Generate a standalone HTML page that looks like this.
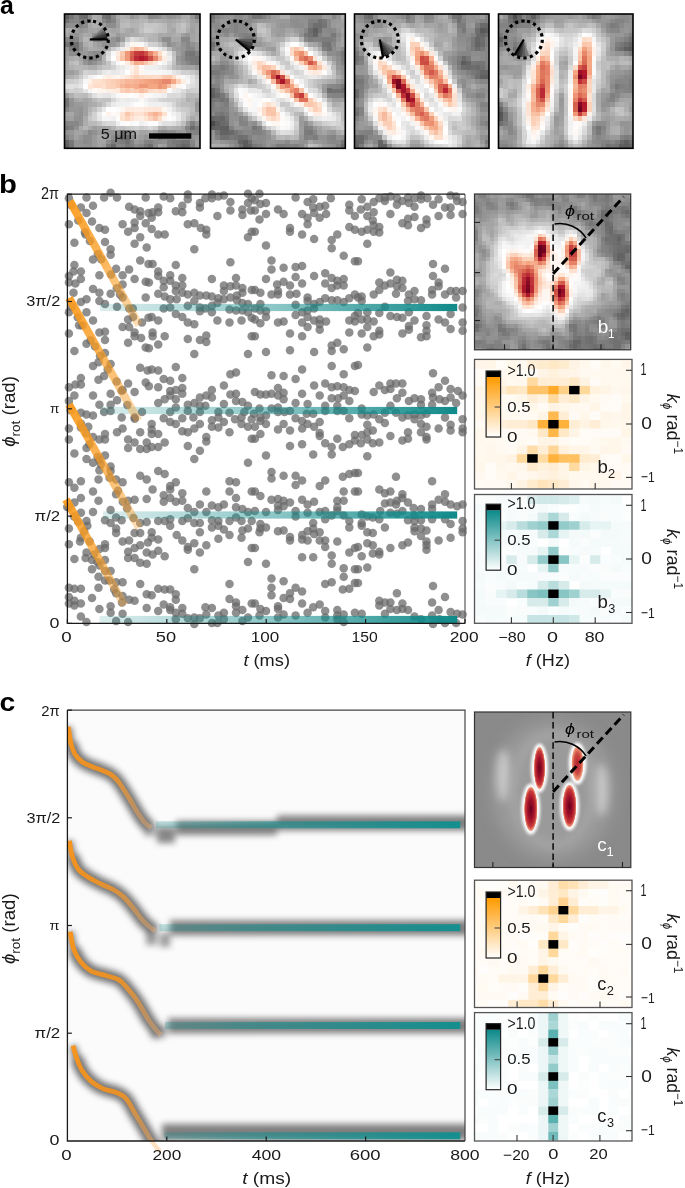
<!DOCTYPE html>
<html><head><meta charset="utf-8"><style>html,body{margin:0;padding:0;background:#fff;}svg{display:block;will-change:transform;font-family:"Liberation Sans", sans-serif;}</style></head><body>
<svg width="685" height="1188" viewBox="0 0 685 1188">
<text x="-0.05" y="13.95" font-size="25.45" textLength="13.83" lengthAdjust="spacingAndGlyphs" fill="#000" font-weight="bold">a</text>
<text x="-0.90" y="193.14" font-size="26.12" textLength="17.90" lengthAdjust="spacingAndGlyphs" fill="#000" font-weight="bold">b</text>
<text x="-0.44" y="710.94" font-size="25.82" textLength="15.83" lengthAdjust="spacingAndGlyphs" fill="#000" font-weight="bold">c</text>
<path fill="#5f5f5f" shape-rendering="crispEdges" d="M64.5 14h4.7v4.7h-4.7zM64.5 144.2h4.7v4.1h-4.7z"/>
<path fill="#757575" shape-rendering="crispEdges" d="M69.2 14h4.7v4.7h-4.7zM101.7 14h4.7v4.7h-4.7zM64.5 41.9h4.7v4.7h-4.7zM190.1 51.2h4.7v4.7h-4.7zM199.4 60.5h0.6v4.7h-0.6zM64.5 97.7h4.7v4.7h-4.7zM64.5 102.4h4.7v4.7h-4.7zM69.2 144.2h4.7v4.1h-4.7z"/>
<path fill="#878787" shape-rendering="crispEdges" d="M73.8 14h4.7v4.7h-4.7zM148.2 14h4.7v4.7h-4.7zM73.8 18.6h4.7v4.7h-4.7zM101.7 18.6h4.7v4.7h-4.7zM64.5 37.2h4.7v4.7h-4.7zM73.8 37.2h4.7v4.7h-4.7zM115.7 37.2h4.7v4.7h-4.7zM180.8 37.2h4.7v4.7h-4.7zM185.4 37.2h4.7v4.7h-4.7zM185.4 41.9h4.7v4.7h-4.7zM185.4 46.6h4.7v4.7h-4.7zM190.1 46.6h4.7v4.7h-4.7zM87.8 60.5h4.7v4.7h-4.7zM185.4 60.5h4.7v4.7h-4.7zM64.5 107h4.7v4.7h-4.7zM69.2 121h4.7v4.7h-4.7zM73.8 121h4.7v4.7h-4.7zM162.2 130.2h4.7v4.7h-4.7zM185.4 130.2h4.7v4.7h-4.7zM162.2 134.9h4.7v4.7h-4.7zM166.8 134.9h4.7v4.7h-4.7zM185.4 134.9h4.7v4.7h-4.7zM190.1 139.6h4.7v4.7h-4.7zM115.7 144.2h4.7v4.1h-4.7zM120.3 144.2h4.7v4.1h-4.7zM138.9 144.2h4.7v4.1h-4.7z"/>
<path fill="#6e6e6e" shape-rendering="crispEdges" d="M78.5 14h4.7v4.7h-4.7zM106.3 14h4.7v4.7h-4.7zM73.8 41.9h4.7v4.7h-4.7zM148.2 144.2h4.7v4.1h-4.7z"/>
<path fill="#6a6a6a" shape-rendering="crispEdges" d="M83.1 14h4.7v4.7h-4.7zM69.2 41.9h4.7v4.7h-4.7zM190.1 125.6h4.7v4.7h-4.7zM120.3 134.9h4.7v4.7h-4.7zM125 134.9h4.7v4.7h-4.7zM111 144.2h4.7v4.1h-4.7zM185.4 144.2h4.7v4.1h-4.7z"/>
<path fill="#8d8d8d" shape-rendering="crispEdges" d="M87.8 14h4.7v4.7h-4.7zM64.5 23.3h4.7v4.7h-4.7zM106.3 23.3h4.7v4.7h-4.7zM111 23.3h4.7v4.7h-4.7zM97.1 32.6h4.7v4.7h-4.7zM92.4 37.2h4.7v4.7h-4.7zM162.2 37.2h4.7v4.7h-4.7zM166.8 37.2h4.7v4.7h-4.7zM78.5 41.9h4.7v4.7h-4.7zM166.8 41.9h4.7v4.7h-4.7zM69.2 51.2h4.7v4.7h-4.7zM73.8 51.2h4.7v4.7h-4.7zM97.1 51.2h4.7v4.7h-4.7zM199.4 51.2h0.6v4.7h-0.6zM83.1 55.9h4.7v4.7h-4.7zM97.1 55.9h4.7v4.7h-4.7zM180.8 55.9h4.7v4.7h-4.7zM115.7 130.2h4.7v4.7h-4.7zM166.8 130.2h4.7v4.7h-4.7zM171.4 130.2h4.7v4.7h-4.7zM83.1 134.9h4.7v4.7h-4.7zM87.8 134.9h4.7v4.7h-4.7zM111 134.9h4.7v4.7h-4.7zM129.6 134.9h4.7v4.7h-4.7zM180.8 134.9h4.7v4.7h-4.7zM87.8 139.6h4.7v4.7h-4.7zM106.3 139.6h4.7v4.7h-4.7zM157.5 139.6h4.7v4.7h-4.7zM134.2 144.2h4.7v4.1h-4.7zM152.9 144.2h4.7v4.1h-4.7z"/>
<path fill="#adadad" shape-rendering="crispEdges" d="M92.4 14h4.7v4.7h-4.7zM185.4 14h4.7v4.7h-4.7zM129.6 18.6h4.7v4.7h-4.7zM157.5 18.6h4.7v4.7h-4.7zM176.1 18.6h4.7v4.7h-4.7zM185.4 18.6h4.7v4.7h-4.7zM97.1 23.3h4.7v4.7h-4.7zM64.5 28h4.7v4.7h-4.7zM166.8 28h4.7v4.7h-4.7zM185.4 28h4.7v4.7h-4.7zM129.6 32.6h4.7v4.7h-4.7zM134.2 32.6h4.7v4.7h-4.7zM171.4 32.6h4.7v4.7h-4.7zM83.1 41.9h4.7v4.7h-4.7zM87.8 46.6h4.7v4.7h-4.7zM101.7 51.2h4.7v4.7h-4.7zM87.8 65.2h4.7v4.7h-4.7zM92.4 65.2h4.7v4.7h-4.7zM78.5 97.7h4.7v4.7h-4.7zM92.4 102.4h4.7v4.7h-4.7zM194.7 111.7h4.7v4.7h-4.7zM83.1 121h4.7v4.7h-4.7zM199.4 121h0.6v4.7h-0.6zM176.1 125.6h4.7v4.7h-4.7zM134.2 130.2h4.7v4.7h-4.7z"/>
<path fill="#a7a7a7" shape-rendering="crispEdges" d="M97.1 14h4.7v4.7h-4.7zM115.7 14h4.7v4.7h-4.7zM97.1 18.6h4.7v4.7h-4.7zM171.4 18.6h4.7v4.7h-4.7zM87.8 23.3h4.7v4.7h-4.7zM194.7 23.3h4.7v4.7h-4.7zM92.4 28h4.7v4.7h-4.7zM115.7 28h4.7v4.7h-4.7zM171.4 28h4.7v4.7h-4.7zM64.5 32.6h4.7v4.7h-4.7zM87.8 32.6h4.7v4.7h-4.7zM125 32.6h4.7v4.7h-4.7zM157.5 32.6h4.7v4.7h-4.7zM166.8 32.6h4.7v4.7h-4.7zM194.7 32.6h4.7v4.7h-4.7zM171.4 37.2h4.7v4.7h-4.7zM176.1 37.2h4.7v4.7h-4.7zM162.2 41.9h4.7v4.7h-4.7zM64.5 60.5h4.7v4.7h-4.7zM64.5 65.2h4.7v4.7h-4.7zM180.8 65.2h4.7v4.7h-4.7zM73.8 69.8h4.7v4.7h-4.7zM199.4 69.8h0.6v4.7h-0.6zM73.8 97.7h4.7v4.7h-4.7zM194.7 97.7h4.7v4.7h-4.7zM69.2 111.7h4.7v4.7h-4.7zM106.3 125.6h4.7v4.7h-4.7zM97.1 134.9h4.7v4.7h-4.7zM199.4 144.2h0.6v4.1h-0.6z"/>
<path fill="#8a8a8a" shape-rendering="crispEdges" d="M111 14h4.7v4.7h-4.7zM152.9 14h4.7v4.7h-4.7zM83.1 23.3h4.7v4.7h-4.7zM78.5 46.6h4.7v4.7h-4.7zM92.4 51.2h4.7v4.7h-4.7zM87.8 130.2h4.7v4.7h-4.7zM157.5 130.2h4.7v4.7h-4.7zM199.4 134.9h0.6v4.7h-0.6zM83.1 139.6h4.7v4.7h-4.7zM152.9 139.6h4.7v4.7h-4.7z"/>
<path fill="#b0b0b0" shape-rendering="crispEdges" d="M120.3 14h4.7v4.7h-4.7zM134.2 18.6h4.7v4.7h-4.7zM152.9 18.6h4.7v4.7h-4.7zM92.4 23.3h4.7v4.7h-4.7zM171.4 23.3h4.7v4.7h-4.7zM199.4 23.3h0.6v4.7h-0.6zM134.2 28h4.7v4.7h-4.7zM199.4 28h0.6v4.7h-0.6zM176.1 32.6h4.7v4.7h-4.7zM87.8 37.2h4.7v4.7h-4.7zM73.8 55.9h4.7v4.7h-4.7zM101.7 60.5h4.7v4.7h-4.7zM69.2 65.2h4.7v4.7h-4.7zM176.1 65.2h4.7v4.7h-4.7zM69.2 74.5h4.7v4.7h-4.7zM69.2 93.1h4.7v4.7h-4.7zM185.4 97.7h4.7v4.7h-4.7zM157.5 125.6h4.7v4.7h-4.7zM171.4 125.6h4.7v4.7h-4.7z"/>
<path fill="#aaaaaa" shape-rendering="crispEdges" d="M125 14h4.7v4.7h-4.7zM138.9 14h4.7v4.7h-4.7zM180.8 14h4.7v4.7h-4.7zM148.2 18.6h4.7v4.7h-4.7zM162.2 18.6h4.7v4.7h-4.7zM166.8 23.3h4.7v4.7h-4.7zM69.2 28h4.7v4.7h-4.7zM101.7 28h4.7v4.7h-4.7zM106.3 28h4.7v4.7h-4.7zM125 28h4.7v4.7h-4.7zM194.7 28h4.7v4.7h-4.7zM83.1 32.6h4.7v4.7h-4.7zM101.7 32.6h4.7v4.7h-4.7zM111 32.6h4.7v4.7h-4.7zM162.2 32.6h4.7v4.7h-4.7zM194.7 37.2h4.7v4.7h-4.7zM92.4 46.6h4.7v4.7h-4.7zM69.2 55.9h4.7v4.7h-4.7zM78.5 60.5h4.7v4.7h-4.7zM64.5 74.5h4.7v4.7h-4.7zM87.8 97.7h4.7v4.7h-4.7zM87.8 102.4h4.7v4.7h-4.7zM83.1 116.3h4.7v4.7h-4.7zM190.1 116.3h4.7v4.7h-4.7zM78.5 125.6h4.7v4.7h-4.7zM87.8 125.6h4.7v4.7h-4.7zM162.2 125.6h4.7v4.7h-4.7zM148.2 130.2h4.7v4.7h-4.7z"/>
<path fill="#949494" shape-rendering="crispEdges" d="M129.6 14h4.7v4.7h-4.7zM171.4 14h4.7v4.7h-4.7zM190.1 14h4.7v4.7h-4.7zM78.5 28h4.7v4.7h-4.7zM73.8 32.6h4.7v4.7h-4.7zM199.4 32.6h0.6v4.7h-0.6zM111 37.2h4.7v4.7h-4.7zM106.3 41.9h4.7v4.7h-4.7zM64.5 46.6h4.7v4.7h-4.7zM180.8 46.6h4.7v4.7h-4.7zM83.1 60.5h4.7v4.7h-4.7zM69.2 97.7h4.7v4.7h-4.7zM199.4 97.7h0.6v4.7h-0.6zM78.5 107h4.7v4.7h-4.7zM78.5 121h4.7v4.7h-4.7zM194.7 121h4.7v4.7h-4.7zM143.6 134.9h4.7v4.7h-4.7zM73.8 139.6h4.7v4.7h-4.7zM138.9 139.6h4.7v4.7h-4.7zM73.8 144.2h4.7v4.1h-4.7zM78.5 144.2h4.7v4.1h-4.7z"/>
<path fill="#9d9d9d" shape-rendering="crispEdges" d="M134.2 14h4.7v4.7h-4.7zM73.8 28h4.7v4.7h-4.7zM120.3 37.2h4.7v4.7h-4.7zM97.1 41.9h4.7v4.7h-4.7zM176.1 60.5h4.7v4.7h-4.7zM64.5 69.8h4.7v4.7h-4.7zM69.2 69.8h4.7v4.7h-4.7zM64.5 116.3h4.7v4.7h-4.7zM92.4 125.6h4.7v4.7h-4.7zM83.1 130.2h4.7v4.7h-4.7zM97.1 130.2h4.7v4.7h-4.7zM129.6 130.2h4.7v4.7h-4.7zM106.3 134.9h4.7v4.7h-4.7zM138.9 134.9h4.7v4.7h-4.7zM194.7 139.6h4.7v4.7h-4.7zM101.7 144.2h4.7v4.1h-4.7zM162.2 144.2h4.7v4.1h-4.7zM194.7 144.2h4.7v4.1h-4.7z"/>
<path fill="#a4a4a4" shape-rendering="crispEdges" d="M143.6 14h4.7v4.7h-4.7zM166.8 18.6h4.7v4.7h-4.7zM190.1 23.3h4.7v4.7h-4.7zM87.8 28h4.7v4.7h-4.7zM111 28h4.7v4.7h-4.7zM129.6 28h4.7v4.7h-4.7zM120.3 32.6h4.7v4.7h-4.7zM190.1 32.6h4.7v4.7h-4.7zM157.5 37.2h4.7v4.7h-4.7zM190.1 37.2h4.7v4.7h-4.7zM92.4 41.9h4.7v4.7h-4.7zM115.7 41.9h4.7v4.7h-4.7zM97.1 46.6h4.7v4.7h-4.7zM199.4 46.6h0.6v4.7h-0.6zM78.5 55.9h4.7v4.7h-4.7zM185.4 65.2h4.7v4.7h-4.7zM190.1 65.2h4.7v4.7h-4.7zM83.1 97.7h4.7v4.7h-4.7zM64.5 111.7h4.7v4.7h-4.7zM199.4 111.7h0.6v4.7h-0.6zM97.1 125.6h4.7v4.7h-4.7zM180.8 125.6h4.7v4.7h-4.7zM73.8 130.2h4.7v4.7h-4.7zM78.5 130.2h4.7v4.7h-4.7zM138.9 130.2h4.7v4.7h-4.7zM143.6 130.2h4.7v4.7h-4.7zM101.7 134.9h4.7v4.7h-4.7zM134.2 134.9h4.7v4.7h-4.7zM97.1 139.6h4.7v4.7h-4.7zM101.7 139.6h4.7v4.7h-4.7zM199.4 139.6h0.6v4.7h-0.6zM97.1 144.2h4.7v4.1h-4.7zM157.5 144.2h4.7v4.1h-4.7z"/>
<path fill="#919191" shape-rendering="crispEdges" d="M157.5 14h4.7v4.7h-4.7zM166.8 14h4.7v4.7h-4.7zM69.2 23.3h4.7v4.7h-4.7zM73.8 23.3h4.7v4.7h-4.7zM92.4 32.6h4.7v4.7h-4.7zM199.4 37.2h0.6v4.7h-0.6zM101.7 41.9h4.7v4.7h-4.7zM180.8 41.9h4.7v4.7h-4.7zM190.1 41.9h4.7v4.7h-4.7zM87.8 51.2h4.7v4.7h-4.7zM180.8 51.2h4.7v4.7h-4.7zM92.4 60.5h4.7v4.7h-4.7zM180.8 60.5h4.7v4.7h-4.7zM199.4 65.2h0.6v4.7h-0.6zM69.2 102.4h4.7v4.7h-4.7zM78.5 111.7h4.7v4.7h-4.7zM73.8 116.3h4.7v4.7h-4.7zM78.5 116.3h4.7v4.7h-4.7zM73.8 125.6h4.7v4.7h-4.7zM199.4 125.6h0.6v4.7h-0.6zM64.5 130.2h4.7v4.7h-4.7zM92.4 130.2h4.7v4.7h-4.7zM69.2 134.9h4.7v4.7h-4.7zM152.9 134.9h4.7v4.7h-4.7zM176.1 134.9h4.7v4.7h-4.7zM190.1 134.9h4.7v4.7h-4.7zM78.5 139.6h4.7v4.7h-4.7zM162.2 139.6h4.7v4.7h-4.7zM83.1 144.2h4.7v4.1h-4.7zM87.8 144.2h4.7v4.1h-4.7z"/>
<path fill="#9a9a9a" shape-rendering="crispEdges" d="M162.2 14h4.7v4.7h-4.7zM176.1 14h4.7v4.7h-4.7zM87.8 18.6h4.7v4.7h-4.7zM101.7 23.3h4.7v4.7h-4.7zM83.1 28h4.7v4.7h-4.7zM69.2 32.6h4.7v4.7h-4.7zM115.7 32.6h4.7v4.7h-4.7zM194.7 41.9h4.7v4.7h-4.7zM176.1 46.6h4.7v4.7h-4.7zM64.5 51.2h4.7v4.7h-4.7zM83.1 51.2h4.7v4.7h-4.7zM194.7 65.2h4.7v4.7h-4.7zM64.5 93.1h4.7v4.7h-4.7zM73.8 102.4h4.7v4.7h-4.7zM78.5 102.4h4.7v4.7h-4.7zM194.7 107h4.7v4.7h-4.7zM185.4 121h4.7v4.7h-4.7zM180.8 130.2h4.7v4.7h-4.7zM92.4 134.9h4.7v4.7h-4.7zM148.2 134.9h4.7v4.7h-4.7zM92.4 139.6h4.7v4.7h-4.7zM134.2 139.6h4.7v4.7h-4.7zM92.4 144.2h4.7v4.1h-4.7z"/>
<path fill="#787878" shape-rendering="crispEdges" d="M194.7 14h4.7v4.7h-4.7zM199.4 14h0.6v4.7h-0.6zM106.3 18.6h4.7v4.7h-4.7zM185.4 51.2h4.7v4.7h-4.7zM190.1 55.9h4.7v4.7h-4.7zM194.7 55.9h4.7v4.7h-4.7zM194.7 60.5h4.7v4.7h-4.7zM64.5 125.6h4.7v4.7h-4.7zM199.4 130.2h0.6v4.7h-0.6zM69.2 139.6h4.7v4.7h-4.7zM171.4 139.6h4.7v4.7h-4.7zM176.1 139.6h4.7v4.7h-4.7zM125 144.2h4.7v4.1h-4.7zM143.6 144.2h4.7v4.1h-4.7z"/>
<path fill="#717171" shape-rendering="crispEdges" d="M64.5 18.6h4.7v4.7h-4.7zM73.8 46.6h4.7v4.7h-4.7zM199.4 102.4h0.6v4.7h-0.6zM120.3 130.2h4.7v4.7h-4.7zM125 139.6h4.7v4.7h-4.7zM180.8 139.6h4.7v4.7h-4.7zM185.4 139.6h4.7v4.7h-4.7zM176.1 144.2h4.7v4.1h-4.7z"/>
<path fill="#838383" shape-rendering="crispEdges" d="M69.2 18.6h4.7v4.7h-4.7zM111 18.6h4.7v4.7h-4.7zM78.5 23.3h4.7v4.7h-4.7zM97.1 37.2h4.7v4.7h-4.7zM194.7 51.2h4.7v4.7h-4.7zM64.5 121h4.7v4.7h-4.7zM185.4 125.6h4.7v4.7h-4.7zM190.1 130.2h4.7v4.7h-4.7zM64.5 134.9h4.7v4.7h-4.7zM171.4 134.9h4.7v4.7h-4.7zM129.6 139.6h4.7v4.7h-4.7zM143.6 139.6h4.7v4.7h-4.7zM190.1 144.2h4.7v4.1h-4.7z"/>
<path fill="#7c7c7c" shape-rendering="crispEdges" d="M78.5 18.6h4.7v4.7h-4.7zM83.1 18.6h4.7v4.7h-4.7zM69.2 46.6h4.7v4.7h-4.7zM87.8 55.9h4.7v4.7h-4.7zM185.4 55.9h4.7v4.7h-4.7zM199.4 55.9h0.6v4.7h-0.6zM190.1 60.5h4.7v4.7h-4.7zM199.4 107h0.6v4.7h-0.6zM194.7 125.6h4.7v4.7h-4.7zM111 139.6h4.7v4.7h-4.7zM120.3 139.6h4.7v4.7h-4.7zM106.3 144.2h4.7v4.1h-4.7zM171.4 144.2h4.7v4.1h-4.7z"/>
<path fill="#b4b4b4" shape-rendering="crispEdges" d="M92.4 18.6h4.7v4.7h-4.7zM120.3 18.6h4.7v4.7h-4.7zM138.9 18.6h4.7v4.7h-4.7zM180.8 18.6h4.7v4.7h-4.7zM129.6 23.3h4.7v4.7h-4.7zM134.2 23.3h4.7v4.7h-4.7zM185.4 23.3h4.7v4.7h-4.7zM120.3 28h4.7v4.7h-4.7zM106.3 32.6h4.7v4.7h-4.7zM138.9 32.6h4.7v4.7h-4.7zM152.9 32.6h4.7v4.7h-4.7zM148.2 37.2h4.7v4.7h-4.7zM152.9 37.2h4.7v4.7h-4.7zM87.8 41.9h4.7v4.7h-4.7zM106.3 46.6h4.7v4.7h-4.7zM101.7 55.9h4.7v4.7h-4.7zM83.1 65.2h4.7v4.7h-4.7zM199.4 93.1h0.6v4.7h-0.6zM190.1 97.7h4.7v4.7h-4.7zM87.8 107h4.7v4.7h-4.7zM194.7 116.3h4.7v4.7h-4.7zM111 125.6h4.7v4.7h-4.7zM166.8 125.6h4.7v4.7h-4.7z"/>
<path fill="#a0a0a0" shape-rendering="crispEdges" d="M115.7 18.6h4.7v4.7h-4.7zM190.1 18.6h4.7v4.7h-4.7zM115.7 23.3h4.7v4.7h-4.7zM97.1 28h4.7v4.7h-4.7zM190.1 28h4.7v4.7h-4.7zM78.5 32.6h4.7v4.7h-4.7zM180.8 32.6h4.7v4.7h-4.7zM78.5 37.2h4.7v4.7h-4.7zM106.3 37.2h4.7v4.7h-4.7zM176.1 41.9h4.7v4.7h-4.7zM83.1 46.6h4.7v4.7h-4.7zM101.7 46.6h4.7v4.7h-4.7zM171.4 46.6h4.7v4.7h-4.7zM176.1 51.2h4.7v4.7h-4.7zM64.5 55.9h4.7v4.7h-4.7zM97.1 60.5h4.7v4.7h-4.7zM83.1 102.4h4.7v4.7h-4.7zM83.1 107h4.7v4.7h-4.7zM83.1 111.7h4.7v4.7h-4.7zM69.2 116.3h4.7v4.7h-4.7zM101.7 125.6h4.7v4.7h-4.7zM152.9 130.2h4.7v4.7h-4.7zM73.8 134.9h4.7v4.7h-4.7z"/>
<path fill="#b7b7b7" shape-rendering="crispEdges" d="M125 18.6h4.7v4.7h-4.7zM143.6 18.6h4.7v4.7h-4.7zM148.2 32.6h4.7v4.7h-4.7zM83.1 37.2h4.7v4.7h-4.7zM73.8 65.2h4.7v4.7h-4.7zM78.5 65.2h4.7v4.7h-4.7zM97.1 102.4h4.7v4.7h-4.7zM190.1 102.4h4.7v4.7h-4.7zM190.1 111.7h4.7v4.7h-4.7zM83.1 125.6h4.7v4.7h-4.7z"/>
<path fill="#979797" shape-rendering="crispEdges" d="M194.7 18.6h4.7v4.7h-4.7zM199.4 18.6h0.6v4.7h-0.6zM185.4 32.6h4.7v4.7h-4.7zM101.7 37.2h4.7v4.7h-4.7zM111 41.9h4.7v4.7h-4.7zM171.4 41.9h4.7v4.7h-4.7zM199.4 41.9h0.6v4.7h-0.6zM194.7 46.6h4.7v4.7h-4.7zM78.5 51.2h4.7v4.7h-4.7zM176.1 55.9h4.7v4.7h-4.7zM194.7 102.4h4.7v4.7h-4.7zM69.2 107h4.7v4.7h-4.7zM73.8 107h4.7v4.7h-4.7zM73.8 111.7h4.7v4.7h-4.7zM69.2 130.2h4.7v4.7h-4.7zM101.7 130.2h4.7v4.7h-4.7zM106.3 130.2h4.7v4.7h-4.7zM111 130.2h4.7v4.7h-4.7zM176.1 130.2h4.7v4.7h-4.7zM78.5 134.9h4.7v4.7h-4.7zM194.7 134.9h4.7v4.7h-4.7z"/>
<path fill="#bababa" shape-rendering="crispEdges" d="M120.3 23.3h4.7v4.7h-4.7zM162.2 23.3h4.7v4.7h-4.7zM176.1 23.3h4.7v4.7h-4.7zM176.1 28h4.7v4.7h-4.7zM143.6 32.6h4.7v4.7h-4.7zM69.2 60.5h4.7v4.7h-4.7zM97.1 65.2h4.7v4.7h-4.7zM171.4 65.2h4.7v4.7h-4.7zM73.8 74.5h4.7v4.7h-4.7zM83.1 93.1h4.7v4.7h-4.7zM185.4 93.1h4.7v4.7h-4.7zM190.1 93.1h4.7v4.7h-4.7zM92.4 97.7h4.7v4.7h-4.7zM87.8 121h4.7v4.7h-4.7zM92.4 121h4.7v4.7h-4.7z"/>
<path fill="#bcbcbc" shape-rendering="crispEdges" d="M125 23.3h4.7v4.7h-4.7zM138.9 23.3h4.7v4.7h-4.7zM162.2 28h4.7v4.7h-4.7zM166.8 46.6h4.7v4.7h-4.7zM78.5 69.8h4.7v4.7h-4.7zM194.7 69.8h4.7v4.7h-4.7zM78.5 93.1h4.7v4.7h-4.7zM194.7 93.1h4.7v4.7h-4.7zM180.8 102.4h4.7v4.7h-4.7zM185.4 102.4h4.7v4.7h-4.7zM190.1 107h4.7v4.7h-4.7zM87.8 111.7h4.7v4.7h-4.7zM185.4 116.3h4.7v4.7h-4.7zM199.4 116.3h0.6v4.7h-0.6z"/>
<path fill="#c8c8c8" shape-rendering="crispEdges" d="M143.6 23.3h4.7v4.7h-4.7zM125 37.2h4.7v4.7h-4.7zM190.1 69.8h4.7v4.7h-4.7zM64.5 88.4h4.7v4.7h-4.7zM176.1 97.7h4.7v4.7h-4.7zM185.4 107h4.7v4.7h-4.7zM185.4 111.7h4.7v4.7h-4.7zM125 125.6h4.7v4.7h-4.7z"/>
<path fill="#c6c6c6" shape-rendering="crispEdges" d="M148.2 23.3h4.7v4.7h-4.7zM152.9 23.3h4.7v4.7h-4.7zM171.4 55.9h4.7v4.7h-4.7zM106.3 65.2h4.7v4.7h-4.7zM87.8 116.3h4.7v4.7h-4.7z"/>
<path fill="#c1c1c1" shape-rendering="crispEdges" d="M157.5 23.3h4.7v4.7h-4.7zM138.9 28h4.7v4.7h-4.7zM157.5 41.9h4.7v4.7h-4.7zM171.4 51.2h4.7v4.7h-4.7zM73.8 60.5h4.7v4.7h-4.7zM171.4 60.5h4.7v4.7h-4.7zM199.4 74.5h0.6v4.7h-0.6zM101.7 97.7h4.7v4.7h-4.7zM106.3 97.7h4.7v4.7h-4.7zM180.8 97.7h4.7v4.7h-4.7zM92.4 107h4.7v4.7h-4.7zM120.3 125.6h4.7v4.7h-4.7z"/>
<path fill="#c4c4c4" shape-rendering="crispEdges" d="M180.8 23.3h4.7v4.7h-4.7zM152.9 28h4.7v4.7h-4.7zM120.3 41.9h4.7v4.7h-4.7zM106.3 60.5h4.7v4.7h-4.7zM101.7 65.2h4.7v4.7h-4.7zM199.4 88.4h0.6v4.7h-0.6zM97.1 97.7h4.7v4.7h-4.7zM101.7 102.4h4.7v4.7h-4.7zM176.1 102.4h4.7v4.7h-4.7zM97.1 121h4.7v4.7h-4.7zM115.7 125.6h4.7v4.7h-4.7z"/>
<path fill="#cdcdcd" shape-rendering="crispEdges" d="M143.6 28h4.7v4.7h-4.7zM111 46.6h4.7v4.7h-4.7zM92.4 69.8h4.7v4.7h-4.7zM194.7 74.5h4.7v4.7h-4.7zM69.2 79.1h4.7v4.7h-4.7zM199.4 83.8h0.6v4.7h-0.6zM129.6 125.6h4.7v4.7h-4.7z"/>
<path fill="#cbcbcb" shape-rendering="crispEdges" d="M148.2 28h4.7v4.7h-4.7zM138.9 37.2h4.7v4.7h-4.7zM78.5 74.5h4.7v4.7h-4.7zM64.5 79.1h4.7v4.7h-4.7zM199.4 79.1h0.6v4.7h-0.6zM185.4 88.4h4.7v4.7h-4.7zM87.8 93.1h4.7v4.7h-4.7zM180.8 107h4.7v4.7h-4.7zM138.9 125.6h4.7v4.7h-4.7z"/>
<path fill="#bfbfbf" shape-rendering="crispEdges" d="M157.5 28h4.7v4.7h-4.7zM180.8 28h4.7v4.7h-4.7zM143.6 37.2h4.7v4.7h-4.7zM73.8 93.1h4.7v4.7h-4.7zM180.8 121h4.7v4.7h-4.7z"/>
<path fill="#808080" shape-rendering="crispEdges" d="M69.2 37.2h4.7v4.7h-4.7zM92.4 55.9h4.7v4.7h-4.7zM190.1 121h4.7v4.7h-4.7zM69.2 125.6h4.7v4.7h-4.7zM125 130.2h4.7v4.7h-4.7zM194.7 130.2h4.7v4.7h-4.7zM115.7 134.9h4.7v4.7h-4.7zM157.5 134.9h4.7v4.7h-4.7zM115.7 139.6h4.7v4.7h-4.7zM148.2 139.6h4.7v4.7h-4.7zM166.8 139.6h4.7v4.7h-4.7zM129.6 144.2h4.7v4.1h-4.7zM166.8 144.2h4.7v4.1h-4.7z"/>
<path fill="#dedede" shape-rendering="crispEdges" d="M129.6 37.2h4.7v4.7h-4.7zM115.7 46.6h4.7v4.7h-4.7zM176.1 69.8h4.7v4.7h-4.7zM78.5 79.1h4.7v4.7h-4.7zM64.5 83.8h4.7v4.7h-4.7zM73.8 83.8h4.7v4.7h-4.7zM190.1 83.8h4.7v4.7h-4.7zM171.4 121h4.7v4.7h-4.7z"/>
<path fill="#d6d6d6" shape-rendering="crispEdges" d="M134.2 37.2h4.7v4.7h-4.7zM194.7 79.1h4.7v4.7h-4.7zM194.7 83.8h4.7v4.7h-4.7zM111 97.7h4.7v4.7h-4.7zM157.5 97.7h4.7v4.7h-4.7zM171.4 102.4h4.7v4.7h-4.7zM180.8 111.7h4.7v4.7h-4.7z"/>
<path fill="#ececec" shape-rendering="crispEdges" d="M125 41.9h4.7v4.7h-4.7zM171.4 88.4h4.7v4.7h-4.7zM129.6 97.7h4.7v4.7h-4.7zM162.2 102.4h4.7v4.7h-4.7zM157.5 121h4.7v4.7h-4.7z"/>
<path fill="#fef6f1" shape-rendering="crispEdges" d="M129.6 41.9h4.7v4.7h-4.7zM134.2 41.9h4.7v4.7h-4.7zM162.2 51.2h4.7v4.7h-4.7zM138.9 69.8h4.7v4.7h-4.7zM115.7 74.5h4.7v4.7h-4.7zM176.1 83.8h4.7v4.7h-4.7zM120.3 107h4.7v4.7h-4.7zM162.2 107h4.7v4.7h-4.7zM115.7 111.7h4.7v4.7h-4.7zM162.2 116.3h4.7v4.7h-4.7z"/>
<path fill="#f9f9f9" shape-rendering="crispEdges" d="M138.9 41.9h4.7v4.7h-4.7zM115.7 60.5h4.7v4.7h-4.7zM180.8 74.5h4.7v4.7h-4.7zM115.7 93.1h4.7v4.7h-4.7zM148.2 93.1h4.7v4.7h-4.7zM138.9 97.7h4.7v4.7h-4.7zM171.4 116.3h4.7v4.7h-4.7zM129.6 121h4.7v4.7h-4.7z"/>
<path fill="#e8e8e8" shape-rendering="crispEdges" d="M143.6 41.9h4.7v4.7h-4.7zM157.5 65.2h4.7v4.7h-4.7zM101.7 69.8h4.7v4.7h-4.7zM111 69.8h4.7v4.7h-4.7zM176.1 88.4h4.7v4.7h-4.7zM176.1 111.7h4.7v4.7h-4.7z"/>
<path fill="#d2d2d2" shape-rendering="crispEdges" d="M148.2 41.9h4.7v4.7h-4.7zM111 65.2h4.7v4.7h-4.7zM166.8 65.2h4.7v4.7h-4.7zM83.1 69.8h4.7v4.7h-4.7zM73.8 79.1h4.7v4.7h-4.7zM69.2 88.4h4.7v4.7h-4.7zM162.2 97.7h4.7v4.7h-4.7zM176.1 107h4.7v4.7h-4.7zM92.4 111.7h4.7v4.7h-4.7zM92.4 116.3h4.7v4.7h-4.7zM176.1 121h4.7v4.7h-4.7zM134.2 125.6h4.7v4.7h-4.7z"/>
<path fill="#cfcfcf" shape-rendering="crispEdges" d="M152.9 41.9h4.7v4.7h-4.7zM87.8 69.8h4.7v4.7h-4.7zM180.8 69.8h4.7v4.7h-4.7zM185.4 69.8h4.7v4.7h-4.7zM73.8 88.4h4.7v4.7h-4.7zM190.1 88.4h4.7v4.7h-4.7zM194.7 88.4h4.7v4.7h-4.7zM180.8 93.1h4.7v4.7h-4.7zM166.8 97.7h4.7v4.7h-4.7zM171.4 97.7h4.7v4.7h-4.7zM143.6 125.6h4.7v4.7h-4.7zM152.9 125.6h4.7v4.7h-4.7z"/>
<path fill="#eeeeee" shape-rendering="crispEdges" d="M120.3 46.6h4.7v4.7h-4.7zM152.9 65.2h4.7v4.7h-4.7zM106.3 69.8h4.7v4.7h-4.7zM111 93.1h4.7v4.7h-4.7zM162.2 93.1h4.7v4.7h-4.7zM120.3 97.7h4.7v4.7h-4.7zM134.2 97.7h4.7v4.7h-4.7z"/>
<path fill="#feefe6" shape-rendering="crispEdges" d="M125 46.6h4.7v4.7h-4.7zM129.6 69.8h4.7v4.7h-4.7zM120.3 74.5h4.7v4.7h-4.7zM106.3 88.4h4.7v4.7h-4.7zM138.9 93.1h4.7v4.7h-4.7zM138.9 116.3h4.7v4.7h-4.7z"/>
<path fill="#fbceb6" shape-rendering="crispEdges" d="M129.6 46.6h4.7v4.7h-4.7zM129.6 60.5h4.7v4.7h-4.7zM111 79.1h4.7v4.7h-4.7z"/>
<path fill="#f7b698" shape-rendering="crispEdges" d="M134.2 46.6h4.7v4.7h-4.7zM125 79.1h4.7v4.7h-4.7zM120.3 83.8h4.7v4.7h-4.7z"/>
<path fill="#f8c0a4" shape-rendering="crispEdges" d="M138.9 46.6h4.7v4.7h-4.7zM120.3 79.1h4.7v4.7h-4.7zM166.8 83.8h4.7v4.7h-4.7zM148.2 111.7h4.7v4.7h-4.7zM157.5 111.7h4.7v4.7h-4.7z"/>
<path fill="#fdddca" shape-rendering="crispEdges" d="M143.6 46.6h4.7v4.7h-4.7zM152.9 74.5h4.7v4.7h-4.7zM171.4 74.5h4.7v4.7h-4.7zM92.4 83.8h4.7v4.7h-4.7zM148.2 88.4h4.7v4.7h-4.7zM157.5 116.3h4.7v4.7h-4.7z"/>
<path fill="#fff8f4" shape-rendering="crispEdges" d="M148.2 46.6h4.7v4.7h-4.7zM143.6 93.1h4.7v4.7h-4.7z"/>
<path fill="#f5f5f5" shape-rendering="crispEdges" d="M152.9 46.6h4.7v4.7h-4.7zM162.2 69.8h4.7v4.7h-4.7zM87.8 88.4h4.7v4.7h-4.7zM101.7 116.3h4.7v4.7h-4.7zM106.3 116.3h4.7v4.7h-4.7zM143.6 121h4.7v4.7h-4.7z"/>
<path fill="#eaeaea" shape-rendering="crispEdges" d="M157.5 46.6h4.7v4.7h-4.7zM120.3 65.2h4.7v4.7h-4.7zM115.7 69.8h4.7v4.7h-4.7zM97.1 93.1h4.7v4.7h-4.7zM125 97.7h4.7v4.7h-4.7zM111 102.4h4.7v4.7h-4.7zM101.7 107h4.7v4.7h-4.7zM97.1 111.7h4.7v4.7h-4.7zM176.1 116.3h4.7v4.7h-4.7z"/>
<path fill="#dbdbdb" shape-rendering="crispEdges" d="M162.2 46.6h4.7v4.7h-4.7zM180.8 88.4h4.7v4.7h-4.7zM166.8 93.1h4.7v4.7h-4.7zM176.1 93.1h4.7v4.7h-4.7z"/>
<path fill="#d9d9d9" shape-rendering="crispEdges" d="M106.3 51.2h4.7v4.7h-4.7zM97.1 69.8h4.7v4.7h-4.7zM171.4 93.1h4.7v4.7h-4.7zM106.3 102.4h4.7v4.7h-4.7zM106.3 121h4.7v4.7h-4.7zM111 121h4.7v4.7h-4.7zM148.2 125.6h4.7v4.7h-4.7z"/>
<path fill="#f7f7f7" shape-rendering="crispEdges" d="M111 51.2h4.7v4.7h-4.7zM143.6 69.8h4.7v4.7h-4.7zM148.2 69.8h4.7v4.7h-4.7zM152.9 69.8h4.7v4.7h-4.7zM157.5 69.8h4.7v4.7h-4.7zM92.4 74.5h4.7v4.7h-4.7zM83.1 79.1h4.7v4.7h-4.7zM185.4 79.1h4.7v4.7h-4.7zM129.6 102.4h4.7v4.7h-4.7zM143.6 102.4h4.7v4.7h-4.7z"/>
<path fill="#feebe0" shape-rendering="crispEdges" d="M115.7 51.2h4.7v4.7h-4.7zM152.9 60.5h4.7v4.7h-4.7zM125 107h4.7v4.7h-4.7zM129.6 107h4.7v4.7h-4.7zM134.2 116.3h4.7v4.7h-4.7z"/>
<path fill="#facab1" shape-rendering="crispEdges" d="M120.3 51.2h4.7v4.7h-4.7zM162.2 74.5h4.7v4.7h-4.7zM134.2 88.4h4.7v4.7h-4.7z"/>
<path fill="#ee9878" shape-rendering="crispEdges" d="M125 51.2h4.7v4.7h-4.7zM125 55.9h4.7v4.7h-4.7zM138.9 83.8h4.7v4.7h-4.7zM143.6 83.8h4.7v4.7h-4.7z"/>
<path fill="#d86450" shape-rendering="crispEdges" d="M129.6 51.2h4.7v4.7h-4.7z"/>
<path fill="#c43c3c" shape-rendering="crispEdges" d="M134.2 51.2h4.7v4.7h-4.7z"/>
<path fill="#c03338" shape-rendering="crispEdges" d="M138.9 51.2h4.7v4.7h-4.7z"/>
<path fill="#cd4e44" shape-rendering="crispEdges" d="M143.6 51.2h4.7v4.7h-4.7zM148.2 55.9h4.7v4.7h-4.7z"/>
<path fill="#e58268" shape-rendering="crispEdges" d="M148.2 51.2h4.7v4.7h-4.7z"/>
<path fill="#f6af8f" shape-rendering="crispEdges" d="M152.9 51.2h4.7v4.7h-4.7zM138.9 60.5h4.7v4.7h-4.7zM129.6 83.8h4.7v4.7h-4.7z"/>
<path fill="#fddbc7" shape-rendering="crispEdges" d="M157.5 51.2h4.7v4.7h-4.7zM148.2 60.5h4.7v4.7h-4.7zM129.6 74.5h4.7v4.7h-4.7zM143.6 74.5h4.7v4.7h-4.7zM148.2 74.5h4.7v4.7h-4.7zM157.5 74.5h4.7v4.7h-4.7zM101.7 79.1h4.7v4.7h-4.7zM97.1 83.8h4.7v4.7h-4.7zM157.5 88.4h4.7v4.7h-4.7z"/>
<path fill="#e6e6e6" shape-rendering="crispEdges" d="M166.8 51.2h4.7v4.7h-4.7zM171.4 69.8h4.7v4.7h-4.7zM78.5 83.8h4.7v4.7h-4.7zM101.7 93.1h4.7v4.7h-4.7zM115.7 97.7h4.7v4.7h-4.7zM148.2 97.7h4.7v4.7h-4.7zM166.8 102.4h4.7v4.7h-4.7zM97.1 116.3h4.7v4.7h-4.7z"/>
<path fill="#e0e0e0" shape-rendering="crispEdges" d="M106.3 55.9h4.7v4.7h-4.7zM166.8 60.5h4.7v4.7h-4.7zM162.2 65.2h4.7v4.7h-4.7zM83.1 74.5h4.7v4.7h-4.7zM190.1 74.5h4.7v4.7h-4.7zM69.2 83.8h4.7v4.7h-4.7zM92.4 93.1h4.7v4.7h-4.7zM162.2 121h4.7v4.7h-4.7z"/>
<path fill="#ffffff" shape-rendering="crispEdges" d="M111 55.9h4.7v4.7h-4.7zM125 69.8h4.7v4.7h-4.7zM97.1 74.5h4.7v4.7h-4.7zM106.3 107h4.7v4.7h-4.7zM111 107h4.7v4.7h-4.7zM152.9 121h4.7v4.7h-4.7z"/>
<path fill="#fee4d5" shape-rendering="crispEdges" d="M115.7 55.9h4.7v4.7h-4.7zM134.2 65.2h4.7v4.7h-4.7zM171.4 83.8h4.7v4.7h-4.7zM152.9 107h4.7v4.7h-4.7zM120.3 111.7h4.7v4.7h-4.7zM143.6 116.3h4.7v4.7h-4.7z"/>
<path fill="#f9c3a9" shape-rendering="crispEdges" d="M120.3 55.9h4.7v4.7h-4.7zM157.5 55.9h4.7v4.7h-4.7zM152.9 116.3h4.7v4.7h-4.7z"/>
<path fill="#d45b4b" shape-rendering="crispEdges" d="M129.6 55.9h4.7v4.7h-4.7z"/>
<path fill="#bb2a34" shape-rendering="crispEdges" d="M134.2 55.9h4.7v4.7h-4.7z"/>
<path fill="#b2182b" shape-rendering="crispEdges" d="M138.9 55.9h4.7v4.7h-4.7z"/>
<path fill="#b92631" shape-rendering="crispEdges" d="M143.6 55.9h4.7v4.7h-4.7z"/>
<path fill="#e7876b" shape-rendering="crispEdges" d="M152.9 55.9h4.7v4.7h-4.7zM162.2 79.1h4.7v4.7h-4.7zM166.8 79.1h4.7v4.7h-4.7z"/>
<path fill="#feede3" shape-rendering="crispEdges" d="M162.2 55.9h4.7v4.7h-4.7zM125 60.5h4.7v4.7h-4.7zM106.3 74.5h4.7v4.7h-4.7zM180.8 79.1h4.7v4.7h-4.7zM111 88.4h4.7v4.7h-4.7zM134.2 107h4.7v4.7h-4.7zM138.9 107h4.7v4.7h-4.7z"/>
<path fill="#f0f0f0" shape-rendering="crispEdges" d="M166.8 55.9h4.7v4.7h-4.7zM148.2 65.2h4.7v4.7h-4.7zM120.3 69.8h4.7v4.7h-4.7zM87.8 74.5h4.7v4.7h-4.7zM185.4 74.5h4.7v4.7h-4.7zM115.7 102.4h4.7v4.7h-4.7zM148.2 102.4h4.7v4.7h-4.7zM152.9 102.4h4.7v4.7h-4.7zM157.5 102.4h4.7v4.7h-4.7zM115.7 121h4.7v4.7h-4.7zM138.9 121h4.7v4.7h-4.7z"/>
<path fill="#e2e2e2" shape-rendering="crispEdges" d="M111 60.5h4.7v4.7h-4.7zM152.9 97.7h4.7v4.7h-4.7zM171.4 107h4.7v4.7h-4.7zM166.8 121h4.7v4.7h-4.7z"/>
<path fill="#fffdfc" shape-rendering="crispEdges" d="M120.3 60.5h4.7v4.7h-4.7zM157.5 60.5h4.7v4.7h-4.7zM138.9 102.4h4.7v4.7h-4.7zM101.7 111.7h4.7v4.7h-4.7zM166.8 111.7h4.7v4.7h-4.7zM115.7 116.3h4.7v4.7h-4.7zM125 121h4.7v4.7h-4.7z"/>
<path fill="#f5ac8b" shape-rendering="crispEdges" d="M134.2 60.5h4.7v4.7h-4.7zM138.9 79.1h4.7v4.7h-4.7zM125 83.8h4.7v4.7h-4.7zM134.2 83.8h4.7v4.7h-4.7z"/>
<path fill="#fac7ad" shape-rendering="crispEdges" d="M143.6 60.5h4.7v4.7h-4.7zM166.8 74.5h4.7v4.7h-4.7zM115.7 79.1h4.7v4.7h-4.7zM115.7 83.8h4.7v4.7h-4.7zM125 88.4h4.7v4.7h-4.7zM143.6 88.4h4.7v4.7h-4.7zM125 111.7h4.7v4.7h-4.7z"/>
<path fill="#f3f3f3" shape-rendering="crispEdges" d="M162.2 60.5h4.7v4.7h-4.7zM125 65.2h4.7v4.7h-4.7zM166.8 69.8h4.7v4.7h-4.7zM152.9 93.1h4.7v4.7h-4.7zM157.5 93.1h4.7v4.7h-4.7zM166.8 107h4.7v4.7h-4.7z"/>
<path fill="#e4e4e4" shape-rendering="crispEdges" d="M115.7 65.2h4.7v4.7h-4.7zM190.1 79.1h4.7v4.7h-4.7zM185.4 83.8h4.7v4.7h-4.7zM83.1 88.4h4.7v4.7h-4.7zM106.3 93.1h4.7v4.7h-4.7z"/>
<path fill="#fef2ea" shape-rendering="crispEdges" d="M129.6 65.2h4.7v4.7h-4.7zM111 74.5h4.7v4.7h-4.7zM176.1 74.5h4.7v4.7h-4.7zM87.8 79.1h4.7v4.7h-4.7zM106.3 111.7h4.7v4.7h-4.7z"/>
<path fill="#fffaf8" shape-rendering="crispEdges" d="M138.9 65.2h4.7v4.7h-4.7zM92.4 88.4h4.7v4.7h-4.7zM120.3 93.1h4.7v4.7h-4.7zM125 93.1h4.7v4.7h-4.7zM134.2 93.1h4.7v4.7h-4.7zM111 111.7h4.7v4.7h-4.7z"/>
<path fill="#f1f1f1" shape-rendering="crispEdges" d="M143.6 65.2h4.7v4.7h-4.7zM143.6 97.7h4.7v4.7h-4.7zM120.3 102.4h4.7v4.7h-4.7zM125 102.4h4.7v4.7h-4.7zM171.4 111.7h4.7v4.7h-4.7zM111 116.3h4.7v4.7h-4.7z"/>
<path fill="#fde2d2" shape-rendering="crispEdges" d="M134.2 69.8h4.7v4.7h-4.7zM92.4 79.1h4.7v4.7h-4.7zM162.2 88.4h4.7v4.7h-4.7zM134.2 111.7h4.7v4.7h-4.7zM138.9 111.7h4.7v4.7h-4.7zM162.2 111.7h4.7v4.7h-4.7zM120.3 116.3h4.7v4.7h-4.7zM129.6 116.3h4.7v4.7h-4.7z"/>
<path fill="#fef4ee" shape-rendering="crispEdges" d="M101.7 74.5h4.7v4.7h-4.7zM97.1 88.4h4.7v4.7h-4.7zM101.7 88.4h4.7v4.7h-4.7z"/>
<path fill="#fee6d8" shape-rendering="crispEdges" d="M125 74.5h4.7v4.7h-4.7zM87.8 83.8h4.7v4.7h-4.7zM115.7 88.4h4.7v4.7h-4.7zM148.2 107h4.7v4.7h-4.7zM157.5 107h4.7v4.7h-4.7z"/>
<path fill="#fbd1ba" shape-rendering="crispEdges" d="M134.2 74.5h4.7v4.7h-4.7zM176.1 79.1h4.7v4.7h-4.7zM111 83.8h4.7v4.7h-4.7zM120.3 88.4h4.7v4.7h-4.7zM129.6 88.4h4.7v4.7h-4.7z"/>
<path fill="#fcd8c3" shape-rendering="crispEdges" d="M138.9 74.5h4.7v4.7h-4.7zM129.6 111.7h4.7v4.7h-4.7z"/>
<path fill="#fde0ce" shape-rendering="crispEdges" d="M97.1 79.1h4.7v4.7h-4.7zM101.7 83.8h4.7v4.7h-4.7zM152.9 88.4h4.7v4.7h-4.7z"/>
<path fill="#fcd4be" shape-rendering="crispEdges" d="M106.3 79.1h4.7v4.7h-4.7zM106.3 83.8h4.7v4.7h-4.7zM143.6 111.7h4.7v4.7h-4.7zM125 116.3h4.7v4.7h-4.7zM148.2 116.3h4.7v4.7h-4.7z"/>
<path fill="#f7b99c" shape-rendering="crispEdges" d="M129.6 79.1h4.7v4.7h-4.7z"/>
<path fill="#f6b293" shape-rendering="crispEdges" d="M134.2 79.1h4.7v4.7h-4.7zM152.9 111.7h4.7v4.7h-4.7z"/>
<path fill="#f4a582" shape-rendering="crispEdges" d="M143.6 79.1h4.7v4.7h-4.7z"/>
<path fill="#f2a17f" shape-rendering="crispEdges" d="M148.2 79.1h4.7v4.7h-4.7zM162.2 83.8h4.7v4.7h-4.7z"/>
<path fill="#f09c7b" shape-rendering="crispEdges" d="M152.9 79.1h4.7v4.7h-4.7z"/>
<path fill="#ec9475" shape-rendering="crispEdges" d="M157.5 79.1h4.7v4.7h-4.7zM157.5 83.8h4.7v4.7h-4.7z"/>
<path fill="#f5a886" shape-rendering="crispEdges" d="M171.4 79.1h4.7v4.7h-4.7zM148.2 83.8h4.7v4.7h-4.7zM152.9 83.8h4.7v4.7h-4.7z"/>
<path fill="#fdfdfd" shape-rendering="crispEdges" d="M83.1 83.8h4.7v4.7h-4.7zM129.6 93.1h4.7v4.7h-4.7zM134.2 102.4h4.7v4.7h-4.7zM166.8 116.3h4.7v4.7h-4.7zM148.2 121h4.7v4.7h-4.7z"/>
<path fill="#fbfbfb" shape-rendering="crispEdges" d="M180.8 83.8h4.7v4.7h-4.7zM166.8 88.4h4.7v4.7h-4.7zM115.7 107h4.7v4.7h-4.7zM120.3 121h4.7v4.7h-4.7zM134.2 121h4.7v4.7h-4.7z"/>
<path fill="#d4d4d4" shape-rendering="crispEdges" d="M78.5 88.4h4.7v4.7h-4.7zM97.1 107h4.7v4.7h-4.7zM180.8 116.3h4.7v4.7h-4.7zM101.7 121h4.7v4.7h-4.7z"/>
<path fill="#f8bda0" shape-rendering="crispEdges" d="M138.9 88.4h4.7v4.7h-4.7z"/>
<path fill="#fee8dc" shape-rendering="crispEdges" d="M143.6 107h4.7v4.7h-4.7z"/>
<path fill="#636363" shape-rendering="crispEdges" d="M64.5 139.6h4.7v4.7h-4.7z"/>
<path fill="#666666" shape-rendering="crispEdges" d="M180.8 144.2h4.7v4.1h-4.7z"/>
<rect x="64.5" y="14" width="135.5" height="134.3" fill="none" stroke="#000" stroke-width="1.6"/>
<path fill="#717171" shape-rendering="crispEdges" d="M210.5 14h4.7v4.7h-4.7zM317.4 18.6h4.7v4.7h-4.7zM317.4 28h4.7v4.7h-4.7zM308.1 32.6h4.7v4.7h-4.7zM210.5 41.9h4.7v4.7h-4.7zM326.8 41.9h4.7v4.7h-4.7zM331.4 88.4h4.7v4.7h-4.7zM336.1 88.4h4.7v4.7h-4.7zM219.8 97.7h4.7v4.7h-4.7zM219.8 134.9h4.7v4.7h-4.7zM224.4 134.9h4.7v4.7h-4.7zM243.1 134.9h4.7v4.7h-4.7zM238.4 144.2h4.7v4.1h-4.7z"/>
<path fill="#838383" shape-rendering="crispEdges" d="M215.2 14h4.7v4.7h-4.7zM233.8 23.3h4.7v4.7h-4.7zM219.8 28h4.7v4.7h-4.7zM224.4 28h4.7v4.7h-4.7zM233.8 28h4.7v4.7h-4.7zM238.4 32.6h4.7v4.7h-4.7zM247.7 32.6h4.7v4.7h-4.7zM243.1 37.2h4.7v4.7h-4.7zM340.7 60.5h4.6v4.7h-4.6zM210.5 65.2h4.7v4.7h-4.7zM215.2 83.8h4.7v4.7h-4.7zM336.1 83.8h4.7v4.7h-4.7zM331.4 93.1h4.7v4.7h-4.7zM336.1 93.1h4.7v4.7h-4.7zM219.8 102.4h4.7v4.7h-4.7zM215.2 107h4.7v4.7h-4.7zM224.4 107h4.7v4.7h-4.7zM238.4 116.3h4.7v4.7h-4.7zM238.4 121h4.7v4.7h-4.7zM243.1 121h4.7v4.7h-4.7zM308.1 125.6h4.7v4.7h-4.7zM308.1 134.9h4.7v4.7h-4.7zM331.4 134.9h4.7v4.7h-4.7zM233.8 139.6h4.7v4.7h-4.7zM289.6 144.2h4.7v4.1h-4.7zM336.1 144.2h4.7v4.1h-4.7z"/>
<path fill="#8d8d8d" shape-rendering="crispEdges" d="M219.8 14h4.7v4.7h-4.7zM266.3 14h4.7v4.7h-4.7zM303.5 14h4.7v4.7h-4.7zM215.2 18.6h4.7v4.7h-4.7zM229.1 18.6h4.7v4.7h-4.7zM238.4 18.6h4.7v4.7h-4.7zM289.6 18.6h4.7v4.7h-4.7zM294.2 18.6h4.7v4.7h-4.7zM294.2 23.3h4.7v4.7h-4.7zM298.9 23.3h4.7v4.7h-4.7zM322.1 32.6h4.7v4.7h-4.7zM336.1 32.6h4.7v4.7h-4.7zM331.4 46.6h4.7v4.7h-4.7zM340.7 46.6h4.6v4.7h-4.6zM326.8 51.2h4.7v4.7h-4.7zM331.4 51.2h4.7v4.7h-4.7zM336.1 55.9h4.7v4.7h-4.7zM224.4 60.5h4.7v4.7h-4.7zM229.1 65.2h4.7v4.7h-4.7zM233.8 111.7h4.7v4.7h-4.7zM243.1 116.3h4.7v4.7h-4.7zM252.3 121h4.7v4.7h-4.7zM303.5 121h4.7v4.7h-4.7zM243.1 125.6h4.7v4.7h-4.7zM247.7 125.6h4.7v4.7h-4.7zM252.3 134.9h4.7v4.7h-4.7zM261.6 139.6h4.7v4.7h-4.7zM270.9 144.2h4.7v4.1h-4.7z"/>
<path fill="#919191" shape-rendering="crispEdges" d="M224.4 14h4.7v4.7h-4.7zM294.2 14h4.7v4.7h-4.7zM298.9 14h4.7v4.7h-4.7zM252.3 18.6h4.7v4.7h-4.7zM298.9 18.6h4.7v4.7h-4.7zM303.5 18.6h4.7v4.7h-4.7zM247.7 23.3h4.7v4.7h-4.7zM289.6 23.3h4.7v4.7h-4.7zM303.5 23.3h4.7v4.7h-4.7zM247.7 28h4.7v4.7h-4.7zM252.3 32.6h4.7v4.7h-4.7zM298.9 32.6h4.7v4.7h-4.7zM336.1 60.5h4.7v4.7h-4.7zM340.7 65.2h4.6v4.7h-4.6zM229.1 74.5h4.7v4.7h-4.7zM210.5 79.1h4.7v4.7h-4.7zM219.8 79.1h4.7v4.7h-4.7zM340.7 79.1h4.6v4.7h-4.6zM219.8 88.4h4.7v4.7h-4.7zM224.4 93.1h4.7v4.7h-4.7zM229.1 111.7h4.7v4.7h-4.7zM229.1 116.3h4.7v4.7h-4.7zM233.8 116.3h4.7v4.7h-4.7zM229.1 121h4.7v4.7h-4.7zM210.5 130.2h4.7v4.7h-4.7zM266.3 134.9h4.7v4.7h-4.7zM317.4 134.9h4.7v4.7h-4.7zM322.1 134.9h4.7v4.7h-4.7zM340.7 134.9h4.6v4.7h-4.6zM224.4 139.6h4.7v4.7h-4.7zM298.9 139.6h4.7v4.7h-4.7zM303.5 139.6h4.7v4.7h-4.7zM331.4 144.2h4.7v4.1h-4.7z"/>
<path fill="#949494" shape-rendering="crispEdges" d="M229.1 14h4.7v4.7h-4.7zM243.1 14h4.7v4.7h-4.7zM289.6 14h4.7v4.7h-4.7zM336.1 14h4.7v4.7h-4.7zM219.8 23.3h4.7v4.7h-4.7zM224.4 23.3h4.7v4.7h-4.7zM280.2 23.3h4.7v4.7h-4.7zM210.5 28h4.7v4.7h-4.7zM298.9 28h4.7v4.7h-4.7zM219.8 32.6h4.7v4.7h-4.7zM238.4 37.2h4.7v4.7h-4.7zM336.1 37.2h4.7v4.7h-4.7zM252.3 41.9h4.7v4.7h-4.7zM317.4 41.9h4.7v4.7h-4.7zM215.2 46.6h4.7v4.7h-4.7zM340.7 69.8h4.6v4.7h-4.6zM229.1 107h4.7v4.7h-4.7zM247.7 121h4.7v4.7h-4.7zM233.8 125.6h4.7v4.7h-4.7zM238.4 125.6h4.7v4.7h-4.7zM210.5 134.9h4.7v4.7h-4.7zM336.1 134.9h4.7v4.7h-4.7zM219.8 139.6h4.7v4.7h-4.7zM275.6 139.6h4.7v4.7h-4.7zM280.2 139.6h4.7v4.7h-4.7zM322.1 139.6h4.7v4.7h-4.7zM229.1 144.2h4.7v4.1h-4.7z"/>
<path fill="#8a8a8a" shape-rendering="crispEdges" d="M233.8 14h4.7v4.7h-4.7zM238.4 14h4.7v4.7h-4.7zM308.1 14h4.7v4.7h-4.7zM312.8 14h4.7v4.7h-4.7zM317.4 14h4.7v4.7h-4.7zM243.1 18.6h4.7v4.7h-4.7zM247.7 18.6h4.7v4.7h-4.7zM326.8 18.6h4.7v4.7h-4.7zM210.5 23.3h4.7v4.7h-4.7zM215.2 23.3h4.7v4.7h-4.7zM229.1 23.3h4.7v4.7h-4.7zM238.4 23.3h4.7v4.7h-4.7zM326.8 23.3h4.7v4.7h-4.7zM229.1 28h4.7v4.7h-4.7zM238.4 28h4.7v4.7h-4.7zM243.1 28h4.7v4.7h-4.7zM322.1 28h4.7v4.7h-4.7zM331.4 28h4.7v4.7h-4.7zM224.4 32.6h4.7v4.7h-4.7zM233.8 32.6h4.7v4.7h-4.7zM326.8 32.6h4.7v4.7h-4.7zM215.2 41.9h4.7v4.7h-4.7zM219.8 60.5h4.7v4.7h-4.7zM229.1 69.8h4.7v4.7h-4.7zM219.8 74.5h4.7v4.7h-4.7zM326.8 83.8h4.7v4.7h-4.7zM215.2 102.4h4.7v4.7h-4.7zM257 134.9h4.7v4.7h-4.7zM261.6 134.9h4.7v4.7h-4.7zM229.1 139.6h4.7v4.7h-4.7zM257 139.6h4.7v4.7h-4.7zM284.9 139.6h4.7v4.7h-4.7zM326.8 139.6h4.7v4.7h-4.7zM336.1 139.6h4.7v4.7h-4.7zM261.6 144.2h4.7v4.1h-4.7zM298.9 144.2h4.7v4.1h-4.7z"/>
<path fill="#878787" shape-rendering="crispEdges" d="M247.7 14h4.7v4.7h-4.7zM331.4 14h4.7v4.7h-4.7zM233.8 18.6h4.7v4.7h-4.7zM243.1 23.3h4.7v4.7h-4.7zM215.2 28h4.7v4.7h-4.7zM303.5 28h4.7v4.7h-4.7zM326.8 28h4.7v4.7h-4.7zM210.5 37.2h4.7v4.7h-4.7zM252.3 37.2h4.7v4.7h-4.7zM303.5 37.2h4.7v4.7h-4.7zM331.4 41.9h4.7v4.7h-4.7zM336.1 51.2h4.7v4.7h-4.7zM224.4 69.8h4.7v4.7h-4.7zM210.5 74.5h4.7v4.7h-4.7zM215.2 79.1h4.7v4.7h-4.7zM331.4 83.8h4.7v4.7h-4.7zM326.8 93.1h4.7v4.7h-4.7zM210.5 111.7h4.7v4.7h-4.7zM243.1 130.2h4.7v4.7h-4.7zM247.7 130.2h4.7v4.7h-4.7zM261.6 130.2h4.7v4.7h-4.7zM312.8 130.2h4.7v4.7h-4.7zM326.8 134.9h4.7v4.7h-4.7zM252.3 139.6h4.7v4.7h-4.7zM331.4 139.6h4.7v4.7h-4.7zM233.8 144.2h4.7v4.1h-4.7z"/>
<path fill="#757575" shape-rendering="crispEdges" d="M252.3 14h4.7v4.7h-4.7zM257 14h4.7v4.7h-4.7zM322.1 23.3h4.7v4.7h-4.7zM322.1 41.9h4.7v4.7h-4.7zM326.8 46.6h4.7v4.7h-4.7zM215.2 88.4h4.7v4.7h-4.7zM210.5 97.7h4.7v4.7h-4.7zM219.8 111.7h4.7v4.7h-4.7zM224.4 116.3h4.7v4.7h-4.7zM252.3 125.6h4.7v4.7h-4.7zM215.2 130.2h4.7v4.7h-4.7zM233.8 130.2h4.7v4.7h-4.7zM233.8 134.9h4.7v4.7h-4.7zM340.7 139.6h4.6v4.7h-4.6z"/>
<path fill="#808080" shape-rendering="crispEdges" d="M261.6 14h4.7v4.7h-4.7zM308.1 18.6h4.7v4.7h-4.7zM312.8 18.6h4.7v4.7h-4.7zM243.1 32.6h4.7v4.7h-4.7zM317.4 32.6h4.7v4.7h-4.7zM312.8 37.2h4.7v4.7h-4.7zM317.4 37.2h4.7v4.7h-4.7zM331.4 37.2h4.7v4.7h-4.7zM322.1 46.6h4.7v4.7h-4.7zM215.2 65.2h4.7v4.7h-4.7zM224.4 65.2h4.7v4.7h-4.7zM219.8 69.8h4.7v4.7h-4.7zM215.2 74.5h4.7v4.7h-4.7zM210.5 83.8h4.7v4.7h-4.7zM340.7 93.1h4.6v4.7h-4.6zM210.5 107h4.7v4.7h-4.7zM219.8 107h4.7v4.7h-4.7zM229.1 125.6h4.7v4.7h-4.7zM257 125.6h4.7v4.7h-4.7zM303.5 125.6h4.7v4.7h-4.7zM238.4 130.2h4.7v4.7h-4.7zM252.3 130.2h4.7v4.7h-4.7zM257 130.2h4.7v4.7h-4.7zM215.2 134.9h4.7v4.7h-4.7zM247.7 134.9h4.7v4.7h-4.7zM303.5 134.9h4.7v4.7h-4.7zM257 144.2h4.7v4.1h-4.7zM284.9 144.2h4.7v4.1h-4.7zM294.2 144.2h4.7v4.1h-4.7z"/>
<path fill="#9a9a9a" shape-rendering="crispEdges" d="M270.9 14h4.7v4.7h-4.7zM322.1 14h4.7v4.7h-4.7zM326.8 14h4.7v4.7h-4.7zM266.3 18.6h4.7v4.7h-4.7zM275.6 18.6h4.7v4.7h-4.7zM280.2 18.6h4.7v4.7h-4.7zM284.9 18.6h4.7v4.7h-4.7zM336.1 18.6h4.7v4.7h-4.7zM275.6 23.3h4.7v4.7h-4.7zM331.4 23.3h4.7v4.7h-4.7zM280.2 28h4.7v4.7h-4.7zM294.2 28h4.7v4.7h-4.7zM229.1 32.6h4.7v4.7h-4.7zM275.6 32.6h4.7v4.7h-4.7zM270.9 46.6h4.7v4.7h-4.7zM224.4 55.9h4.7v4.7h-4.7zM331.4 55.9h4.7v4.7h-4.7zM215.2 60.5h4.7v4.7h-4.7zM336.1 79.1h4.7v4.7h-4.7zM322.1 83.8h4.7v4.7h-4.7zM229.1 102.4h4.7v4.7h-4.7zM238.4 111.7h4.7v4.7h-4.7zM233.8 121h4.7v4.7h-4.7zM298.9 121h4.7v4.7h-4.7zM326.8 130.2h4.7v4.7h-4.7zM210.5 139.6h4.7v4.7h-4.7zM289.6 139.6h4.7v4.7h-4.7zM312.8 139.6h4.7v4.7h-4.7zM317.4 139.6h4.7v4.7h-4.7z"/>
<path fill="#9d9d9d" shape-rendering="crispEdges" d="M275.6 14h4.7v4.7h-4.7zM270.9 18.6h4.7v4.7h-4.7zM336.1 23.3h4.7v4.7h-4.7zM340.7 23.3h4.6v4.7h-4.6zM252.3 28h4.7v4.7h-4.7zM275.6 28h4.7v4.7h-4.7zM280.2 32.6h4.7v4.7h-4.7zM340.7 32.6h4.6v4.7h-4.6zM336.1 41.9h4.7v4.7h-4.7zM266.3 46.6h4.7v4.7h-4.7zM224.4 51.2h4.7v4.7h-4.7zM229.1 60.5h4.7v4.7h-4.7zM233.8 69.8h4.7v4.7h-4.7zM340.7 74.5h4.6v4.7h-4.6zM331.4 97.7h4.7v4.7h-4.7zM336.1 97.7h4.7v4.7h-4.7zM233.8 107h4.7v4.7h-4.7zM298.9 116.3h4.7v4.7h-4.7zM298.9 125.6h4.7v4.7h-4.7zM298.9 130.2h4.7v4.7h-4.7zM317.4 130.2h4.7v4.7h-4.7zM215.2 139.6h4.7v4.7h-4.7zM322.1 144.2h4.7v4.1h-4.7z"/>
<path fill="#adadad" shape-rendering="crispEdges" d="M280.2 14h4.7v4.7h-4.7zM284.9 14h4.7v4.7h-4.7zM266.3 23.3h4.7v4.7h-4.7zM229.1 37.2h4.7v4.7h-4.7zM275.6 37.2h4.7v4.7h-4.7zM270.9 41.9h4.7v4.7h-4.7zM215.2 55.9h4.7v4.7h-4.7zM238.4 69.8h4.7v4.7h-4.7zM238.4 74.5h4.7v4.7h-4.7zM336.1 74.5h4.7v4.7h-4.7zM326.8 79.1h4.7v4.7h-4.7zM224.4 88.4h4.7v4.7h-4.7zM326.8 97.7h4.7v4.7h-4.7zM331.4 102.4h4.7v4.7h-4.7zM257 121h4.7v4.7h-4.7zM261.6 125.6h4.7v4.7h-4.7zM317.4 144.2h4.7v4.1h-4.7z"/>
<path fill="#b0b0b0" shape-rendering="crispEdges" d="M340.7 14h4.6v4.7h-4.6zM289.6 32.6h4.7v4.7h-4.7zM261.6 37.2h4.7v4.7h-4.7zM270.9 37.2h4.7v4.7h-4.7zM280.2 37.2h4.7v4.7h-4.7zM238.4 41.9h4.7v4.7h-4.7zM229.1 46.6h4.7v4.7h-4.7zM257 46.6h4.7v4.7h-4.7zM336.1 102.4h4.7v4.7h-4.7zM247.7 116.3h4.7v4.7h-4.7zM303.5 116.3h4.7v4.7h-4.7zM322.1 125.6h4.7v4.7h-4.7zM210.5 144.2h4.7v4.1h-4.7z"/>
<path fill="#7c7c7c" shape-rendering="crispEdges" d="M210.5 18.6h4.7v4.7h-4.7zM308.1 23.3h4.7v4.7h-4.7zM247.7 37.2h4.7v4.7h-4.7zM308.1 37.2h4.7v4.7h-4.7zM322.1 37.2h4.7v4.7h-4.7zM326.8 37.2h4.7v4.7h-4.7zM210.5 46.6h4.7v4.7h-4.7zM340.7 55.9h4.6v4.7h-4.6zM210.5 102.4h4.7v4.7h-4.7zM224.4 102.4h4.7v4.7h-4.7zM224.4 111.7h4.7v4.7h-4.7zM303.5 130.2h4.7v4.7h-4.7zM312.8 134.9h4.7v4.7h-4.7zM275.6 144.2h4.7v4.1h-4.7zM280.2 144.2h4.7v4.1h-4.7z"/>
<path fill="#979797" shape-rendering="crispEdges" d="M219.8 18.6h4.7v4.7h-4.7zM224.4 18.6h4.7v4.7h-4.7zM257 18.6h4.7v4.7h-4.7zM261.6 18.6h4.7v4.7h-4.7zM331.4 18.6h4.7v4.7h-4.7zM284.9 23.3h4.7v4.7h-4.7zM336.1 28h4.7v4.7h-4.7zM210.5 32.6h4.7v4.7h-4.7zM215.2 32.6h4.7v4.7h-4.7zM215.2 37.2h4.7v4.7h-4.7zM257 41.9h4.7v4.7h-4.7zM336.1 46.6h4.7v4.7h-4.7zM219.8 55.9h4.7v4.7h-4.7zM336.1 65.2h4.7v4.7h-4.7zM224.4 74.5h4.7v4.7h-4.7zM233.8 74.5h4.7v4.7h-4.7zM219.8 83.8h4.7v4.7h-4.7zM322.1 88.4h4.7v4.7h-4.7zM312.8 125.6h4.7v4.7h-4.7zM266.3 130.2h4.7v4.7h-4.7zM331.4 130.2h4.7v4.7h-4.7zM298.9 134.9h4.7v4.7h-4.7zM266.3 139.6h4.7v4.7h-4.7zM270.9 139.6h4.7v4.7h-4.7zM294.2 139.6h4.7v4.7h-4.7zM266.3 144.2h4.7v4.1h-4.7zM326.8 144.2h4.7v4.1h-4.7z"/>
<path fill="#787878" shape-rendering="crispEdges" d="M322.1 18.6h4.7v4.7h-4.7zM303.5 32.6h4.7v4.7h-4.7zM331.4 32.6h4.7v4.7h-4.7zM340.7 51.2h4.6v4.7h-4.6zM219.8 65.2h4.7v4.7h-4.7zM210.5 69.8h4.7v4.7h-4.7zM215.2 69.8h4.7v4.7h-4.7zM340.7 83.8h4.6v4.7h-4.6zM219.8 93.1h4.7v4.7h-4.7zM215.2 97.7h4.7v4.7h-4.7zM224.4 97.7h4.7v4.7h-4.7zM215.2 111.7h4.7v4.7h-4.7zM308.1 130.2h4.7v4.7h-4.7zM229.1 134.9h4.7v4.7h-4.7zM252.3 144.2h4.7v4.1h-4.7z"/>
<path fill="#a4a4a4" shape-rendering="crispEdges" d="M340.7 18.6h4.6v4.7h-4.6zM270.9 23.3h4.7v4.7h-4.7zM284.9 28h4.7v4.7h-4.7zM289.6 28h4.7v4.7h-4.7zM340.7 28h4.6v4.7h-4.6zM270.9 32.6h4.7v4.7h-4.7zM340.7 37.2h4.6v4.7h-4.6zM312.8 41.9h4.7v4.7h-4.7zM340.7 41.9h4.6v4.7h-4.6zM219.8 46.6h4.7v4.7h-4.7zM219.8 51.2h4.7v4.7h-4.7zM210.5 60.5h4.7v4.7h-4.7zM229.1 97.7h4.7v4.7h-4.7zM317.4 125.6h4.7v4.7h-4.7zM322.1 130.2h4.7v4.7h-4.7zM224.4 144.2h4.7v4.1h-4.7z"/>
<path fill="#a7a7a7" shape-rendering="crispEdges" d="M252.3 23.3h4.7v4.7h-4.7zM294.2 32.6h4.7v4.7h-4.7zM219.8 37.2h4.7v4.7h-4.7zM224.4 37.2h4.7v4.7h-4.7zM233.8 37.2h4.7v4.7h-4.7zM243.1 41.9h4.7v4.7h-4.7zM266.3 41.9h4.7v4.7h-4.7zM261.6 46.6h4.7v4.7h-4.7zM210.5 51.2h4.7v4.7h-4.7zM322.1 51.2h4.7v4.7h-4.7zM229.1 79.1h4.7v4.7h-4.7zM247.7 79.1h4.7v4.7h-4.7zM308.1 139.6h4.7v4.7h-4.7z"/>
<path fill="#bfbfbf" shape-rendering="crispEdges" d="M257 23.3h4.7v4.7h-4.7zM229.1 41.9h4.7v4.7h-4.7zM229.1 83.8h4.7v4.7h-4.7zM336.1 107h4.7v4.7h-4.7z"/>
<path fill="#bababa" shape-rendering="crispEdges" d="M261.6 23.3h4.7v4.7h-4.7zM266.3 28h4.7v4.7h-4.7zM266.3 32.6h4.7v4.7h-4.7zM266.3 37.2h4.7v4.7h-4.7zM233.8 41.9h4.7v4.7h-4.7zM275.6 41.9h4.7v4.7h-4.7zM275.6 46.6h4.7v4.7h-4.7zM266.3 51.2h4.7v4.7h-4.7zM210.5 55.9h4.7v4.7h-4.7zM243.1 79.1h4.7v4.7h-4.7zM229.1 93.1h4.7v4.7h-4.7zM340.7 107h4.6v4.7h-4.6zM294.2 111.7h4.7v4.7h-4.7zM312.8 121h4.7v4.7h-4.7zM280.2 134.9h4.7v4.7h-4.7zM312.8 144.2h4.7v4.1h-4.7z"/>
<path fill="#6e6e6e" shape-rendering="crispEdges" d="M312.8 23.3h4.7v4.7h-4.7zM317.4 23.3h4.7v4.7h-4.7zM308.1 28h4.7v4.7h-4.7zM326.8 88.4h4.7v4.7h-4.7zM340.7 88.4h4.6v4.7h-4.6zM224.4 121h4.7v4.7h-4.7zM238.4 134.9h4.7v4.7h-4.7zM247.7 139.6h4.7v4.7h-4.7z"/>
<path fill="#c4c4c4" shape-rendering="crispEdges" d="M257 28h4.7v4.7h-4.7zM233.8 51.2h4.7v4.7h-4.7zM331.4 69.8h4.7v4.7h-4.7zM247.7 74.5h4.7v4.7h-4.7zM312.8 79.1h4.7v4.7h-4.7zM247.7 83.8h4.7v4.7h-4.7zM252.3 83.8h4.7v4.7h-4.7zM312.8 83.8h4.7v4.7h-4.7zM229.1 88.4h4.7v4.7h-4.7zM317.4 88.4h4.7v4.7h-4.7zM331.4 107h4.7v4.7h-4.7zM294.2 130.2h4.7v4.7h-4.7z"/>
<path fill="#c8c8c8" shape-rendering="crispEdges" d="M261.6 28h4.7v4.7h-4.7zM238.4 46.6h4.7v4.7h-4.7zM233.8 55.9h4.7v4.7h-4.7zM280.2 55.9h4.7v4.7h-4.7zM238.4 60.5h4.7v4.7h-4.7zM284.9 60.5h4.7v4.7h-4.7zM243.1 65.2h4.7v4.7h-4.7zM280.2 102.4h4.7v4.7h-4.7zM289.6 107h4.7v4.7h-4.7zM252.3 116.3h4.7v4.7h-4.7zM294.2 116.3h4.7v4.7h-4.7z"/>
<path fill="#a0a0a0" shape-rendering="crispEdges" d="M270.9 28h4.7v4.7h-4.7zM257 37.2h4.7v4.7h-4.7zM247.7 41.9h4.7v4.7h-4.7zM261.6 41.9h4.7v4.7h-4.7zM233.8 65.2h4.7v4.7h-4.7zM336.1 69.8h4.7v4.7h-4.7zM340.7 97.7h4.6v4.7h-4.6zM308.1 121h4.7v4.7h-4.7zM270.9 134.9h4.7v4.7h-4.7zM303.5 144.2h4.7v4.1h-4.7z"/>
<path fill="#5f5f5f" shape-rendering="crispEdges" d="M312.8 28h4.7v4.7h-4.7zM210.5 93.1h4.7v4.7h-4.7zM215.2 121h4.7v4.7h-4.7zM210.5 125.6h4.7v4.7h-4.7zM219.8 125.6h4.7v4.7h-4.7zM224.4 125.6h4.7v4.7h-4.7z"/>
<path fill="#b7b7b7" shape-rendering="crispEdges" d="M257 32.6h4.7v4.7h-4.7zM252.3 46.6h4.7v4.7h-4.7zM275.6 51.2h4.7v4.7h-4.7zM233.8 60.5h4.7v4.7h-4.7zM340.7 102.4h4.6v4.7h-4.6zM243.1 111.7h4.7v4.7h-4.7zM270.9 130.2h4.7v4.7h-4.7zM275.6 134.9h4.7v4.7h-4.7zM294.2 134.9h4.7v4.7h-4.7z"/>
<path fill="#c1c1c1" shape-rendering="crispEdges" d="M261.6 32.6h4.7v4.7h-4.7zM243.1 69.8h4.7v4.7h-4.7zM331.4 74.5h4.7v4.7h-4.7zM238.4 107h4.7v4.7h-4.7zM317.4 121h4.7v4.7h-4.7zM308.1 144.2h4.7v4.1h-4.7z"/>
<path fill="#aaaaaa" shape-rendering="crispEdges" d="M284.9 32.6h4.7v4.7h-4.7zM219.8 41.9h4.7v4.7h-4.7zM308.1 41.9h4.7v4.7h-4.7zM224.4 46.6h4.7v4.7h-4.7zM317.4 46.6h4.7v4.7h-4.7zM215.2 51.2h4.7v4.7h-4.7zM229.1 51.2h4.7v4.7h-4.7zM270.9 51.2h4.7v4.7h-4.7zM229.1 55.9h4.7v4.7h-4.7zM326.8 55.9h4.7v4.7h-4.7zM331.4 60.5h4.7v4.7h-4.7zM224.4 79.1h4.7v4.7h-4.7zM233.8 79.1h4.7v4.7h-4.7zM331.4 79.1h4.7v4.7h-4.7zM336.1 130.2h4.7v4.7h-4.7zM215.2 144.2h4.7v4.1h-4.7zM219.8 144.2h4.7v4.1h-4.7z"/>
<path fill="#636363" shape-rendering="crispEdges" d="M312.8 32.6h4.7v4.7h-4.7zM210.5 88.4h4.7v4.7h-4.7zM215.2 125.6h4.7v4.7h-4.7zM219.8 130.2h4.7v4.7h-4.7zM224.4 130.2h4.7v4.7h-4.7zM247.7 144.2h4.7v4.1h-4.7z"/>
<path fill="#c6c6c6" shape-rendering="crispEdges" d="M284.9 37.2h4.7v4.7h-4.7zM303.5 41.9h4.7v4.7h-4.7zM312.8 46.6h4.7v4.7h-4.7zM275.6 55.9h4.7v4.7h-4.7zM340.7 121h4.6v4.7h-4.6zM336.1 125.6h4.7v4.7h-4.7z"/>
<path fill="#d4d4d4" shape-rendering="crispEdges" d="M289.6 37.2h4.7v4.7h-4.7zM294.2 37.2h4.7v4.7h-4.7zM294.2 69.8h4.7v4.7h-4.7zM252.3 74.5h4.7v4.7h-4.7zM294.2 121h4.7v4.7h-4.7zM326.8 121h4.7v4.7h-4.7zM336.1 121h4.7v4.7h-4.7zM275.6 130.2h4.7v4.7h-4.7z"/>
<path fill="#b4b4b4" shape-rendering="crispEdges" d="M298.9 37.2h4.7v4.7h-4.7zM224.4 41.9h4.7v4.7h-4.7zM238.4 65.2h4.7v4.7h-4.7zM238.4 79.1h4.7v4.7h-4.7zM252.3 79.1h4.7v4.7h-4.7zM322.1 79.1h4.7v4.7h-4.7zM224.4 83.8h4.7v4.7h-4.7zM317.4 83.8h4.7v4.7h-4.7zM322.1 93.1h4.7v4.7h-4.7zM233.8 102.4h4.7v4.7h-4.7zM298.9 111.7h4.7v4.7h-4.7zM326.8 125.6h4.7v4.7h-4.7zM340.7 130.2h4.6v4.7h-4.6zM284.9 134.9h4.7v4.7h-4.7z"/>
<path fill="#cfcfcf" shape-rendering="crispEdges" d="M280.2 41.9h4.7v4.7h-4.7zM317.4 51.2h4.7v4.7h-4.7zM326.8 60.5h4.7v4.7h-4.7zM284.9 65.2h4.7v4.7h-4.7zM308.1 79.1h4.7v4.7h-4.7zM233.8 83.8h4.7v4.7h-4.7zM308.1 83.8h4.7v4.7h-4.7zM294.2 107h4.7v4.7h-4.7zM289.6 111.7h4.7v4.7h-4.7zM322.1 121h4.7v4.7h-4.7zM266.3 125.6h4.7v4.7h-4.7zM294.2 125.6h4.7v4.7h-4.7z"/>
<path fill="#eeeeee" shape-rendering="crispEdges" d="M284.9 41.9h4.7v4.7h-4.7zM270.9 88.4h4.7v4.7h-4.7zM312.8 93.1h4.7v4.7h-4.7zM238.4 97.7h4.7v4.7h-4.7zM326.8 116.3h4.7v4.7h-4.7z"/>
<path fill="#fdfdfd" shape-rendering="crispEdges" d="M289.6 41.9h4.7v4.7h-4.7zM303.5 46.6h4.7v4.7h-4.7zM298.9 83.8h4.7v4.7h-4.7zM238.4 93.1h4.7v4.7h-4.7zM257 102.4h4.7v4.7h-4.7zM266.3 121h4.7v4.7h-4.7z"/>
<path fill="#ffffff" shape-rendering="crispEdges" d="M294.2 41.9h4.7v4.7h-4.7zM247.7 55.9h4.7v4.7h-4.7zM294.2 79.1h4.7v4.7h-4.7zM261.6 97.7h4.7v4.7h-4.7z"/>
<path fill="#eaeaea" shape-rendering="crispEdges" d="M298.9 41.9h4.7v4.7h-4.7zM289.6 60.5h4.7v4.7h-4.7zM326.8 65.2h4.7v4.7h-4.7zM308.1 74.5h4.7v4.7h-4.7zM312.8 74.5h4.7v4.7h-4.7zM261.6 79.1h4.7v4.7h-4.7zM317.4 116.3h4.7v4.7h-4.7zM331.4 116.3h4.7v4.7h-4.7z"/>
<path fill="#bcbcbc" shape-rendering="crispEdges" d="M233.8 46.6h4.7v4.7h-4.7zM331.4 65.2h4.7v4.7h-4.7zM243.1 74.5h4.7v4.7h-4.7zM317.4 79.1h4.7v4.7h-4.7zM340.7 111.7h4.6v4.7h-4.6zM340.7 116.3h4.6v4.7h-4.6zM331.4 125.6h4.7v4.7h-4.7zM289.6 134.9h4.7v4.7h-4.7z"/>
<path fill="#d2d2d2" shape-rendering="crispEdges" d="M243.1 46.6h4.7v4.7h-4.7zM257 79.1h4.7v4.7h-4.7zM261.6 83.8h4.7v4.7h-4.7zM261.6 88.4h4.7v4.7h-4.7zM266.3 88.4h4.7v4.7h-4.7zM336.1 111.7h4.7v4.7h-4.7zM308.1 116.3h4.7v4.7h-4.7z"/>
<path fill="#cdcdcd" shape-rendering="crispEdges" d="M247.7 46.6h4.7v4.7h-4.7zM261.6 51.2h4.7v4.7h-4.7zM322.1 55.9h4.7v4.7h-4.7zM280.2 60.5h4.7v4.7h-4.7zM326.8 74.5h4.7v4.7h-4.7zM233.8 97.7h4.7v4.7h-4.7zM284.9 107h4.7v4.7h-4.7z"/>
<path fill="#e2e2e2" shape-rendering="crispEdges" d="M280.2 46.6h4.7v4.7h-4.7zM317.4 74.5h4.7v4.7h-4.7zM266.3 83.8h4.7v4.7h-4.7zM303.5 83.8h4.7v4.7h-4.7zM331.4 111.7h4.7v4.7h-4.7z"/>
<path fill="#fffaf8" shape-rendering="crispEdges" d="M284.9 46.6h4.7v4.7h-4.7zM289.6 55.9h4.7v4.7h-4.7zM270.9 83.8h4.7v4.7h-4.7zM243.1 97.7h4.7v4.7h-4.7zM280.2 116.3h4.7v4.7h-4.7z"/>
<path fill="#fcd8c3" shape-rendering="crispEdges" d="M289.6 46.6h4.7v4.7h-4.7zM257 60.5h4.7v4.7h-4.7zM270.9 116.3h4.7v4.7h-4.7z"/>
<path fill="#fac7ad" shape-rendering="crispEdges" d="M294.2 46.6h4.7v4.7h-4.7zM308.1 102.4h4.7v4.7h-4.7zM270.9 107h4.7v4.7h-4.7zM266.3 111.7h4.7v4.7h-4.7z"/>
<path fill="#fdddca" shape-rendering="crispEdges" d="M298.9 46.6h4.7v4.7h-4.7zM280.2 88.4h4.7v4.7h-4.7zM317.4 107h4.7v4.7h-4.7zM261.6 111.7h4.7v4.7h-4.7z"/>
<path fill="#dbdbdb" shape-rendering="crispEdges" d="M308.1 46.6h4.7v4.7h-4.7zM247.7 69.8h4.7v4.7h-4.7zM298.9 69.8h4.7v4.7h-4.7zM322.1 97.7h4.7v4.7h-4.7zM326.8 107h4.7v4.7h-4.7z"/>
<path fill="#dedede" shape-rendering="crispEdges" d="M238.4 51.2h4.7v4.7h-4.7zM257 51.2h4.7v4.7h-4.7zM284.9 55.9h4.7v4.7h-4.7zM266.3 93.1h4.7v4.7h-4.7zM317.4 93.1h4.7v4.7h-4.7zM280.2 97.7h4.7v4.7h-4.7zM238.4 102.4h4.7v4.7h-4.7zM303.5 111.7h4.7v4.7h-4.7zM284.9 130.2h4.7v4.7h-4.7z"/>
<path fill="#ececec" shape-rendering="crispEdges" d="M243.1 51.2h4.7v4.7h-4.7zM257 74.5h4.7v4.7h-4.7zM284.9 97.7h4.7v4.7h-4.7zM275.6 102.4h4.7v4.7h-4.7zM252.3 111.7h4.7v4.7h-4.7zM289.6 125.6h4.7v4.7h-4.7z"/>
<path fill="#f0f0f0" shape-rendering="crispEdges" d="M247.7 51.2h4.7v4.7h-4.7zM284.9 69.8h4.7v4.7h-4.7zM322.1 116.3h4.7v4.7h-4.7zM289.6 121h4.7v4.7h-4.7zM275.6 125.6h4.7v4.7h-4.7z"/>
<path fill="#e8e8e8" shape-rendering="crispEdges" d="M252.3 51.2h4.7v4.7h-4.7zM275.6 60.5h4.7v4.7h-4.7zM247.7 65.2h4.7v4.7h-4.7zM280.2 65.2h4.7v4.7h-4.7zM294.2 65.2h4.7v4.7h-4.7zM247.7 88.4h4.7v4.7h-4.7zM252.3 88.4h4.7v4.7h-4.7zM257 88.4h4.7v4.7h-4.7zM261.6 93.1h4.7v4.7h-4.7zM284.9 111.7h4.7v4.7h-4.7zM257 116.3h4.7v4.7h-4.7zM289.6 116.3h4.7v4.7h-4.7z"/>
<path fill="#d6d6d6" shape-rendering="crispEdges" d="M280.2 51.2h4.7v4.7h-4.7zM270.9 55.9h4.7v4.7h-4.7zM289.6 65.2h4.7v4.7h-4.7zM322.1 74.5h4.7v4.7h-4.7zM243.1 83.8h4.7v4.7h-4.7z"/>
<path fill="#f5f5f5" shape-rendering="crispEdges" d="M284.9 51.2h4.7v4.7h-4.7zM261.6 55.9h4.7v4.7h-4.7zM247.7 60.5h4.7v4.7h-4.7zM303.5 69.8h4.7v4.7h-4.7zM322.1 102.4h4.7v4.7h-4.7zM284.9 116.3h4.7v4.7h-4.7z"/>
<path fill="#fddbc7" shape-rendering="crispEdges" d="M289.6 51.2h4.7v4.7h-4.7zM294.2 83.8h4.7v4.7h-4.7zM261.6 107h4.7v4.7h-4.7z"/>
<path fill="#f4a582" shape-rendering="crispEdges" d="M294.2 51.2h4.7v4.7h-4.7zM312.8 65.2h4.7v4.7h-4.7z"/>
<path fill="#eb8f71" shape-rendering="crispEdges" d="M298.9 51.2h4.7v4.7h-4.7zM289.6 88.4h4.7v4.7h-4.7z"/>
<path fill="#f8c0a4" shape-rendering="crispEdges" d="M303.5 51.2h4.7v4.7h-4.7zM266.3 65.2h4.7v4.7h-4.7zM294.2 97.7h4.7v4.7h-4.7z"/>
<path fill="#fffdfc" shape-rendering="crispEdges" d="M308.1 51.2h4.7v4.7h-4.7zM322.1 69.8h4.7v4.7h-4.7zM247.7 93.1h4.7v4.7h-4.7zM280.2 93.1h4.7v4.7h-4.7zM308.1 93.1h4.7v4.7h-4.7zM266.3 97.7h4.7v4.7h-4.7zM322.1 107h4.7v4.7h-4.7zM280.2 121h4.7v4.7h-4.7z"/>
<path fill="#e6e6e6" shape-rendering="crispEdges" d="M312.8 51.2h4.7v4.7h-4.7zM326.8 69.8h4.7v4.7h-4.7zM294.2 74.5h4.7v4.7h-4.7zM233.8 88.4h4.7v4.7h-4.7zM270.9 93.1h4.7v4.7h-4.7zM243.1 107h4.7v4.7h-4.7zM312.8 116.3h4.7v4.7h-4.7z"/>
<path fill="#e0e0e0" shape-rendering="crispEdges" d="M238.4 55.9h4.7v4.7h-4.7zM243.1 60.5h4.7v4.7h-4.7zM289.6 69.8h4.7v4.7h-4.7zM298.9 74.5h4.7v4.7h-4.7zM303.5 79.1h4.7v4.7h-4.7zM238.4 83.8h4.7v4.7h-4.7zM308.1 88.4h4.7v4.7h-4.7zM233.8 93.1h4.7v4.7h-4.7zM261.6 121h4.7v4.7h-4.7zM270.9 125.6h4.7v4.7h-4.7zM280.2 130.2h4.7v4.7h-4.7z"/>
<path fill="#f1f1f1" shape-rendering="crispEdges" d="M243.1 55.9h4.7v4.7h-4.7zM298.9 79.1h4.7v4.7h-4.7zM257 93.1h4.7v4.7h-4.7zM326.8 111.7h4.7v4.7h-4.7z"/>
<path fill="#fff8f4" shape-rendering="crispEdges" d="M252.3 55.9h4.7v4.7h-4.7zM257 55.9h4.7v4.7h-4.7zM266.3 60.5h4.7v4.7h-4.7zM266.3 79.1h4.7v4.7h-4.7zM289.6 97.7h4.7v4.7h-4.7zM247.7 102.4h4.7v4.7h-4.7zM257 111.7h4.7v4.7h-4.7zM322.1 111.7h4.7v4.7h-4.7z"/>
<path fill="#e4e4e4" shape-rendering="crispEdges" d="M266.3 55.9h4.7v4.7h-4.7zM303.5 74.5h4.7v4.7h-4.7zM275.6 97.7h4.7v4.7h-4.7zM289.6 102.4h4.7v4.7h-4.7zM280.2 107h4.7v4.7h-4.7z"/>
<path fill="#f8bda0" shape-rendering="crispEdges" d="M294.2 55.9h4.7v4.7h-4.7zM261.6 65.2h4.7v4.7h-4.7zM261.6 69.8h4.7v4.7h-4.7zM266.3 74.5h4.7v4.7h-4.7zM270.9 79.1h4.7v4.7h-4.7z"/>
<path fill="#e37e64" shape-rendering="crispEdges" d="M298.9 55.9h4.7v4.7h-4.7zM312.8 60.5h4.7v4.7h-4.7zM284.9 83.8h4.7v4.7h-4.7zM294.2 88.4h4.7v4.7h-4.7z"/>
<path fill="#da6954" shape-rendering="crispEdges" d="M303.5 55.9h4.7v4.7h-4.7zM270.9 69.8h4.7v4.7h-4.7z"/>
<path fill="#e98b6e" shape-rendering="crispEdges" d="M308.1 55.9h4.7v4.7h-4.7zM275.6 69.8h4.7v4.7h-4.7z"/>
<path fill="#fee4d5" shape-rendering="crispEdges" d="M312.8 55.9h4.7v4.7h-4.7zM261.6 60.5h4.7v4.7h-4.7zM280.2 69.8h4.7v4.7h-4.7zM275.6 116.3h4.7v4.7h-4.7z"/>
<path fill="#f3f3f3" shape-rendering="crispEdges" d="M317.4 55.9h4.7v4.7h-4.7zM322.1 60.5h4.7v4.7h-4.7zM298.9 65.2h4.7v4.7h-4.7zM270.9 97.7h4.7v4.7h-4.7z"/>
<path fill="#feebe0" shape-rendering="crispEdges" d="M252.3 60.5h4.7v4.7h-4.7zM322.1 65.2h4.7v4.7h-4.7zM312.8 97.7h4.7v4.7h-4.7zM270.9 102.4h4.7v4.7h-4.7z"/>
<path fill="#f9f9f9" shape-rendering="crispEdges" d="M270.9 60.5h4.7v4.7h-4.7zM252.3 69.8h4.7v4.7h-4.7zM252.3 97.7h4.7v4.7h-4.7zM257 97.7h4.7v4.7h-4.7zM317.4 97.7h4.7v4.7h-4.7zM303.5 107h4.7v4.7h-4.7zM280.2 125.6h4.7v4.7h-4.7z"/>
<path fill="#fef4ee" shape-rendering="crispEdges" d="M294.2 60.5h4.7v4.7h-4.7zM275.6 65.2h4.7v4.7h-4.7zM284.9 93.1h4.7v4.7h-4.7zM247.7 97.7h4.7v4.7h-4.7zM275.6 107h4.7v4.7h-4.7z"/>
<path fill="#fbd1ba" shape-rendering="crispEdges" d="M298.9 60.5h4.7v4.7h-4.7zM257 65.2h4.7v4.7h-4.7zM289.6 79.1h4.7v4.7h-4.7zM312.8 107h4.7v4.7h-4.7z"/>
<path fill="#f09c7b" shape-rendering="crispEdges" d="M303.5 60.5h4.7v4.7h-4.7z"/>
<path fill="#cf5347" shape-rendering="crispEdges" d="M308.1 60.5h4.7v4.7h-4.7z"/>
<path fill="#fde0ce" shape-rendering="crispEdges" d="M317.4 60.5h4.7v4.7h-4.7zM266.3 102.4h4.7v4.7h-4.7zM275.6 111.7h4.7v4.7h-4.7z"/>
<path fill="#fef2ea" shape-rendering="crispEdges" d="M252.3 65.2h4.7v4.7h-4.7zM257 107h4.7v4.7h-4.7z"/>
<path fill="#fcd4be" shape-rendering="crispEdges" d="M270.9 65.2h4.7v4.7h-4.7z"/>
<path fill="#feede3" shape-rendering="crispEdges" d="M303.5 65.2h4.7v4.7h-4.7zM261.6 74.5h4.7v4.7h-4.7zM261.6 102.4h4.7v4.7h-4.7zM312.8 111.7h4.7v4.7h-4.7zM317.4 111.7h4.7v4.7h-4.7z"/>
<path fill="#f7b698" shape-rendering="crispEdges" d="M308.1 65.2h4.7v4.7h-4.7z"/>
<path fill="#f9c3a9" shape-rendering="crispEdges" d="M317.4 65.2h4.7v4.7h-4.7zM298.9 88.4h4.7v4.7h-4.7zM289.6 93.1h4.7v4.7h-4.7zM266.3 107h4.7v4.7h-4.7zM270.9 111.7h4.7v4.7h-4.7z"/>
<path fill="#fee6d8" shape-rendering="crispEdges" d="M257 69.8h4.7v4.7h-4.7z"/>
<path fill="#ec9475" shape-rendering="crispEdges" d="M266.3 69.8h4.7v4.7h-4.7z"/>
<path fill="#feefe6" shape-rendering="crispEdges" d="M308.1 69.8h4.7v4.7h-4.7zM317.4 69.8h4.7v4.7h-4.7zM275.6 88.4h4.7v4.7h-4.7zM298.9 102.4h4.7v4.7h-4.7z"/>
<path fill="#fee8dc" shape-rendering="crispEdges" d="M312.8 69.8h4.7v4.7h-4.7zM308.1 107h4.7v4.7h-4.7z"/>
<path fill="#d25749" shape-rendering="crispEdges" d="M270.9 74.5h4.7v4.7h-4.7z"/>
<path fill="#9b1027" shape-rendering="crispEdges" d="M275.6 74.5h4.7v4.7h-4.7z"/>
<path fill="#cb4a42" shape-rendering="crispEdges" d="M280.2 74.5h4.7v4.7h-4.7zM275.6 79.1h4.7v4.7h-4.7z"/>
<path fill="#fbceb6" shape-rendering="crispEdges" d="M284.9 74.5h4.7v4.7h-4.7zM275.6 83.8h4.7v4.7h-4.7zM312.8 102.4h4.7v4.7h-4.7z"/>
<path fill="#fbfbfb" shape-rendering="crispEdges" d="M289.6 74.5h4.7v4.7h-4.7zM238.4 88.4h4.7v4.7h-4.7zM243.1 102.4h4.7v4.7h-4.7zM280.2 111.7h4.7v4.7h-4.7zM308.1 111.7h4.7v4.7h-4.7zM284.9 121h4.7v4.7h-4.7z"/>
<path fill="#ad172a" shape-rendering="crispEdges" d="M280.2 79.1h4.7v4.7h-4.7z"/>
<path fill="#d6604d" shape-rendering="crispEdges" d="M284.9 79.1h4.7v4.7h-4.7z"/>
<path fill="#cbcbcb" shape-rendering="crispEdges" d="M257 83.8h4.7v4.7h-4.7zM284.9 102.4h4.7v4.7h-4.7zM326.8 102.4h4.7v4.7h-4.7zM340.7 125.6h4.6v4.7h-4.6z"/>
<path fill="#ee9878" shape-rendering="crispEdges" d="M280.2 83.8h4.7v4.7h-4.7z"/>
<path fill="#f2a17f" shape-rendering="crispEdges" d="M289.6 83.8h4.7v4.7h-4.7z"/>
<path fill="#f7f7f7" shape-rendering="crispEdges" d="M243.1 88.4h4.7v4.7h-4.7zM303.5 88.4h4.7v4.7h-4.7zM252.3 93.1h4.7v4.7h-4.7zM275.6 93.1h4.7v4.7h-4.7zM252.3 102.4h4.7v4.7h-4.7zM294.2 102.4h4.7v4.7h-4.7zM247.7 107h4.7v4.7h-4.7zM252.3 107h4.7v4.7h-4.7zM284.9 125.6h4.7v4.7h-4.7z"/>
<path fill="#f7b99c" shape-rendering="crispEdges" d="M284.9 88.4h4.7v4.7h-4.7z"/>
<path fill="#d9d9d9" shape-rendering="crispEdges" d="M312.8 88.4h4.7v4.7h-4.7zM298.9 107h4.7v4.7h-4.7zM247.7 111.7h4.7v4.7h-4.7zM336.1 116.3h4.7v4.7h-4.7zM331.4 121h4.7v4.7h-4.7zM289.6 130.2h4.7v4.7h-4.7z"/>
<path fill="#6a6a6a" shape-rendering="crispEdges" d="M215.2 93.1h4.7v4.7h-4.7zM215.2 116.3h4.7v4.7h-4.7zM219.8 121h4.7v4.7h-4.7zM229.1 130.2h4.7v4.7h-4.7zM340.7 144.2h4.6v4.1h-4.6z"/>
<path fill="#fef6f1" shape-rendering="crispEdges" d="M243.1 93.1h4.7v4.7h-4.7zM261.6 116.3h4.7v4.7h-4.7zM270.9 121h4.7v4.7h-4.7zM275.6 121h4.7v4.7h-4.7z"/>
<path fill="#d45b4b" shape-rendering="crispEdges" d="M294.2 93.1h4.7v4.7h-4.7z"/>
<path fill="#c43c3c" shape-rendering="crispEdges" d="M298.9 93.1h4.7v4.7h-4.7z"/>
<path fill="#f6af8f" shape-rendering="crispEdges" d="M303.5 93.1h4.7v4.7h-4.7z"/>
<path fill="#de715a" shape-rendering="crispEdges" d="M298.9 97.7h4.7v4.7h-4.7zM303.5 97.7h4.7v4.7h-4.7z"/>
<path fill="#facab1" shape-rendering="crispEdges" d="M308.1 97.7h4.7v4.7h-4.7zM303.5 102.4h4.7v4.7h-4.7z"/>
<path fill="#fde2d2" shape-rendering="crispEdges" d="M317.4 102.4h4.7v4.7h-4.7zM266.3 116.3h4.7v4.7h-4.7z"/>
<path fill="#666666" shape-rendering="crispEdges" d="M210.5 116.3h4.7v4.7h-4.7zM219.8 116.3h4.7v4.7h-4.7zM238.4 139.6h4.7v4.7h-4.7z"/>
<path fill="#4a4a4a" shape-rendering="crispEdges" d="M210.5 121h4.7v4.7h-4.7z"/>
<path fill="#5c5c5c" shape-rendering="crispEdges" d="M243.1 139.6h4.7v4.7h-4.7zM243.1 144.2h4.7v4.1h-4.7z"/>
<rect x="210.5" y="14" width="134.8" height="134.3" fill="none" stroke="#000" stroke-width="1.6"/>
<path fill="#919191" shape-rendering="crispEdges" d="M354.5 14h4.7v4.7h-4.7zM447.5 14h4.7v4.7h-4.7zM470.8 14h4.7v4.7h-4.7zM359.1 18.6h4.7v4.7h-4.7zM377.8 18.6h4.7v4.7h-4.7zM428.9 18.6h4.7v4.7h-4.7zM466.1 28h4.7v4.7h-4.7zM470.8 28h4.7v4.7h-4.7zM354.5 37.2h4.7v4.7h-4.7zM382.4 37.2h4.7v4.7h-4.7zM354.5 41.9h4.7v4.7h-4.7zM456.8 41.9h4.7v4.7h-4.7zM461.4 41.9h4.7v4.7h-4.7zM359.1 51.2h4.7v4.7h-4.7zM447.5 55.9h4.7v4.7h-4.7zM470.8 55.9h4.7v4.7h-4.7zM475.4 55.9h4.7v4.7h-4.7zM456.8 69.8h4.7v4.7h-4.7zM475.4 88.4h4.7v4.7h-4.7zM484.7 88.4h4.3v4.7h-4.3zM466.1 93.1h4.7v4.7h-4.7zM359.1 97.7h4.7v4.7h-4.7zM475.4 97.7h4.7v4.7h-4.7zM480.1 97.7h4.7v4.7h-4.7zM359.1 102.4h4.7v4.7h-4.7zM359.1 116.3h4.7v4.7h-4.7zM484.7 116.3h4.3v4.7h-4.3zM354.5 121h4.7v4.7h-4.7zM368.4 125.6h4.7v4.7h-4.7zM484.7 125.6h4.3v4.7h-4.3zM387.1 144.2h4.7v4.1h-4.7z"/>
<path fill="#8a8a8a" shape-rendering="crispEdges" d="M359.1 14h4.7v4.7h-4.7zM373.1 14h4.7v4.7h-4.7zM401 14h4.7v4.7h-4.7zM410.3 14h4.7v4.7h-4.7zM428.9 14h4.7v4.7h-4.7zM461.4 14h4.7v4.7h-4.7zM410.3 18.6h4.7v4.7h-4.7zM452.1 18.6h4.7v4.7h-4.7zM456.8 32.6h4.7v4.7h-4.7zM461.4 32.6h4.7v4.7h-4.7zM466.1 41.9h4.7v4.7h-4.7zM456.8 51.2h4.7v4.7h-4.7zM480.1 51.2h4.7v4.7h-4.7zM452.1 55.9h4.7v4.7h-4.7zM480.1 55.9h4.7v4.7h-4.7zM452.1 60.5h4.7v4.7h-4.7zM461.4 69.8h4.7v4.7h-4.7zM363.8 79.1h4.7v4.7h-4.7zM461.4 83.8h4.7v4.7h-4.7zM480.1 107h4.7v4.7h-4.7zM484.7 107h4.3v4.7h-4.3zM373.1 134.9h4.7v4.7h-4.7zM377.8 134.9h4.7v4.7h-4.7zM363.8 139.6h4.7v4.7h-4.7zM382.4 139.6h4.7v4.7h-4.7zM484.7 144.2h4.3v4.1h-4.3z"/>
<path fill="#717171" shape-rendering="crispEdges" d="M363.8 14h4.7v4.7h-4.7zM456.8 14h4.7v4.7h-4.7zM456.8 18.6h4.7v4.7h-4.7zM354.5 55.9h4.7v4.7h-4.7zM480.1 65.2h4.7v4.7h-4.7zM475.4 69.8h4.7v4.7h-4.7z"/>
<path fill="#6a6a6a" shape-rendering="crispEdges" d="M368.4 14h4.7v4.7h-4.7zM480.1 23.3h4.7v4.7h-4.7zM484.7 23.3h4.3v4.7h-4.3zM475.4 32.6h4.7v4.7h-4.7zM480.1 41.9h4.7v4.7h-4.7zM461.4 55.9h4.7v4.7h-4.7zM466.1 65.2h4.7v4.7h-4.7zM475.4 65.2h4.7v4.7h-4.7zM354.5 88.4h4.7v4.7h-4.7zM354.5 93.1h4.7v4.7h-4.7zM354.5 134.9h4.7v4.7h-4.7zM359.1 134.9h4.7v4.7h-4.7zM359.1 139.6h4.7v4.7h-4.7z"/>
<path fill="#a0a0a0" shape-rendering="crispEdges" d="M377.8 14h4.7v4.7h-4.7zM433.6 14h4.7v4.7h-4.7zM433.6 18.6h4.7v4.7h-4.7zM354.5 23.3h4.7v4.7h-4.7zM373.1 28h4.7v4.7h-4.7zM438.2 28h4.7v4.7h-4.7zM359.1 37.2h4.7v4.7h-4.7zM387.1 41.9h4.7v4.7h-4.7zM359.1 46.6h4.7v4.7h-4.7zM452.1 46.6h4.7v4.7h-4.7zM442.9 51.2h4.7v4.7h-4.7zM442.9 55.9h4.7v4.7h-4.7zM452.1 69.8h4.7v4.7h-4.7zM456.8 74.5h4.7v4.7h-4.7zM368.4 83.8h4.7v4.7h-4.7zM373.1 83.8h4.7v4.7h-4.7zM475.4 107h4.7v4.7h-4.7zM475.4 125.6h4.7v4.7h-4.7zM484.7 130.2h4.3v4.7h-4.3z"/>
<path fill="#a4a4a4" shape-rendering="crispEdges" d="M382.4 14h4.7v4.7h-4.7zM414.9 14h4.7v4.7h-4.7zM387.1 18.6h4.7v4.7h-4.7zM396.4 18.6h4.7v4.7h-4.7zM419.6 18.6h4.7v4.7h-4.7zM438.2 18.6h4.7v4.7h-4.7zM447.5 18.6h4.7v4.7h-4.7zM410.3 23.3h4.7v4.7h-4.7zM424.2 23.3h4.7v4.7h-4.7zM433.6 23.3h4.7v4.7h-4.7zM442.9 23.3h4.7v4.7h-4.7zM452.1 23.3h4.7v4.7h-4.7zM368.4 28h4.7v4.7h-4.7zM442.9 28h4.7v4.7h-4.7zM373.1 37.2h4.7v4.7h-4.7zM433.6 41.9h4.7v4.7h-4.7zM368.4 74.5h4.7v4.7h-4.7zM363.8 93.1h4.7v4.7h-4.7zM461.4 93.1h4.7v4.7h-4.7zM466.1 97.7h4.7v4.7h-4.7zM475.4 111.7h4.7v4.7h-4.7zM363.8 116.3h4.7v4.7h-4.7zM466.1 139.6h4.7v4.7h-4.7zM419.6 144.2h4.7v4.1h-4.7zM466.1 144.2h4.7v4.1h-4.7zM480.1 144.2h4.7v4.1h-4.7z"/>
<path fill="#9d9d9d" shape-rendering="crispEdges" d="M387.1 14h4.7v4.7h-4.7zM419.6 14h4.7v4.7h-4.7zM382.4 18.6h4.7v4.7h-4.7zM391.7 18.6h4.7v4.7h-4.7zM401 18.6h4.7v4.7h-4.7zM359.1 23.3h4.7v4.7h-4.7zM382.4 23.3h4.7v4.7h-4.7zM470.8 23.3h4.7v4.7h-4.7zM354.5 28h4.7v4.7h-4.7zM359.1 28h4.7v4.7h-4.7zM447.5 51.2h4.7v4.7h-4.7zM363.8 60.5h4.7v4.7h-4.7zM368.4 79.1h4.7v4.7h-4.7zM466.1 83.8h4.7v4.7h-4.7zM475.4 83.8h4.7v4.7h-4.7zM484.7 97.7h4.3v4.7h-4.3zM475.4 116.3h4.7v4.7h-4.7zM363.8 121h4.7v4.7h-4.7zM480.1 130.2h4.7v4.7h-4.7zM363.8 144.2h4.7v4.1h-4.7z"/>
<path fill="#9a9a9a" shape-rendering="crispEdges" d="M391.7 14h4.7v4.7h-4.7zM480.1 14h4.7v4.7h-4.7zM368.4 23.3h4.7v4.7h-4.7zM438.2 23.3h4.7v4.7h-4.7zM363.8 28h4.7v4.7h-4.7zM452.1 37.2h4.7v4.7h-4.7zM452.1 41.9h4.7v4.7h-4.7zM363.8 65.2h4.7v4.7h-4.7zM363.8 69.8h4.7v4.7h-4.7zM470.8 79.1h4.7v4.7h-4.7zM480.1 83.8h4.7v4.7h-4.7zM363.8 88.4h4.7v4.7h-4.7zM470.8 88.4h4.7v4.7h-4.7zM470.8 97.7h4.7v4.7h-4.7zM359.1 121h4.7v4.7h-4.7zM475.4 121h4.7v4.7h-4.7zM359.1 125.6h4.7v4.7h-4.7zM480.1 139.6h4.7v4.7h-4.7zM410.3 144.2h4.7v4.1h-4.7zM414.9 144.2h4.7v4.1h-4.7z"/>
<path fill="#949494" shape-rendering="crispEdges" d="M396.4 14h4.7v4.7h-4.7zM466.1 14h4.7v4.7h-4.7zM475.4 14h4.7v4.7h-4.7zM466.1 18.6h4.7v4.7h-4.7zM470.8 18.6h4.7v4.7h-4.7zM363.8 23.3h4.7v4.7h-4.7zM359.1 32.6h4.7v4.7h-4.7zM382.4 41.9h4.7v4.7h-4.7zM456.8 46.6h4.7v4.7h-4.7zM461.4 46.6h4.7v4.7h-4.7zM452.1 51.2h4.7v4.7h-4.7zM359.1 65.2h4.7v4.7h-4.7zM452.1 65.2h4.7v4.7h-4.7zM466.1 88.4h4.7v4.7h-4.7zM484.7 93.1h4.3v4.7h-4.3zM475.4 102.4h4.7v4.7h-4.7zM354.5 125.6h4.7v4.7h-4.7zM363.8 125.6h4.7v4.7h-4.7zM480.1 134.9h4.7v4.7h-4.7zM373.1 144.2h4.7v4.1h-4.7z"/>
<path fill="#787878" shape-rendering="crispEdges" d="M405.6 14h4.7v4.7h-4.7zM461.4 28h4.7v4.7h-4.7zM470.8 37.2h4.7v4.7h-4.7zM470.8 41.9h4.7v4.7h-4.7zM480.1 46.6h4.7v4.7h-4.7zM354.5 51.2h4.7v4.7h-4.7zM466.1 55.9h4.7v4.7h-4.7zM354.5 60.5h4.7v4.7h-4.7zM456.8 60.5h4.7v4.7h-4.7zM470.8 60.5h4.7v4.7h-4.7zM470.8 69.8h4.7v4.7h-4.7zM359.1 79.1h4.7v4.7h-4.7zM363.8 134.9h4.7v4.7h-4.7z"/>
<path fill="#878787" shape-rendering="crispEdges" d="M424.2 14h4.7v4.7h-4.7zM484.7 14h4.3v4.7h-4.3zM480.1 18.6h4.7v4.7h-4.7zM456.8 28h4.7v4.7h-4.7zM466.1 37.2h4.7v4.7h-4.7zM354.5 46.6h4.7v4.7h-4.7zM466.1 46.6h4.7v4.7h-4.7zM484.7 46.6h4.3v4.7h-4.3zM461.4 51.2h4.7v4.7h-4.7zM466.1 51.2h4.7v4.7h-4.7zM484.7 51.2h4.3v4.7h-4.3zM484.7 55.9h4.3v4.7h-4.3zM480.1 79.1h4.7v4.7h-4.7zM484.7 79.1h4.3v4.7h-4.3zM354.5 102.4h4.7v4.7h-4.7zM480.1 121h4.7v4.7h-4.7zM354.5 130.2h4.7v4.7h-4.7zM368.4 134.9h4.7v4.7h-4.7zM373.1 139.6h4.7v4.7h-4.7z"/>
<path fill="#aaaaaa" shape-rendering="crispEdges" d="M438.2 14h4.7v4.7h-4.7zM442.9 18.6h4.7v4.7h-4.7zM391.7 23.3h4.7v4.7h-4.7zM382.4 28h4.7v4.7h-4.7zM438.2 32.6h4.7v4.7h-4.7zM447.5 32.6h4.7v4.7h-4.7zM438.2 37.2h4.7v4.7h-4.7zM447.5 37.2h4.7v4.7h-4.7zM373.1 41.9h4.7v4.7h-4.7zM363.8 55.9h4.7v4.7h-4.7zM470.8 83.8h4.7v4.7h-4.7zM470.8 102.4h4.7v4.7h-4.7zM470.8 116.3h4.7v4.7h-4.7zM368.4 121h4.7v4.7h-4.7zM470.8 121h4.7v4.7h-4.7zM475.4 130.2h4.7v4.7h-4.7zM466.1 134.9h4.7v4.7h-4.7z"/>
<path fill="#b0b0b0" shape-rendering="crispEdges" d="M442.9 14h4.7v4.7h-4.7zM373.1 32.6h4.7v4.7h-4.7zM363.8 37.2h4.7v4.7h-4.7zM368.4 37.2h4.7v4.7h-4.7zM447.5 41.9h4.7v4.7h-4.7zM447.5 46.6h4.7v4.7h-4.7zM368.4 88.4h4.7v4.7h-4.7zM373.1 88.4h4.7v4.7h-4.7zM363.8 97.7h4.7v4.7h-4.7zM363.8 111.7h4.7v4.7h-4.7zM470.8 134.9h4.7v4.7h-4.7zM475.4 139.6h4.7v4.7h-4.7z"/>
<path fill="#757575" shape-rendering="crispEdges" d="M452.1 14h4.7v4.7h-4.7zM475.4 60.5h4.7v4.7h-4.7zM480.1 60.5h4.7v4.7h-4.7zM354.5 79.1h4.7v4.7h-4.7zM354.5 107h4.7v4.7h-4.7z"/>
<path fill="#979797" shape-rendering="crispEdges" d="M354.5 18.6h4.7v4.7h-4.7zM466.1 23.3h4.7v4.7h-4.7zM363.8 32.6h4.7v4.7h-4.7zM377.8 37.2h4.7v4.7h-4.7zM387.1 37.2h4.7v4.7h-4.7zM447.5 60.5h4.7v4.7h-4.7zM354.5 65.2h4.7v4.7h-4.7zM354.5 69.8h4.7v4.7h-4.7zM359.1 69.8h4.7v4.7h-4.7zM461.4 74.5h4.7v4.7h-4.7zM456.8 79.1h4.7v4.7h-4.7zM466.1 79.1h4.7v4.7h-4.7zM484.7 83.8h4.3v4.7h-4.3zM461.4 88.4h4.7v4.7h-4.7zM480.1 111.7h4.7v4.7h-4.7zM484.7 111.7h4.3v4.7h-4.3zM480.1 125.6h4.7v4.7h-4.7zM373.1 130.2h4.7v4.7h-4.7zM368.4 139.6h4.7v4.7h-4.7z"/>
<path fill="#808080" shape-rendering="crispEdges" d="M363.8 18.6h4.7v4.7h-4.7zM484.7 37.2h4.3v4.7h-4.3zM484.7 41.9h4.3v4.7h-4.3zM456.8 65.2h4.7v4.7h-4.7zM484.7 65.2h4.3v4.7h-4.3zM466.1 69.8h4.7v4.7h-4.7zM359.1 88.4h4.7v4.7h-4.7zM475.4 93.1h4.7v4.7h-4.7zM354.5 97.7h4.7v4.7h-4.7zM484.7 121h4.3v4.7h-4.3zM363.8 130.2h4.7v4.7h-4.7zM368.4 130.2h4.7v4.7h-4.7z"/>
<path fill="#7c7c7c" shape-rendering="crispEdges" d="M368.4 18.6h4.7v4.7h-4.7zM456.8 23.3h4.7v4.7h-4.7zM461.4 23.3h4.7v4.7h-4.7zM475.4 23.3h4.7v4.7h-4.7zM470.8 46.6h4.7v4.7h-4.7zM359.1 55.9h4.7v4.7h-4.7zM456.8 55.9h4.7v4.7h-4.7zM354.5 74.5h4.7v4.7h-4.7zM354.5 83.8h4.7v4.7h-4.7zM359.1 83.8h4.7v4.7h-4.7zM484.7 139.6h4.3v4.7h-4.3zM359.1 144.2h4.7v4.1h-4.7z"/>
<path fill="#838383" shape-rendering="crispEdges" d="M373.1 18.6h4.7v4.7h-4.7zM405.6 18.6h4.7v4.7h-4.7zM461.4 18.6h4.7v4.7h-4.7zM484.7 18.6h4.3v4.7h-4.3zM470.8 32.6h4.7v4.7h-4.7zM359.1 60.5h4.7v4.7h-4.7zM484.7 60.5h4.3v4.7h-4.3zM359.1 74.5h4.7v4.7h-4.7zM470.8 74.5h4.7v4.7h-4.7zM359.1 93.1h4.7v4.7h-4.7zM480.1 93.1h4.7v4.7h-4.7zM480.1 102.4h4.7v4.7h-4.7zM484.7 102.4h4.3v4.7h-4.3zM359.1 107h4.7v4.7h-4.7zM359.1 111.7h4.7v4.7h-4.7zM354.5 116.3h4.7v4.7h-4.7zM359.1 130.2h4.7v4.7h-4.7z"/>
<path fill="#a7a7a7" shape-rendering="crispEdges" d="M414.9 18.6h4.7v4.7h-4.7zM428.9 23.3h4.7v4.7h-4.7zM377.8 28h4.7v4.7h-4.7zM433.6 28h4.7v4.7h-4.7zM368.4 32.6h4.7v4.7h-4.7zM442.9 32.6h4.7v4.7h-4.7zM452.1 32.6h4.7v4.7h-4.7zM438.2 41.9h4.7v4.7h-4.7zM456.8 83.8h4.7v4.7h-4.7zM475.4 134.9h4.7v4.7h-4.7zM410.3 139.6h4.7v4.7h-4.7zM414.9 139.6h4.7v4.7h-4.7zM368.4 144.2h4.7v4.1h-4.7z"/>
<path fill="#8d8d8d" shape-rendering="crispEdges" d="M424.2 18.6h4.7v4.7h-4.7zM475.4 18.6h4.7v4.7h-4.7zM373.1 23.3h4.7v4.7h-4.7zM377.8 23.3h4.7v4.7h-4.7zM354.5 32.6h4.7v4.7h-4.7zM466.1 32.6h4.7v4.7h-4.7zM456.8 37.2h4.7v4.7h-4.7zM461.4 37.2h4.7v4.7h-4.7zM377.8 41.9h4.7v4.7h-4.7zM470.8 51.2h4.7v4.7h-4.7zM475.4 51.2h4.7v4.7h-4.7zM363.8 74.5h4.7v4.7h-4.7zM466.1 74.5h4.7v4.7h-4.7zM461.4 79.1h4.7v4.7h-4.7zM475.4 79.1h4.7v4.7h-4.7zM363.8 83.8h4.7v4.7h-4.7zM480.1 88.4h4.7v4.7h-4.7zM470.8 93.1h4.7v4.7h-4.7zM480.1 116.3h4.7v4.7h-4.7zM484.7 134.9h4.3v4.7h-4.3z"/>
<path fill="#adadad" shape-rendering="crispEdges" d="M387.1 23.3h4.7v4.7h-4.7zM396.4 23.3h4.7v4.7h-4.7zM405.6 23.3h4.7v4.7h-4.7zM414.9 23.3h4.7v4.7h-4.7zM452.1 28h4.7v4.7h-4.7zM382.4 32.6h4.7v4.7h-4.7zM387.1 32.6h4.7v4.7h-4.7zM433.6 37.2h4.7v4.7h-4.7zM442.9 37.2h4.7v4.7h-4.7zM359.1 41.9h4.7v4.7h-4.7zM438.2 46.6h4.7v4.7h-4.7zM373.1 79.1h4.7v4.7h-4.7zM470.8 139.6h4.7v4.7h-4.7zM461.4 144.2h4.7v4.1h-4.7zM470.8 144.2h4.7v4.1h-4.7z"/>
<path fill="#bababa" shape-rendering="crispEdges" d="M401 23.3h4.7v4.7h-4.7zM414.9 28h4.7v4.7h-4.7zM391.7 32.6h4.7v4.7h-4.7zM442.9 41.9h4.7v4.7h-4.7zM433.6 46.6h4.7v4.7h-4.7zM438.2 51.2h4.7v4.7h-4.7zM377.8 88.4h4.7v4.7h-4.7zM466.1 116.3h4.7v4.7h-4.7zM466.1 130.2h4.7v4.7h-4.7zM470.8 130.2h4.7v4.7h-4.7zM405.6 144.2h4.7v4.1h-4.7z"/>
<path fill="#b4b4b4" shape-rendering="crispEdges" d="M419.6 23.3h4.7v4.7h-4.7zM447.5 23.3h4.7v4.7h-4.7zM391.7 28h4.7v4.7h-4.7zM428.9 28h4.7v4.7h-4.7zM377.8 32.6h4.7v4.7h-4.7zM433.6 32.6h4.7v4.7h-4.7zM391.7 37.2h4.7v4.7h-4.7zM391.7 41.9h4.7v4.7h-4.7zM442.9 46.6h4.7v4.7h-4.7zM452.1 74.5h4.7v4.7h-4.7zM461.4 97.7h4.7v4.7h-4.7zM470.8 107h4.7v4.7h-4.7zM470.8 125.6h4.7v4.7h-4.7zM461.4 139.6h4.7v4.7h-4.7zM391.7 144.2h4.7v4.1h-4.7zM475.4 144.2h4.7v4.1h-4.7z"/>
<path fill="#b7b7b7" shape-rendering="crispEdges" d="M387.1 28h4.7v4.7h-4.7zM447.5 28h4.7v4.7h-4.7zM447.5 65.2h4.7v4.7h-4.7zM466.1 102.4h4.7v4.7h-4.7zM470.8 111.7h4.7v4.7h-4.7zM461.4 134.9h4.7v4.7h-4.7z"/>
<path fill="#bfbfbf" shape-rendering="crispEdges" d="M396.4 28h4.7v4.7h-4.7zM424.2 32.6h4.7v4.7h-4.7zM387.1 46.6h4.7v4.7h-4.7zM396.4 46.6h4.7v4.7h-4.7zM363.8 102.4h4.7v4.7h-4.7zM363.8 107h4.7v4.7h-4.7zM373.1 125.6h4.7v4.7h-4.7zM461.4 130.2h4.7v4.7h-4.7z"/>
<path fill="#d4d4d4" shape-rendering="crispEdges" d="M401 28h4.7v4.7h-4.7zM396.4 32.6h4.7v4.7h-4.7zM438.2 55.9h4.7v4.7h-4.7zM396.4 60.5h4.7v4.7h-4.7zM405.6 60.5h4.7v4.7h-4.7zM387.1 97.7h4.7v4.7h-4.7zM419.6 134.9h4.7v4.7h-4.7zM424.2 139.6h4.7v4.7h-4.7zM456.8 139.6h4.7v4.7h-4.7z"/>
<path fill="#d9d9d9" shape-rendering="crispEdges" d="M405.6 28h4.7v4.7h-4.7zM414.9 32.6h4.7v4.7h-4.7zM368.4 46.6h4.7v4.7h-4.7zM387.1 51.2h4.7v4.7h-4.7zM368.4 60.5h4.7v4.7h-4.7zM428.9 97.7h4.7v4.7h-4.7zM461.4 107h4.7v4.7h-4.7zM447.5 116.3h4.7v4.7h-4.7z"/>
<path fill="#c8c8c8" shape-rendering="crispEdges" d="M410.3 28h4.7v4.7h-4.7zM363.8 41.9h4.7v4.7h-4.7zM382.4 46.6h4.7v4.7h-4.7zM401 51.2h4.7v4.7h-4.7zM401 60.5h4.7v4.7h-4.7zM368.4 65.2h4.7v4.7h-4.7zM373.1 93.1h4.7v4.7h-4.7zM461.4 121h4.7v4.7h-4.7zM456.8 125.6h4.7v4.7h-4.7zM452.1 130.2h4.7v4.7h-4.7zM405.6 139.6h4.7v4.7h-4.7zM456.8 144.2h4.7v4.1h-4.7z"/>
<path fill="#bcbcbc" shape-rendering="crispEdges" d="M419.6 28h4.7v4.7h-4.7zM424.2 28h4.7v4.7h-4.7zM428.9 32.6h4.7v4.7h-4.7zM428.9 37.2h4.7v4.7h-4.7zM391.7 46.6h4.7v4.7h-4.7zM363.8 51.2h4.7v4.7h-4.7zM396.4 51.2h4.7v4.7h-4.7zM396.4 55.9h4.7v4.7h-4.7zM377.8 83.8h4.7v4.7h-4.7zM368.4 93.1h4.7v4.7h-4.7zM466.1 121h4.7v4.7h-4.7zM452.1 125.6h4.7v4.7h-4.7zM419.6 139.6h4.7v4.7h-4.7zM396.4 144.2h4.7v4.1h-4.7zM424.2 144.2h4.7v4.1h-4.7z"/>
<path fill="#6e6e6e" shape-rendering="crispEdges" d="M475.4 28h4.7v4.7h-4.7zM484.7 32.6h4.3v4.7h-4.3zM480.1 37.2h4.7v4.7h-4.7zM475.4 46.6h4.7v4.7h-4.7zM461.4 65.2h4.7v4.7h-4.7zM470.8 65.2h4.7v4.7h-4.7zM475.4 74.5h4.7v4.7h-4.7zM354.5 111.7h4.7v4.7h-4.7z"/>
<path fill="#585858" shape-rendering="crispEdges" d="M480.1 28h4.7v4.7h-4.7z"/>
<path fill="#5f5f5f" shape-rendering="crispEdges" d="M484.7 28h4.3v4.7h-4.3zM480.1 74.5h4.7v4.7h-4.7zM484.7 74.5h4.3v4.7h-4.3z"/>
<path fill="#e8e8e8" shape-rendering="crispEdges" d="M401 32.6h4.7v4.7h-4.7zM410.3 65.2h4.7v4.7h-4.7zM373.1 69.8h4.7v4.7h-4.7zM428.9 93.1h4.7v4.7h-4.7zM391.7 97.7h4.7v4.7h-4.7zM368.4 102.4h4.7v4.7h-4.7zM428.9 102.4h4.7v4.7h-4.7zM442.9 111.7h4.7v4.7h-4.7zM401 121h4.7v4.7h-4.7zM447.5 144.2h4.7v4.1h-4.7z"/>
<path fill="#f3f3f3" shape-rendering="crispEdges" d="M405.6 32.6h4.7v4.7h-4.7zM373.1 51.2h4.7v4.7h-4.7zM410.3 79.1h4.7v4.7h-4.7zM419.6 79.1h4.7v4.7h-4.7zM387.1 88.4h4.7v4.7h-4.7zM433.6 97.7h4.7v4.7h-4.7zM396.4 107h4.7v4.7h-4.7zM396.4 111.7h4.7v4.7h-4.7zM438.2 111.7h4.7v4.7h-4.7zM401 116.3h4.7v4.7h-4.7zM410.3 121h4.7v4.7h-4.7z"/>
<path fill="#f0f0f0" shape-rendering="crispEdges" d="M410.3 32.6h4.7v4.7h-4.7zM405.6 51.2h4.7v4.7h-4.7zM452.1 83.8h4.7v4.7h-4.7zM419.6 88.4h4.7v4.7h-4.7zM438.2 107h4.7v4.7h-4.7zM456.8 111.7h4.7v4.7h-4.7zM382.4 130.2h4.7v4.7h-4.7zM419.6 130.2h4.7v4.7h-4.7z"/>
<path fill="#cbcbcb" shape-rendering="crispEdges" d="M419.6 32.6h4.7v4.7h-4.7zM424.2 37.2h4.7v4.7h-4.7zM363.8 46.6h4.7v4.7h-4.7zM456.8 88.4h4.7v4.7h-4.7zM382.4 93.1h4.7v4.7h-4.7zM461.4 102.4h4.7v4.7h-4.7zM368.4 116.3h4.7v4.7h-4.7zM428.9 144.2h4.7v4.1h-4.7z"/>
<path fill="#666666" shape-rendering="crispEdges" d="M480.1 32.6h4.7v4.7h-4.7zM475.4 37.2h4.7v4.7h-4.7zM466.1 60.5h4.7v4.7h-4.7zM480.1 69.8h4.7v4.7h-4.7zM484.7 69.8h4.3v4.7h-4.3zM377.8 139.6h4.7v4.7h-4.7zM382.4 144.2h4.7v4.1h-4.7z"/>
<path fill="#cfcfcf" shape-rendering="crispEdges" d="M396.4 37.2h4.7v4.7h-4.7zM401 46.6h4.7v4.7h-4.7z"/>
<path fill="#e2e2e2" shape-rendering="crispEdges" d="M401 37.2h4.7v4.7h-4.7zM391.7 102.4h4.7v4.7h-4.7zM452.1 134.9h4.7v4.7h-4.7zM401 139.6h4.7v4.7h-4.7z"/>
<path fill="#f9f9f9" shape-rendering="crispEdges" d="M405.6 37.2h4.7v4.7h-4.7zM377.8 51.2h4.7v4.7h-4.7zM438.2 60.5h4.7v4.7h-4.7zM405.6 74.5h4.7v4.7h-4.7zM438.2 102.4h4.7v4.7h-4.7zM456.8 107h4.7v4.7h-4.7zM414.9 125.6h4.7v4.7h-4.7zM433.6 139.6h4.7v4.7h-4.7z"/>
<path fill="#feefe6" shape-rendering="crispEdges" d="M410.3 37.2h4.7v4.7h-4.7zM377.8 69.8h4.7v4.7h-4.7zM387.1 130.2h4.7v4.7h-4.7z"/>
<path fill="#ffffff" shape-rendering="crispEdges" d="M414.9 37.2h4.7v4.7h-4.7zM387.1 60.5h4.7v4.7h-4.7zM424.2 83.8h4.7v4.7h-4.7zM396.4 121h4.7v4.7h-4.7zM438.2 139.6h4.7v4.7h-4.7z"/>
<path fill="#e4e4e4" shape-rendering="crispEdges" d="M419.6 37.2h4.7v4.7h-4.7zM428.9 46.6h4.7v4.7h-4.7zM368.4 51.2h4.7v4.7h-4.7zM387.1 55.9h4.7v4.7h-4.7zM391.7 60.5h4.7v4.7h-4.7zM447.5 74.5h4.7v4.7h-4.7zM382.4 83.8h4.7v4.7h-4.7zM456.8 97.7h4.7v4.7h-4.7zM433.6 102.4h4.7v4.7h-4.7zM405.6 121h4.7v4.7h-4.7zM405.6 130.2h4.7v4.7h-4.7zM396.4 139.6h4.7v4.7h-4.7z"/>
<path fill="#c6c6c6" shape-rendering="crispEdges" d="M368.4 41.9h4.7v4.7h-4.7zM428.9 41.9h4.7v4.7h-4.7zM391.7 55.9h4.7v4.7h-4.7zM373.1 74.5h4.7v4.7h-4.7zM452.1 79.1h4.7v4.7h-4.7zM466.1 107h4.7v4.7h-4.7zM461.4 116.3h4.7v4.7h-4.7zM452.1 121h4.7v4.7h-4.7zM377.8 130.2h4.7v4.7h-4.7zM382.4 134.9h4.7v4.7h-4.7zM414.9 134.9h4.7v4.7h-4.7zM401 144.2h4.7v4.1h-4.7z"/>
<path fill="#c4c4c4" shape-rendering="crispEdges" d="M396.4 41.9h4.7v4.7h-4.7zM377.8 46.6h4.7v4.7h-4.7zM391.7 51.2h4.7v4.7h-4.7zM442.9 60.5h4.7v4.7h-4.7zM466.1 125.6h4.7v4.7h-4.7zM456.8 130.2h4.7v4.7h-4.7zM410.3 134.9h4.7v4.7h-4.7z"/>
<path fill="#d6d6d6" shape-rendering="crispEdges" d="M401 41.9h4.7v4.7h-4.7zM410.3 74.5h4.7v4.7h-4.7zM414.9 74.5h4.7v4.7h-4.7zM410.3 130.2h4.7v4.7h-4.7zM433.6 144.2h4.7v4.1h-4.7zM438.2 144.2h4.7v4.1h-4.7z"/>
<path fill="#fbfbfb" shape-rendering="crispEdges" d="M405.6 41.9h4.7v4.7h-4.7zM382.4 79.1h4.7v4.7h-4.7zM447.5 79.1h4.7v4.7h-4.7zM396.4 102.4h4.7v4.7h-4.7zM396.4 116.3h4.7v4.7h-4.7zM391.7 134.9h4.7v4.7h-4.7zM442.9 139.6h4.7v4.7h-4.7z"/>
<path fill="#fbd1ba" shape-rendering="crispEdges" d="M410.3 41.9h4.7v4.7h-4.7zM377.8 111.7h4.7v4.7h-4.7zM377.8 116.3h4.7v4.7h-4.7z"/>
<path fill="#fcd4be" shape-rendering="crispEdges" d="M414.9 41.9h4.7v4.7h-4.7zM419.6 69.8h4.7v4.7h-4.7zM387.1 116.3h4.7v4.7h-4.7zM433.6 116.3h4.7v4.7h-4.7zM387.1 125.6h4.7v4.7h-4.7zM428.9 130.2h4.7v4.7h-4.7z"/>
<path fill="#fef6f1" shape-rendering="crispEdges" d="M419.6 41.9h4.7v4.7h-4.7zM391.7 65.2h4.7v4.7h-4.7zM373.1 111.7h4.7v4.7h-4.7zM391.7 116.3h4.7v4.7h-4.7zM438.2 116.3h4.7v4.7h-4.7zM396.4 130.2h4.7v4.7h-4.7zM428.9 134.9h4.7v4.7h-4.7zM442.9 134.9h4.7v4.7h-4.7z"/>
<path fill="#eeeeee" shape-rendering="crispEdges" d="M424.2 41.9h4.7v4.7h-4.7zM442.9 65.2h4.7v4.7h-4.7zM414.9 69.8h4.7v4.7h-4.7zM419.6 83.8h4.7v4.7h-4.7zM456.8 102.4h4.7v4.7h-4.7zM368.4 107h4.7v4.7h-4.7zM387.1 134.9h4.7v4.7h-4.7zM424.2 134.9h4.7v4.7h-4.7z"/>
<path fill="#636363" shape-rendering="crispEdges" d="M475.4 41.9h4.7v4.7h-4.7zM354.5 139.6h4.7v4.7h-4.7zM354.5 144.2h4.7v4.1h-4.7zM377.8 144.2h4.7v4.1h-4.7z"/>
<path fill="#cdcdcd" shape-rendering="crispEdges" d="M373.1 46.6h4.7v4.7h-4.7zM410.3 69.8h4.7v4.7h-4.7zM377.8 93.1h4.7v4.7h-4.7zM456.8 121h4.7v4.7h-4.7zM461.4 125.6h4.7v4.7h-4.7z"/>
<path fill="#f7f7f7" shape-rendering="crispEdges" d="M405.6 46.6h4.7v4.7h-4.7zM373.1 65.2h4.7v4.7h-4.7zM373.1 116.3h4.7v4.7h-4.7zM442.9 121h4.7v4.7h-4.7zM401 130.2h4.7v4.7h-4.7z"/>
<path fill="#fbceb6" shape-rendering="crispEdges" d="M410.3 46.6h4.7v4.7h-4.7zM433.6 88.4h4.7v4.7h-4.7zM428.9 111.7h4.7v4.7h-4.7zM382.4 121h4.7v4.7h-4.7zM387.1 121h4.7v4.7h-4.7zM424.2 125.6h4.7v4.7h-4.7zM438.2 125.6h4.7v4.7h-4.7z"/>
<path fill="#f7b698" shape-rendering="crispEdges" d="M414.9 46.6h4.7v4.7h-4.7zM424.2 51.2h4.7v4.7h-4.7zM414.9 60.5h4.7v4.7h-4.7zM391.7 69.8h4.7v4.7h-4.7zM447.5 83.8h4.7v4.7h-4.7zM396.4 93.1h4.7v4.7h-4.7zM419.6 102.4h4.7v4.7h-4.7z"/>
<path fill="#fcd8c3" shape-rendering="crispEdges" d="M419.6 46.6h4.7v4.7h-4.7zM377.8 60.5h4.7v4.7h-4.7zM382.4 107h4.7v4.7h-4.7zM438.2 130.2h4.7v4.7h-4.7z"/>
<path fill="#fef4ee" shape-rendering="crispEdges" d="M424.2 46.6h4.7v4.7h-4.7zM419.6 74.5h4.7v4.7h-4.7zM414.9 88.4h4.7v4.7h-4.7zM373.1 107h4.7v4.7h-4.7zM387.1 107h4.7v4.7h-4.7zM452.1 107h4.7v4.7h-4.7z"/>
<path fill="#f1f1f1" shape-rendering="crispEdges" d="M382.4 51.2h4.7v4.7h-4.7zM414.9 83.8h4.7v4.7h-4.7zM391.7 107h4.7v4.7h-4.7zM452.1 111.7h4.7v4.7h-4.7zM447.5 139.6h4.7v4.7h-4.7z"/>
<path fill="#fdddca" shape-rendering="crispEdges" d="M410.3 51.2h4.7v4.7h-4.7zM433.6 60.5h4.7v4.7h-4.7zM387.1 111.7h4.7v4.7h-4.7z"/>
<path fill="#f5a886" shape-rendering="crispEdges" d="M414.9 51.2h4.7v4.7h-4.7zM419.6 65.2h4.7v4.7h-4.7zM433.6 125.6h4.7v4.7h-4.7z"/>
<path fill="#eb8f71" shape-rendering="crispEdges" d="M419.6 51.2h4.7v4.7h-4.7zM428.9 60.5h4.7v4.7h-4.7zM428.9 121h4.7v4.7h-4.7z"/>
<path fill="#fee6d8" shape-rendering="crispEdges" d="M428.9 51.2h4.7v4.7h-4.7zM387.1 83.8h4.7v4.7h-4.7zM428.9 83.8h4.7v4.7h-4.7zM405.6 111.7h4.7v4.7h-4.7z"/>
<path fill="#eaeaea" shape-rendering="crispEdges" d="M433.6 51.2h4.7v4.7h-4.7zM433.6 107h4.7v4.7h-4.7zM442.9 116.3h4.7v4.7h-4.7zM428.9 139.6h4.7v4.7h-4.7z"/>
<path fill="#e0e0e0" shape-rendering="crispEdges" d="M368.4 55.9h4.7v4.7h-4.7zM405.6 55.9h4.7v4.7h-4.7zM401 65.2h4.7v4.7h-4.7zM405.6 69.8h4.7v4.7h-4.7zM456.8 93.1h4.7v4.7h-4.7zM382.4 97.7h4.7v4.7h-4.7zM368.4 111.7h4.7v4.7h-4.7zM373.1 121h4.7v4.7h-4.7zM410.3 125.6h4.7v4.7h-4.7zM414.9 130.2h4.7v4.7h-4.7zM452.1 144.2h4.7v4.1h-4.7z"/>
<path fill="#fff8f4" shape-rendering="crispEdges" d="M373.1 55.9h4.7v4.7h-4.7zM433.6 55.9h4.7v4.7h-4.7zM373.1 60.5h4.7v4.7h-4.7zM377.8 102.4h4.7v4.7h-4.7zM424.2 102.4h4.7v4.7h-4.7zM447.5 107h4.7v4.7h-4.7zM396.4 125.6h4.7v4.7h-4.7zM424.2 130.2h4.7v4.7h-4.7z"/>
<path fill="#feebe0" shape-rendering="crispEdges" d="M377.8 55.9h4.7v4.7h-4.7zM382.4 74.5h4.7v4.7h-4.7zM424.2 79.1h4.7v4.7h-4.7zM396.4 97.7h4.7v4.7h-4.7zM419.6 97.7h4.7v4.7h-4.7zM377.8 121h4.7v4.7h-4.7zM382.4 125.6h4.7v4.7h-4.7zM391.7 130.2h4.7v4.7h-4.7z"/>
<path fill="#fffdfc" shape-rendering="crispEdges" d="M382.4 55.9h4.7v4.7h-4.7zM410.3 60.5h4.7v4.7h-4.7zM442.9 125.6h4.7v4.7h-4.7zM442.9 130.2h4.7v4.7h-4.7z"/>
<path fill="#c1c1c1" shape-rendering="crispEdges" d="M401 55.9h4.7v4.7h-4.7zM368.4 69.8h4.7v4.7h-4.7zM466.1 111.7h4.7v4.7h-4.7zM387.1 139.6h4.7v4.7h-4.7z"/>
<path fill="#fef2ea" shape-rendering="crispEdges" d="M410.3 55.9h4.7v4.7h-4.7zM442.9 69.8h4.7v4.7h-4.7zM414.9 121h4.7v4.7h-4.7z"/>
<path fill="#f2a17f" shape-rendering="crispEdges" d="M414.9 55.9h4.7v4.7h-4.7zM438.2 74.5h4.7v4.7h-4.7z"/>
<path fill="#cb4a42" shape-rendering="crispEdges" d="M419.6 55.9h4.7v4.7h-4.7zM424.2 60.5h4.7v4.7h-4.7zM396.4 88.4h4.7v4.7h-4.7zM410.3 93.1h4.7v4.7h-4.7z"/>
<path fill="#d25749" shape-rendering="crispEdges" d="M424.2 55.9h4.7v4.7h-4.7zM391.7 83.8h4.7v4.7h-4.7z"/>
<path fill="#f6b293" shape-rendering="crispEdges" d="M428.9 55.9h4.7v4.7h-4.7zM414.9 116.3h4.7v4.7h-4.7z"/>
<path fill="#fde2d2" shape-rendering="crispEdges" d="M382.4 60.5h4.7v4.7h-4.7zM438.2 65.2h4.7v4.7h-4.7zM405.6 79.1h4.7v4.7h-4.7zM377.8 107h4.7v4.7h-4.7z"/>
<path fill="#cd4e44" shape-rendering="crispEdges" d="M419.6 60.5h4.7v4.7h-4.7zM391.7 74.5h4.7v4.7h-4.7zM442.9 83.8h4.7v4.7h-4.7z"/>
<path fill="#5c5c5c" shape-rendering="crispEdges" d="M461.4 60.5h4.7v4.7h-4.7z"/>
<path fill="#fddbc7" shape-rendering="crispEdges" d="M377.8 65.2h4.7v4.7h-4.7zM387.1 65.2h4.7v4.7h-4.7zM396.4 69.8h4.7v4.7h-4.7zM438.2 121h4.7v4.7h-4.7z"/>
<path fill="#fac7ad" shape-rendering="crispEdges" d="M382.4 65.2h4.7v4.7h-4.7zM401 74.5h4.7v4.7h-4.7zM391.7 88.4h4.7v4.7h-4.7zM424.2 107h4.7v4.7h-4.7z"/>
<path fill="#f5f5f5" shape-rendering="crispEdges" d="M396.4 65.2h4.7v4.7h-4.7zM377.8 125.6h4.7v4.7h-4.7zM401 134.9h4.7v4.7h-4.7z"/>
<path fill="#d2d2d2" shape-rendering="crispEdges" d="M405.6 65.2h4.7v4.7h-4.7zM447.5 69.8h4.7v4.7h-4.7zM377.8 79.1h4.7v4.7h-4.7zM382.4 88.4h4.7v4.7h-4.7zM368.4 97.7h4.7v4.7h-4.7zM461.4 111.7h4.7v4.7h-4.7zM447.5 121h4.7v4.7h-4.7zM447.5 125.6h4.7v4.7h-4.7zM456.8 134.9h4.7v4.7h-4.7z"/>
<path fill="#feede3" shape-rendering="crispEdges" d="M414.9 65.2h4.7v4.7h-4.7zM452.1 88.4h4.7v4.7h-4.7zM433.6 93.1h4.7v4.7h-4.7zM419.6 125.6h4.7v4.7h-4.7z"/>
<path fill="#de715a" shape-rendering="crispEdges" d="M424.2 65.2h4.7v4.7h-4.7zM447.5 88.4h4.7v4.7h-4.7z"/>
<path fill="#df765e" shape-rendering="crispEdges" d="M428.9 65.2h4.7v4.7h-4.7zM433.6 69.8h4.7v4.7h-4.7zM442.9 93.1h4.7v4.7h-4.7zM414.9 107h4.7v4.7h-4.7zM414.9 111.7h4.7v4.7h-4.7zM424.2 116.3h4.7v4.7h-4.7z"/>
<path fill="#f5ac8b" shape-rendering="crispEdges" d="M433.6 65.2h4.7v4.7h-4.7zM433.6 83.8h4.7v4.7h-4.7zM438.2 93.1h4.7v4.7h-4.7z"/>
<path fill="#facab1" shape-rendering="crispEdges" d="M382.4 69.8h4.7v4.7h-4.7zM414.9 93.1h4.7v4.7h-4.7zM401 102.4h4.7v4.7h-4.7zM447.5 102.4h4.7v4.7h-4.7z"/>
<path fill="#f6af8f" shape-rendering="crispEdges" d="M387.1 69.8h4.7v4.7h-4.7zM387.1 79.1h4.7v4.7h-4.7zM410.3 88.4h4.7v4.7h-4.7zM447.5 97.7h4.7v4.7h-4.7zM433.6 121h4.7v4.7h-4.7zM428.9 125.6h4.7v4.7h-4.7z"/>
<path fill="#fffaf8" shape-rendering="crispEdges" d="M401 69.8h4.7v4.7h-4.7zM391.7 93.1h4.7v4.7h-4.7zM382.4 102.4h4.7v4.7h-4.7zM401 111.7h4.7v4.7h-4.7zM433.6 111.7h4.7v4.7h-4.7z"/>
<path fill="#e17a61" shape-rendering="crispEdges" d="M424.2 69.8h4.7v4.7h-4.7zM414.9 102.4h4.7v4.7h-4.7z"/>
<path fill="#d45b4b" shape-rendering="crispEdges" d="M428.9 69.8h4.7v4.7h-4.7z"/>
<path fill="#f7b99c" shape-rendering="crispEdges" d="M438.2 69.8h4.7v4.7h-4.7zM424.2 74.5h4.7v4.7h-4.7zM382.4 111.7h4.7v4.7h-4.7zM410.3 111.7h4.7v4.7h-4.7z"/>
<path fill="#ececec" shape-rendering="crispEdges" d="M377.8 74.5h4.7v4.7h-4.7zM377.8 97.7h4.7v4.7h-4.7zM387.1 102.4h4.7v4.7h-4.7zM401 125.6h4.7v4.7h-4.7zM447.5 134.9h4.7v4.7h-4.7z"/>
<path fill="#f09c7b" shape-rendering="crispEdges" d="M387.1 74.5h4.7v4.7h-4.7zM433.6 79.1h4.7v4.7h-4.7zM428.9 116.3h4.7v4.7h-4.7z"/>
<path fill="#da6954" shape-rendering="crispEdges" d="M396.4 74.5h4.7v4.7h-4.7zM401 79.1h4.7v4.7h-4.7z"/>
<path fill="#e37e64" shape-rendering="crispEdges" d="M428.9 74.5h4.7v4.7h-4.7zM401 97.7h4.7v4.7h-4.7zM419.6 107h4.7v4.7h-4.7z"/>
<path fill="#e58268" shape-rendering="crispEdges" d="M433.6 74.5h4.7v4.7h-4.7zM438.2 79.1h4.7v4.7h-4.7zM424.2 111.7h4.7v4.7h-4.7zM419.6 116.3h4.7v4.7h-4.7z"/>
<path fill="#fee4d5" shape-rendering="crispEdges" d="M442.9 74.5h4.7v4.7h-4.7zM391.7 121h4.7v4.7h-4.7z"/>
<path fill="#9f1228" shape-rendering="crispEdges" d="M391.7 79.1h4.7v4.7h-4.7zM401 88.4h4.7v4.7h-4.7z"/>
<path fill="#7a0622" shape-rendering="crispEdges" d="M396.4 79.1h4.7v4.7h-4.7z"/>
<path fill="#dedede" shape-rendering="crispEdges" d="M414.9 79.1h4.7v4.7h-4.7zM387.1 93.1h4.7v4.7h-4.7zM456.8 116.3h4.7v4.7h-4.7zM405.6 125.6h4.7v4.7h-4.7zM442.9 144.2h4.7v4.1h-4.7z"/>
<path fill="#f9c3a9" shape-rendering="crispEdges" d="M428.9 79.1h4.7v4.7h-4.7zM419.6 121h4.7v4.7h-4.7z"/>
<path fill="#f8c0a4" shape-rendering="crispEdges" d="M442.9 79.1h4.7v4.7h-4.7zM442.9 97.7h4.7v4.7h-4.7zM433.6 130.2h4.7v4.7h-4.7z"/>
<path fill="#700320" shape-rendering="crispEdges" d="M396.4 83.8h4.7v4.7h-4.7z"/>
<path fill="#ad172a" shape-rendering="crispEdges" d="M401 83.8h4.7v4.7h-4.7z"/>
<path fill="#f4a582" shape-rendering="crispEdges" d="M405.6 83.8h4.7v4.7h-4.7z"/>
<path fill="#fee8dc" shape-rendering="crispEdges" d="M410.3 83.8h4.7v4.7h-4.7zM438.2 97.7h4.7v4.7h-4.7zM442.9 102.4h4.7v4.7h-4.7zM401 107h4.7v4.7h-4.7zM410.3 116.3h4.7v4.7h-4.7z"/>
<path fill="#d6604d" shape-rendering="crispEdges" d="M438.2 83.8h4.7v4.7h-4.7zM419.6 111.7h4.7v4.7h-4.7z"/>
<path fill="#c43c3c" shape-rendering="crispEdges" d="M405.6 88.4h4.7v4.7h-4.7z"/>
<path fill="#e6e6e6" shape-rendering="crispEdges" d="M424.2 88.4h4.7v4.7h-4.7zM373.1 97.7h4.7v4.7h-4.7zM424.2 97.7h4.7v4.7h-4.7zM447.5 111.7h4.7v4.7h-4.7zM452.1 139.6h4.7v4.7h-4.7z"/>
<path fill="#fdfdfd" shape-rendering="crispEdges" d="M428.9 88.4h4.7v4.7h-4.7zM419.6 93.1h4.7v4.7h-4.7zM373.1 102.4h4.7v4.7h-4.7zM428.9 107h4.7v4.7h-4.7zM442.9 107h4.7v4.7h-4.7zM391.7 111.7h4.7v4.7h-4.7zM405.6 116.3h4.7v4.7h-4.7zM396.4 134.9h4.7v4.7h-4.7z"/>
<path fill="#d86450" shape-rendering="crispEdges" d="M438.2 88.4h4.7v4.7h-4.7z"/>
<path fill="#b92631" shape-rendering="crispEdges" d="M442.9 88.4h4.7v4.7h-4.7z"/>
<path fill="#bd2e36" shape-rendering="crispEdges" d="M401 93.1h4.7v4.7h-4.7z"/>
<path fill="#880b24" shape-rendering="crispEdges" d="M405.6 93.1h4.7v4.7h-4.7z"/>
<path fill="#dbdbdb" shape-rendering="crispEdges" d="M424.2 93.1h4.7v4.7h-4.7zM452.1 116.3h4.7v4.7h-4.7zM447.5 130.2h4.7v4.7h-4.7zM405.6 134.9h4.7v4.7h-4.7zM391.7 139.6h4.7v4.7h-4.7z"/>
<path fill="#e98b6e" shape-rendering="crispEdges" d="M447.5 93.1h4.7v4.7h-4.7z"/>
<path fill="#fde0ce" shape-rendering="crispEdges" d="M452.1 93.1h4.7v4.7h-4.7zM452.1 97.7h4.7v4.7h-4.7zM452.1 102.4h4.7v4.7h-4.7zM391.7 125.6h4.7v4.7h-4.7zM433.6 134.9h4.7v4.7h-4.7zM438.2 134.9h4.7v4.7h-4.7z"/>
<path fill="#910e26" shape-rendering="crispEdges" d="M405.6 97.7h4.7v4.7h-4.7z"/>
<path fill="#a9152a" shape-rendering="crispEdges" d="M410.3 97.7h4.7v4.7h-4.7z"/>
<path fill="#ec9475" shape-rendering="crispEdges" d="M414.9 97.7h4.7v4.7h-4.7z"/>
<path fill="#dc6d57" shape-rendering="crispEdges" d="M405.6 102.4h4.7v4.7h-4.7z"/>
<path fill="#c2383a" shape-rendering="crispEdges" d="M410.3 102.4h4.7v4.7h-4.7z"/>
<path fill="#f8bda0" shape-rendering="crispEdges" d="M405.6 107h4.7v4.7h-4.7zM382.4 116.3h4.7v4.7h-4.7z"/>
<path fill="#e7876b" shape-rendering="crispEdges" d="M410.3 107h4.7v4.7h-4.7z"/>
<path fill="#ee9878" shape-rendering="crispEdges" d="M424.2 121h4.7v4.7h-4.7z"/>
<rect x="354.5" y="14" width="134.5" height="134.3" fill="none" stroke="#000" stroke-width="1.6"/>
<path fill="#a7a7a7" shape-rendering="crispEdges" d="M498.5 14h4.7v4.7h-4.7zM577.5 14h4.7v4.7h-4.7zM545 18.6h4.7v4.7h-4.7zM582.2 18.6h4.7v4.7h-4.7zM586.9 18.6h4.7v4.7h-4.7zM554.3 23.3h4.7v4.7h-4.7zM559 23.3h4.7v4.7h-4.7zM596.1 23.3h4.7v4.7h-4.7zM531 28h4.7v4.7h-4.7zM526.4 32.6h4.7v4.7h-4.7zM503.1 51.2h4.7v4.7h-4.7zM605.5 51.2h4.7v4.7h-4.7zM498.5 55.9h4.7v4.7h-4.7zM507.8 55.9h4.7v4.7h-4.7zM628.7 55.9h4.3v4.7h-4.3zM503.1 60.5h4.7v4.7h-4.7zM517.1 60.5h4.7v4.7h-4.7zM559 60.5h4.7v4.7h-4.7zM619.4 65.2h4.7v4.7h-4.7zM624 65.2h4.7v4.7h-4.7zM605.5 79.1h4.7v4.7h-4.7zM605.5 88.4h4.7v4.7h-4.7zM507.8 93.1h4.7v4.7h-4.7zM512.5 93.1h4.7v4.7h-4.7zM624 97.7h4.7v4.7h-4.7zM512.5 111.7h4.7v4.7h-4.7zM554.3 111.7h4.7v4.7h-4.7zM600.8 111.7h4.7v4.7h-4.7zM512.5 116.3h4.7v4.7h-4.7zM512.5 121h4.7v4.7h-4.7zM610.1 121h4.7v4.7h-4.7zM498.5 130.2h4.7v4.7h-4.7zM559 130.2h4.7v4.7h-4.7zM554.3 134.9h4.7v4.7h-4.7zM582.2 144.2h4.7v4.1h-4.7z"/>
<path fill="#949494" shape-rendering="crispEdges" d="M503.1 14h4.7v4.7h-4.7zM605.5 18.6h4.7v4.7h-4.7zM531 23.3h4.7v4.7h-4.7zM600.8 23.3h4.7v4.7h-4.7zM624 23.3h4.7v4.7h-4.7zM628.7 23.3h4.3v4.7h-4.3zM619.4 28h4.7v4.7h-4.7zM517.1 37.2h4.7v4.7h-4.7zM610.1 46.6h4.7v4.7h-4.7zM614.8 51.2h4.7v4.7h-4.7zM619.4 51.2h4.7v4.7h-4.7zM517.1 55.9h4.7v4.7h-4.7zM503.1 65.2h4.7v4.7h-4.7zM610.1 74.5h4.7v4.7h-4.7zM605.5 93.1h4.7v4.7h-4.7zM619.4 93.1h4.7v4.7h-4.7zM614.8 97.7h4.7v4.7h-4.7zM507.8 116.3h4.7v4.7h-4.7zM619.4 121h4.7v4.7h-4.7zM624 121h4.7v4.7h-4.7zM624 125.6h4.7v4.7h-4.7zM624 130.2h4.7v4.7h-4.7zM507.8 134.9h4.7v4.7h-4.7zM605.5 134.9h4.7v4.7h-4.7zM507.8 139.6h4.7v4.7h-4.7zM591.5 144.2h4.7v4.1h-4.7z"/>
<path fill="#6a6a6a" shape-rendering="crispEdges" d="M507.8 14h4.7v4.7h-4.7zM517.1 18.6h4.7v4.7h-4.7zM619.4 139.6h4.7v4.7h-4.7z"/>
<path fill="#4d4d4d" shape-rendering="crispEdges" d="M512.5 14h4.7v4.7h-4.7z"/>
<path fill="#666666" shape-rendering="crispEdges" d="M517.1 14h4.7v4.7h-4.7zM498.5 107h4.7v4.7h-4.7z"/>
<path fill="#838383" shape-rendering="crispEdges" d="M521.8 14h4.7v4.7h-4.7zM614.8 18.6h4.7v4.7h-4.7zM619.4 18.6h4.7v4.7h-4.7zM498.5 23.3h4.7v4.7h-4.7zM503.1 23.3h4.7v4.7h-4.7zM521.8 23.3h4.7v4.7h-4.7zM526.4 23.3h4.7v4.7h-4.7zM628.7 74.5h4.3v4.7h-4.3zM624 83.8h4.7v4.7h-4.7zM614.8 88.4h4.7v4.7h-4.7zM624 88.4h4.7v4.7h-4.7zM610.1 97.7h4.7v4.7h-4.7zM600.8 125.6h4.7v4.7h-4.7zM619.4 134.9h4.7v4.7h-4.7zM600.8 139.6h4.7v4.7h-4.7zM503.1 144.2h4.7v4.1h-4.7z"/>
<path fill="#757575" shape-rendering="crispEdges" d="M526.4 14h4.7v4.7h-4.7zM526.4 18.6h4.7v4.7h-4.7zM531 18.6h4.7v4.7h-4.7zM503.1 111.7h4.7v4.7h-4.7zM503.1 116.3h4.7v4.7h-4.7zM596.1 125.6h4.7v4.7h-4.7zM614.8 144.2h4.7v4.1h-4.7z"/>
<path fill="#5f5f5f" shape-rendering="crispEdges" d="M531 14h4.7v4.7h-4.7zM498.5 37.2h4.7v4.7h-4.7zM624 46.6h4.7v4.7h-4.7zM624 139.6h4.7v4.7h-4.7zM619.4 144.2h4.7v4.1h-4.7z"/>
<path fill="#787878" shape-rendering="crispEdges" d="M535.7 14h4.7v4.7h-4.7zM591.5 14h4.7v4.7h-4.7zM521.8 18.6h4.7v4.7h-4.7zM512.5 23.3h4.7v4.7h-4.7zM498.5 32.6h4.7v4.7h-4.7zM503.1 37.2h4.7v4.7h-4.7zM619.4 41.9h4.7v4.7h-4.7zM517.1 46.6h4.7v4.7h-4.7zM614.8 46.6h4.7v4.7h-4.7zM628.7 51.2h4.3v4.7h-4.3zM614.8 83.8h4.7v4.7h-4.7zM596.1 130.2h4.7v4.7h-4.7zM610.1 144.2h4.7v4.1h-4.7z"/>
<path fill="#919191" shape-rendering="crispEdges" d="M540.4 14h4.7v4.7h-4.7zM614.8 14h4.7v4.7h-4.7zM628.7 14h4.3v4.7h-4.3zM596.1 18.6h4.7v4.7h-4.7zM628.7 18.6h4.3v4.7h-4.3zM628.7 28h4.3v4.7h-4.3zM507.8 32.6h4.7v4.7h-4.7zM512.5 32.6h4.7v4.7h-4.7zM503.1 46.6h4.7v4.7h-4.7zM521.8 46.6h4.7v4.7h-4.7zM624 69.8h4.7v4.7h-4.7zM614.8 74.5h4.7v4.7h-4.7zM610.1 79.1h4.7v4.7h-4.7zM610.1 88.4h4.7v4.7h-4.7zM600.8 102.4h4.7v4.7h-4.7zM605.5 102.4h4.7v4.7h-4.7zM512.5 130.2h4.7v4.7h-4.7zM591.5 134.9h4.7v4.7h-4.7zM559 139.6h4.7v4.7h-4.7zM554.3 144.2h4.7v4.1h-4.7z"/>
<path fill="#9a9a9a" shape-rendering="crispEdges" d="M545 14h4.7v4.7h-4.7zM568.2 14h4.7v4.7h-4.7zM582.2 14h4.7v4.7h-4.7zM540.4 18.6h4.7v4.7h-4.7zM591.5 18.6h4.7v4.7h-4.7zM526.4 28h4.7v4.7h-4.7zM517.1 32.6h4.7v4.7h-4.7zM610.1 32.6h4.7v4.7h-4.7zM610.1 37.2h4.7v4.7h-4.7zM507.8 51.2h4.7v4.7h-4.7zM521.8 55.9h4.7v4.7h-4.7zM507.8 65.2h4.7v4.7h-4.7zM610.1 69.8h4.7v4.7h-4.7zM600.8 93.1h4.7v4.7h-4.7zM559 102.4h4.7v4.7h-4.7zM628.7 107h4.3v4.7h-4.3zM554.3 121h4.7v4.7h-4.7zM591.5 121h4.7v4.7h-4.7zM498.5 125.6h4.7v4.7h-4.7zM512.5 125.6h4.7v4.7h-4.7zM605.5 125.6h4.7v4.7h-4.7zM503.1 130.2h4.7v4.7h-4.7zM628.7 130.2h4.3v4.7h-4.3zM610.1 134.9h4.7v4.7h-4.7zM614.8 134.9h4.7v4.7h-4.7zM512.5 144.2h4.7v4.1h-4.7zM563.6 144.2h4.7v4.1h-4.7z"/>
<path fill="#9d9d9d" shape-rendering="crispEdges" d="M549.6 14h4.7v4.7h-4.7zM605.5 14h4.7v4.7h-4.7zM554.3 18.6h4.7v4.7h-4.7zM535.7 23.3h4.7v4.7h-4.7zM517.1 28h4.7v4.7h-4.7zM521.8 28h4.7v4.7h-4.7zM498.5 51.2h4.7v4.7h-4.7zM610.1 51.2h4.7v4.7h-4.7zM512.5 55.9h4.7v4.7h-4.7zM512.5 65.2h4.7v4.7h-4.7zM517.1 65.2h4.7v4.7h-4.7zM614.8 65.2h4.7v4.7h-4.7zM628.7 65.2h4.3v4.7h-4.3zM512.5 69.8h4.7v4.7h-4.7zM517.1 69.8h4.7v4.7h-4.7zM559 107h4.7v4.7h-4.7zM605.5 116.3h4.7v4.7h-4.7zM619.4 125.6h4.7v4.7h-4.7zM605.5 130.2h4.7v4.7h-4.7zM619.4 130.2h4.7v4.7h-4.7zM498.5 134.9h4.7v4.7h-4.7zM559 134.9h4.7v4.7h-4.7zM512.5 139.6h4.7v4.7h-4.7zM586.9 139.6h4.7v4.7h-4.7z"/>
<path fill="#a0a0a0" shape-rendering="crispEdges" d="M554.3 14h4.7v4.7h-4.7zM559 14h4.7v4.7h-4.7zM563.6 14h4.7v4.7h-4.7zM572.9 14h4.7v4.7h-4.7zM559 18.6h4.7v4.7h-4.7zM600.8 28h4.7v4.7h-4.7zM605.5 32.6h4.7v4.7h-4.7zM563.6 60.5h4.7v4.7h-4.7zM498.5 69.8h4.7v4.7h-4.7zM507.8 69.8h4.7v4.7h-4.7zM512.5 74.5h4.7v4.7h-4.7zM559 93.1h4.7v4.7h-4.7zM503.1 102.4h4.7v4.7h-4.7zM628.7 102.4h4.3v4.7h-4.3zM605.5 107h4.7v4.7h-4.7zM559 111.7h4.7v4.7h-4.7zM559 116.3h4.7v4.7h-4.7zM600.8 116.3h4.7v4.7h-4.7zM554.3 125.6h4.7v4.7h-4.7zM554.3 130.2h4.7v4.7h-4.7zM554.3 139.6h4.7v4.7h-4.7z"/>
<path fill="#878787" shape-rendering="crispEdges" d="M586.9 14h4.7v4.7h-4.7zM503.1 18.6h4.7v4.7h-4.7zM535.7 18.6h4.7v4.7h-4.7zM605.5 23.3h4.7v4.7h-4.7zM498.5 28h4.7v4.7h-4.7zM507.8 28h4.7v4.7h-4.7zM610.1 28h4.7v4.7h-4.7zM614.8 28h4.7v4.7h-4.7zM512.5 37.2h4.7v4.7h-4.7zM503.1 41.9h4.7v4.7h-4.7zM517.1 41.9h4.7v4.7h-4.7zM624 51.2h4.7v4.7h-4.7zM624 74.5h4.7v4.7h-4.7zM614.8 79.1h4.7v4.7h-4.7zM619.4 79.1h4.7v4.7h-4.7zM624 79.1h4.7v4.7h-4.7zM619.4 88.4h4.7v4.7h-4.7zM614.8 93.1h4.7v4.7h-4.7zM503.1 107h4.7v4.7h-4.7zM507.8 125.6h4.7v4.7h-4.7zM591.5 125.6h4.7v4.7h-4.7zM507.8 130.2h4.7v4.7h-4.7zM596.1 134.9h4.7v4.7h-4.7zM610.1 139.6h4.7v4.7h-4.7zM498.5 144.2h4.7v4.1h-4.7zM559 144.2h4.7v4.1h-4.7z"/>
<path fill="#808080" shape-rendering="crispEdges" d="M596.1 14h4.7v4.7h-4.7zM517.1 23.3h4.7v4.7h-4.7zM614.8 23.3h4.7v4.7h-4.7zM628.7 32.6h4.3v4.7h-4.3zM624 37.2h4.7v4.7h-4.7zM614.8 41.9h4.7v4.7h-4.7zM517.1 51.2h4.7v4.7h-4.7zM619.4 83.8h4.7v4.7h-4.7zM628.7 88.4h4.3v4.7h-4.3zM610.1 93.1h4.7v4.7h-4.7zM498.5 102.4h4.7v4.7h-4.7zM628.7 134.9h4.3v4.7h-4.3zM605.5 139.6h4.7v4.7h-4.7zM600.8 144.2h4.7v4.1h-4.7z"/>
<path fill="#979797" shape-rendering="crispEdges" d="M600.8 14h4.7v4.7h-4.7zM610.1 14h4.7v4.7h-4.7zM600.8 18.6h4.7v4.7h-4.7zM624 28h4.7v4.7h-4.7zM614.8 32.6h4.7v4.7h-4.7zM619.4 32.6h4.7v4.7h-4.7zM610.1 41.9h4.7v4.7h-4.7zM498.5 65.2h4.7v4.7h-4.7zM614.8 69.8h4.7v4.7h-4.7zM619.4 69.8h4.7v4.7h-4.7zM624 93.1h4.7v4.7h-4.7zM628.7 93.1h4.3v4.7h-4.3zM559 97.7h4.7v4.7h-4.7zM600.8 97.7h4.7v4.7h-4.7zM610.1 102.4h4.7v4.7h-4.7zM600.8 107h4.7v4.7h-4.7zM507.8 111.7h4.7v4.7h-4.7zM554.3 116.3h4.7v4.7h-4.7zM605.5 121h4.7v4.7h-4.7zM628.7 121h4.3v4.7h-4.3zM628.7 125.6h4.3v4.7h-4.3zM503.1 134.9h4.7v4.7h-4.7zM512.5 134.9h4.7v4.7h-4.7zM586.9 144.2h4.7v4.1h-4.7z"/>
<path fill="#8a8a8a" shape-rendering="crispEdges" d="M619.4 14h4.7v4.7h-4.7zM624 14h4.7v4.7h-4.7zM610.1 18.6h4.7v4.7h-4.7zM624 18.6h4.7v4.7h-4.7zM619.4 23.3h4.7v4.7h-4.7zM503.1 28h4.7v4.7h-4.7zM503.1 32.6h4.7v4.7h-4.7zM619.4 37.2h4.7v4.7h-4.7zM507.8 41.9h4.7v4.7h-4.7zM507.8 46.6h4.7v4.7h-4.7zM512.5 51.2h4.7v4.7h-4.7zM628.7 69.8h4.3v4.7h-4.3zM610.1 83.8h4.7v4.7h-4.7zM605.5 97.7h4.7v4.7h-4.7zM507.8 121h4.7v4.7h-4.7zM591.5 130.2h4.7v4.7h-4.7zM600.8 130.2h4.7v4.7h-4.7zM596.1 139.6h4.7v4.7h-4.7z"/>
<path fill="#8d8d8d" shape-rendering="crispEdges" d="M498.5 18.6h4.7v4.7h-4.7zM512.5 28h4.7v4.7h-4.7zM605.5 28h4.7v4.7h-4.7zM624 32.6h4.7v4.7h-4.7zM507.8 37.2h4.7v4.7h-4.7zM614.8 37.2h4.7v4.7h-4.7zM498.5 46.6h4.7v4.7h-4.7zM521.8 51.2h4.7v4.7h-4.7zM619.4 74.5h4.7v4.7h-4.7zM596.1 121h4.7v4.7h-4.7zM600.8 121h4.7v4.7h-4.7zM503.1 125.6h4.7v4.7h-4.7zM600.8 134.9h4.7v4.7h-4.7zM498.5 139.6h4.7v4.7h-4.7zM503.1 139.6h4.7v4.7h-4.7zM591.5 139.6h4.7v4.7h-4.7zM507.8 144.2h4.7v4.1h-4.7zM596.1 144.2h4.7v4.1h-4.7z"/>
<path fill="#717171" shape-rendering="crispEdges" d="M507.8 18.6h4.7v4.7h-4.7zM628.7 37.2h4.3v4.7h-4.3zM498.5 41.9h4.7v4.7h-4.7zM512.5 46.6h4.7v4.7h-4.7zM498.5 121h4.7v4.7h-4.7zM605.5 144.2h4.7v4.1h-4.7z"/>
<path fill="#5c5c5c" shape-rendering="crispEdges" d="M512.5 18.6h4.7v4.7h-4.7zM624 144.2h4.7v4.1h-4.7z"/>
<path fill="#aaaaaa" shape-rendering="crispEdges" d="M549.6 18.6h4.7v4.7h-4.7zM563.6 18.6h4.7v4.7h-4.7zM577.5 18.6h4.7v4.7h-4.7zM521.8 32.6h4.7v4.7h-4.7zM503.1 55.9h4.7v4.7h-4.7zM614.8 55.9h4.7v4.7h-4.7zM507.8 60.5h4.7v4.7h-4.7zM559 65.2h4.7v4.7h-4.7zM563.6 65.2h4.7v4.7h-4.7zM610.1 65.2h4.7v4.7h-4.7zM605.5 83.8h4.7v4.7h-4.7zM512.5 88.4h4.7v4.7h-4.7zM596.1 93.1h4.7v4.7h-4.7zM596.1 97.7h4.7v4.7h-4.7zM596.1 102.4h4.7v4.7h-4.7zM614.8 102.4h4.7v4.7h-4.7zM624 102.4h4.7v4.7h-4.7zM628.7 111.7h4.3v4.7h-4.3zM624 116.3h4.7v4.7h-4.7zM559 125.6h4.7v4.7h-4.7z"/>
<path fill="#b0b0b0" shape-rendering="crispEdges" d="M568.2 18.6h4.7v4.7h-4.7zM526.4 51.2h4.7v4.7h-4.7zM605.5 55.9h4.7v4.7h-4.7zM624 55.9h4.7v4.7h-4.7zM614.8 60.5h4.7v4.7h-4.7zM498.5 74.5h4.7v4.7h-4.7zM507.8 74.5h4.7v4.7h-4.7zM559 74.5h4.7v4.7h-4.7zM498.5 83.8h4.7v4.7h-4.7zM619.4 102.4h4.7v4.7h-4.7zM512.5 107h4.7v4.7h-4.7zM624 107h4.7v4.7h-4.7zM614.8 125.6h4.7v4.7h-4.7zM517.1 130.2h4.7v4.7h-4.7zM549.6 130.2h4.7v4.7h-4.7zM614.8 130.2h4.7v4.7h-4.7zM517.1 134.9h4.7v4.7h-4.7zM549.6 134.9h4.7v4.7h-4.7zM545 144.2h4.7v4.1h-4.7z"/>
<path fill="#adadad" shape-rendering="crispEdges" d="M572.9 18.6h4.7v4.7h-4.7zM540.4 23.3h4.7v4.7h-4.7zM521.8 37.2h4.7v4.7h-4.7zM605.5 46.6h4.7v4.7h-4.7zM563.6 55.9h4.7v4.7h-4.7zM610.1 55.9h4.7v4.7h-4.7zM512.5 60.5h4.7v4.7h-4.7zM521.8 60.5h4.7v4.7h-4.7zM605.5 69.8h4.7v4.7h-4.7zM498.5 97.7h4.7v4.7h-4.7zM596.1 107h4.7v4.7h-4.7zM610.1 111.7h4.7v4.7h-4.7zM614.8 116.3h4.7v4.7h-4.7zM619.4 116.3h4.7v4.7h-4.7zM610.1 125.6h4.7v4.7h-4.7zM610.1 130.2h4.7v4.7h-4.7zM586.9 134.9h4.7v4.7h-4.7zM549.6 139.6h4.7v4.7h-4.7zM517.1 144.2h4.7v4.1h-4.7z"/>
<path fill="#7c7c7c" shape-rendering="crispEdges" d="M507.8 23.3h4.7v4.7h-4.7zM610.1 23.3h4.7v4.7h-4.7zM512.5 41.9h4.7v4.7h-4.7zM628.7 79.1h4.3v4.7h-4.3zM628.7 83.8h4.3v4.7h-4.3zM503.1 121h4.7v4.7h-4.7zM624 134.9h4.7v4.7h-4.7zM614.8 139.6h4.7v4.7h-4.7z"/>
<path fill="#bfbfbf" shape-rendering="crispEdges" d="M545 23.3h4.7v4.7h-4.7zM549.6 23.3h4.7v4.7h-4.7zM559 28h4.7v4.7h-4.7zM605.5 60.5h4.7v4.7h-4.7zM605.5 65.2h4.7v4.7h-4.7zM507.8 79.1h4.7v4.7h-4.7zM517.1 83.8h4.7v4.7h-4.7zM517.1 88.4h4.7v4.7h-4.7zM549.6 121h4.7v4.7h-4.7zM563.6 134.9h4.7v4.7h-4.7z"/>
<path fill="#bcbcbc" shape-rendering="crispEdges" d="M563.6 23.3h4.7v4.7h-4.7zM591.5 23.3h4.7v4.7h-4.7zM596.1 28h4.7v4.7h-4.7zM526.4 46.6h4.7v4.7h-4.7zM600.8 60.5h4.7v4.7h-4.7zM624 60.5h4.7v4.7h-4.7zM600.8 65.2h4.7v4.7h-4.7zM600.8 69.8h4.7v4.7h-4.7zM563.6 74.5h4.7v4.7h-4.7zM600.8 74.5h4.7v4.7h-4.7zM517.1 79.1h4.7v4.7h-4.7zM559 79.1h4.7v4.7h-4.7zM600.8 79.1h4.7v4.7h-4.7zM512.5 97.7h4.7v4.7h-4.7zM614.8 111.7h4.7v4.7h-4.7zM586.9 125.6h4.7v4.7h-4.7zM586.9 130.2h4.7v4.7h-4.7zM540.4 144.2h4.7v4.1h-4.7z"/>
<path fill="#c4c4c4" shape-rendering="crispEdges" d="M568.2 23.3h4.7v4.7h-4.7zM531 37.2h4.7v4.7h-4.7zM600.8 37.2h4.7v4.7h-4.7zM559 51.2h4.7v4.7h-4.7zM559 83.8h4.7v4.7h-4.7zM503.1 88.4h4.7v4.7h-4.7zM554.3 97.7h4.7v4.7h-4.7zM563.6 107h4.7v4.7h-4.7zM614.8 107h4.7v4.7h-4.7zM517.1 111.7h4.7v4.7h-4.7zM619.4 111.7h4.7v4.7h-4.7zM549.6 116.3h4.7v4.7h-4.7zM521.8 144.2h4.7v4.1h-4.7z"/>
<path fill="#bababa" shape-rendering="crispEdges" d="M572.9 23.3h4.7v4.7h-4.7zM535.7 28h4.7v4.7h-4.7zM526.4 37.2h4.7v4.7h-4.7zM610.1 60.5h4.7v4.7h-4.7zM619.4 60.5h4.7v4.7h-4.7zM521.8 69.8h4.7v4.7h-4.7zM563.6 69.8h4.7v4.7h-4.7zM512.5 79.1h4.7v4.7h-4.7zM512.5 83.8h4.7v4.7h-4.7zM559 88.4h4.7v4.7h-4.7zM596.1 88.4h4.7v4.7h-4.7zM507.8 102.4h4.7v4.7h-4.7zM554.3 107h4.7v4.7h-4.7zM624 111.7h4.7v4.7h-4.7zM549.6 125.6h4.7v4.7h-4.7zM577.5 144.2h4.7v4.1h-4.7z"/>
<path fill="#b4b4b4" shape-rendering="crispEdges" d="M577.5 23.3h4.7v4.7h-4.7zM531 32.6h4.7v4.7h-4.7zM600.8 32.6h4.7v4.7h-4.7zM605.5 37.2h4.7v4.7h-4.7zM605.5 41.9h4.7v4.7h-4.7zM526.4 55.9h4.7v4.7h-4.7zM559 55.9h4.7v4.7h-4.7zM619.4 55.9h4.7v4.7h-4.7zM628.7 60.5h4.3v4.7h-4.3zM521.8 65.2h4.7v4.7h-4.7zM559 69.8h4.7v4.7h-4.7zM503.1 74.5h4.7v4.7h-4.7zM507.8 88.4h4.7v4.7h-4.7zM507.8 97.7h4.7v4.7h-4.7zM610.1 107h4.7v4.7h-4.7zM596.1 116.3h4.7v4.7h-4.7zM517.1 139.6h4.7v4.7h-4.7zM545 139.6h4.7v4.7h-4.7zM582.2 139.6h4.7v4.7h-4.7zM568.2 144.2h4.7v4.1h-4.7z"/>
<path fill="#b7b7b7" shape-rendering="crispEdges" d="M582.2 23.3h4.7v4.7h-4.7zM503.1 79.1h4.7v4.7h-4.7zM503.1 83.8h4.7v4.7h-4.7zM600.8 83.8h4.7v4.7h-4.7zM503.1 97.7h4.7v4.7h-4.7zM596.1 111.7h4.7v4.7h-4.7zM517.1 125.6h4.7v4.7h-4.7zM545 134.9h4.7v4.7h-4.7z"/>
<path fill="#c1c1c1" shape-rendering="crispEdges" d="M586.9 23.3h4.7v4.7h-4.7zM526.4 41.9h4.7v4.7h-4.7zM563.6 51.2h4.7v4.7h-4.7zM600.8 55.9h4.7v4.7h-4.7zM507.8 83.8h4.7v4.7h-4.7zM503.1 93.1h4.7v4.7h-4.7zM512.5 102.4h4.7v4.7h-4.7zM554.3 102.4h4.7v4.7h-4.7zM619.4 107h4.7v4.7h-4.7zM517.1 116.3h4.7v4.7h-4.7zM517.1 121h4.7v4.7h-4.7zM572.9 144.2h4.7v4.1h-4.7z"/>
<path fill="#cbcbcb" shape-rendering="crispEdges" d="M540.4 28h4.7v4.7h-4.7zM563.6 46.6h4.7v4.7h-4.7zM568.2 55.9h4.7v4.7h-4.7zM568.2 60.5h4.7v4.7h-4.7zM596.1 65.2h4.7v4.7h-4.7zM568.2 139.6h4.7v4.7h-4.7zM535.7 144.2h4.7v4.1h-4.7z"/>
<path fill="#dbdbdb" shape-rendering="crispEdges" d="M545 28h4.7v4.7h-4.7zM582.2 28h4.7v4.7h-4.7zM568.2 37.2h4.7v4.7h-4.7zM568.2 65.2h4.7v4.7h-4.7zM591.5 93.1h4.7v4.7h-4.7zM591.5 97.7h4.7v4.7h-4.7zM591.5 111.7h4.7v4.7h-4.7zM531 144.2h4.7v4.1h-4.7z"/>
<path fill="#d9d9d9" shape-rendering="crispEdges" d="M549.6 28h4.7v4.7h-4.7zM586.9 28h4.7v4.7h-4.7zM572.9 32.6h4.7v4.7h-4.7zM563.6 37.2h4.7v4.7h-4.7zM563.6 41.9h4.7v4.7h-4.7zM568.2 46.6h4.7v4.7h-4.7zM531 51.2h4.7v4.7h-4.7zM554.3 51.2h4.7v4.7h-4.7zM596.1 55.9h4.7v4.7h-4.7zM521.8 125.6h4.7v4.7h-4.7zM582.2 130.2h4.7v4.7h-4.7z"/>
<path fill="#c6c6c6" shape-rendering="crispEdges" d="M554.3 28h4.7v4.7h-4.7zM563.6 28h4.7v4.7h-4.7zM568.2 28h4.7v4.7h-4.7zM572.9 28h4.7v4.7h-4.7zM596.1 32.6h4.7v4.7h-4.7zM563.6 79.1h4.7v4.7h-4.7zM554.3 93.1h4.7v4.7h-4.7zM563.6 97.7h4.7v4.7h-4.7zM563.6 102.4h4.7v4.7h-4.7zM563.6 111.7h4.7v4.7h-4.7zM591.5 116.3h4.7v4.7h-4.7zM586.9 121h4.7v4.7h-4.7z"/>
<path fill="#cdcdcd" shape-rendering="crispEdges" d="M577.5 28h4.7v4.7h-4.7zM498.5 88.4h4.7v4.7h-4.7zM563.6 116.3h4.7v4.7h-4.7zM563.6 121h4.7v4.7h-4.7zM563.6 130.2h4.7v4.7h-4.7z"/>
<path fill="#cfcfcf" shape-rendering="crispEdges" d="M591.5 28h4.7v4.7h-4.7zM600.8 41.9h4.7v4.7h-4.7zM600.8 46.6h4.7v4.7h-4.7zM596.1 79.1h4.7v4.7h-4.7zM498.5 93.1h4.7v4.7h-4.7zM563.6 125.6h4.7v4.7h-4.7zM577.5 139.6h4.7v4.7h-4.7z"/>
<path fill="#d2d2d2" shape-rendering="crispEdges" d="M535.7 32.6h4.7v4.7h-4.7zM563.6 32.6h4.7v4.7h-4.7zM568.2 32.6h4.7v4.7h-4.7zM559 46.6h4.7v4.7h-4.7zM563.6 88.4h4.7v4.7h-4.7zM521.8 139.6h4.7v4.7h-4.7z"/>
<path fill="#eaeaea" shape-rendering="crispEdges" d="M540.4 32.6h4.7v4.7h-4.7zM591.5 88.4h4.7v4.7h-4.7zM549.6 107h4.7v4.7h-4.7zM540.4 130.2h4.7v4.7h-4.7z"/>
<path fill="#f9f9f9" shape-rendering="crispEdges" d="M545 32.6h4.7v4.7h-4.7zM586.9 32.6h4.7v4.7h-4.7zM554.3 37.2h4.7v4.7h-4.7zM591.5 65.2h4.7v4.7h-4.7zM549.6 93.1h4.7v4.7h-4.7z"/>
<path fill="#f3f3f3" shape-rendering="crispEdges" d="M549.6 32.6h4.7v4.7h-4.7zM568.2 79.1h4.7v4.7h-4.7zM521.8 102.4h4.7v4.7h-4.7zM549.6 102.4h4.7v4.7h-4.7zM568.2 125.6h4.7v4.7h-4.7zM526.4 134.9h4.7v4.7h-4.7z"/>
<path fill="#e8e8e8" shape-rendering="crispEdges" d="M554.3 32.6h4.7v4.7h-4.7zM577.5 32.6h4.7v4.7h-4.7zM535.7 37.2h4.7v4.7h-4.7zM591.5 83.8h4.7v4.7h-4.7zM521.8 111.7h4.7v4.7h-4.7z"/>
<path fill="#d4d4d4" shape-rendering="crispEdges" d="M559 32.6h4.7v4.7h-4.7zM596.1 37.2h4.7v4.7h-4.7zM568.2 51.2h4.7v4.7h-4.7zM554.3 55.9h4.7v4.7h-4.7zM554.3 60.5h4.7v4.7h-4.7zM563.6 83.8h4.7v4.7h-4.7zM517.1 97.7h4.7v4.7h-4.7zM517.1 102.4h4.7v4.7h-4.7zM549.6 111.7h4.7v4.7h-4.7zM521.8 134.9h4.7v4.7h-4.7zM540.4 134.9h4.7v4.7h-4.7z"/>
<path fill="#fdfdfd" shape-rendering="crispEdges" d="M582.2 32.6h4.7v4.7h-4.7zM535.7 46.6h4.7v4.7h-4.7zM549.6 55.9h4.7v4.7h-4.7zM572.9 60.5h4.7v4.7h-4.7zM545 111.7h4.7v4.7h-4.7zM526.4 125.6h4.7v4.7h-4.7zM540.4 125.6h4.7v4.7h-4.7z"/>
<path fill="#e2e2e2" shape-rendering="crispEdges" d="M591.5 32.6h4.7v4.7h-4.7zM559 41.9h4.7v4.7h-4.7zM554.3 74.5h4.7v4.7h-4.7zM521.8 88.4h4.7v4.7h-4.7zM591.5 107h4.7v4.7h-4.7zM521.8 121h4.7v4.7h-4.7z"/>
<path fill="#ffffff" shape-rendering="crispEdges" d="M540.4 37.2h4.7v4.7h-4.7zM549.6 51.2h4.7v4.7h-4.7zM526.4 79.1h4.7v4.7h-4.7zM568.2 83.8h4.7v4.7h-4.7z"/>
<path fill="#fef2ea" shape-rendering="crispEdges" d="M545 37.2h4.7v4.7h-4.7zM549.6 41.9h4.7v4.7h-4.7zM591.5 46.6h4.7v4.7h-4.7zM591.5 51.2h4.7v4.7h-4.7zM549.6 60.5h4.7v4.7h-4.7zM586.9 111.7h4.7v4.7h-4.7zM531 130.2h4.7v4.7h-4.7z"/>
<path fill="#fef6f1" shape-rendering="crispEdges" d="M549.6 37.2h4.7v4.7h-4.7zM549.6 46.6h4.7v4.7h-4.7zM568.2 102.4h4.7v4.7h-4.7z"/>
<path fill="#e6e6e6" shape-rendering="crispEdges" d="M559 37.2h4.7v4.7h-4.7zM572.9 37.2h4.7v4.7h-4.7zM554.3 46.6h4.7v4.7h-4.7zM596.1 51.2h4.7v4.7h-4.7zM554.3 79.1h4.7v4.7h-4.7zM521.8 93.1h4.7v4.7h-4.7zM545 121h4.7v4.7h-4.7zM568.2 134.9h4.7v4.7h-4.7z"/>
<path fill="#f7f7f7" shape-rendering="crispEdges" d="M577.5 37.2h4.7v4.7h-4.7zM591.5 60.5h4.7v4.7h-4.7zM526.4 130.2h4.7v4.7h-4.7zM572.9 134.9h4.7v4.7h-4.7z"/>
<path fill="#fdddca" shape-rendering="crispEdges" d="M582.2 37.2h4.7v4.7h-4.7zM545 46.6h4.7v4.7h-4.7zM549.6 69.8h4.7v4.7h-4.7zM531 79.1h4.7v4.7h-4.7zM572.9 116.3h4.7v4.7h-4.7zM535.7 121h4.7v4.7h-4.7z"/>
<path fill="#fde0ce" shape-rendering="crispEdges" d="M586.9 37.2h4.7v4.7h-4.7zM586.9 97.7h4.7v4.7h-4.7z"/>
<path fill="#f5f5f5" shape-rendering="crispEdges" d="M591.5 37.2h4.7v4.7h-4.7zM535.7 41.9h4.7v4.7h-4.7zM554.3 41.9h4.7v4.7h-4.7zM572.9 46.6h4.7v4.7h-4.7zM572.9 51.2h4.7v4.7h-4.7zM549.6 97.7h4.7v4.7h-4.7zM568.2 116.3h4.7v4.7h-4.7zM577.5 125.6h4.7v4.7h-4.7zM568.2 130.2h4.7v4.7h-4.7zM535.7 134.9h4.7v4.7h-4.7zM531 139.6h4.7v4.7h-4.7z"/>
<path fill="#a4a4a4" shape-rendering="crispEdges" d="M521.8 41.9h4.7v4.7h-4.7zM498.5 60.5h4.7v4.7h-4.7zM503.1 69.8h4.7v4.7h-4.7zM517.1 74.5h4.7v4.7h-4.7zM605.5 74.5h4.7v4.7h-4.7zM498.5 79.1h4.7v4.7h-4.7zM600.8 88.4h4.7v4.7h-4.7zM619.4 97.7h4.7v4.7h-4.7zM628.7 97.7h4.3v4.7h-4.3zM507.8 107h4.7v4.7h-4.7zM605.5 111.7h4.7v4.7h-4.7zM610.1 116.3h4.7v4.7h-4.7zM628.7 116.3h4.3v4.7h-4.3zM559 121h4.7v4.7h-4.7zM614.8 121h4.7v4.7h-4.7zM563.6 139.6h4.7v4.7h-4.7zM549.6 144.2h4.7v4.1h-4.7z"/>
<path fill="#d6d6d6" shape-rendering="crispEdges" d="M531 41.9h4.7v4.7h-4.7zM596.1 69.8h4.7v4.7h-4.7zM596.1 74.5h4.7v4.7h-4.7zM554.3 88.4h4.7v4.7h-4.7zM521.8 130.2h4.7v4.7h-4.7zM526.4 144.2h4.7v4.1h-4.7z"/>
<path fill="#feefe6" shape-rendering="crispEdges" d="M540.4 41.9h4.7v4.7h-4.7zM540.4 116.3h4.7v4.7h-4.7z"/>
<path fill="#fee4d5" shape-rendering="crispEdges" d="M545 41.9h4.7v4.7h-4.7zM549.6 65.2h4.7v4.7h-4.7zM531 69.8h4.7v4.7h-4.7zM531 74.5h4.7v4.7h-4.7zM549.6 74.5h4.7v4.7h-4.7zM526.4 111.7h4.7v4.7h-4.7zM531 125.6h4.7v4.7h-4.7z"/>
<path fill="#e0e0e0" shape-rendering="crispEdges" d="M568.2 41.9h4.7v4.7h-4.7zM526.4 65.2h4.7v4.7h-4.7z"/>
<path fill="#eeeeee" shape-rendering="crispEdges" d="M572.9 41.9h4.7v4.7h-4.7zM568.2 69.8h4.7v4.7h-4.7zM582.2 121h4.7v4.7h-4.7z"/>
<path fill="#fef4ee" shape-rendering="crispEdges" d="M577.5 41.9h4.7v4.7h-4.7zM549.6 83.8h4.7v4.7h-4.7zM526.4 88.4h4.7v4.7h-4.7zM526.4 97.7h4.7v4.7h-4.7zM568.2 97.7h4.7v4.7h-4.7zM526.4 121h4.7v4.7h-4.7z"/>
<path fill="#fac7ad" shape-rendering="crispEdges" d="M582.2 41.9h4.7v4.7h-4.7z"/>
<path fill="#facab1" shape-rendering="crispEdges" d="M586.9 41.9h4.7v4.7h-4.7zM577.5 51.2h4.7v4.7h-4.7z"/>
<path fill="#fffaf8" shape-rendering="crispEdges" d="M591.5 41.9h4.7v4.7h-4.7zM591.5 55.9h4.7v4.7h-4.7zM549.6 88.4h4.7v4.7h-4.7zM526.4 93.1h4.7v4.7h-4.7zM568.2 107h4.7v4.7h-4.7zM572.9 121h4.7v4.7h-4.7z"/>
<path fill="#e4e4e4" shape-rendering="crispEdges" d="M596.1 41.9h4.7v4.7h-4.7zM554.3 69.8h4.7v4.7h-4.7zM591.5 79.1h4.7v4.7h-4.7zM521.8 83.8h4.7v4.7h-4.7zM554.3 83.8h4.7v4.7h-4.7zM521.8 116.3h4.7v4.7h-4.7zM577.5 134.9h4.7v4.7h-4.7zM535.7 139.6h4.7v4.7h-4.7z"/>
<path fill="#6e6e6e" shape-rendering="crispEdges" d="M624 41.9h4.7v4.7h-4.7zM619.4 46.6h4.7v4.7h-4.7zM628.7 139.6h4.3v4.7h-4.3z"/>
<path fill="#636363" shape-rendering="crispEdges" d="M628.7 41.9h4.3v4.7h-4.3zM628.7 144.2h4.3v4.1h-4.3z"/>
<path fill="#dedede" shape-rendering="crispEdges" d="M531 46.6h4.7v4.7h-4.7zM531 55.9h4.7v4.7h-4.7zM554.3 65.2h4.7v4.7h-4.7zM521.8 79.1h4.7v4.7h-4.7zM591.5 102.4h4.7v4.7h-4.7zM545 125.6h4.7v4.7h-4.7zM582.2 125.6h4.7v4.7h-4.7zM572.9 139.6h4.7v4.7h-4.7z"/>
<path fill="#fee8dc" shape-rendering="crispEdges" d="M540.4 46.6h4.7v4.7h-4.7zM549.6 79.1h4.7v4.7h-4.7zM545 107h4.7v4.7h-4.7zM582.2 116.3h4.7v4.7h-4.7z"/>
<path fill="#fddbc7" shape-rendering="crispEdges" d="M577.5 46.6h4.7v4.7h-4.7zM572.9 65.2h4.7v4.7h-4.7zM545 102.4h4.7v4.7h-4.7z"/>
<path fill="#f2a17f" shape-rendering="crispEdges" d="M582.2 46.6h4.7v4.7h-4.7zM535.7 79.1h4.7v4.7h-4.7zM535.7 107h4.7v4.7h-4.7z"/>
<path fill="#f8bda0" shape-rendering="crispEdges" d="M586.9 46.6h4.7v4.7h-4.7zM586.9 74.5h4.7v4.7h-4.7zM531 97.7h4.7v4.7h-4.7zM535.7 111.7h4.7v4.7h-4.7z"/>
<path fill="#ececec" shape-rendering="crispEdges" d="M596.1 46.6h4.7v4.7h-4.7zM526.4 69.8h4.7v4.7h-4.7zM521.8 107h4.7v4.7h-4.7zM545 116.3h4.7v4.7h-4.7zM586.9 116.3h4.7v4.7h-4.7zM526.4 139.6h4.7v4.7h-4.7z"/>
<path fill="#585858" shape-rendering="crispEdges" d="M628.7 46.6h4.3v4.7h-4.3zM498.5 116.3h4.7v4.7h-4.7z"/>
<path fill="#fffdfc" shape-rendering="crispEdges" d="M535.7 51.2h4.7v4.7h-4.7zM572.9 125.6h4.7v4.7h-4.7z"/>
<path fill="#fcd8c3" shape-rendering="crispEdges" d="M540.4 51.2h4.7v4.7h-4.7zM586.9 83.8h4.7v4.7h-4.7zM540.4 111.7h4.7v4.7h-4.7z"/>
<path fill="#fcd4be" shape-rendering="crispEdges" d="M545 51.2h4.7v4.7h-4.7zM586.9 79.1h4.7v4.7h-4.7zM586.9 88.4h4.7v4.7h-4.7zM535.7 116.3h4.7v4.7h-4.7z"/>
<path fill="#e7876b" shape-rendering="crispEdges" d="M582.2 51.2h4.7v4.7h-4.7zM535.7 102.4h4.7v4.7h-4.7z"/>
<path fill="#f6af8f" shape-rendering="crispEdges" d="M586.9 51.2h4.7v4.7h-4.7zM540.4 55.9h4.7v4.7h-4.7z"/>
<path fill="#c8c8c8" shape-rendering="crispEdges" d="M600.8 51.2h4.7v4.7h-4.7zM526.4 60.5h4.7v4.7h-4.7zM596.1 60.5h4.7v4.7h-4.7zM521.8 74.5h4.7v4.7h-4.7zM596.1 83.8h4.7v4.7h-4.7zM517.1 93.1h4.7v4.7h-4.7zM563.6 93.1h4.7v4.7h-4.7zM517.1 107h4.7v4.7h-4.7zM545 130.2h4.7v4.7h-4.7zM582.2 134.9h4.7v4.7h-4.7zM540.4 139.6h4.7v4.7h-4.7z"/>
<path fill="#feede3" shape-rendering="crispEdges" d="M535.7 55.9h4.7v4.7h-4.7zM531 65.2h4.7v4.7h-4.7zM526.4 116.3h4.7v4.7h-4.7z"/>
<path fill="#f8c0a4" shape-rendering="crispEdges" d="M545 55.9h4.7v4.7h-4.7zM545 97.7h4.7v4.7h-4.7zM531 111.7h4.7v4.7h-4.7zM577.5 116.3h4.7v4.7h-4.7z"/>
<path fill="#f1f1f1" shape-rendering="crispEdges" d="M572.9 55.9h4.7v4.7h-4.7zM526.4 74.5h4.7v4.7h-4.7zM568.2 121h4.7v4.7h-4.7zM577.5 130.2h4.7v4.7h-4.7z"/>
<path fill="#f9c3a9" shape-rendering="crispEdges" d="M577.5 55.9h4.7v4.7h-4.7z"/>
<path fill="#de715a" shape-rendering="crispEdges" d="M582.2 55.9h4.7v4.7h-4.7z"/>
<path fill="#f4a582" shape-rendering="crispEdges" d="M586.9 55.9h4.7v4.7h-4.7zM586.9 65.2h4.7v4.7h-4.7zM572.9 69.8h4.7v4.7h-4.7zM586.9 69.8h4.7v4.7h-4.7zM535.7 74.5h4.7v4.7h-4.7z"/>
<path fill="#f0f0f0" shape-rendering="crispEdges" d="M531 60.5h4.7v4.7h-4.7zM568.2 74.5h4.7v4.7h-4.7zM591.5 74.5h4.7v4.7h-4.7zM521.8 97.7h4.7v4.7h-4.7z"/>
<path fill="#fbceb6" shape-rendering="crispEdges" d="M535.7 60.5h4.7v4.7h-4.7zM531 116.3h4.7v4.7h-4.7z"/>
<path fill="#e37e64" shape-rendering="crispEdges" d="M540.4 60.5h4.7v4.7h-4.7zM535.7 83.8h4.7v4.7h-4.7zM582.2 93.1h4.7v4.7h-4.7z"/>
<path fill="#ee9878" shape-rendering="crispEdges" d="M545 60.5h4.7v4.7h-4.7zM572.9 111.7h4.7v4.7h-4.7z"/>
<path fill="#f5ac8b" shape-rendering="crispEdges" d="M577.5 60.5h4.7v4.7h-4.7zM535.7 65.2h4.7v4.7h-4.7zM572.9 79.1h4.7v4.7h-4.7zM572.9 88.4h4.7v4.7h-4.7zM531 102.4h4.7v4.7h-4.7z"/>
<path fill="#da6954" shape-rendering="crispEdges" d="M582.2 60.5h4.7v4.7h-4.7zM540.4 79.1h4.7v4.7h-4.7zM577.5 93.1h4.7v4.7h-4.7z"/>
<path fill="#f5a886" shape-rendering="crispEdges" d="M586.9 60.5h4.7v4.7h-4.7zM535.7 69.8h4.7v4.7h-4.7zM545 93.1h4.7v4.7h-4.7z"/>
<path fill="#dc6d57" shape-rendering="crispEdges" d="M540.4 65.2h4.7v4.7h-4.7z"/>
<path fill="#e58268" shape-rendering="crispEdges" d="M545 65.2h4.7v4.7h-4.7zM545 69.8h4.7v4.7h-4.7zM582.2 83.8h4.7v4.7h-4.7zM577.5 88.4h4.7v4.7h-4.7zM572.9 97.7h4.7v4.7h-4.7zM582.2 111.7h4.7v4.7h-4.7z"/>
<path fill="#d45b4b" shape-rendering="crispEdges" d="M577.5 65.2h4.7v4.7h-4.7zM582.2 97.7h4.7v4.7h-4.7z"/>
<path fill="#c6403e" shape-rendering="crispEdges" d="M582.2 65.2h4.7v4.7h-4.7z"/>
<path fill="#df765e" shape-rendering="crispEdges" d="M540.4 69.8h4.7v4.7h-4.7zM540.4 74.5h4.7v4.7h-4.7zM535.7 97.7h4.7v4.7h-4.7z"/>
<path fill="#9b1027" shape-rendering="crispEdges" d="M577.5 69.8h4.7v4.7h-4.7z"/>
<path fill="#b2182b" shape-rendering="crispEdges" d="M582.2 69.8h4.7v4.7h-4.7zM582.2 102.4h4.7v4.7h-4.7z"/>
<path fill="#fbfbfb" shape-rendering="crispEdges" d="M591.5 69.8h4.7v4.7h-4.7zM568.2 111.7h4.7v4.7h-4.7z"/>
<path fill="#e98b6e" shape-rendering="crispEdges" d="M545 74.5h4.7v4.7h-4.7zM545 79.1h4.7v4.7h-4.7zM540.4 102.4h4.7v4.7h-4.7z"/>
<path fill="#eb8f71" shape-rendering="crispEdges" d="M572.9 74.5h4.7v4.7h-4.7zM545 83.8h4.7v4.7h-4.7zM582.2 88.4h4.7v4.7h-4.7z"/>
<path fill="#750421" shape-rendering="crispEdges" d="M577.5 74.5h4.7v4.7h-4.7z"/>
<path fill="#a9152a" shape-rendering="crispEdges" d="M582.2 74.5h4.7v4.7h-4.7z"/>
<path fill="#bd2e36" shape-rendering="crispEdges" d="M577.5 79.1h4.7v4.7h-4.7z"/>
<path fill="#cd4e44" shape-rendering="crispEdges" d="M582.2 79.1h4.7v4.7h-4.7z"/>
<path fill="#feebe0" shape-rendering="crispEdges" d="M526.4 83.8h4.7v4.7h-4.7z"/>
<path fill="#f7b99c" shape-rendering="crispEdges" d="M531 83.8h4.7v4.7h-4.7zM572.9 83.8h4.7v4.7h-4.7zM531 93.1h4.7v4.7h-4.7z"/>
<path fill="#cb4a42" shape-rendering="crispEdges" d="M540.4 83.8h4.7v4.7h-4.7z"/>
<path fill="#e17a61" shape-rendering="crispEdges" d="M577.5 83.8h4.7v4.7h-4.7z"/>
<path fill="#f6b293" shape-rendering="crispEdges" d="M531 88.4h4.7v4.7h-4.7zM531 107h4.7v4.7h-4.7z"/>
<path fill="#d86450" shape-rendering="crispEdges" d="M535.7 88.4h4.7v4.7h-4.7zM535.7 93.1h4.7v4.7h-4.7zM572.9 107h4.7v4.7h-4.7z"/>
<path fill="#bb2a34" shape-rendering="crispEdges" d="M540.4 88.4h4.7v4.7h-4.7zM540.4 93.1h4.7v4.7h-4.7z"/>
<path fill="#ec9475" shape-rendering="crispEdges" d="M545 88.4h4.7v4.7h-4.7zM572.9 93.1h4.7v4.7h-4.7z"/>
<path fill="#fff8f4" shape-rendering="crispEdges" d="M568.2 88.4h4.7v4.7h-4.7zM568.2 93.1h4.7v4.7h-4.7zM540.4 121h4.7v4.7h-4.7zM577.5 121h4.7v4.7h-4.7zM535.7 130.2h4.7v4.7h-4.7zM572.9 130.2h4.7v4.7h-4.7zM531 134.9h4.7v4.7h-4.7z"/>
<path fill="#fde2d2" shape-rendering="crispEdges" d="M586.9 93.1h4.7v4.7h-4.7zM526.4 102.4h4.7v4.7h-4.7zM526.4 107h4.7v4.7h-4.7z"/>
<path fill="#cf5347" shape-rendering="crispEdges" d="M540.4 97.7h4.7v4.7h-4.7z"/>
<path fill="#c2383a" shape-rendering="crispEdges" d="M577.5 97.7h4.7v4.7h-4.7z"/>
<path fill="#d6604d" shape-rendering="crispEdges" d="M572.9 102.4h4.7v4.7h-4.7z"/>
<path fill="#830924" shape-rendering="crispEdges" d="M577.5 102.4h4.7v4.7h-4.7z"/>
<path fill="#fbd1ba" shape-rendering="crispEdges" d="M586.9 102.4h4.7v4.7h-4.7zM586.9 107h4.7v4.7h-4.7zM531 121h4.7v4.7h-4.7z"/>
<path fill="#f7b698" shape-rendering="crispEdges" d="M540.4 107h4.7v4.7h-4.7z"/>
<path fill="#700320" shape-rendering="crispEdges" d="M577.5 107h4.7v4.7h-4.7z"/>
<path fill="#b41d2d" shape-rendering="crispEdges" d="M582.2 107h4.7v4.7h-4.7z"/>
<path fill="#545454" shape-rendering="crispEdges" d="M498.5 111.7h4.7v4.7h-4.7z"/>
<path fill="#c43c3c" shape-rendering="crispEdges" d="M577.5 111.7h4.7v4.7h-4.7z"/>
<path fill="#fee6d8" shape-rendering="crispEdges" d="M535.7 125.6h4.7v4.7h-4.7z"/>
<rect x="498.5" y="14" width="134.5" height="134.3" fill="none" stroke="#000" stroke-width="1.6"/>
<polygon points="89.8,39.5 107.1,39.5 107,37.4 106.6,35.3 106,33.3 105.1,31.4 104,29.6 102.7,27.9" fill="rgb(122,122,122)"/>
<polygon points="89.8,39.5 107.1,39.5 107,37.9 106.8,36.3 106.5,34.8 106,33.3 105.3,31.8 104.6,30.5" fill="rgb(92,92,92)"/>
<polygon points="89.8,39.5 107.1,39.5 107.1,38.4 107,37.4 106.8,36.3 106.6,35.3 106.3,34.3 106,33.3" fill="rgb(62,62,62)"/>
<polygon points="89.8,39.5 107.1,39.5 107.1,39 107.1,38.4 107,37.9 107,37.4 106.9,36.9 106.8,36.3" fill="rgb(35,35,35)"/>
<line x1="89.8" y1="39.5" x2="108.3" y2="39.5" stroke="#000" stroke-width="2.1"/>
<circle cx="89.8" cy="39.5" r="18.5" fill="none" stroke="#000" stroke-width="3.2" stroke-dasharray="3.2 3.26" transform="rotate(-80 89.8 39.5)"/>
<polygon points="235.8,39.5 249.1,50.6 250.7,48.2 252,45.6 252.8,42.8 253.1,39.9 252.9,37 252.3,34.2" fill="rgb(122,122,122)"/>
<polygon points="235.8,39.5 249.1,50.6 250.3,48.9 251.4,46.9 252.2,44.9 252.8,42.8 253.1,40.6 253.1,38.4" fill="rgb(92,92,92)"/>
<polygon points="235.8,39.5 249.1,50.6 249.9,49.5 250.7,48.2 251.4,46.9 252,45.6 252.4,44.2 252.8,42.8" fill="rgb(62,62,62)"/>
<polygon points="235.8,39.5 249.1,50.6 249.5,50.1 249.9,49.5 250.3,48.9 250.7,48.2 251.1,47.6 251.4,46.9" fill="rgb(35,35,35)"/>
<line x1="235.8" y1="39.5" x2="250" y2="51.4" stroke="#000" stroke-width="2.1"/>
<circle cx="235.8" cy="39.5" r="18.5" fill="none" stroke="#000" stroke-width="3.2" stroke-dasharray="3.2 3.26" transform="rotate(-80 235.8 39.5)"/>
<polygon points="379.8,39.5 382.8,56.5 385.2,55.9 387.6,55 389.7,53.7 391.7,52.1 393.4,50.2 394.8,48.1" fill="rgb(122,122,122)"/>
<polygon points="379.8,39.5 382.8,56.5 384.6,56.1 386.4,55.5 388.1,54.7 389.7,53.7 391.2,52.5 392.6,51.2" fill="rgb(92,92,92)"/>
<polygon points="379.8,39.5 382.8,56.5 384,56.3 385.2,55.9 386.4,55.5 387.6,55 388.7,54.4 389.7,53.7" fill="rgb(62,62,62)"/>
<polygon points="379.8,39.5 382.8,56.5 383.4,56.4 384,56.3 384.6,56.1 385.2,55.9 385.8,55.7 386.4,55.5" fill="rgb(35,35,35)"/>
<line x1="379.8" y1="39.5" x2="383" y2="57.7" stroke="#000" stroke-width="2.1"/>
<circle cx="379.8" cy="39.5" r="18.5" fill="none" stroke="#000" stroke-width="3.2" stroke-dasharray="3.2 3.26" transform="rotate(-80 379.8 39.5)"/>
<polygon points="523.8,39.5 514.9,54.3 517.1,55.4 519.4,56.2 521.8,56.7 524.3,56.8 526.8,56.5 529.1,56" fill="rgb(122,122,122)"/>
<polygon points="523.8,39.5 514.9,54.3 516.5,55.2 518.2,55.9 520,56.4 521.8,56.7 523.7,56.8 525.5,56.7" fill="rgb(92,92,92)"/>
<polygon points="523.8,39.5 514.9,54.3 516,54.9 517.1,55.4 518.2,55.9 519.4,56.2 520.6,56.5 521.8,56.7" fill="rgb(62,62,62)"/>
<polygon points="523.8,39.5 514.9,54.3 515.4,54.6 516,54.9 516.5,55.2 517.1,55.4 517.7,55.7 518.2,55.9" fill="rgb(35,35,35)"/>
<line x1="523.8" y1="39.5" x2="514.3" y2="55.4" stroke="#000" stroke-width="2.1"/>
<circle cx="523.8" cy="39.5" r="18.5" fill="none" stroke="#000" stroke-width="3.2" stroke-dasharray="3.2 3.26" transform="rotate(-80 523.8 39.5)"/>
<rect x="149" y="133.3" width="42.3" height="5.4" fill="#000"/>
<text x="100.75" y="139.06" font-size="14.29" textLength="36.37" lengthAdjust="spacingAndGlyphs" fill="#111">5 μm</text>
<defs><linearGradient id="gOr" x1="0" y1="0" x2="1" y2="0"><stop offset="0" stop-color="#fa9b1e" stop-opacity="0.95"/><stop offset="0.5" stop-color="#fa9b1e" stop-opacity="0.72"/><stop offset="1" stop-color="#f7a030" stop-opacity="0.35"/></linearGradient><linearGradient id="gTe" gradientUnits="userSpaceOnUse" x1="100" y1="0" x2="457" y2="0"><stop offset="0" stop-color="#138b8b" stop-opacity="0.15"/><stop offset="0.5" stop-color="#138b8b" stop-opacity="0.5"/><stop offset="1" stop-color="#108a8a" stop-opacity="1"/></linearGradient></defs>
<g fill="#6a6a6a" fill-opacity="0.75"><circle cx="68.9" cy="198.3" r="4.25"/><circle cx="86.5" cy="197.4" r="4.25"/><circle cx="104.1" cy="197.4" r="4.25"/><circle cx="110.6" cy="192.8" r="4.25"/><circle cx="117" cy="197.4" r="4.25"/><circle cx="145.7" cy="197.4" r="4.25"/><circle cx="80.9" cy="207.6" r="4.25"/><circle cx="93" cy="205.7" r="4.25"/><circle cx="86.5" cy="213.1" r="4.25"/><circle cx="129.1" cy="206.7" r="4.25"/><circle cx="134.6" cy="209.4" r="4.25"/><circle cx="140.2" cy="211.3" r="4.25"/><circle cx="140.2" cy="215.9" r="4.25"/><circle cx="148.5" cy="213.1" r="4.25"/><circle cx="68.9" cy="224.3" r="4.25"/><circle cx="92" cy="221.5" r="4.25"/><circle cx="122.6" cy="224.3" r="4.25"/><circle cx="134.6" cy="222.4" r="4.25"/><circle cx="134.6" cy="228" r="4.25"/><circle cx="128.1" cy="231.7" r="4.25"/><circle cx="145.7" cy="223.3" r="4.25"/><circle cx="99.4" cy="228" r="4.25"/><circle cx="105" cy="229.8" r="4.25"/><circle cx="85.6" cy="234.4" r="4.25"/><circle cx="74.4" cy="242.8" r="4.25"/><circle cx="105" cy="241.9" r="4.25"/><circle cx="110.6" cy="249.3" r="4.25"/><circle cx="140.2" cy="237.2" r="4.25"/><circle cx="134.6" cy="243.7" r="4.25"/><circle cx="146.7" cy="247.4" r="4.25"/><circle cx="110.6" cy="254.8" r="4.25"/><circle cx="93" cy="259.4" r="4.25"/><circle cx="140.2" cy="260.4" r="4.25"/><circle cx="148.5" cy="264.1" r="4.25"/><circle cx="74.4" cy="265" r="4.25"/><circle cx="80.9" cy="271.5" r="4.25"/><circle cx="73.5" cy="271.5" r="4.25"/><circle cx="68.9" cy="276.1" r="4.25"/><circle cx="68.9" cy="282.6" r="4.25"/><circle cx="75.4" cy="283.5" r="4.25"/><circle cx="80.9" cy="278.9" r="4.25"/><circle cx="99.4" cy="275.2" r="4.25"/><circle cx="116.1" cy="268.7" r="4.25"/><circle cx="122.6" cy="275.2" r="4.25"/><circle cx="129.1" cy="269.6" r="4.25"/><circle cx="134.6" cy="278.9" r="4.25"/><circle cx="145.7" cy="281.7" r="4.25"/><circle cx="122.6" cy="284.4" r="4.25"/><circle cx="73.5" cy="292.8" r="4.25"/><circle cx="93" cy="289.1" r="4.25"/><circle cx="99.4" cy="292.8" r="4.25"/><circle cx="110.6" cy="293.7" r="4.25"/><circle cx="105" cy="303.9" r="4.25"/><circle cx="86.5" cy="299.3" r="4.25"/><circle cx="99.4" cy="301.1" r="4.25"/><circle cx="117" cy="306.7" r="4.25"/><circle cx="122.6" cy="297.4" r="4.25"/><circle cx="132.8" cy="308.5" r="4.25"/><circle cx="145.7" cy="297.4" r="4.25"/><circle cx="68.9" cy="312.2" r="4.25"/><circle cx="80.9" cy="302" r="4.25"/><circle cx="86.5" cy="312.2" r="4.25"/><circle cx="93" cy="320.6" r="4.25"/><circle cx="79.1" cy="325.2" r="4.25"/><circle cx="122.6" cy="327" r="4.25"/><circle cx="128.1" cy="319.6" r="4.25"/><circle cx="129.1" cy="327" r="4.25"/><circle cx="142" cy="322.4" r="4.25"/><circle cx="148.5" cy="317.8" r="4.25"/><circle cx="68.9" cy="333.5" r="4.25"/><circle cx="99.4" cy="332.6" r="4.25"/><circle cx="105" cy="331.7" r="4.25"/><circle cx="105" cy="340" r="4.25"/><circle cx="86.5" cy="343.7" r="4.25"/><circle cx="134.6" cy="332.6" r="4.25"/><circle cx="134.6" cy="336.3" r="4.25"/><circle cx="141.1" cy="338.1" r="4.25"/><circle cx="128.1" cy="342.8" r="4.25"/><circle cx="145.7" cy="347.4" r="4.25"/><circle cx="74.4" cy="351.1" r="4.25"/><circle cx="105" cy="353" r="4.25"/><circle cx="110.6" cy="364.1" r="4.25"/><circle cx="93" cy="365.9" r="4.25"/><circle cx="98.5" cy="362.2" r="4.25"/><circle cx="140.2" cy="367.8" r="4.25"/><circle cx="147.6" cy="370.6" r="4.25"/><circle cx="80.9" cy="378" r="4.25"/><circle cx="68.9" cy="387.2" r="4.25"/><circle cx="75.4" cy="384.4" r="4.25"/><circle cx="80.9" cy="384.4" r="4.25"/><circle cx="98.5" cy="379.8" r="4.25"/><circle cx="104.1" cy="376.1" r="4.25"/><circle cx="93" cy="395.6" r="4.25"/><circle cx="74.4" cy="395.6" r="4.25"/><circle cx="68.9" cy="401.1" r="4.25"/><circle cx="110.6" cy="393.7" r="4.25"/><circle cx="128.1" cy="383.5" r="4.25"/><circle cx="134.6" cy="391.9" r="4.25"/><circle cx="145.7" cy="382.6" r="4.25"/><circle cx="122.6" cy="390" r="4.25"/><circle cx="117" cy="400.2" r="4.25"/><circle cx="99.4" cy="404.8" r="4.25"/><circle cx="110.6" cy="404.8" r="4.25"/><circle cx="80.9" cy="412.8" r="4.25"/><circle cx="86.5" cy="414.6" r="4.25"/><circle cx="93" cy="415.6" r="4.25"/><circle cx="104.1" cy="411.9" r="4.25"/><circle cx="110.6" cy="410.9" r="4.25"/><circle cx="121.7" cy="417.4" r="4.25"/><circle cx="134.6" cy="417.4" r="4.25"/><circle cx="142" cy="411.9" r="4.25"/><circle cx="68.9" cy="428.5" r="4.25"/><circle cx="80.9" cy="427.6" r="4.25"/><circle cx="88.3" cy="426.7" r="4.25"/><circle cx="68.9" cy="439.6" r="4.25"/><circle cx="93" cy="436.9" r="4.25"/><circle cx="99.4" cy="439.6" r="4.25"/><circle cx="105" cy="434.1" r="4.25"/><circle cx="105" cy="439.6" r="4.25"/><circle cx="117" cy="432.2" r="4.25"/><circle cx="122.6" cy="428.5" r="4.25"/><circle cx="128.1" cy="439.6" r="4.25"/><circle cx="134.6" cy="442.4" r="4.25"/><circle cx="140.2" cy="432.2" r="4.25"/><circle cx="146.7" cy="442.4" r="4.25"/><circle cx="128.1" cy="448" r="4.25"/><circle cx="140.2" cy="448.9" r="4.25"/><circle cx="146.7" cy="448.9" r="4.25"/><circle cx="74.4" cy="453.5" r="4.25"/><circle cx="86.5" cy="448" r="4.25"/><circle cx="86.5" cy="459.1" r="4.25"/><circle cx="93" cy="462.8" r="4.25"/><circle cx="99.4" cy="460" r="4.25"/><circle cx="105" cy="455.4" r="4.25"/><circle cx="110.6" cy="466.5" r="4.25"/><circle cx="99.4" cy="470.2" r="4.25"/><circle cx="110.6" cy="471.1" r="4.25"/><circle cx="98.5" cy="479.4" r="4.25"/><circle cx="116.1" cy="479.4" r="4.25"/><circle cx="122.6" cy="482.2" r="4.25"/><circle cx="140.2" cy="475.7" r="4.25"/><circle cx="146.7" cy="479.4" r="4.25"/><circle cx="68.9" cy="482.2" r="4.25"/><circle cx="74.4" cy="487.8" r="4.25"/><circle cx="80.9" cy="481.3" r="4.25"/><circle cx="93" cy="491.5" r="4.25"/><circle cx="98.5" cy="500.7" r="4.25"/><circle cx="80.9" cy="498" r="4.25"/><circle cx="74.4" cy="502.6" r="4.25"/><circle cx="68.9" cy="507.2" r="4.25"/><circle cx="110.6" cy="510" r="4.25"/><circle cx="116.1" cy="494.3" r="4.25"/><circle cx="128.1" cy="500.7" r="4.25"/><circle cx="134.6" cy="499.8" r="4.25"/><circle cx="146.7" cy="498.9" r="4.25"/><circle cx="93" cy="511.9" r="4.25"/><circle cx="80.9" cy="512.8" r="4.25"/><circle cx="86.5" cy="521.1" r="4.25"/><circle cx="105" cy="520.2" r="4.25"/><circle cx="110.6" cy="523" r="4.25"/><circle cx="116.1" cy="517.4" r="4.25"/><circle cx="121.7" cy="520.2" r="4.25"/><circle cx="140.2" cy="523" r="4.25"/><circle cx="146.7" cy="522" r="4.25"/><circle cx="68.9" cy="528.5" r="4.25"/><circle cx="87.4" cy="525.7" r="4.25"/><circle cx="80.9" cy="537.8" r="4.25"/><circle cx="80" cy="541.5" r="4.25"/><circle cx="116.1" cy="528.5" r="4.25"/><circle cx="116.1" cy="533.1" r="4.25"/><circle cx="122.6" cy="541.5" r="4.25"/><circle cx="129.1" cy="540.6" r="4.25"/><circle cx="134.6" cy="533.1" r="4.25"/><circle cx="140.2" cy="533.1" r="4.25"/><circle cx="68.9" cy="544.3" r="4.25"/><circle cx="86.5" cy="552.6" r="4.25"/><circle cx="85.6" cy="558.1" r="4.25"/><circle cx="92" cy="560" r="4.25"/><circle cx="99.4" cy="548.9" r="4.25"/><circle cx="105" cy="544.3" r="4.25"/><circle cx="105" cy="548" r="4.25"/><circle cx="74.4" cy="559.1" r="4.25"/><circle cx="99.4" cy="565.6" r="4.25"/><circle cx="105" cy="560" r="4.25"/><circle cx="128.1" cy="551.7" r="4.25"/><circle cx="134.6" cy="548" r="4.25"/><circle cx="140.2" cy="545.2" r="4.25"/><circle cx="146.7" cy="552.6" r="4.25"/><circle cx="128.1" cy="558.1" r="4.25"/><circle cx="134.6" cy="558.1" r="4.25"/><circle cx="140.2" cy="562.8" r="4.25"/><circle cx="146.7" cy="563.7" r="4.25"/><circle cx="92" cy="569.3" r="4.25"/><circle cx="98.5" cy="576.7" r="4.25"/><circle cx="105" cy="580.4" r="4.25"/><circle cx="110.6" cy="571.1" r="4.25"/><circle cx="116.1" cy="582.2" r="4.25"/><circle cx="122.6" cy="582.2" r="4.25"/><circle cx="140.2" cy="584.1" r="4.25"/><circle cx="68.9" cy="587.8" r="4.25"/><circle cx="74.4" cy="588.7" r="4.25"/><circle cx="80.9" cy="588.7" r="4.25"/><circle cx="98.5" cy="587.8" r="4.25"/><circle cx="92" cy="598" r="4.25"/><circle cx="68.9" cy="597" r="4.25"/><circle cx="74.4" cy="600.7" r="4.25"/><circle cx="68.9" cy="603.5" r="4.25"/><circle cx="74.4" cy="605.4" r="4.25"/><circle cx="80.9" cy="603.5" r="4.25"/><circle cx="116.1" cy="593.3" r="4.25"/><circle cx="122.6" cy="596.1" r="4.25"/><circle cx="129.1" cy="599.8" r="4.25"/><circle cx="134.6" cy="600.7" r="4.25"/><circle cx="146.7" cy="594.3" r="4.25"/><circle cx="99.4" cy="609.1" r="4.25"/><circle cx="110.6" cy="606.3" r="4.25"/><circle cx="110.6" cy="612.8" r="4.25"/><circle cx="122.6" cy="613.7" r="4.25"/><circle cx="146.7" cy="608.1" r="4.25"/><circle cx="80.9" cy="616.5" r="4.25"/><circle cx="86.5" cy="622" r="4.25"/><circle cx="116.1" cy="621.1" r="4.25"/><circle cx="128.1" cy="622" r="4.25"/><circle cx="163.7" cy="196.5" r="4.25"/><circle cx="170.2" cy="198.3" r="4.25"/><circle cx="187.8" cy="194.6" r="4.25"/><circle cx="187.8" cy="199.3" r="4.25"/><circle cx="199.9" cy="203" r="4.25"/><circle cx="199.9" cy="207.6" r="4.25"/><circle cx="205.4" cy="198.3" r="4.25"/><circle cx="211.9" cy="194.6" r="4.25"/><circle cx="211.9" cy="198.3" r="4.25"/><circle cx="218.4" cy="196.5" r="4.25"/><circle cx="223.9" cy="195.6" r="4.25"/><circle cx="230.4" cy="202" r="4.25"/><circle cx="248" cy="193.7" r="4.25"/><circle cx="248" cy="203" r="4.25"/><circle cx="251.7" cy="198.3" r="4.25"/><circle cx="158.2" cy="207.6" r="4.25"/><circle cx="152.6" cy="212.2" r="4.25"/><circle cx="158.2" cy="212.2" r="4.25"/><circle cx="151.7" cy="217.8" r="4.25"/><circle cx="175.8" cy="211.3" r="4.25"/><circle cx="182.3" cy="205.7" r="4.25"/><circle cx="182.3" cy="212.2" r="4.25"/><circle cx="217.4" cy="215.9" r="4.25"/><circle cx="230.4" cy="210.4" r="4.25"/><circle cx="242.4" cy="209.4" r="4.25"/><circle cx="242.4" cy="215" r="4.25"/><circle cx="250.8" cy="210.4" r="4.25"/><circle cx="187.8" cy="224.3" r="4.25"/><circle cx="194.3" cy="223.3" r="4.25"/><circle cx="200.8" cy="228" r="4.25"/><circle cx="206.3" cy="229.8" r="4.25"/><circle cx="206.3" cy="234.4" r="4.25"/><circle cx="151.7" cy="228.9" r="4.25"/><circle cx="158.2" cy="234.4" r="4.25"/><circle cx="164.7" cy="234.4" r="4.25"/><circle cx="248" cy="237.2" r="4.25"/><circle cx="251.7" cy="231.7" r="4.25"/><circle cx="194.3" cy="249.3" r="4.25"/><circle cx="152.6" cy="264.1" r="4.25"/><circle cx="175.8" cy="265" r="4.25"/><circle cx="230.4" cy="262.2" r="4.25"/><circle cx="158.2" cy="271.5" r="4.25"/><circle cx="158.2" cy="276.1" r="4.25"/><circle cx="170.2" cy="275.2" r="4.25"/><circle cx="170.2" cy="280.7" r="4.25"/><circle cx="163.7" cy="280.7" r="4.25"/><circle cx="163.7" cy="287.2" r="4.25"/><circle cx="148.9" cy="282.6" r="4.25"/><circle cx="182.3" cy="278" r="4.25"/><circle cx="175.8" cy="285.4" r="4.25"/><circle cx="182.3" cy="285.4" r="4.25"/><circle cx="211.9" cy="278.9" r="4.25"/><circle cx="236" cy="278" r="4.25"/><circle cx="223.9" cy="285.4" r="4.25"/><circle cx="223.9" cy="290.9" r="4.25"/><circle cx="230.4" cy="286.3" r="4.25"/><circle cx="236" cy="285.4" r="4.25"/><circle cx="242.4" cy="288.1" r="4.25"/><circle cx="242.4" cy="292.8" r="4.25"/><circle cx="251.7" cy="290" r="4.25"/><circle cx="158.2" cy="293.7" r="4.25"/><circle cx="164.7" cy="296.5" r="4.25"/><circle cx="170.2" cy="299.3" r="4.25"/><circle cx="176.7" cy="299.3" r="4.25"/><circle cx="175.8" cy="290.9" r="4.25"/><circle cx="182.3" cy="292.8" r="4.25"/><circle cx="187.8" cy="294.6" r="4.25"/><circle cx="194.3" cy="292.8" r="4.25"/><circle cx="194.3" cy="301.1" r="4.25"/><circle cx="199.9" cy="295.6" r="4.25"/><circle cx="206.3" cy="295.6" r="4.25"/><circle cx="211.9" cy="296.5" r="4.25"/><circle cx="218.4" cy="298.3" r="4.25"/><circle cx="223.9" cy="299.3" r="4.25"/><circle cx="230.4" cy="297.4" r="4.25"/><circle cx="236.9" cy="295.6" r="4.25"/><circle cx="236.9" cy="300.2" r="4.25"/><circle cx="187.8" cy="305.7" r="4.25"/><circle cx="170.2" cy="307.6" r="4.25"/><circle cx="163.7" cy="308.5" r="4.25"/><circle cx="199.9" cy="307.6" r="4.25"/><circle cx="199.9" cy="311.3" r="4.25"/><circle cx="205.4" cy="308.5" r="4.25"/><circle cx="211.9" cy="305.7" r="4.25"/><circle cx="211.9" cy="312.2" r="4.25"/><circle cx="217.4" cy="303" r="4.25"/><circle cx="229.5" cy="309.4" r="4.25"/><circle cx="236" cy="310.4" r="4.25"/><circle cx="242.4" cy="303" r="4.25"/><circle cx="248" cy="303.9" r="4.25"/><circle cx="242.4" cy="310.4" r="4.25"/><circle cx="248" cy="312.2" r="4.25"/><circle cx="251.7" cy="317.8" r="4.25"/><circle cx="151.7" cy="316.9" r="4.25"/><circle cx="158.2" cy="320.6" r="4.25"/><circle cx="175.8" cy="314.1" r="4.25"/><circle cx="182.3" cy="316.9" r="4.25"/><circle cx="187.8" cy="322.4" r="4.25"/><circle cx="194.3" cy="324.3" r="4.25"/><circle cx="217.4" cy="320.6" r="4.25"/><circle cx="229.5" cy="322.4" r="4.25"/><circle cx="241.5" cy="320.6" r="4.25"/><circle cx="152.6" cy="332.6" r="4.25"/><circle cx="152.6" cy="336.3" r="4.25"/><circle cx="164.7" cy="336.3" r="4.25"/><circle cx="158.2" cy="344.6" r="4.25"/><circle cx="148.9" cy="348.3" r="4.25"/><circle cx="187.8" cy="339.1" r="4.25"/><circle cx="199.9" cy="340" r="4.25"/><circle cx="206.3" cy="335.4" r="4.25"/><circle cx="206.3" cy="341.9" r="4.25"/><circle cx="194.3" cy="353.9" r="4.25"/><circle cx="248" cy="353.9" r="4.25"/><circle cx="251.7" cy="336.3" r="4.25"/><circle cx="151.7" cy="369.6" r="4.25"/><circle cx="158.2" cy="370.6" r="4.25"/><circle cx="175.8" cy="366.9" r="4.25"/><circle cx="163.7" cy="378.9" r="4.25"/><circle cx="170.2" cy="380.7" r="4.25"/><circle cx="182.3" cy="378" r="4.25"/><circle cx="158.2" cy="387.2" r="4.25"/><circle cx="170.2" cy="390.9" r="4.25"/><circle cx="175.8" cy="390" r="4.25"/><circle cx="182.3" cy="388.1" r="4.25"/><circle cx="182.3" cy="393.7" r="4.25"/><circle cx="170.2" cy="395.6" r="4.25"/><circle cx="164.7" cy="399.3" r="4.25"/><circle cx="175.8" cy="399.3" r="4.25"/><circle cx="158.2" cy="403" r="4.25"/><circle cx="230.4" cy="374.3" r="4.25"/><circle cx="236" cy="372.4" r="4.25"/><circle cx="223.9" cy="385.4" r="4.25"/><circle cx="211.9" cy="390" r="4.25"/><circle cx="206.3" cy="395.6" r="4.25"/><circle cx="199.9" cy="397.4" r="4.25"/><circle cx="211.9" cy="397.4" r="4.25"/><circle cx="230.4" cy="394.6" r="4.25"/><circle cx="236" cy="393.7" r="4.25"/><circle cx="242.4" cy="402" r="4.25"/><circle cx="236" cy="401.1" r="4.25"/><circle cx="223.9" cy="403.9" r="4.25"/><circle cx="194.3" cy="403" r="4.25"/><circle cx="187.8" cy="404.8" r="4.25"/><circle cx="199.9" cy="405.7" r="4.25"/><circle cx="205.4" cy="405.7" r="4.25"/><circle cx="175.8" cy="407.6" r="4.25"/><circle cx="248" cy="405.7" r="4.25"/><circle cx="148.9" cy="386.3" r="4.25"/><circle cx="259.5" cy="193.7" r="4.25"/><circle cx="254.9" cy="200.2" r="4.25"/><circle cx="260.4" cy="203.9" r="4.25"/><circle cx="266" cy="203" r="4.25"/><circle cx="254.9" cy="210.4" r="4.25"/><circle cx="266" cy="214.1" r="4.25"/><circle cx="259.5" cy="219.6" r="4.25"/><circle cx="254.9" cy="231.7" r="4.25"/><circle cx="278" cy="209.4" r="4.25"/><circle cx="283.6" cy="214.1" r="4.25"/><circle cx="295.6" cy="197.4" r="4.25"/><circle cx="307.6" cy="202" r="4.25"/><circle cx="313.2" cy="199.3" r="4.25"/><circle cx="313.2" cy="207.6" r="4.25"/><circle cx="319.7" cy="206.7" r="4.25"/><circle cx="325.2" cy="205.7" r="4.25"/><circle cx="330.8" cy="198.3" r="4.25"/><circle cx="302.1" cy="214.1" r="4.25"/><circle cx="307.6" cy="217.8" r="4.25"/><circle cx="307.6" cy="224.3" r="4.25"/><circle cx="314.1" cy="213.1" r="4.25"/><circle cx="319.7" cy="217.8" r="4.25"/><circle cx="326.1" cy="214.1" r="4.25"/><circle cx="349.3" cy="204.8" r="4.25"/><circle cx="349.3" cy="210.4" r="4.25"/><circle cx="354.9" cy="215.9" r="4.25"/><circle cx="349.3" cy="227" r="4.25"/><circle cx="354.9" cy="229.8" r="4.25"/><circle cx="290" cy="228" r="4.25"/><circle cx="290" cy="231.7" r="4.25"/><circle cx="302.1" cy="234.4" r="4.25"/><circle cx="314.1" cy="239.1" r="4.25"/><circle cx="266" cy="245.6" r="4.25"/><circle cx="331.7" cy="240" r="4.25"/><circle cx="337.3" cy="234.4" r="4.25"/><circle cx="331.7" cy="248.3" r="4.25"/><circle cx="343.7" cy="255.7" r="4.25"/><circle cx="354.9" cy="261.3" r="4.25"/><circle cx="271.5" cy="260.4" r="4.25"/><circle cx="271.5" cy="269.6" r="4.25"/><circle cx="283.6" cy="267.8" r="4.25"/><circle cx="295.6" cy="266.9" r="4.25"/><circle cx="302.1" cy="265.9" r="4.25"/><circle cx="266" cy="278.9" r="4.25"/><circle cx="295.6" cy="277" r="4.25"/><circle cx="283.6" cy="281.7" r="4.25"/><circle cx="277.1" cy="284.4" r="4.25"/><circle cx="290" cy="285.4" r="4.25"/><circle cx="302.1" cy="283.5" r="4.25"/><circle cx="314.1" cy="276.1" r="4.25"/><circle cx="325.2" cy="273.3" r="4.25"/><circle cx="331.7" cy="278" r="4.25"/><circle cx="337.3" cy="280.7" r="4.25"/><circle cx="343.7" cy="278.9" r="4.25"/><circle cx="325.2" cy="283.5" r="4.25"/><circle cx="331.7" cy="288.1" r="4.25"/><circle cx="337.3" cy="285.4" r="4.25"/><circle cx="343.7" cy="285.4" r="4.25"/><circle cx="254.9" cy="290" r="4.25"/><circle cx="260.4" cy="292.8" r="4.25"/><circle cx="271.5" cy="294.6" r="4.25"/><circle cx="278" cy="290.9" r="4.25"/><circle cx="278" cy="294.6" r="4.25"/><circle cx="290" cy="294.6" r="4.25"/><circle cx="296.5" cy="293.7" r="4.25"/><circle cx="307.6" cy="297.4" r="4.25"/><circle cx="307.6" cy="301.1" r="4.25"/><circle cx="314.1" cy="303.9" r="4.25"/><circle cx="319.7" cy="302" r="4.25"/><circle cx="325.2" cy="298.3" r="4.25"/><circle cx="331.7" cy="300.2" r="4.25"/><circle cx="337.3" cy="300.2" r="4.25"/><circle cx="343.7" cy="302" r="4.25"/><circle cx="349.3" cy="298.3" r="4.25"/><circle cx="354.9" cy="294.6" r="4.25"/><circle cx="260.4" cy="303.9" r="4.25"/><circle cx="254.9" cy="308.5" r="4.25"/><circle cx="260.4" cy="310.4" r="4.25"/><circle cx="266" cy="311.3" r="4.25"/><circle cx="295.6" cy="304.8" r="4.25"/><circle cx="295.6" cy="315" r="4.25"/><circle cx="302.1" cy="312.2" r="4.25"/><circle cx="307.6" cy="310.4" r="4.25"/><circle cx="307.6" cy="316.9" r="4.25"/><circle cx="314.1" cy="308.5" r="4.25"/><circle cx="314.1" cy="320.6" r="4.25"/><circle cx="319.7" cy="319.6" r="4.25"/><circle cx="319.7" cy="324.3" r="4.25"/><circle cx="326.1" cy="321.5" r="4.25"/><circle cx="319.7" cy="329.8" r="4.25"/><circle cx="307.6" cy="327" r="4.25"/><circle cx="302.1" cy="322.4" r="4.25"/><circle cx="283.6" cy="321.5" r="4.25"/><circle cx="278" cy="322.4" r="4.25"/><circle cx="254.9" cy="319.6" r="4.25"/><circle cx="260.4" cy="323.3" r="4.25"/><circle cx="266" cy="316.9" r="4.25"/><circle cx="349.3" cy="320.6" r="4.25"/><circle cx="354.9" cy="321.5" r="4.25"/><circle cx="354.9" cy="315.9" r="4.25"/><circle cx="290" cy="333.5" r="4.25"/><circle cx="302.1" cy="336.3" r="4.25"/><circle cx="254.9" cy="336.3" r="4.25"/><circle cx="349.3" cy="332.6" r="4.25"/><circle cx="331.7" cy="345.6" r="4.25"/><circle cx="337.3" cy="342.8" r="4.25"/><circle cx="343.7" cy="349.3" r="4.25"/><circle cx="331.7" cy="351.1" r="4.25"/><circle cx="266" cy="352" r="4.25"/><circle cx="290" cy="350.2" r="4.25"/><circle cx="314.1" cy="352" r="4.25"/><circle cx="331.7" cy="365.9" r="4.25"/><circle cx="354.9" cy="365.9" r="4.25"/><circle cx="302.1" cy="369.6" r="4.25"/><circle cx="271.5" cy="375.2" r="4.25"/><circle cx="283.6" cy="376.1" r="4.25"/><circle cx="295.6" cy="378.9" r="4.25"/><circle cx="343.7" cy="374.3" r="4.25"/><circle cx="254.9" cy="391.9" r="4.25"/><circle cx="260.4" cy="394.6" r="4.25"/><circle cx="266" cy="394.6" r="4.25"/><circle cx="271.5" cy="393.7" r="4.25"/><circle cx="278" cy="388.1" r="4.25"/><circle cx="278" cy="395.6" r="4.25"/><circle cx="283.6" cy="392.8" r="4.25"/><circle cx="283.6" cy="399.3" r="4.25"/><circle cx="302.1" cy="393.7" r="4.25"/><circle cx="314.1" cy="385.4" r="4.25"/><circle cx="319.7" cy="395.6" r="4.25"/><circle cx="325.2" cy="383.5" r="4.25"/><circle cx="331.7" cy="387.2" r="4.25"/><circle cx="337.3" cy="386.3" r="4.25"/><circle cx="343.7" cy="387.2" r="4.25"/><circle cx="349.3" cy="390" r="4.25"/><circle cx="354.9" cy="390.9" r="4.25"/><circle cx="331.7" cy="398.3" r="4.25"/><circle cx="338.2" cy="398.3" r="4.25"/><circle cx="343.7" cy="395.6" r="4.25"/><circle cx="349.3" cy="401.1" r="4.25"/><circle cx="295.6" cy="403" r="4.25"/><circle cx="307.6" cy="403.9" r="4.25"/><circle cx="259.5" cy="408.5" r="4.25"/><circle cx="271.5" cy="408.5" r="4.25"/><circle cx="278" cy="407.6" r="4.25"/><circle cx="325.2" cy="405.7" r="4.25"/><circle cx="337.3" cy="405.7" r="4.25"/><circle cx="361.7" cy="199.3" r="4.25"/><circle cx="367.3" cy="206.7" r="4.25"/><circle cx="373.7" cy="202" r="4.25"/><circle cx="379.3" cy="198.3" r="4.25"/><circle cx="384.9" cy="197.4" r="4.25"/><circle cx="384.9" cy="201.1" r="4.25"/><circle cx="390.4" cy="196.5" r="4.25"/><circle cx="396.9" cy="198.3" r="4.25"/><circle cx="396.9" cy="204.8" r="4.25"/><circle cx="402.4" cy="201.1" r="4.25"/><circle cx="408" cy="197.4" r="4.25"/><circle cx="408.9" cy="203" r="4.25"/><circle cx="414.5" cy="198.3" r="4.25"/><circle cx="414.5" cy="206.7" r="4.25"/><circle cx="421" cy="195.6" r="4.25"/><circle cx="421" cy="199.3" r="4.25"/><circle cx="427.4" cy="198.3" r="4.25"/><circle cx="433" cy="204.8" r="4.25"/><circle cx="438.6" cy="199.3" r="4.25"/><circle cx="445" cy="207.6" r="4.25"/><circle cx="450.6" cy="195.6" r="4.25"/><circle cx="450.6" cy="207.6" r="4.25"/><circle cx="456.1" cy="196.5" r="4.25"/><circle cx="457.1" cy="201.1" r="4.25"/><circle cx="462.6" cy="202" r="4.25"/><circle cx="462.6" cy="214.1" r="4.25"/><circle cx="450.6" cy="215" r="4.25"/><circle cx="438.6" cy="215.9" r="4.25"/><circle cx="360.8" cy="209.4" r="4.25"/><circle cx="367.3" cy="215.9" r="4.25"/><circle cx="373.7" cy="212.2" r="4.25"/><circle cx="372.8" cy="220.6" r="4.25"/><circle cx="373.7" cy="225.2" r="4.25"/><circle cx="379.3" cy="227" r="4.25"/><circle cx="379.3" cy="232.6" r="4.25"/><circle cx="361.7" cy="231.7" r="4.25"/><circle cx="367.3" cy="229.8" r="4.25"/><circle cx="373.7" cy="231.7" r="4.25"/><circle cx="390.4" cy="214.1" r="4.25"/><circle cx="402.4" cy="223.3" r="4.25"/><circle cx="408" cy="218.7" r="4.25"/><circle cx="408" cy="225.2" r="4.25"/><circle cx="414.5" cy="216.9" r="4.25"/><circle cx="421" cy="228" r="4.25"/><circle cx="426.5" cy="219.6" r="4.25"/><circle cx="426.5" cy="224.3" r="4.25"/><circle cx="367.3" cy="243.7" r="4.25"/><circle cx="358" cy="261.3" r="4.25"/><circle cx="433" cy="264.1" r="4.25"/><circle cx="445" cy="268.7" r="4.25"/><circle cx="390.4" cy="272.4" r="4.25"/><circle cx="433" cy="276.1" r="4.25"/><circle cx="379.3" cy="282.6" r="4.25"/><circle cx="384.9" cy="285.4" r="4.25"/><circle cx="390.4" cy="283.5" r="4.25"/><circle cx="396.9" cy="279.8" r="4.25"/><circle cx="402.4" cy="280.7" r="4.25"/><circle cx="396.9" cy="286.3" r="4.25"/><circle cx="402.4" cy="288.1" r="4.25"/><circle cx="396" cy="293.7" r="4.25"/><circle cx="379.3" cy="290" r="4.25"/><circle cx="373.7" cy="294.6" r="4.25"/><circle cx="438.6" cy="282.6" r="4.25"/><circle cx="438.6" cy="286.3" r="4.25"/><circle cx="432.1" cy="290" r="4.25"/><circle cx="432.1" cy="294.6" r="4.25"/><circle cx="414.5" cy="290.9" r="4.25"/><circle cx="408.9" cy="294.6" r="4.25"/><circle cx="421" cy="300.2" r="4.25"/><circle cx="408" cy="301.1" r="4.25"/><circle cx="414.5" cy="299.3" r="4.25"/><circle cx="445" cy="294.6" r="4.25"/><circle cx="450.6" cy="290.9" r="4.25"/><circle cx="456.1" cy="290.9" r="4.25"/><circle cx="456.1" cy="297.4" r="4.25"/><circle cx="462.6" cy="290.9" r="4.25"/><circle cx="361.7" cy="296.5" r="4.25"/><circle cx="358" cy="297.4" r="4.25"/><circle cx="361.7" cy="301.1" r="4.25"/><circle cx="358" cy="313.1" r="4.25"/><circle cx="367.3" cy="312.2" r="4.25"/><circle cx="379.3" cy="313.1" r="4.25"/><circle cx="384.9" cy="306.7" r="4.25"/><circle cx="390.4" cy="315.9" r="4.25"/><circle cx="396.9" cy="316.9" r="4.25"/><circle cx="402.4" cy="317.8" r="4.25"/><circle cx="408.9" cy="312.2" r="4.25"/><circle cx="414.5" cy="320.6" r="4.25"/><circle cx="426.5" cy="315.9" r="4.25"/><circle cx="438.6" cy="319.6" r="4.25"/><circle cx="445" cy="322.4" r="4.25"/><circle cx="450.6" cy="314.1" r="4.25"/><circle cx="450.6" cy="328.9" r="4.25"/><circle cx="462.6" cy="307.6" r="4.25"/><circle cx="462.6" cy="322.4" r="4.25"/><circle cx="462.6" cy="330.7" r="4.25"/><circle cx="361.7" cy="319.6" r="4.25"/><circle cx="367.3" cy="319.6" r="4.25"/><circle cx="373.7" cy="321.5" r="4.25"/><circle cx="367.3" cy="327" r="4.25"/><circle cx="361.7" cy="333.5" r="4.25"/><circle cx="373.7" cy="336.3" r="4.25"/><circle cx="379.3" cy="330.7" r="4.25"/><circle cx="379.3" cy="334.4" r="4.25"/><circle cx="402.4" cy="333.5" r="4.25"/><circle cx="408.9" cy="326.1" r="4.25"/><circle cx="408.9" cy="329.8" r="4.25"/><circle cx="426.5" cy="325.2" r="4.25"/><circle cx="426.5" cy="330.7" r="4.25"/><circle cx="421" cy="337.2" r="4.25"/><circle cx="426.5" cy="336.3" r="4.25"/><circle cx="367.3" cy="347.4" r="4.25"/><circle cx="358" cy="365" r="4.25"/><circle cx="433" cy="373.3" r="4.25"/><circle cx="445" cy="380.7" r="4.25"/><circle cx="438.6" cy="387.2" r="4.25"/><circle cx="450.6" cy="389.1" r="4.25"/><circle cx="458" cy="390.9" r="4.25"/><circle cx="462.6" cy="395.6" r="4.25"/><circle cx="379.3" cy="385.4" r="4.25"/><circle cx="373.7" cy="391.9" r="4.25"/><circle cx="384.9" cy="390" r="4.25"/><circle cx="390.4" cy="383.5" r="4.25"/><circle cx="390.4" cy="389.1" r="4.25"/><circle cx="396" cy="383.5" r="4.25"/><circle cx="402.4" cy="383.5" r="4.25"/><circle cx="402.4" cy="392.8" r="4.25"/><circle cx="396.9" cy="398.3" r="4.25"/><circle cx="408.9" cy="401.1" r="4.25"/><circle cx="414.5" cy="398.3" r="4.25"/><circle cx="421" cy="399.3" r="4.25"/><circle cx="432.1" cy="392.8" r="4.25"/><circle cx="433" cy="397.4" r="4.25"/><circle cx="439.5" cy="399.3" r="4.25"/><circle cx="445" cy="401.1" r="4.25"/><circle cx="450.6" cy="397.4" r="4.25"/><circle cx="456.1" cy="403" r="4.25"/><circle cx="361.7" cy="408.5" r="4.25"/><circle cx="390.4" cy="405.7" r="4.25"/><circle cx="421" cy="404.8" r="4.25"/><circle cx="432.1" cy="404.8" r="4.25"/><circle cx="170.2" cy="411.9" r="4.25"/><circle cx="187.8" cy="410.9" r="4.25"/><circle cx="199.9" cy="411.9" r="4.25"/><circle cx="218.4" cy="411.9" r="4.25"/><circle cx="229.5" cy="412.8" r="4.25"/><circle cx="244.3" cy="411.9" r="4.25"/><circle cx="163.7" cy="418.3" r="4.25"/><circle cx="170.2" cy="422" r="4.25"/><circle cx="175.8" cy="423.9" r="4.25"/><circle cx="182.3" cy="418.3" r="4.25"/><circle cx="193.4" cy="417.4" r="4.25"/><circle cx="199.9" cy="423.9" r="4.25"/><circle cx="194.3" cy="428.5" r="4.25"/><circle cx="182.3" cy="431.3" r="4.25"/><circle cx="187.8" cy="432.2" r="4.25"/><circle cx="211.9" cy="420.2" r="4.25"/><circle cx="211.9" cy="426.7" r="4.25"/><circle cx="218.4" cy="417.4" r="4.25"/><circle cx="218.4" cy="427.6" r="4.25"/><circle cx="223.9" cy="422" r="4.25"/><circle cx="235" cy="419.3" r="4.25"/><circle cx="241.5" cy="423.9" r="4.25"/><circle cx="241.5" cy="417.4" r="4.25"/><circle cx="248" cy="426.7" r="4.25"/><circle cx="251.7" cy="419.3" r="4.25"/><circle cx="229.5" cy="432.2" r="4.25"/><circle cx="251.7" cy="438.7" r="4.25"/><circle cx="206.3" cy="436.9" r="4.25"/><circle cx="206.3" cy="441.5" r="4.25"/><circle cx="151.7" cy="423.9" r="4.25"/><circle cx="151.7" cy="429.4" r="4.25"/><circle cx="151.7" cy="434.1" r="4.25"/><circle cx="158.2" cy="434.1" r="4.25"/><circle cx="151.7" cy="447" r="4.25"/><circle cx="158.2" cy="447" r="4.25"/><circle cx="164.7" cy="442.4" r="4.25"/><circle cx="187.8" cy="446.1" r="4.25"/><circle cx="199.9" cy="450.7" r="4.25"/><circle cx="194.3" cy="459.1" r="4.25"/><circle cx="248" cy="462.8" r="4.25"/><circle cx="158.2" cy="471.1" r="4.25"/><circle cx="164.7" cy="473.9" r="4.25"/><circle cx="152.6" cy="489.6" r="4.25"/><circle cx="170.2" cy="485.9" r="4.25"/><circle cx="175.8" cy="482.2" r="4.25"/><circle cx="170.2" cy="489.6" r="4.25"/><circle cx="163.7" cy="495.2" r="4.25"/><circle cx="163.7" cy="501.7" r="4.25"/><circle cx="170.2" cy="498" r="4.25"/><circle cx="175.8" cy="501.7" r="4.25"/><circle cx="182.3" cy="493.3" r="4.25"/><circle cx="182.3" cy="500.7" r="4.25"/><circle cx="187.8" cy="508.1" r="4.25"/><circle cx="194.3" cy="511.9" r="4.25"/><circle cx="199.9" cy="504.4" r="4.25"/><circle cx="206.3" cy="491.5" r="4.25"/><circle cx="211.9" cy="505.4" r="4.25"/><circle cx="218.4" cy="507.2" r="4.25"/><circle cx="223.9" cy="504.4" r="4.25"/><circle cx="229.5" cy="481.3" r="4.25"/><circle cx="236" cy="482.2" r="4.25"/><circle cx="229.5" cy="491.5" r="4.25"/><circle cx="236" cy="498" r="4.25"/><circle cx="236" cy="507.2" r="4.25"/><circle cx="242.4" cy="509.1" r="4.25"/><circle cx="248" cy="511.9" r="4.25"/><circle cx="251.7" cy="491.5" r="4.25"/><circle cx="158.2" cy="521.1" r="4.25"/><circle cx="164.7" cy="521.1" r="4.25"/><circle cx="170.2" cy="519.3" r="4.25"/><circle cx="170.2" cy="525.7" r="4.25"/><circle cx="182.3" cy="521.1" r="4.25"/><circle cx="187.8" cy="518.3" r="4.25"/><circle cx="194.3" cy="523" r="4.25"/><circle cx="199.9" cy="523" r="4.25"/><circle cx="199.9" cy="532.2" r="4.25"/><circle cx="206.3" cy="511.9" r="4.25"/><circle cx="211.9" cy="520.2" r="4.25"/><circle cx="211.9" cy="527.6" r="4.25"/><circle cx="218.4" cy="521.1" r="4.25"/><circle cx="218.4" cy="525.7" r="4.25"/><circle cx="223.9" cy="529.4" r="4.25"/><circle cx="229.5" cy="521.1" r="4.25"/><circle cx="236" cy="517.4" r="4.25"/><circle cx="241.5" cy="521.1" r="4.25"/><circle cx="242.4" cy="530.4" r="4.25"/><circle cx="248" cy="528.5" r="4.25"/><circle cx="251.7" cy="521.1" r="4.25"/><circle cx="151.7" cy="532.2" r="4.25"/><circle cx="151.7" cy="537.8" r="4.25"/><circle cx="158.2" cy="539.6" r="4.25"/><circle cx="148" cy="542.4" r="4.25"/><circle cx="176.7" cy="535" r="4.25"/><circle cx="182.3" cy="540.6" r="4.25"/><circle cx="187.8" cy="547" r="4.25"/><circle cx="187.8" cy="549.8" r="4.25"/><circle cx="194.3" cy="543.3" r="4.25"/><circle cx="199.9" cy="552.6" r="4.25"/><circle cx="206.3" cy="545.2" r="4.25"/><circle cx="218.4" cy="538.7" r="4.25"/><circle cx="229.5" cy="535" r="4.25"/><circle cx="241.5" cy="537.8" r="4.25"/><circle cx="152.6" cy="554.4" r="4.25"/><circle cx="158.2" cy="550.7" r="4.25"/><circle cx="164.7" cy="556.3" r="4.25"/><circle cx="194.3" cy="569.3" r="4.25"/><circle cx="248" cy="561.9" r="4.25"/><circle cx="251.7" cy="548" r="4.25"/><circle cx="158.2" cy="588.7" r="4.25"/><circle cx="164.7" cy="589.6" r="4.25"/><circle cx="170.2" cy="589.6" r="4.25"/><circle cx="175.8" cy="594.3" r="4.25"/><circle cx="175.8" cy="599.8" r="4.25"/><circle cx="151.7" cy="595.2" r="4.25"/><circle cx="158.2" cy="610.9" r="4.25"/><circle cx="163.7" cy="604.4" r="4.25"/><circle cx="170.2" cy="607.2" r="4.25"/><circle cx="170.2" cy="610" r="4.25"/><circle cx="175.8" cy="612.8" r="4.25"/><circle cx="182.3" cy="608.1" r="4.25"/><circle cx="182.3" cy="613.7" r="4.25"/><circle cx="187.8" cy="618.3" r="4.25"/><circle cx="194.3" cy="617.4" r="4.25"/><circle cx="199.9" cy="618.3" r="4.25"/><circle cx="205.4" cy="607.2" r="4.25"/><circle cx="211.9" cy="608.1" r="4.25"/><circle cx="206.3" cy="614.6" r="4.25"/><circle cx="218.4" cy="615.6" r="4.25"/><circle cx="223.9" cy="612.8" r="4.25"/><circle cx="229.5" cy="584.1" r="4.25"/><circle cx="229.5" cy="598.9" r="4.25"/><circle cx="236" cy="602.6" r="4.25"/><circle cx="236" cy="606.3" r="4.25"/><circle cx="242.4" cy="610" r="4.25"/><circle cx="236" cy="612.8" r="4.25"/><circle cx="248" cy="617.4" r="4.25"/><circle cx="251.7" cy="603.5" r="4.25"/><circle cx="175.8" cy="619.3" r="4.25"/><circle cx="194.3" cy="623.9" r="4.25"/><circle cx="211.9" cy="623" r="4.25"/><circle cx="217.4" cy="623" r="4.25"/><circle cx="223.9" cy="619.3" r="4.25"/><circle cx="242.4" cy="621.1" r="4.25"/><circle cx="253.9" cy="413.7" r="4.25"/><circle cx="260.4" cy="417.4" r="4.25"/><circle cx="266" cy="415.6" r="4.25"/><circle cx="278" cy="411.9" r="4.25"/><circle cx="284.5" cy="411.9" r="4.25"/><circle cx="290" cy="410.9" r="4.25"/><circle cx="306.7" cy="413.7" r="4.25"/><circle cx="313.2" cy="413.7" r="4.25"/><circle cx="325.2" cy="410.9" r="4.25"/><circle cx="337.3" cy="410.9" r="4.25"/><circle cx="343.7" cy="410.9" r="4.25"/><circle cx="254.9" cy="426.7" r="4.25"/><circle cx="260.4" cy="421.1" r="4.25"/><circle cx="266" cy="423.9" r="4.25"/><circle cx="260.4" cy="434.1" r="4.25"/><circle cx="254.9" cy="438.7" r="4.25"/><circle cx="278" cy="429.4" r="4.25"/><circle cx="283.6" cy="423.9" r="4.25"/><circle cx="290" cy="430.4" r="4.25"/><circle cx="295.6" cy="418.3" r="4.25"/><circle cx="302.1" cy="421.1" r="4.25"/><circle cx="302.1" cy="428.5" r="4.25"/><circle cx="307.6" cy="423.9" r="4.25"/><circle cx="314.1" cy="426.7" r="4.25"/><circle cx="319.7" cy="422" r="4.25"/><circle cx="319.7" cy="433.1" r="4.25"/><circle cx="319.7" cy="435.9" r="4.25"/><circle cx="325.2" cy="443.3" r="4.25"/><circle cx="331.7" cy="447" r="4.25"/><circle cx="337.3" cy="438.7" r="4.25"/><circle cx="342.8" cy="447" r="4.25"/><circle cx="349.3" cy="418.3" r="4.25"/><circle cx="349.3" cy="444.3" r="4.25"/><circle cx="354.9" cy="435" r="4.25"/><circle cx="354.9" cy="440.6" r="4.25"/><circle cx="290" cy="446.1" r="4.25"/><circle cx="302.1" cy="444.3" r="4.25"/><circle cx="313.2" cy="454.4" r="4.25"/><circle cx="331.7" cy="454.4" r="4.25"/><circle cx="266" cy="455.4" r="4.25"/><circle cx="271.5" cy="472" r="4.25"/><circle cx="271.5" cy="478.5" r="4.25"/><circle cx="283.6" cy="475.7" r="4.25"/><circle cx="295.6" cy="475.7" r="4.25"/><circle cx="302.1" cy="480.4" r="4.25"/><circle cx="295.6" cy="485" r="4.25"/><circle cx="319.7" cy="485.9" r="4.25"/><circle cx="325.2" cy="480.4" r="4.25"/><circle cx="342.8" cy="476.7" r="4.25"/><circle cx="349.3" cy="473.9" r="4.25"/><circle cx="354.9" cy="473" r="4.25"/><circle cx="254.9" cy="491.5" r="4.25"/><circle cx="260.4" cy="496.1" r="4.25"/><circle cx="271.5" cy="499.8" r="4.25"/><circle cx="278" cy="498.9" r="4.25"/><circle cx="278" cy="505.4" r="4.25"/><circle cx="283.6" cy="500.7" r="4.25"/><circle cx="290" cy="502.6" r="4.25"/><circle cx="283.6" cy="506.3" r="4.25"/><circle cx="278" cy="510" r="4.25"/><circle cx="302.1" cy="499.8" r="4.25"/><circle cx="307.6" cy="504.4" r="4.25"/><circle cx="314.1" cy="501.7" r="4.25"/><circle cx="337.3" cy="500.7" r="4.25"/><circle cx="343.7" cy="500.7" r="4.25"/><circle cx="343.7" cy="491.5" r="4.25"/><circle cx="337.3" cy="507.2" r="4.25"/><circle cx="354.9" cy="491.5" r="4.25"/><circle cx="254.9" cy="510.9" r="4.25"/><circle cx="266" cy="511.9" r="4.25"/><circle cx="295.6" cy="510.9" r="4.25"/><circle cx="295.6" cy="516.5" r="4.25"/><circle cx="307.6" cy="512.8" r="4.25"/><circle cx="319.7" cy="511.9" r="4.25"/><circle cx="325.2" cy="510.9" r="4.25"/><circle cx="325.2" cy="519.3" r="4.25"/><circle cx="331.7" cy="515.6" r="4.25"/><circle cx="337.3" cy="510.9" r="4.25"/><circle cx="343.7" cy="515.6" r="4.25"/><circle cx="349.3" cy="521.1" r="4.25"/><circle cx="349.3" cy="527.6" r="4.25"/><circle cx="260.4" cy="523.9" r="4.25"/><circle cx="260.4" cy="528.5" r="4.25"/><circle cx="266" cy="527.6" r="4.25"/><circle cx="259.5" cy="532.2" r="4.25"/><circle cx="278" cy="531.3" r="4.25"/><circle cx="283.6" cy="530.4" r="4.25"/><circle cx="290" cy="536.9" r="4.25"/><circle cx="290" cy="540.6" r="4.25"/><circle cx="302.1" cy="535" r="4.25"/><circle cx="302.1" cy="539.6" r="4.25"/><circle cx="307.6" cy="531.3" r="4.25"/><circle cx="307.6" cy="540.6" r="4.25"/><circle cx="313.2" cy="523" r="4.25"/><circle cx="313.2" cy="528.5" r="4.25"/><circle cx="314.1" cy="534.1" r="4.25"/><circle cx="319.7" cy="532.2" r="4.25"/><circle cx="319.7" cy="540.6" r="4.25"/><circle cx="325.2" cy="540.6" r="4.25"/><circle cx="325.2" cy="547" r="4.25"/><circle cx="337.3" cy="541.5" r="4.25"/><circle cx="254.9" cy="548" r="4.25"/><circle cx="354.9" cy="548" r="4.25"/><circle cx="349.3" cy="552.6" r="4.25"/><circle cx="302.1" cy="557.2" r="4.25"/><circle cx="313.2" cy="557.2" r="4.25"/><circle cx="331.7" cy="555.4" r="4.25"/><circle cx="331.7" cy="563.7" r="4.25"/><circle cx="266" cy="563.7" r="4.25"/><circle cx="343.7" cy="568.3" r="4.25"/><circle cx="343.7" cy="576.7" r="4.25"/><circle cx="354.9" cy="569.3" r="4.25"/><circle cx="271.5" cy="578.5" r="4.25"/><circle cx="271.5" cy="587.8" r="4.25"/><circle cx="271.5" cy="595.2" r="4.25"/><circle cx="283.6" cy="581.3" r="4.25"/><circle cx="295.6" cy="587.8" r="4.25"/><circle cx="302.1" cy="591.5" r="4.25"/><circle cx="290" cy="593.3" r="4.25"/><circle cx="283.6" cy="598" r="4.25"/><circle cx="290" cy="598.9" r="4.25"/><circle cx="325.2" cy="584.1" r="4.25"/><circle cx="331.7" cy="582.2" r="4.25"/><circle cx="342.8" cy="589.6" r="4.25"/><circle cx="349.3" cy="588.7" r="4.25"/><circle cx="354.9" cy="583.1" r="4.25"/><circle cx="254.9" cy="603.5" r="4.25"/><circle cx="260.4" cy="609.1" r="4.25"/><circle cx="266" cy="610.9" r="4.25"/><circle cx="278" cy="606.3" r="4.25"/><circle cx="278" cy="609.1" r="4.25"/><circle cx="283.6" cy="614.6" r="4.25"/><circle cx="295.6" cy="615.6" r="4.25"/><circle cx="302.1" cy="603.5" r="4.25"/><circle cx="307.6" cy="612.8" r="4.25"/><circle cx="313.2" cy="607.2" r="4.25"/><circle cx="319.7" cy="604.4" r="4.25"/><circle cx="325.2" cy="610.9" r="4.25"/><circle cx="337.3" cy="610" r="4.25"/><circle cx="337.3" cy="615.6" r="4.25"/><circle cx="343.7" cy="614.6" r="4.25"/><circle cx="354.9" cy="612.8" r="4.25"/><circle cx="343.7" cy="622" r="4.25"/><circle cx="259.5" cy="615.6" r="4.25"/><circle cx="278" cy="617.4" r="4.25"/><circle cx="325.2" cy="617.4" r="4.25"/><circle cx="337.3" cy="619.3" r="4.25"/><circle cx="361.7" cy="414.6" r="4.25"/><circle cx="367.3" cy="415.6" r="4.25"/><circle cx="373.7" cy="414.6" r="4.25"/><circle cx="379.3" cy="419.3" r="4.25"/><circle cx="384.9" cy="423" r="4.25"/><circle cx="384.9" cy="412.8" r="4.25"/><circle cx="396" cy="412.8" r="4.25"/><circle cx="402.4" cy="417.4" r="4.25"/><circle cx="408" cy="415.6" r="4.25"/><circle cx="414.5" cy="419.3" r="4.25"/><circle cx="414.5" cy="414.6" r="4.25"/><circle cx="421" cy="415.6" r="4.25"/><circle cx="421" cy="423.9" r="4.25"/><circle cx="426.5" cy="413.7" r="4.25"/><circle cx="426.5" cy="426.7" r="4.25"/><circle cx="445" cy="417.4" r="4.25"/><circle cx="450.6" cy="424.8" r="4.25"/><circle cx="450.6" cy="430.4" r="4.25"/><circle cx="462.6" cy="419.3" r="4.25"/><circle cx="462.6" cy="428.5" r="4.25"/><circle cx="462.6" cy="432.2" r="4.25"/><circle cx="438.6" cy="428.5" r="4.25"/><circle cx="421" cy="432.2" r="4.25"/><circle cx="426.5" cy="436.9" r="4.25"/><circle cx="426.5" cy="439.6" r="4.25"/><circle cx="408" cy="432.2" r="4.25"/><circle cx="408" cy="438.7" r="4.25"/><circle cx="402.4" cy="440.6" r="4.25"/><circle cx="390.4" cy="435.9" r="4.25"/><circle cx="367.3" cy="424.8" r="4.25"/><circle cx="367.3" cy="432.2" r="4.25"/><circle cx="372.8" cy="430.4" r="4.25"/><circle cx="361.7" cy="435" r="4.25"/><circle cx="367.3" cy="439.6" r="4.25"/><circle cx="360.8" cy="443.3" r="4.25"/><circle cx="372.8" cy="443.3" r="4.25"/><circle cx="379.3" cy="442.4" r="4.25"/><circle cx="367.3" cy="456.3" r="4.25"/><circle cx="358" cy="473" r="4.25"/><circle cx="396" cy="476.7" r="4.25"/><circle cx="432.1" cy="481.3" r="4.25"/><circle cx="358" cy="491.5" r="4.25"/><circle cx="379.3" cy="489.6" r="4.25"/><circle cx="384.9" cy="493.3" r="4.25"/><circle cx="390.4" cy="491.5" r="4.25"/><circle cx="402.4" cy="494.3" r="4.25"/><circle cx="402.4" cy="498" r="4.25"/><circle cx="396.9" cy="500.7" r="4.25"/><circle cx="384.9" cy="503.5" r="4.25"/><circle cx="390.4" cy="502.6" r="4.25"/><circle cx="396" cy="504.4" r="4.25"/><circle cx="408" cy="502.6" r="4.25"/><circle cx="413.6" cy="508.1" r="4.25"/><circle cx="421" cy="509.1" r="4.25"/><circle cx="432.1" cy="504.4" r="4.25"/><circle cx="432.1" cy="509.1" r="4.25"/><circle cx="438.6" cy="499.8" r="4.25"/><circle cx="445" cy="494.3" r="4.25"/><circle cx="445" cy="501.7" r="4.25"/><circle cx="450.6" cy="504.4" r="4.25"/><circle cx="457.1" cy="506.3" r="4.25"/><circle cx="462.6" cy="504.4" r="4.25"/><circle cx="380.2" cy="510.9" r="4.25"/><circle cx="390.4" cy="512.8" r="4.25"/><circle cx="396.9" cy="513.7" r="4.25"/><circle cx="402.4" cy="510.9" r="4.25"/><circle cx="414.5" cy="515.6" r="4.25"/><circle cx="361.7" cy="514.6" r="4.25"/><circle cx="367.3" cy="516.5" r="4.25"/><circle cx="372.8" cy="517.4" r="4.25"/><circle cx="379.3" cy="519.3" r="4.25"/><circle cx="361.7" cy="523" r="4.25"/><circle cx="361.7" cy="525.7" r="4.25"/><circle cx="367.3" cy="532.2" r="4.25"/><circle cx="372.8" cy="533.1" r="4.25"/><circle cx="384.9" cy="527.6" r="4.25"/><circle cx="408" cy="520.2" r="4.25"/><circle cx="414.5" cy="521.1" r="4.25"/><circle cx="414.5" cy="527.6" r="4.25"/><circle cx="414.5" cy="531.3" r="4.25"/><circle cx="421" cy="520.2" r="4.25"/><circle cx="421" cy="528.5" r="4.25"/><circle cx="421" cy="535.9" r="4.25"/><circle cx="426.5" cy="530.4" r="4.25"/><circle cx="432.1" cy="519.3" r="4.25"/><circle cx="445" cy="519.3" r="4.25"/><circle cx="450.6" cy="523.9" r="4.25"/><circle cx="462.6" cy="521.1" r="4.25"/><circle cx="462.6" cy="528.5" r="4.25"/><circle cx="462.6" cy="532.2" r="4.25"/><circle cx="358" cy="547" r="4.25"/><circle cx="367.3" cy="543.3" r="4.25"/><circle cx="372.8" cy="545.2" r="4.25"/><circle cx="372.8" cy="553.5" r="4.25"/><circle cx="379.3" cy="551.7" r="4.25"/><circle cx="379.3" cy="554.4" r="4.25"/><circle cx="390.4" cy="548" r="4.25"/><circle cx="402.4" cy="545.2" r="4.25"/><circle cx="408" cy="542.4" r="4.25"/><circle cx="426.5" cy="541.5" r="4.25"/><circle cx="426.5" cy="549.8" r="4.25"/><circle cx="426.5" cy="545.2" r="4.25"/><circle cx="438.6" cy="540.6" r="4.25"/><circle cx="450.6" cy="537.8" r="4.25"/><circle cx="361.7" cy="556.3" r="4.25"/><circle cx="367.3" cy="567.4" r="4.25"/><circle cx="358" cy="569.3" r="4.25"/><circle cx="358" cy="583.1" r="4.25"/><circle cx="433" cy="585.9" r="4.25"/><circle cx="445" cy="597" r="4.25"/><circle cx="396.9" cy="593.3" r="4.25"/><circle cx="379.3" cy="600.7" r="4.25"/><circle cx="379.3" cy="605.4" r="4.25"/><circle cx="384.9" cy="602.6" r="4.25"/><circle cx="390.4" cy="602.6" r="4.25"/><circle cx="390.4" cy="609.1" r="4.25"/><circle cx="396.9" cy="610" r="4.25"/><circle cx="402.4" cy="603.5" r="4.25"/><circle cx="402.4" cy="609.1" r="4.25"/><circle cx="408" cy="610" r="4.25"/><circle cx="384.9" cy="613.7" r="4.25"/><circle cx="432.1" cy="602.6" r="4.25"/><circle cx="438.6" cy="610" r="4.25"/><circle cx="450.6" cy="611.9" r="4.25"/><circle cx="457.1" cy="613.7" r="4.25"/><circle cx="462.6" cy="614.6" r="4.25"/><circle cx="361.7" cy="613.7" r="4.25"/><circle cx="414.5" cy="616.5" r="4.25"/><circle cx="421" cy="619.3" r="4.25"/><circle cx="432.1" cy="615.6" r="4.25"/><circle cx="439.5" cy="619.3" r="4.25"/><circle cx="433" cy="623.9" r="4.25"/><circle cx="445" cy="623" r="4.25"/><circle cx="456.1" cy="623" r="4.25"/><circle cx="71.4" cy="205.3" r="4.25"/><circle cx="78.3" cy="220.6" r="4.25"/><circle cx="84.9" cy="232.3" r="4.25"/><circle cx="89.9" cy="241" r="4.25"/><circle cx="97.8" cy="253.9" r="4.25"/><circle cx="101.2" cy="259.3" r="4.25"/><circle cx="111" cy="274.6" r="4.25"/><circle cx="116.8" cy="288.3" r="4.25"/><circle cx="120" cy="294.4" r="4.25"/><circle cx="129.3" cy="308.5" r="4.25"/><circle cx="133" cy="317" r="4.25"/><circle cx="71.5" cy="307" r="4.25"/><circle cx="77.7" cy="317.2" r="4.25"/><circle cx="82.3" cy="325.6" r="4.25"/><circle cx="90.6" cy="340.3" r="4.25"/><circle cx="95" cy="346.6" r="4.25"/><circle cx="100" cy="355.9" r="4.25"/><circle cx="107.7" cy="369.6" r="4.25"/><circle cx="116.6" cy="381.4" r="4.25"/><circle cx="121.6" cy="390.8" r="4.25"/><circle cx="127.3" cy="404.9" r="4.25"/><circle cx="134.8" cy="418.7" r="4.25"/><circle cx="70.6" cy="410.2" r="4.25"/><circle cx="81.1" cy="423.8" r="4.25"/><circle cx="86.1" cy="433.3" r="4.25"/><circle cx="89.4" cy="444.2" r="4.25"/><circle cx="97.6" cy="457.1" r="4.25"/><circle cx="100.8" cy="464.2" r="4.25"/><circle cx="109.6" cy="477.7" r="4.25"/><circle cx="118" cy="490.7" r="4.25"/><circle cx="122.8" cy="501.8" r="4.25"/><circle cx="127.1" cy="508.3" r="4.25"/><circle cx="133.5" cy="518" r="4.25"/><circle cx="67.2" cy="507" r="4.25"/><circle cx="74" cy="516.5" r="4.25"/><circle cx="78.1" cy="521.7" r="4.25"/><circle cx="84.1" cy="531.2" r="4.25"/><circle cx="89.6" cy="541.6" r="4.25"/><circle cx="93.9" cy="554.5" r="4.25"/><circle cx="97.4" cy="561.9" r="4.25"/><circle cx="105.1" cy="571" r="4.25"/><circle cx="109.1" cy="580.6" r="4.25"/><circle cx="114.2" cy="589.4" r="4.25"/><circle cx="122" cy="602.4" r="4.25"/></g>
<rect x="100" y="303.9" width="357.2" height="7.2" fill="url(#gTe)"/>
<rect x="100" y="406.9" width="357.2" height="7.2" fill="url(#gTe)"/>
<rect x="103" y="511.4" width="354.2" height="7.2" fill="url(#gTe)"/>
<rect x="99.5" y="615.9" width="357.7" height="7.2" fill="url(#gTe)"/>
<rect x="0" y="-4" width="142" height="8" fill="url(#gOr)" transform="translate(69.8 201) rotate(60.8)"/>
<rect x="0" y="-4" width="141" height="8" fill="url(#gOr)" transform="translate(69 298) rotate(60.5)"/>
<rect x="0" y="-4" width="141.8" height="8" fill="url(#gOr)" transform="translate(69 404.5) rotate(60.4)"/>
<rect x="0" y="-4" width="120.9" height="8" fill="url(#gOr)" transform="translate(66 499.5) rotate(61.1)"/>
<path d="M465 194.2V623.4" fill="none" stroke="#666" stroke-width="1.3"/>
<path d="M465 194.2H67.4V623.4H465" fill="none" stroke="#1a1a1a" stroke-width="1.3"/>
<line x1="67.4" y1="194.2" x2="71.9" y2="194.2" stroke="#1a1a1a" stroke-width="1.2"/>
<line x1="67.4" y1="301.5" x2="71.9" y2="301.5" stroke="#1a1a1a" stroke-width="1.2"/>
<line x1="67.4" y1="408.8" x2="71.9" y2="408.8" stroke="#1a1a1a" stroke-width="1.2"/>
<line x1="67.4" y1="516.1" x2="71.9" y2="516.1" stroke="#1a1a1a" stroke-width="1.2"/>
<line x1="67.4" y1="623.4" x2="71.9" y2="623.4" stroke="#1a1a1a" stroke-width="1.2"/>
<line x1="67.4" y1="623.4" x2="67.4" y2="618.9" stroke="#1a1a1a" stroke-width="1.2"/>
<line x1="166.8" y1="623.4" x2="166.8" y2="618.9" stroke="#1a1a1a" stroke-width="1.2"/>
<line x1="266.2" y1="623.4" x2="266.2" y2="618.9" stroke="#1a1a1a" stroke-width="1.2"/>
<line x1="365.6" y1="623.4" x2="365.6" y2="618.9" stroke="#1a1a1a" stroke-width="1.2"/>
<line x1="465" y1="623.4" x2="465" y2="618.9" stroke="#1a1a1a" stroke-width="1.2"/>
<text x="61.25" y="641.55" font-size="15.35" textLength="10.43" lengthAdjust="spacingAndGlyphs" fill="#1a1a1a">0</text>
<text x="155.87" y="641.55" font-size="15.35" textLength="20.31" lengthAdjust="spacingAndGlyphs" fill="#1a1a1a">50</text>
<text x="250.72" y="641.55" font-size="15.35" textLength="28.43" lengthAdjust="spacingAndGlyphs" fill="#1a1a1a">100</text>
<text x="351.52" y="641.55" font-size="15.35" textLength="26.29" lengthAdjust="spacingAndGlyphs" fill="#1a1a1a">150</text>
<text x="449.73" y="641.55" font-size="15.35" textLength="28.94" lengthAdjust="spacingAndGlyphs" fill="#1a1a1a">200</text>
<text x="41.08" y="199.00" font-size="15.57" textLength="17.99" lengthAdjust="spacingAndGlyphs" fill="#1a1a1a">2π</text>
<text x="26.25" y="305.95" font-size="15.49" textLength="33.97" lengthAdjust="spacingAndGlyphs" fill="#1a1a1a">3π/2</text>
<text x="49.96" y="412.57" font-size="12.78" textLength="9.35" lengthAdjust="spacingAndGlyphs" fill="#1a1a1a">π</text>
<text x="34.63" y="520.80" font-size="15.14" textLength="25.59" lengthAdjust="spacingAndGlyphs" fill="#1a1a1a">π/2</text>
<text x="49.58" y="627.65" font-size="14.79" textLength="9.96" lengthAdjust="spacingAndGlyphs" fill="#1a1a1a">0</text>
<text x="243.43" y="665.86" font-size="17.33" textLength="46.55" lengthAdjust="spacingAndGlyphs" fill="#1a1a1a"><tspan font-style="italic">t</tspan> (ms)</text>
<text transform="translate(14.8 446.8) rotate(-90)" font-size="18" fill="#1a1a1a" textLength="70.7" lengthAdjust="spacingAndGlyphs"><tspan font-style="italic">ϕ</tspan><tspan font-size="13" dy="5">rot</tspan><tspan dy="-5"> (rad)</tspan></text>
<path fill="#919191" shape-rendering="crispEdges" d="M474.5 194h4v4h-4zM486.4 194h4v4h-4zM537.7 194h4v4h-4zM557.5 194h4v4h-4zM573.2 194h4v4h-4zM585.1 194h4v4h-4zM490.3 197.9h4v4h-4zM494.2 197.9h4v4h-4zM553.5 197.9h4v4h-4zM628.5 197.9h2.2v4h-2.2zM533.8 205.8h4v4h-4zM549.5 205.8h4v4h-4zM565.4 205.8h4v4h-4zM589 205.8h4v4h-4zM597 205.8h4v4h-4zM589 209.8h4v4h-4zM478.4 217.7h4v4h-4zM577.2 217.7h4v4h-4zM628.5 221.7h2.2v4h-2.2zM474.5 225.6h4v4h-4zM585.1 225.6h4v4h-4zM474.5 241.4h4v4h-4zM478.4 249.3h4v4h-4zM482.4 253.2h4v4h-4zM608.8 257.2h4v4h-4zM608.8 269.1h4v4h-4zM620.6 269.1h4v4h-4zM612.8 273h4v4h-4zM620.6 273h4v4h-4zM628.5 273h2.2v4h-2.2zM624.6 276.9h4v4h-4zM628.5 280.9h2.2v4h-2.2zM628.5 284.9h2.2v4h-2.2zM478.4 288.8h4v4h-4zM474.5 296.7h4v4h-4zM478.4 304.6h4v4h-4zM608.8 304.6h4v4h-4zM612.8 304.6h4v4h-4zM600.9 308.6h4v4h-4zM498.2 316.4h4v4h-4zM494.2 320.4h4v4h-4zM569.3 320.4h4v4h-4zM581.1 320.4h4v4h-4zM486.4 324.4h4v4h-4zM494.2 328.3h4v4h-4zM593 328.3h4v4h-4zM604.9 328.3h4v4h-4zM490.3 332.2h4v4h-4zM600.9 332.2h4v4h-4zM478.4 336.2h4v4h-4zM486.4 336.2h4v4h-4zM490.3 336.2h4v4h-4zM494.2 336.2h4v4h-4zM510.1 336.2h4v4h-4zM514 336.2h4v4h-4zM565.4 336.2h4v4h-4zM514 340.1h4v4h-4zM529.8 340.1h4v4h-4zM553.5 340.1h4v4h-4zM529.8 344.1h4v4h-4zM553.5 344.1h4v4h-4zM624.6 344.1h4v4h-4zM561.4 348.1h4v1.8h-4z"/>
<path fill="#838383" shape-rendering="crispEdges" d="M478.4 194h4v4h-4zM521.9 194h4v4h-4zM561.4 194h4v4h-4zM581.1 194h4v4h-4zM597 194h4v4h-4zM608.8 194h4v4h-4zM561.4 197.9h4v4h-4zM565.4 197.9h4v4h-4zM474.5 201.9h4v4h-4zM490.3 201.9h4v4h-4zM537.7 201.9h4v4h-4zM600.9 201.9h4v4h-4zM628.5 201.9h2.2v4h-2.2zM490.3 205.8h4v4h-4zM628.5 205.8h2.2v4h-2.2zM569.3 209.8h4v4h-4zM577.2 213.8h4v4h-4zM581.1 213.8h4v4h-4zM612.8 213.8h4v4h-4zM593 225.6h4v4h-4zM600.9 225.6h4v4h-4zM612.8 225.6h4v4h-4zM628.5 225.6h2.2v4h-2.2zM474.5 229.6h4v4h-4zM624.6 229.6h4v4h-4zM474.5 233.5h4v4h-4zM474.5 237.4h4v4h-4zM600.9 241.4h4v4h-4zM600.9 245.3h4v4h-4zM600.9 249.3h4v4h-4zM604.9 253.2h4v4h-4zM628.5 253.2h2.2v4h-2.2zM620.6 276.9h4v4h-4zM620.6 280.9h4v4h-4zM616.7 292.8h4v4h-4zM612.8 308.6h4v4h-4zM600.9 316.4h4v4h-4zM589 320.4h4v4h-4zM502.1 324.4h4v4h-4zM628.5 324.4h2.2v4h-2.2zM478.4 328.3h4v4h-4zM510.1 328.3h4v4h-4zM577.2 328.3h4v4h-4zM486.4 332.2h4v4h-4zM498.2 332.2h4v4h-4zM581.1 332.2h4v4h-4zM593 332.2h4v4h-4zM604.9 336.2h4v4h-4zM494.2 340.1h4v4h-4zM498.2 340.1h4v4h-4zM518 340.1h4v4h-4zM561.4 340.1h4v4h-4zM478.4 344.1h4v4h-4zM620.6 344.1h4v4h-4zM541.6 348.1h4v1.8h-4zM553.5 348.1h4v1.8h-4z"/>
<path fill="#808080" shape-rendering="crispEdges" d="M482.4 194h4v4h-4zM577.2 194h4v4h-4zM589 194h4v4h-4zM600.9 194h4v4h-4zM537.7 197.9h4v4h-4zM541.6 197.9h4v4h-4zM549.5 197.9h4v4h-4zM597 197.9h4v4h-4zM608.8 197.9h4v4h-4zM486.4 201.9h4v4h-4zM506.1 201.9h4v4h-4zM533.8 201.9h4v4h-4zM545.6 201.9h4v4h-4zM510.1 205.8h4v4h-4zM557.5 205.8h4v4h-4zM569.3 205.8h4v4h-4zM600.9 205.8h4v4h-4zM597 213.8h4v4h-4zM585.1 217.7h4v4h-4zM585.1 221.7h4v4h-4zM600.9 221.7h4v4h-4zM616.7 229.6h4v4h-4zM620.6 229.6h4v4h-4zM628.5 241.4h2.2v4h-2.2zM604.9 245.3h4v4h-4zM604.9 249.3h4v4h-4zM608.8 253.2h4v4h-4zM616.7 261.1h4v4h-4zM620.6 265.1h4v4h-4zM616.7 276.9h4v4h-4zM620.6 296.7h4v4h-4zM624.6 300.6h4v4h-4zM628.5 300.6h2.2v4h-2.2zM474.5 304.6h4v4h-4zM474.5 316.4h4v4h-4zM628.5 316.4h2.2v4h-2.2zM478.4 320.4h4v4h-4zM616.7 320.4h4v4h-4zM624.6 320.4h4v4h-4zM585.1 324.4h4v4h-4zM597 324.4h4v4h-4zM616.7 324.4h4v4h-4zM506.1 328.3h4v4h-4zM577.2 332.2h4v4h-4zM482.4 340.1h4v4h-4zM537.7 340.1h4v4h-4zM565.4 340.1h4v4h-4zM597 340.1h4v4h-4zM474.5 344.1h4v4h-4zM482.4 344.1h4v4h-4zM486.4 344.1h4v4h-4zM494.2 344.1h4v4h-4zM498.2 344.1h4v4h-4zM518 344.1h4v4h-4zM541.6 344.1h4v4h-4zM549.5 344.1h4v4h-4zM565.4 344.1h4v4h-4zM498.2 348.1h4v1.8h-4zM525.9 348.1h4v1.8h-4z"/>
<path fill="#9d9d9d" shape-rendering="crispEdges" d="M490.3 194h4v4h-4zM498.2 194h4v4h-4zM506.1 194h4v4h-4zM498.2 201.9h4v4h-4zM518 201.9h4v4h-4zM581.1 205.8h4v4h-4zM490.3 213.8h4v4h-4zM553.5 213.8h4v4h-4zM474.5 217.7h4v4h-4zM486.4 217.7h4v4h-4zM474.5 221.7h4v4h-4zM569.3 221.7h4v4h-4zM478.4 241.4h4v4h-4zM482.4 245.3h4v4h-4zM474.5 249.3h4v4h-4zM478.4 253.2h4v4h-4zM486.4 253.2h4v4h-4zM478.4 257.2h4v4h-4zM608.8 265.1h4v4h-4zM478.4 269.1h4v4h-4zM616.7 269.1h4v4h-4zM474.5 284.9h4v4h-4zM478.4 296.7h4v4h-4zM478.4 300.6h4v4h-4zM608.8 300.6h4v4h-4zM612.8 300.6h4v4h-4zM494.2 312.5h4v4h-4zM498.2 312.5h4v4h-4zM593 312.5h4v4h-4zM486.4 320.4h4v4h-4zM502.1 320.4h4v4h-4zM565.4 324.4h4v4h-4zM565.4 328.3h4v4h-4zM525.9 332.2h4v4h-4zM533.8 332.2h4v4h-4zM565.4 332.2h4v4h-4zM510.1 344.1h4v4h-4zM624.6 348.1h4v1.8h-4z"/>
<path fill="#979797" shape-rendering="crispEdges" d="M494.2 194h4v4h-4zM514 197.9h4v4h-4zM521.9 197.9h4v4h-4zM569.3 197.9h4v4h-4zM573.2 197.9h4v4h-4zM616.7 197.9h4v4h-4zM585.1 201.9h4v4h-4zM518 205.8h4v4h-4zM537.7 205.8h4v4h-4zM545.6 205.8h4v4h-4zM585.1 205.8h4v4h-4zM593 205.8h4v4h-4zM490.3 209.8h4v4h-4zM494.2 209.8h4v4h-4zM506.1 209.8h4v4h-4zM593 209.8h4v4h-4zM486.4 213.8h4v4h-4zM557.5 213.8h4v4h-4zM569.3 213.8h4v4h-4zM482.4 217.7h4v4h-4zM628.5 233.5h2.2v4h-2.2zM597 245.3h4v4h-4zM612.8 265.1h4v4h-4zM612.8 269.1h4v4h-4zM608.8 273h4v4h-4zM624.6 273h4v4h-4zM478.4 284.9h4v4h-4zM616.7 284.9h4v4h-4zM620.6 284.9h4v4h-4zM624.6 284.9h4v4h-4zM604.9 304.6h4v4h-4zM597 308.6h4v4h-4zM573.2 316.4h4v4h-4zM608.8 316.4h4v4h-4zM490.3 320.4h4v4h-4zM612.8 320.4h4v4h-4zM510.1 324.4h4v4h-4zM608.8 324.4h4v4h-4zM612.8 324.4h4v4h-4zM518 328.3h4v4h-4zM474.5 336.2h4v4h-4zM533.8 336.2h4v4h-4zM514 344.1h4v4h-4zM529.8 348.1h4v1.8h-4zM533.8 348.1h4v1.8h-4z"/>
<path fill="#a4a4a4" shape-rendering="crispEdges" d="M502.1 194h4v4h-4zM581.1 201.9h4v4h-4zM518 209.8h4v4h-4zM490.3 217.7h4v4h-4zM557.5 217.7h4v4h-4zM565.4 217.7h4v4h-4zM482.4 221.7h4v4h-4zM486.4 221.7h4v4h-4zM490.3 221.7h4v4h-4zM577.2 221.7h4v4h-4zM490.3 229.6h4v4h-4zM585.1 229.6h4v4h-4zM478.4 233.5h4v4h-4zM490.3 233.5h4v4h-4zM581.1 233.5h4v4h-4zM478.4 261.1h4v4h-4zM612.8 280.9h4v4h-4zM482.4 284.9h4v4h-4zM612.8 288.8h4v4h-4zM612.8 292.8h4v4h-4zM604.9 296.7h4v4h-4zM482.4 304.6h4v4h-4zM597 304.6h4v4h-4zM486.4 312.5h4v4h-4zM518 324.4h4v4h-4zM521.9 328.3h4v4h-4zM561.4 332.2h4v4h-4z"/>
<path fill="#9a9a9a" shape-rendering="crispEdges" d="M510.1 194h4v4h-4zM553.5 194h4v4h-4zM569.3 194h4v4h-4zM612.8 194h4v4h-4zM616.7 194h4v4h-4zM498.2 197.9h4v4h-4zM502.1 197.9h4v4h-4zM518 197.9h4v4h-4zM502.1 201.9h4v4h-4zM577.2 201.9h4v4h-4zM498.2 205.8h4v4h-4zM502.1 205.8h4v4h-4zM541.6 205.8h4v4h-4zM510.1 209.8h4v4h-4zM533.8 209.8h4v4h-4zM553.5 209.8h4v4h-4zM529.8 213.8h4v4h-4zM533.8 213.8h4v4h-4zM561.4 213.8h4v4h-4zM565.4 213.8h4v4h-4zM569.3 217.7h4v4h-4zM478.4 221.7h4v4h-4zM597 237.4h4v4h-4zM628.5 237.4h2.2v4h-2.2zM597 241.4h4v4h-4zM474.5 245.3h4v4h-4zM597 253.2h4v4h-4zM482.4 257.2h4v4h-4zM604.9 269.1h4v4h-4zM474.5 273h4v4h-4zM478.4 273h4v4h-4zM612.8 276.9h4v4h-4zM478.4 292.8h4v4h-4zM600.9 304.6h4v4h-4zM482.4 312.5h4v4h-4zM490.3 316.4h4v4h-4zM577.2 316.4h4v4h-4zM585.1 316.4h4v4h-4zM608.8 320.4h4v4h-4zM557.5 332.2h4v4h-4zM529.8 336.2h4v4h-4zM510.1 340.1h4v4h-4zM628.5 344.1h2.2v4h-2.2z"/>
<path fill="#949494" shape-rendering="crispEdges" d="M514 194h4v4h-4zM620.6 194h4v4h-4zM624.6 194h4v4h-4zM557.5 197.9h4v4h-4zM577.2 197.9h4v4h-4zM581.1 197.9h4v4h-4zM585.1 197.9h4v4h-4zM612.8 197.9h4v4h-4zM620.6 197.9h4v4h-4zM573.2 201.9h4v4h-4zM482.4 205.8h4v4h-4zM482.4 209.8h4v4h-4zM486.4 209.8h4v4h-4zM561.4 209.8h4v4h-4zM565.4 209.8h4v4h-4zM482.4 213.8h4v4h-4zM593 213.8h4v4h-4zM573.2 217.7h4v4h-4zM581.1 221.7h4v4h-4zM624.6 221.7h4v4h-4zM593 229.6h4v4h-4zM597 233.5h4v4h-4zM478.4 245.3h4v4h-4zM616.7 265.1h4v4h-4zM628.5 276.9h2.2v4h-2.2zM624.6 288.8h4v4h-4zM628.5 288.8h2.2v4h-2.2zM474.5 300.6h4v4h-4zM616.7 300.6h4v4h-4zM482.4 316.4h4v4h-4zM490.3 324.4h4v4h-4zM506.1 324.4h4v4h-4zM514 324.4h4v4h-4zM494.2 332.2h4v4h-4zM518 332.2h4v4h-4zM521.9 332.2h4v4h-4zM549.5 332.2h4v4h-4zM553.5 332.2h4v4h-4zM525.9 336.2h4v4h-4zM502.1 340.1h4v4h-4zM506.1 340.1h4v4h-4zM474.5 348.1h4v1.8h-4zM478.4 348.1h4v1.8h-4zM537.7 348.1h4v1.8h-4z"/>
<path fill="#8d8d8d" shape-rendering="crispEdges" d="M518 194h4v4h-4zM549.5 194h4v4h-4zM474.5 197.9h4v4h-4zM478.4 197.9h4v4h-4zM506.1 197.9h4v4h-4zM624.6 197.9h4v4h-4zM482.4 201.9h4v4h-4zM494.2 201.9h4v4h-4zM529.8 201.9h4v4h-4zM565.4 201.9h4v4h-4zM569.3 201.9h4v4h-4zM506.1 205.8h4v4h-4zM561.4 205.8h4v4h-4zM577.2 205.8h4v4h-4zM585.1 209.8h4v4h-4zM589 213.8h4v4h-4zM620.6 221.7h4v4h-4zM597 225.6h4v4h-4zM616.7 225.6h4v4h-4zM597 229.6h4v4h-4zM482.4 249.3h4v4h-4zM597 249.3h4v4h-4zM600.9 253.2h4v4h-4zM624.6 280.9h4v4h-4zM628.5 292.8h2.2v4h-2.2zM597 312.5h4v4h-4zM600.9 312.5h4v4h-4zM604.9 312.5h4v4h-4zM494.2 316.4h4v4h-4zM589 316.4h4v4h-4zM604.9 316.4h4v4h-4zM482.4 320.4h4v4h-4zM498.2 320.4h4v4h-4zM604.9 320.4h4v4h-4zM494.2 324.4h4v4h-4zM589 324.4h4v4h-4zM604.9 324.4h4v4h-4zM490.3 328.3h4v4h-4zM589 328.3h4v4h-4zM608.8 328.3h4v4h-4zM474.5 332.2h4v4h-4zM478.4 332.2h4v4h-4zM482.4 332.2h4v4h-4zM597 332.2h4v4h-4zM604.9 332.2h4v4h-4zM537.7 336.2h4v4h-4zM541.6 336.2h4v4h-4zM549.5 336.2h4v4h-4zM486.4 340.1h4v4h-4zM490.3 340.1h4v4h-4zM506.1 344.1h4v4h-4zM533.8 344.1h4v4h-4z"/>
<path fill="#757575" shape-rendering="crispEdges" d="M525.9 194h4v4h-4zM529.8 194h4v4h-4zM593 194h4v4h-4zM604.9 194h4v4h-4zM620.6 205.8h4v4h-4zM573.2 209.8h4v4h-4zM608.8 209.8h4v4h-4zM628.5 209.8h2.2v4h-2.2zM624.6 213.8h4v4h-4zM628.5 213.8h2.2v4h-2.2zM600.9 217.7h4v4h-4zM589 221.7h4v4h-4zM604.9 241.4h4v4h-4zM620.6 241.4h4v4h-4zM474.5 312.5h4v4h-4zM628.5 312.5h2.2v4h-2.2zM624.6 316.4h4v4h-4zM597 320.4h4v4h-4zM573.2 324.4h4v4h-4zM498.2 328.3h4v4h-4zM502.1 328.3h4v4h-4zM573.2 328.3h4v4h-4zM616.7 328.3h4v4h-4zM628.5 328.3h2.2v4h-2.2zM612.8 332.2h4v4h-4zM616.7 332.2h4v4h-4zM573.2 336.2h4v4h-4zM593 336.2h4v4h-4zM608.8 336.2h4v4h-4zM569.3 340.1h4v4h-4zM581.1 340.1h4v4h-4zM593 340.1h4v4h-4zM608.8 340.1h4v4h-4zM545.6 344.1h4v4h-4zM585.1 344.1h4v4h-4zM597 344.1h4v4h-4zM600.9 344.1h4v4h-4zM486.4 348.1h4v1.8h-4zM569.3 348.1h4v1.8h-4zM589 348.1h4v1.8h-4zM604.9 348.1h4v1.8h-4zM608.8 348.1h4v1.8h-4zM616.7 348.1h4v1.8h-4z"/>
<path fill="#8a8a8a" shape-rendering="crispEdges" d="M533.8 194h4v4h-4zM545.6 194h4v4h-4zM565.4 194h4v4h-4zM482.4 197.9h4v4h-4zM510.1 197.9h4v4h-4zM525.9 197.9h4v4h-4zM478.4 201.9h4v4h-4zM557.5 201.9h4v4h-4zM561.4 201.9h4v4h-4zM589 201.9h4v4h-4zM612.8 201.9h4v4h-4zM616.7 201.9h4v4h-4zM478.4 205.8h4v4h-4zM514 205.8h4v4h-4zM557.5 209.8h4v4h-4zM474.5 213.8h4v4h-4zM478.4 213.8h4v4h-4zM585.1 213.8h4v4h-4zM616.7 217.7h4v4h-4zM620.6 217.7h4v4h-4zM624.6 217.7h4v4h-4zM597 221.7h4v4h-4zM616.7 221.7h4v4h-4zM620.6 225.6h4v4h-4zM628.5 229.6h2.2v4h-2.2zM624.6 237.4h4v4h-4zM616.7 273h4v4h-4zM616.7 280.9h4v4h-4zM616.7 288.8h4v4h-4zM620.6 288.8h4v4h-4zM616.7 296.7h4v4h-4zM628.5 296.7h2.2v4h-2.2zM616.7 304.6h4v4h-4zM478.4 308.6h4v4h-4zM604.9 308.6h4v4h-4zM608.8 312.5h4v4h-4zM612.8 316.4h4v4h-4zM577.2 320.4h4v4h-4zM628.5 320.4h2.2v4h-2.2zM581.1 324.4h4v4h-4zM593 324.4h4v4h-4zM597 328.3h4v4h-4zM600.9 328.3h4v4h-4zM510.1 332.2h4v4h-4zM514 332.2h4v4h-4zM569.3 332.2h4v4h-4zM482.4 336.2h4v4h-4zM518 336.2h4v4h-4zM545.6 336.2h4v4h-4zM553.5 336.2h4v4h-4zM561.4 336.2h4v4h-4zM600.9 336.2h4v4h-4zM525.9 340.1h4v4h-4zM533.8 340.1h4v4h-4zM537.7 344.1h4v4h-4zM557.5 344.1h4v4h-4zM565.4 348.1h4v1.8h-4zM620.6 348.1h4v1.8h-4z"/>
<path fill="#878787" shape-rendering="crispEdges" d="M541.6 194h4v4h-4zM486.4 197.9h4v4h-4zM589 197.9h4v4h-4zM514 201.9h4v4h-4zM541.6 201.9h4v4h-4zM553.5 201.9h4v4h-4zM593 201.9h4v4h-4zM597 201.9h4v4h-4zM608.8 201.9h4v4h-4zM620.6 201.9h4v4h-4zM624.6 201.9h4v4h-4zM486.4 205.8h4v4h-4zM494.2 205.8h4v4h-4zM553.5 205.8h4v4h-4zM478.4 209.8h4v4h-4zM581.1 209.8h4v4h-4zM597 209.8h4v4h-4zM573.2 213.8h4v4h-4zM616.7 213.8h4v4h-4zM581.1 217.7h4v4h-4zM593 217.7h4v4h-4zM597 217.7h4v4h-4zM612.8 217.7h4v4h-4zM628.5 217.7h2.2v4h-2.2zM612.8 221.7h4v4h-4zM589 225.6h4v4h-4zM624.6 225.6h4v4h-4zM600.9 229.6h4v4h-4zM600.9 233.5h4v4h-4zM624.6 233.5h4v4h-4zM612.8 261.1h4v4h-4zM624.6 269.1h4v4h-4zM474.5 288.8h4v4h-4zM474.5 292.8h4v4h-4zM624.6 292.8h4v4h-4zM624.6 296.7h4v4h-4zM620.6 300.6h4v4h-4zM608.8 308.6h4v4h-4zM478.4 312.5h4v4h-4zM478.4 316.4h4v4h-4zM593 316.4h4v4h-4zM573.2 320.4h4v4h-4zM585.1 320.4h4v4h-4zM482.4 324.4h4v4h-4zM577.2 324.4h4v4h-4zM482.4 328.3h4v4h-4zM486.4 328.3h4v4h-4zM514 328.3h4v4h-4zM581.1 328.3h4v4h-4zM612.8 328.3h4v4h-4zM498.2 336.2h4v4h-4zM502.1 336.2h4v4h-4zM506.1 336.2h4v4h-4zM521.9 336.2h4v4h-4zM557.5 336.2h4v4h-4zM569.3 336.2h4v4h-4zM597 336.2h4v4h-4zM549.5 340.1h4v4h-4zM557.5 340.1h4v4h-4zM502.1 344.1h4v4h-4zM525.9 344.1h4v4h-4zM561.4 344.1h4v4h-4zM482.4 348.1h4v1.8h-4zM506.1 348.1h4v1.8h-4zM557.5 348.1h4v1.8h-4z"/>
<path fill="#a0a0a0" shape-rendering="crispEdges" d="M628.5 194h2.2v4h-2.2zM529.8 205.8h4v4h-4zM498.2 209.8h4v4h-4zM502.1 209.8h4v4h-4zM514 209.8h4v4h-4zM529.8 209.8h4v4h-4zM494.2 213.8h4v4h-4zM506.1 213.8h4v4h-4zM553.5 217.7h4v4h-4zM573.2 221.7h4v4h-4zM478.4 225.6h4v4h-4zM478.4 229.6h4v4h-4zM589 229.6h4v4h-4zM593 233.5h4v4h-4zM478.4 237.4h4v4h-4zM486.4 249.3h4v4h-4zM604.9 257.2h4v4h-4zM608.8 261.1h4v4h-4zM478.4 265.1h4v4h-4zM474.5 269.1h4v4h-4zM604.9 273h4v4h-4zM482.4 288.8h4v4h-4zM600.9 292.8h4v4h-4zM600.9 296.7h4v4h-4zM612.8 296.7h4v4h-4zM604.9 300.6h4v4h-4zM482.4 308.6h4v4h-4zM490.3 312.5h4v4h-4zM589 312.5h4v4h-4zM486.4 316.4h4v4h-4zM581.1 316.4h4v4h-4zM529.8 332.2h4v4h-4zM510.1 348.1h4v1.8h-4zM514 348.1h4v1.8h-4z"/>
<path fill="#7c7c7c" shape-rendering="crispEdges" d="M529.8 197.9h4v4h-4zM533.8 197.9h4v4h-4zM545.6 197.9h4v4h-4zM600.9 197.9h4v4h-4zM549.5 201.9h4v4h-4zM604.9 201.9h4v4h-4zM474.5 205.8h4v4h-4zM608.8 205.8h4v4h-4zM612.8 205.8h4v4h-4zM474.5 209.8h4v4h-4zM616.7 209.8h4v4h-4zM620.6 213.8h4v4h-4zM589 217.7h4v4h-4zM608.8 217.7h4v4h-4zM593 221.7h4v4h-4zM600.9 237.4h4v4h-4zM628.5 257.2h2.2v4h-2.2zM620.6 292.8h4v4h-4zM616.7 308.6h4v4h-4zM597 316.4h4v4h-4zM474.5 320.4h4v4h-4zM593 320.4h4v4h-4zM624.6 324.4h4v4h-4zM569.3 328.3h4v4h-4zM585.1 328.3h4v4h-4zM506.1 332.2h4v4h-4zM585.1 332.2h4v4h-4zM589 332.2h4v4h-4zM474.5 340.1h4v4h-4zM478.4 340.1h4v4h-4zM521.9 340.1h4v4h-4zM600.9 340.1h4v4h-4zM604.9 340.1h4v4h-4zM624.6 340.1h4v4h-4zM628.5 340.1h2.2v4h-2.2zM490.3 344.1h4v4h-4zM604.9 344.1h4v4h-4zM608.8 344.1h4v4h-4zM494.2 348.1h4v1.8h-4zM502.1 348.1h4v1.8h-4zM518 348.1h4v1.8h-4zM585.1 348.1h4v1.8h-4z"/>
<path fill="#787878" shape-rendering="crispEdges" d="M593 197.9h4v4h-4zM604.9 197.9h4v4h-4zM510.1 201.9h4v4h-4zM573.2 205.8h4v4h-4zM604.9 205.8h4v4h-4zM616.7 205.8h4v4h-4zM624.6 205.8h4v4h-4zM577.2 209.8h4v4h-4zM612.8 209.8h4v4h-4zM608.8 213.8h4v4h-4zM612.8 229.6h4v4h-4zM604.9 233.5h4v4h-4zM624.6 241.4h4v4h-4zM608.8 245.3h4v4h-4zM608.8 249.3h4v4h-4zM624.6 253.2h4v4h-4zM624.6 257.2h4v4h-4zM628.5 269.1h2.2v4h-2.2zM620.6 304.6h4v4h-4zM628.5 304.6h2.2v4h-2.2zM474.5 308.6h4v4h-4zM612.8 312.5h4v4h-4zM600.9 320.4h4v4h-4zM620.6 320.4h4v4h-4zM478.4 324.4h4v4h-4zM498.2 324.4h4v4h-4zM569.3 324.4h4v4h-4zM600.9 324.4h4v4h-4zM620.6 324.4h4v4h-4zM502.1 332.2h4v4h-4zM573.2 332.2h4v4h-4zM608.8 332.2h4v4h-4zM581.1 336.2h4v4h-4zM616.7 336.2h4v4h-4zM541.6 340.1h4v4h-4zM545.6 340.1h4v4h-4zM620.6 340.1h4v4h-4zM581.1 344.1h4v4h-4zM577.2 348.1h4v1.8h-4zM581.1 348.1h4v1.8h-4z"/>
<path fill="#a7a7a7" shape-rendering="crispEdges" d="M521.9 201.9h4v4h-4zM525.9 201.9h4v4h-4zM521.9 205.8h4v4h-4zM537.7 209.8h4v4h-4zM541.6 209.8h4v4h-4zM549.5 209.8h4v4h-4zM537.7 213.8h4v4h-4zM541.6 213.8h4v4h-4zM549.5 213.8h4v4h-4zM506.1 217.7h4v4h-4zM561.4 217.7h4v4h-4zM486.4 225.6h4v4h-4zM490.3 225.6h4v4h-4zM581.1 225.6h4v4h-4zM585.1 233.5h4v4h-4zM593 249.3h4v4h-4zM478.4 280.9h4v4h-4zM486.4 292.8h4v4h-4zM604.9 292.8h4v4h-4zM600.9 300.6h4v4h-4zM486.4 308.6h4v4h-4zM490.3 308.6h4v4h-4zM585.1 308.6h4v4h-4zM589 308.6h4v4h-4zM585.1 312.5h4v4h-4zM525.9 328.3h4v4h-4zM549.5 328.3h4v4h-4zM553.5 328.3h4v4h-4zM537.7 332.2h4v4h-4zM545.6 332.2h4v4h-4z"/>
<path fill="#b0b0b0" shape-rendering="crispEdges" d="M525.9 205.8h4v4h-4zM498.2 213.8h4v4h-4zM521.9 213.8h4v4h-4zM533.8 217.7h4v4h-4zM549.5 217.7h4v4h-4zM510.1 221.7h4v4h-4zM553.5 221.7h4v4h-4zM561.4 221.7h4v4h-4zM494.2 229.6h4v4h-4zM581.1 237.4h4v4h-4zM593 241.4h4v4h-4zM486.4 245.3h4v4h-4zM482.4 276.9h4v4h-4zM474.5 280.9h4v4h-4zM597 280.9h4v4h-4zM490.3 292.8h4v4h-4zM608.8 292.8h4v4h-4zM486.4 296.7h4v4h-4zM597 300.6h4v4h-4zM585.1 304.6h4v4h-4zM502.1 308.6h4v4h-4zM581.1 308.6h4v4h-4zM502.1 312.5h4v4h-4zM577.2 312.5h4v4h-4zM510.1 320.4h4v4h-4zM514 320.4h4v4h-4zM521.9 324.4h4v4h-4zM561.4 328.3h4v4h-4z"/>
<path fill="#aaaaaa" shape-rendering="crispEdges" d="M521.9 209.8h4v4h-4zM525.9 209.8h4v4h-4zM502.1 213.8h4v4h-4zM510.1 213.8h4v4h-4zM525.9 213.8h4v4h-4zM510.1 217.7h4v4h-4zM494.2 221.7h4v4h-4zM565.4 221.7h4v4h-4zM486.4 229.6h4v4h-4zM474.5 257.2h4v4h-4zM482.4 261.1h4v4h-4zM482.4 265.1h4v4h-4zM482.4 269.1h4v4h-4zM482.4 273h4v4h-4zM478.4 276.9h4v4h-4zM600.9 276.9h4v4h-4zM482.4 280.9h4v4h-4zM612.8 284.9h4v4h-4zM486.4 288.8h4v4h-4zM482.4 292.8h4v4h-4zM482.4 296.7h4v4h-4zM608.8 296.7h4v4h-4zM482.4 300.6h4v4h-4zM593 304.6h4v4h-4zM593 308.6h4v4h-4zM573.2 312.5h4v4h-4zM569.3 316.4h4v4h-4zM529.8 328.3h4v4h-4zM533.8 328.3h4v4h-4zM628.5 348.1h2.2v1.8h-2.2z"/>
<path fill="#adadad" shape-rendering="crispEdges" d="M545.6 209.8h4v4h-4zM494.2 217.7h4v4h-4zM529.8 217.7h4v4h-4zM557.5 221.7h4v4h-4zM482.4 225.6h4v4h-4zM581.1 229.6h4v4h-4zM589 233.5h4v4h-4zM490.3 237.4h4v4h-4zM585.1 237.4h4v4h-4zM593 237.4h4v4h-4zM482.4 241.4h4v4h-4zM593 245.3h4v4h-4zM474.5 253.2h4v4h-4zM593 253.2h4v4h-4zM486.4 257.2h4v4h-4zM474.5 261.1h4v4h-4zM474.5 265.1h4v4h-4zM474.5 276.9h4v4h-4zM600.9 280.9h4v4h-4zM597 296.7h4v4h-4zM494.2 300.6h4v4h-4zM498.2 300.6h4v4h-4zM589 304.6h4v4h-4zM494.2 308.6h4v4h-4zM498.2 308.6h4v4h-4zM581.1 312.5h4v4h-4zM502.1 316.4h4v4h-4zM506.1 320.4h4v4h-4zM557.5 328.3h4v4h-4zM541.6 332.2h4v4h-4z"/>
<path fill="#6e6e6e" shape-rendering="crispEdges" d="M600.9 209.8h4v4h-4zM604.9 209.8h4v4h-4zM604.9 225.6h4v4h-4zM608.8 233.5h4v4h-4zM612.8 233.5h4v4h-4zM604.9 237.4h4v4h-4zM612.8 237.4h4v4h-4zM612.8 241.4h4v4h-4zM616.7 245.3h4v4h-4zM620.6 245.3h4v4h-4zM628.5 245.3h2.2v4h-2.2zM628.5 249.3h2.2v4h-2.2zM612.8 253.2h4v4h-4zM628.5 261.1h2.2v4h-2.2zM620.6 328.3h4v4h-4zM624.6 328.3h4v4h-4zM589 336.2h4v4h-4zM589 340.1h4v4h-4zM569.3 344.1h4v4h-4zM577.2 344.1h4v4h-4zM593 344.1h4v4h-4zM490.3 348.1h4v1.8h-4zM545.6 348.1h4v1.8h-4zM573.2 348.1h4v1.8h-4z"/>
<path fill="#717171" shape-rendering="crispEdges" d="M620.6 209.8h4v4h-4zM604.9 217.7h4v4h-4zM608.8 221.7h4v4h-4zM604.9 229.6h4v4h-4zM620.6 233.5h4v4h-4zM608.8 237.4h4v4h-4zM620.6 237.4h4v4h-4zM608.8 241.4h4v4h-4zM612.8 245.3h4v4h-4zM612.8 249.3h4v4h-4zM612.8 257.2h4v4h-4zM620.6 261.1h4v4h-4zM624.6 261.1h4v4h-4zM624.6 304.6h4v4h-4zM628.5 308.6h2.2v4h-2.2zM616.7 316.4h4v4h-4zM474.5 328.3h4v4h-4zM577.2 336.2h4v4h-4zM585.1 336.2h4v4h-4zM612.8 336.2h4v4h-4zM620.6 336.2h4v4h-4zM585.1 340.1h4v4h-4zM612.8 340.1h4v4h-4zM616.7 340.1h4v4h-4zM521.9 344.1h4v4h-4zM589 344.1h4v4h-4zM612.8 344.1h4v4h-4zM616.7 344.1h4v4h-4zM549.5 348.1h4v1.8h-4zM612.8 348.1h4v1.8h-4z"/>
<path fill="#6a6a6a" shape-rendering="crispEdges" d="M624.6 209.8h4v4h-4zM600.9 213.8h4v4h-4zM604.9 213.8h4v4h-4zM604.9 221.7h4v4h-4zM608.8 225.6h4v4h-4zM608.8 229.6h4v4h-4zM616.7 233.5h4v4h-4zM616.7 241.4h4v4h-4zM624.6 245.3h4v4h-4zM616.7 249.3h4v4h-4zM620.6 249.3h4v4h-4zM620.6 308.6h4v4h-4zM616.7 312.5h4v4h-4zM624.6 312.5h4v4h-4zM620.6 316.4h4v4h-4zM474.5 324.4h4v4h-4zM620.6 332.2h4v4h-4zM521.9 348.1h4v1.8h-4zM600.9 348.1h4v1.8h-4z"/>
<path fill="#b4b4b4" shape-rendering="crispEdges" d="M514 213.8h4v4h-4zM518 213.8h4v4h-4zM545.6 213.8h4v4h-4zM537.7 217.7h4v4h-4zM541.6 217.7h4v4h-4zM494.2 225.6h4v4h-4zM482.4 229.6h4v4h-4zM486.4 233.5h4v4h-4zM589 237.4h4v4h-4zM589 241.4h4v4h-4zM604.9 265.1h4v4h-4zM604.9 276.9h4v4h-4zM608.8 276.9h4v4h-4zM490.3 296.7h4v4h-4zM490.3 300.6h4v4h-4zM486.4 304.6h4v4h-4zM490.3 304.6h4v4h-4zM494.2 304.6h4v4h-4zM498.2 304.6h4v4h-4zM541.6 324.4h4v4h-4zM545.6 324.4h4v4h-4zM545.6 328.3h4v4h-4z"/>
<path fill="#c4c4c4" shape-rendering="crispEdges" d="M498.2 217.7h4v4h-4zM525.9 221.7h4v4h-4zM553.5 225.6h4v4h-4zM498.2 229.6h4v4h-4zM577.2 233.5h4v4h-4zM490.3 245.3h4v4h-4zM585.1 245.3h4v4h-4zM593 261.1h4v4h-4zM486.4 273h4v4h-4zM486.4 280.9h4v4h-4zM593 280.9h4v4h-4zM608.8 280.9h4v4h-4zM593 296.7h4v4h-4zM557.5 324.4h4v4h-4z"/>
<path fill="#bcbcbc" shape-rendering="crispEdges" d="M502.1 217.7h4v4h-4zM518 217.7h4v4h-4zM514 221.7h4v4h-4zM557.5 225.6h4v4h-4zM561.4 225.6h4v4h-4zM482.4 233.5h4v4h-4zM482.4 237.4h4v4h-4zM486.4 237.4h4v4h-4zM597 284.9h4v4h-4zM604.9 284.9h4v4h-4zM490.3 288.8h4v4h-4zM569.3 312.5h4v4h-4zM521.9 320.4h4v4h-4zM529.8 324.4h4v4h-4zM561.4 324.4h4v4h-4z"/>
<path fill="#b7b7b7" shape-rendering="crispEdges" d="M514 217.7h4v4h-4zM525.9 217.7h4v4h-4zM545.6 217.7h4v4h-4zM506.1 221.7h4v4h-4zM577.2 225.6h4v4h-4zM494.2 233.5h4v4h-4zM589 245.3h4v4h-4zM600.9 257.2h4v4h-4zM604.9 261.1h4v4h-4zM600.9 273h4v4h-4zM597 276.9h4v4h-4zM600.9 284.9h4v4h-4zM600.9 288.8h4v4h-4zM604.9 288.8h4v4h-4zM608.8 288.8h4v4h-4zM597 292.8h4v4h-4zM494.2 296.7h4v4h-4zM486.4 300.6h4v4h-4zM593 300.6h4v4h-4zM506.1 308.6h4v4h-4zM518 320.4h4v4h-4zM541.6 320.4h4v4h-4zM525.9 324.4h4v4h-4zM533.8 324.4h4v4h-4zM537.7 324.4h4v4h-4zM549.5 324.4h4v4h-4zM537.7 328.3h4v4h-4z"/>
<path fill="#bfbfbf" shape-rendering="crispEdges" d="M521.9 217.7h4v4h-4zM498.2 221.7h4v4h-4zM569.3 225.6h4v4h-4zM573.2 225.6h4v4h-4zM577.2 229.6h4v4h-4zM494.2 237.4h4v4h-4zM600.9 265.1h4v4h-4zM486.4 269.1h4v4h-4zM573.2 308.6h4v4h-4zM577.2 308.6h4v4h-4zM533.8 320.4h4v4h-4zM545.6 320.4h4v4h-4zM541.6 328.3h4v4h-4z"/>
<path fill="#c1c1c1" shape-rendering="crispEdges" d="M502.1 221.7h4v4h-4zM529.8 221.7h4v4h-4zM549.5 221.7h4v4h-4zM498.2 225.6h4v4h-4zM490.3 249.3h4v4h-4zM589 249.3h4v4h-4zM490.3 253.2h4v4h-4zM486.4 261.1h4v4h-4zM600.9 261.1h4v4h-4zM486.4 265.1h4v4h-4zM604.9 280.9h4v4h-4zM597 288.8h4v4h-4zM494.2 292.8h4v4h-4zM502.1 300.6h4v4h-4zM589 300.6h4v4h-4zM525.9 320.4h4v4h-4zM553.5 324.4h4v4h-4z"/>
<path fill="#c8c8c8" shape-rendering="crispEdges" d="M518 221.7h4v4h-4zM537.7 221.7h4v4h-4zM541.6 221.7h4v4h-4zM545.6 221.7h4v4h-4zM561.4 229.6h4v4h-4zM581.1 241.4h4v4h-4zM589 257.2h4v4h-4zM597 273h4v4h-4zM593 276.9h4v4h-4zM585.1 300.6h4v4h-4zM577.2 304.6h4v4h-4zM514 316.4h4v4h-4zM537.7 316.4h4v4h-4zM545.6 316.4h4v4h-4z"/>
<path fill="#cbcbcb" shape-rendering="crispEdges" d="M521.9 221.7h4v4h-4zM502.1 225.6h4v4h-4zM510.1 225.6h4v4h-4zM490.3 257.2h4v4h-4zM589 261.1h4v4h-4zM589 269.1h4v4h-4zM589 273h4v4h-4zM490.3 284.9h4v4h-4zM593 284.9h4v4h-4zM533.8 316.4h4v4h-4zM549.5 320.4h4v4h-4z"/>
<path fill="#c6c6c6" shape-rendering="crispEdges" d="M533.8 221.7h4v4h-4zM565.4 225.6h4v4h-4zM557.5 229.6h4v4h-4zM589 253.2h4v4h-4zM597 261.1h4v4h-4zM597 265.1h4v4h-4zM486.4 276.9h4v4h-4zM498.2 296.7h4v4h-4zM506.1 304.6h4v4h-4zM510.1 308.6h4v4h-4zM510.1 312.5h4v4h-4zM510.1 316.4h4v4h-4zM541.6 316.4h4v4h-4zM529.8 320.4h4v4h-4z"/>
<path fill="#cfcfcf" shape-rendering="crispEdges" d="M506.1 225.6h4v4h-4zM525.9 225.6h4v4h-4zM498.2 233.5h4v4h-4zM490.3 261.1h4v4h-4zM490.3 265.1h4v4h-4zM490.3 269.1h4v4h-4zM585.1 273h4v4h-4zM593 273h4v4h-4zM589 276.9h4v4h-4zM490.3 280.9h4v4h-4zM593 292.8h4v4h-4zM510.1 304.6h4v4h-4zM514 312.5h4v4h-4zM521.9 316.4h4v4h-4zM525.9 316.4h4v4h-4z"/>
<path fill="#cdcdcd" shape-rendering="crispEdges" d="M514 225.6h4v4h-4zM502.1 229.6h4v4h-4zM494.2 241.4h4v4h-4zM593 265.1h4v4h-4zM585.1 269.1h4v4h-4zM593 269.1h4v4h-4zM597 269.1h4v4h-4zM494.2 284.9h4v4h-4zM494.2 288.8h4v4h-4zM581.1 300.6h4v4h-4zM569.3 308.6h4v4h-4zM518 316.4h4v4h-4zM529.8 316.4h4v4h-4z"/>
<path fill="#d6d6d6" shape-rendering="crispEdges" d="M518 225.6h4v4h-4zM506.1 229.6h4v4h-4zM502.1 233.5h4v4h-4zM506.1 233.5h4v4h-4zM557.5 233.5h4v4h-4zM561.4 233.5h4v4h-4zM577.2 237.4h4v4h-4zM494.2 245.3h4v4h-4zM494.2 265.1h4v4h-4zM585.1 265.1h4v4h-4zM585.1 276.9h4v4h-4zM514 308.6h4v4h-4zM545.6 312.5h4v4h-4z"/>
<path fill="#d9d9d9" shape-rendering="crispEdges" d="M521.9 225.6h4v4h-4zM545.6 225.6h4v4h-4zM494.2 249.3h4v4h-4zM494.2 253.2h4v4h-4zM498.2 269.1h4v4h-4zM498.2 276.9h4v4h-4zM589 280.9h4v4h-4zM577.2 296.7h4v4h-4zM589 296.7h4v4h-4zM506.1 300.6h4v4h-4z"/>
<path fill="#d2d2d2" shape-rendering="crispEdges" d="M529.8 225.6h4v4h-4zM589 265.1h4v4h-4zM581.1 269.1h4v4h-4zM494.2 280.9h4v4h-4zM577.2 300.6h4v4h-4zM573.2 304.6h4v4h-4zM549.5 316.4h4v4h-4zM565.4 316.4h4v4h-4zM561.4 320.4h4v4h-4z"/>
<path fill="#dbdbdb" shape-rendering="crispEdges" d="M533.8 225.6h4v4h-4zM506.1 237.4h4v4h-4zM510.1 237.4h4v4h-4zM494.2 261.1h4v4h-4zM494.2 273h4v4h-4zM502.1 273h4v4h-4zM541.6 312.5h4v4h-4zM557.5 320.4h4v4h-4z"/>
<path fill="#e4e4e4" shape-rendering="crispEdges" d="M537.7 225.6h4v4h-4zM521.9 229.6h4v4h-4zM525.9 229.6h4v4h-4zM498.2 288.8h4v4h-4zM577.2 292.8h4v4h-4zM581.1 292.8h4v4h-4zM573.2 296.7h4v4h-4zM529.8 312.5h4v4h-4zM553.5 316.4h4v4h-4z"/>
<path fill="#dedede" shape-rendering="crispEdges" d="M541.6 225.6h4v4h-4zM510.1 229.6h4v4h-4zM565.4 229.6h4v4h-4zM573.2 229.6h4v4h-4zM498.2 237.4h4v4h-4zM585.1 253.2h4v4h-4zM581.1 265.1h4v4h-4zM581.1 273h4v4h-4zM498.2 292.8h4v4h-4zM581.1 296.7h4v4h-4zM573.2 300.6h4v4h-4zM549.5 312.5h4v4h-4z"/>
<path fill="#d4d4d4" shape-rendering="crispEdges" d="M549.5 225.6h4v4h-4zM553.5 229.6h4v4h-4zM585.1 249.3h4v4h-4zM585.1 261.1h4v4h-4zM494.2 269.1h4v4h-4zM490.3 273h4v4h-4zM498.2 273h4v4h-4zM490.3 276.9h4v4h-4zM494.2 276.9h4v4h-4zM593 288.8h4v4h-4zM553.5 320.4h4v4h-4z"/>
<path fill="#e0e0e0" shape-rendering="crispEdges" d="M514 229.6h4v4h-4zM518 229.6h4v4h-4zM549.5 229.6h4v4h-4zM510.1 233.5h4v4h-4zM581.1 245.3h4v4h-4zM494.2 257.2h4v4h-4zM585.1 257.2h4v4h-4zM498.2 280.9h4v4h-4zM498.2 284.9h4v4h-4zM589 284.9h4v4h-4zM502.1 296.7h4v4h-4zM585.1 296.7h4v4h-4zM518 312.5h4v4h-4z"/>
<path fill="#eaeaea" shape-rendering="crispEdges" d="M529.8 229.6h4v4h-4zM514 233.5h4v4h-4zM518 233.5h4v4h-4zM581.1 261.1h4v4h-4zM502.1 269.1h4v4h-4zM581.1 288.8h4v4h-4zM541.6 308.6h4v4h-4z"/>
<path fill="#f5f5f5" shape-rendering="crispEdges" d="M533.8 229.6h4v4h-4zM525.9 233.5h4v4h-4zM529.8 233.5h4v4h-4zM502.1 241.4h4v4h-4zM529.8 241.4h4v4h-4zM514 245.3h4v4h-4zM581.1 253.2h4v4h-4zM577.2 269.1h4v4h-4zM502.1 280.9h4v4h-4zM573.2 280.9h4v4h-4zM577.2 280.9h4v4h-4zM502.1 284.9h4v4h-4zM502.1 288.8h4v4h-4zM569.3 300.6h4v4h-4zM541.6 304.6h4v4h-4zM537.7 308.6h4v4h-4z"/>
<path fill="#fffdfc" shape-rendering="crispEdges" d="M537.7 229.6h4v4h-4zM529.8 245.3h4v4h-4zM525.9 249.3h4v4h-4zM502.1 253.2h4v4h-4zM502.1 257.2h4v4h-4zM502.1 265.1h4v4h-4zM561.4 265.1h4v4h-4zM565.4 269.1h4v4h-4zM545.6 273h4v4h-4zM506.1 280.9h4v4h-4zM569.3 280.9h4v4h-4zM510.1 288.8h4v4h-4zM514 296.7h4v4h-4zM569.3 296.7h4v4h-4zM541.6 300.6h4v4h-4z"/>
<path fill="#f7f7f7" shape-rendering="crispEdges" d="M541.6 229.6h4v4h-4zM545.6 233.5h4v4h-4zM577.2 241.4h4v4h-4zM502.1 245.3h4v4h-4zM506.1 245.3h4v4h-4zM521.9 245.3h4v4h-4zM553.5 245.3h4v4h-4zM577.2 273h4v4h-4zM506.1 276.9h4v4h-4zM573.2 284.9h4v4h-4zM573.2 288.8h4v4h-4zM506.1 292.8h4v4h-4zM518 304.6h4v4h-4zM533.8 308.6h4v4h-4z"/>
<path fill="#e6e6e6" shape-rendering="crispEdges" d="M545.6 229.6h4v4h-4zM569.3 229.6h4v4h-4zM553.5 233.5h4v4h-4zM502.1 237.4h4v4h-4zM514 237.4h4v4h-4zM557.5 237.4h4v4h-4zM498.2 241.4h4v4h-4zM510.1 241.4h4v4h-4zM498.2 265.1h4v4h-4zM502.1 276.9h4v4h-4zM589 292.8h4v4h-4zM510.1 300.6h4v4h-4zM569.3 304.6h4v4h-4zM521.9 312.5h4v4h-4zM525.9 312.5h4v4h-4zM533.8 312.5h4v4h-4z"/>
<path fill="#ececec" shape-rendering="crispEdges" d="M521.9 233.5h4v4h-4zM549.5 233.5h4v4h-4zM518 237.4h4v4h-4zM553.5 237.4h4v4h-4zM498.2 245.3h4v4h-4zM585.1 284.9h4v4h-4zM577.2 288.8h4v4h-4zM585.1 288.8h4v4h-4zM506.1 296.7h4v4h-4zM545.6 304.6h4v4h-4zM518 308.6h4v4h-4z"/>
<path fill="#fef4ee" shape-rendering="crispEdges" d="M533.8 233.5h4v4h-4zM565.4 237.4h4v4h-4zM561.4 245.3h4v4h-4zM514 249.3h4v4h-4zM553.5 257.2h4v4h-4zM553.5 269.1h4v4h-4zM541.6 273h4v4h-4zM569.3 273h4v4h-4zM541.6 288.8h4v4h-4zM541.6 296.7h4v4h-4zM549.5 300.6h4v4h-4z"/>
<path fill="#facab1" shape-rendering="crispEdges" d="M537.7 233.5h4v4h-4zM545.6 257.2h4v4h-4zM565.4 261.1h4v4h-4zM541.6 265.1h4v4h-4zM537.7 280.9h4v4h-4zM553.5 304.6h4v4h-4z"/>
<path fill="#fdddca" shape-rendering="crispEdges" d="M541.6 233.5h4v4h-4zM545.6 261.1h4v4h-4zM577.2 261.1h4v4h-4zM537.7 269.1h4v4h-4zM537.7 288.8h4v4h-4z"/>
<path fill="#f0f0f0" shape-rendering="crispEdges" d="M565.4 233.5h4v4h-4zM581.1 249.3h4v4h-4zM581.1 284.9h4v4h-4zM502.1 292.8h4v4h-4zM573.2 292.8h4v4h-4z"/>
<path fill="#fef6f1" shape-rendering="crispEdges" d="M569.3 233.5h4v4h-4zM506.1 249.3h4v4h-4zM549.5 261.1h4v4h-4zM553.5 261.1h4v4h-4zM553.5 265.1h4v4h-4zM565.4 273h4v4h-4zM510.1 284.9h4v4h-4zM545.6 288.8h4v4h-4zM541.6 292.8h4v4h-4zM545.6 292.8h4v4h-4zM545.6 296.7h4v4h-4zM537.7 300.6h4v4h-4z"/>
<path fill="#f9f9f9" shape-rendering="crispEdges" d="M573.2 233.5h4v4h-4zM518 245.3h4v4h-4zM561.4 269.1h4v4h-4zM577.2 276.9h4v4h-4z"/>
<path fill="#f1f1f1" shape-rendering="crispEdges" d="M521.9 237.4h4v4h-4zM549.5 237.4h4v4h-4zM525.9 241.4h4v4h-4zM498.2 253.2h4v4h-4zM581.1 280.9h4v4h-4zM577.2 284.9h4v4h-4zM510.1 296.7h4v4h-4zM514 300.6h4v4h-4zM553.5 312.5h4v4h-4zM557.5 316.4h4v4h-4z"/>
<path fill="#f3f3f3" shape-rendering="crispEdges" d="M525.9 237.4h4v4h-4zM529.8 237.4h4v4h-4zM518 241.4h4v4h-4zM521.9 241.4h4v4h-4zM510.1 245.3h4v4h-4zM525.9 245.3h4v4h-4zM557.5 245.3h4v4h-4zM498.2 249.3h4v4h-4zM581.1 257.2h4v4h-4z"/>
<path fill="#fde2d2" shape-rendering="crispEdges" d="M533.8 237.4h4v4h-4zM518 253.2h4v4h-4zM573.2 269.1h4v4h-4zM553.5 276.9h4v4h-4zM549.5 296.7h4v4h-4z"/>
<path fill="#df765e" shape-rendering="crispEdges" d="M537.7 237.4h4v4h-4zM518 269.1h4v4h-4zM518 276.9h4v4h-4zM553.5 284.9h4v4h-4zM518 288.8h4v4h-4zM525.9 296.7h4v4h-4z"/>
<path fill="#e98b6e" shape-rendering="crispEdges" d="M541.6 237.4h4v4h-4zM545.6 245.3h4v4h-4zM514 269.1h4v4h-4zM533.8 276.9h4v4h-4z"/>
<path fill="#fee8dc" shape-rendering="crispEdges" d="M545.6 237.4h4v4h-4zM545.6 265.1h4v4h-4zM565.4 265.1h4v4h-4zM506.1 269.1h4v4h-4zM541.6 276.9h4v4h-4zM549.5 280.9h4v4h-4zM537.7 292.8h4v4h-4zM565.4 304.6h4v4h-4z"/>
<path fill="#e8e8e8" shape-rendering="crispEdges" d="M561.4 237.4h4v4h-4zM498.2 261.1h4v4h-4zM581.1 276.9h4v4h-4zM585.1 280.9h4v4h-4zM589 288.8h4v4h-4zM585.1 292.8h4v4h-4zM565.4 312.5h4v4h-4z"/>
<path fill="#fbceb6" shape-rendering="crispEdges" d="M569.3 237.4h4v4h-4zM521.9 257.2h4v4h-4zM529.8 257.2h4v4h-4zM537.7 276.9h4v4h-4zM557.5 308.6h4v4h-4z"/>
<path fill="#fee4d5" shape-rendering="crispEdges" d="M573.2 237.4h4v4h-4zM577.2 245.3h4v4h-4zM529.8 253.2h4v4h-4zM557.5 273h4v4h-4z"/>
<path fill="#636363" shape-rendering="crispEdges" d="M616.7 237.4h4v4h-4zM616.7 253.2h4v4h-4zM620.6 253.2h4v4h-4zM616.7 257.2h4v4h-4zM628.5 265.1h2.2v4h-2.2zM624.6 308.6h4v4h-4zM620.6 312.5h4v4h-4zM628.5 332.2h2.2v4h-2.2zM624.6 336.2h4v4h-4zM628.5 336.2h2.2v4h-2.2z"/>
<path fill="#bababa" shape-rendering="crispEdges" d="M486.4 241.4h4v4h-4zM490.3 241.4h4v4h-4zM585.1 241.4h4v4h-4zM593 257.2h4v4h-4zM597 257.2h4v4h-4zM600.9 269.1h4v4h-4zM486.4 284.9h4v4h-4zM608.8 284.9h4v4h-4zM502.1 304.6h4v4h-4zM581.1 304.6h4v4h-4zM506.1 312.5h4v4h-4zM506.1 316.4h4v4h-4zM537.7 320.4h4v4h-4zM565.4 320.4h4v4h-4z"/>
<path fill="#eeeeee" shape-rendering="crispEdges" d="M506.1 241.4h4v4h-4zM514 241.4h4v4h-4zM553.5 241.4h4v4h-4zM557.5 241.4h4v4h-4zM498.2 257.2h4v4h-4zM549.5 308.6h4v4h-4zM561.4 316.4h4v4h-4z"/>
<path fill="#f7b99c" shape-rendering="crispEdges" d="M533.8 241.4h4v4h-4zM573.2 265.1h4v4h-4zM553.5 280.9h4v4h-4zM533.8 292.8h4v4h-4z"/>
<path fill="#b2182b" shape-rendering="crispEdges" d="M537.7 241.4h4v4h-4z"/>
<path fill="#b92631" shape-rendering="crispEdges" d="M541.6 241.4h4v4h-4zM569.3 249.3h4v4h-4zM521.9 280.9h4v4h-4z"/>
<path fill="#f7b698" shape-rendering="crispEdges" d="M545.6 241.4h4v4h-4zM518 257.2h4v4h-4zM510.1 269.1h4v4h-4z"/>
<path fill="#fbfbfb" shape-rendering="crispEdges" d="M549.5 241.4h4v4h-4zM557.5 249.3h4v4h-4zM506.1 273h4v4h-4zM573.2 276.9h4v4h-4zM510.1 292.8h4v4h-4zM545.6 300.6h4v4h-4zM549.5 304.6h4v4h-4zM521.9 308.6h4v4h-4zM529.8 308.6h4v4h-4zM565.4 308.6h4v4h-4z"/>
<path fill="#fdfdfd" shape-rendering="crispEdges" d="M561.4 241.4h4v4h-4zM557.5 253.2h4v4h-4zM506.1 288.8h4v4h-4z"/>
<path fill="#fac7ad" shape-rendering="crispEdges" d="M565.4 241.4h4v4h-4zM506.1 261.1h4v4h-4zM506.1 265.1h4v4h-4zM529.8 300.6h4v4h-4zM565.4 300.6h4v4h-4z"/>
<path fill="#e37e64" shape-rendering="crispEdges" d="M569.3 241.4h4v4h-4zM533.8 245.3h4v4h-4zM537.7 261.1h4v4h-4z"/>
<path fill="#f6af8f" shape-rendering="crispEdges" d="M573.2 241.4h4v4h-4zM510.1 257.2h4v4h-4zM565.4 257.2h4v4h-4zM529.8 261.1h4v4h-4zM569.3 265.1h4v4h-4zM557.5 276.9h4v4h-4z"/>
<path fill="#67001f" shape-rendering="crispEdges" d="M537.7 245.3h4v4h-4zM537.7 249.3h4v4h-4zM537.7 253.2h4v4h-4zM557.5 288.8h4v4h-4z"/>
<path fill="#7a0622" shape-rendering="crispEdges" d="M541.6 245.3h4v4h-4zM557.5 292.8h4v4h-4z"/>
<path fill="#fff8f4" shape-rendering="crispEdges" d="M549.5 245.3h4v4h-4zM518 249.3h4v4h-4zM557.5 265.1h4v4h-4zM577.2 265.1h4v4h-4zM557.5 269.1h4v4h-4zM573.2 273h4v4h-4zM545.6 276.9h4v4h-4zM569.3 284.9h4v4h-4z"/>
<path fill="#f09c7b" shape-rendering="crispEdges" d="M565.4 245.3h4v4h-4zM510.1 261.1h4v4h-4zM510.1 265.1h4v4h-4zM553.5 300.6h4v4h-4z"/>
<path fill="#c6403e" shape-rendering="crispEdges" d="M569.3 245.3h4v4h-4zM521.9 273h4v4h-4z"/>
<path fill="#da6954" shape-rendering="crispEdges" d="M573.2 245.3h4v4h-4z"/>
<path fill="#ffffff" shape-rendering="crispEdges" d="M502.1 249.3h4v4h-4zM506.1 284.9h4v4h-4zM537.7 304.6h4v4h-4zM525.9 308.6h4v4h-4z"/>
<path fill="#fef2ea" shape-rendering="crispEdges" d="M510.1 249.3h4v4h-4zM529.8 249.3h4v4h-4zM553.5 253.2h4v4h-4zM561.4 253.2h4v4h-4zM549.5 257.2h4v4h-4zM557.5 261.1h4v4h-4zM549.5 265.1h4v4h-4zM545.6 269.1h4v4h-4zM553.5 273h4v4h-4zM510.1 280.9h4v4h-4zM569.3 288.8h4v4h-4zM537.7 296.7h4v4h-4zM557.5 312.5h4v4h-4zM561.4 312.5h4v4h-4z"/>
<path fill="#fffaf8" shape-rendering="crispEdges" d="M521.9 249.3h4v4h-4zM553.5 249.3h4v4h-4zM557.5 257.2h4v4h-4zM502.1 261.1h4v4h-4zM549.5 273h4v4h-4zM549.5 276.9h4v4h-4zM569.3 276.9h4v4h-4zM533.8 304.6h4v4h-4z"/>
<path fill="#d6604d" shape-rendering="crispEdges" d="M533.8 249.3h4v4h-4z"/>
<path fill="#700320" shape-rendering="crispEdges" d="M541.6 249.3h4v4h-4z"/>
<path fill="#e7876b" shape-rendering="crispEdges" d="M545.6 249.3h4v4h-4zM518 265.1h4v4h-4zM521.9 265.1h4v4h-4zM529.8 265.1h4v4h-4zM565.4 292.8h4v4h-4z"/>
<path fill="#feebe0" shape-rendering="crispEdges" d="M549.5 249.3h4v4h-4zM521.9 253.2h4v4h-4zM525.9 253.2h4v4h-4zM541.6 269.1h4v4h-4zM545.6 284.9h4v4h-4zM514 292.8h4v4h-4zM533.8 300.6h4v4h-4zM529.8 304.6h4v4h-4z"/>
<path fill="#feefe6" shape-rendering="crispEdges" d="M561.4 249.3h4v4h-4zM549.5 269.1h4v4h-4zM569.3 292.8h4v4h-4zM518 300.6h4v4h-4z"/>
<path fill="#ec9475" shape-rendering="crispEdges" d="M565.4 249.3h4v4h-4zM541.6 261.1h4v4h-4zM533.8 273h4v4h-4zM533.8 284.9h4v4h-4z"/>
<path fill="#c43c3c" shape-rendering="crispEdges" d="M573.2 249.3h4v4h-4zM569.3 253.2h4v4h-4z"/>
<path fill="#f8bda0" shape-rendering="crispEdges" d="M577.2 249.3h4v4h-4zM577.2 253.2h4v4h-4zM537.7 265.1h4v4h-4zM514 276.9h4v4h-4zM565.4 280.9h4v4h-4z"/>
<path fill="#666666" shape-rendering="crispEdges" d="M624.6 249.3h4v4h-4zM620.6 257.2h4v4h-4zM624.6 265.1h4v4h-4zM573.2 340.1h4v4h-4zM577.2 340.1h4v4h-4zM573.2 344.1h4v4h-4zM593 348.1h4v1.8h-4zM597 348.1h4v1.8h-4z"/>
<path fill="#fee6d8" shape-rendering="crispEdges" d="M506.1 253.2h4v4h-4zM561.4 273h4v4h-4zM541.6 284.9h4v4h-4zM521.9 304.6h4v4h-4z"/>
<path fill="#fcd4be" shape-rendering="crispEdges" d="M510.1 253.2h4v4h-4zM506.1 257.2h4v4h-4zM537.7 284.9h4v4h-4z"/>
<path fill="#fbd1ba" shape-rendering="crispEdges" d="M514 253.2h4v4h-4zM525.9 257.2h4v4h-4zM561.4 308.6h4v4h-4z"/>
<path fill="#d86450" shape-rendering="crispEdges" d="M533.8 253.2h4v4h-4zM521.9 269.1h4v4h-4zM529.8 269.1h4v4h-4zM557.5 280.9h4v4h-4zM518 284.9h4v4h-4zM557.5 300.6h4v4h-4z"/>
<path fill="#a41429" shape-rendering="crispEdges" d="M541.6 253.2h4v4h-4zM557.5 284.9h4v4h-4z"/>
<path fill="#f5ac8b" shape-rendering="crispEdges" d="M545.6 253.2h4v4h-4zM518 292.8h4v4h-4zM561.4 304.6h4v4h-4z"/>
<path fill="#feede3" shape-rendering="crispEdges" d="M549.5 253.2h4v4h-4zM561.4 257.2h4v4h-4zM561.4 261.1h4v4h-4zM510.1 276.9h4v4h-4zM545.6 280.9h4v4h-4zM553.5 308.6h4v4h-4z"/>
<path fill="#f2a17f" shape-rendering="crispEdges" d="M565.4 253.2h4v4h-4zM518 261.1h4v4h-4zM521.9 296.7h4v4h-4zM529.8 296.7h4v4h-4zM557.5 304.6h4v4h-4z"/>
<path fill="#c84540" shape-rendering="crispEdges" d="M573.2 253.2h4v4h-4zM561.4 296.7h4v4h-4z"/>
<path fill="#f5a886" shape-rendering="crispEdges" d="M514 257.2h4v4h-4zM533.8 261.1h4v4h-4zM533.8 269.1h4v4h-4zM514 273h4v4h-4zM561.4 276.9h4v4h-4z"/>
<path fill="#e58268" shape-rendering="crispEdges" d="M533.8 257.2h4v4h-4zM569.3 261.1h4v4h-4zM573.2 261.1h4v4h-4zM514 265.1h4v4h-4z"/>
<path fill="#b6212f" shape-rendering="crispEdges" d="M537.7 257.2h4v4h-4z"/>
<path fill="#cd4e44" shape-rendering="crispEdges" d="M541.6 257.2h4v4h-4zM525.9 269.1h4v4h-4zM553.5 288.8h4v4h-4zM521.9 292.8h4v4h-4z"/>
<path fill="#d45b4b" shape-rendering="crispEdges" d="M569.3 257.2h4v4h-4zM573.2 257.2h4v4h-4zM561.4 280.9h4v4h-4z"/>
<path fill="#f9c3a9" shape-rendering="crispEdges" d="M577.2 257.2h4v4h-4zM514 280.9h4v4h-4zM514 284.9h4v4h-4zM521.9 300.6h4v4h-4z"/>
<path fill="#eb8f71" shape-rendering="crispEdges" d="M514 261.1h4v4h-4zM533.8 280.9h4v4h-4zM565.4 288.8h4v4h-4z"/>
<path fill="#f6b293" shape-rendering="crispEdges" d="M521.9 261.1h4v4h-4zM533.8 265.1h4v4h-4zM525.9 300.6h4v4h-4z"/>
<path fill="#f4a582" shape-rendering="crispEdges" d="M525.9 261.1h4v4h-4zM565.4 284.9h4v4h-4zM565.4 296.7h4v4h-4z"/>
<path fill="#de715a" shape-rendering="crispEdges" d="M525.9 265.1h4v4h-4zM518 273h4v4h-4zM518 280.9h4v4h-4z"/>
<path fill="#fde0ce" shape-rendering="crispEdges" d="M569.3 269.1h4v4h-4zM510.1 273h4v4h-4zM541.6 280.9h4v4h-4zM525.9 304.6h4v4h-4z"/>
<path fill="#bb2a34" shape-rendering="crispEdges" d="M525.9 273h4v4h-4zM521.9 276.9h4v4h-4zM529.8 284.9h4v4h-4zM529.8 288.8h4v4h-4z"/>
<path fill="#cb4a42" shape-rendering="crispEdges" d="M529.8 273h4v4h-4z"/>
<path fill="#fddbc7" shape-rendering="crispEdges" d="M537.7 273h4v4h-4zM565.4 276.9h4v4h-4zM518 296.7h4v4h-4zM533.8 296.7h4v4h-4z"/>
<path fill="#960f26" shape-rendering="crispEdges" d="M525.9 276.9h4v4h-4z"/>
<path fill="#c03338" shape-rendering="crispEdges" d="M529.8 276.9h4v4h-4zM529.8 280.9h4v4h-4z"/>
<path fill="#880b24" shape-rendering="crispEdges" d="M525.9 280.9h4v4h-4z"/>
<path fill="#ad172a" shape-rendering="crispEdges" d="M521.9 284.9h4v4h-4zM521.9 288.8h4v4h-4zM525.9 292.8h4v4h-4z"/>
<path fill="#7e0823" shape-rendering="crispEdges" d="M525.9 284.9h4v4h-4z"/>
<path fill="#fcd8c3" shape-rendering="crispEdges" d="M549.5 284.9h4v4h-4zM514 288.8h4v4h-4zM549.5 288.8h4v4h-4zM549.5 292.8h4v4h-4z"/>
<path fill="#b41d2d" shape-rendering="crispEdges" d="M561.4 284.9h4v4h-4z"/>
<path fill="#750421" shape-rendering="crispEdges" d="M525.9 288.8h4v4h-4z"/>
<path fill="#ee9878" shape-rendering="crispEdges" d="M533.8 288.8h4v4h-4z"/>
<path fill="#910e26" shape-rendering="crispEdges" d="M561.4 288.8h4v4h-4z"/>
<path fill="#d25749" shape-rendering="crispEdges" d="M529.8 292.8h4v4h-4zM553.5 292.8h4v4h-4z"/>
<path fill="#9f1228" shape-rendering="crispEdges" d="M561.4 292.8h4v4h-4z"/>
<path fill="#e17a61" shape-rendering="crispEdges" d="M553.5 296.7h4v4h-4zM561.4 300.6h4v4h-4z"/>
<path fill="#bd2e36" shape-rendering="crispEdges" d="M557.5 296.7h4v4h-4z"/>
<path fill="#e2e2e2" shape-rendering="crispEdges" d="M514 304.6h4v4h-4zM545.6 308.6h4v4h-4zM537.7 312.5h4v4h-4z"/>
<path fill="#5f5f5f" shape-rendering="crispEdges" d="M624.6 332.2h4v4h-4z"/>
<rect x="474.5" y="194" width="156.2" height="155.8" fill="none" stroke="#333" stroke-width="1.2"/>
<line x1="504.5" y1="349.8" x2="504.5" y2="344.3" stroke="#222" stroke-width="1.1"/>
<line x1="553.1" y1="349.8" x2="553.1" y2="344.3" stroke="#222" stroke-width="1.1"/>
<line x1="601" y1="349.8" x2="601" y2="344.3" stroke="#222" stroke-width="1.1"/>
<line x1="474.5" y1="222.4" x2="480.0" y2="222.4" stroke="#222" stroke-width="1.1"/>
<line x1="474.5" y1="272.6" x2="480.0" y2="272.6" stroke="#222" stroke-width="1.1"/>
<line x1="474.5" y1="320.5" x2="480.0" y2="320.5" stroke="#222" stroke-width="1.1"/>
<line x1="553.1" y1="194" x2="553.1" y2="349" stroke="#111" stroke-width="1.6" stroke-dasharray="6.5 3.6"/>
<line x1="553.1" y1="273.8" x2="623.7" y2="196.7" stroke="#000" stroke-width="3" stroke-dasharray="8.5 4.5"/>
<path d="M554.6 224A31 31 0 0 1 586.1 238.2" fill="none" stroke="#000" stroke-width="1.5"/>
<text x="565.07" y="216.04" font-size="15.51" textLength="9.89" lengthAdjust="spacingAndGlyphs" fill="#000" font-style="italic">ϕ</text>
<text x="576.42" y="219.78" font-size="11.82" textLength="17.59" lengthAdjust="spacingAndGlyphs" fill="#111">rot</text>
<text x="597.76" y="333.11" font-size="19.05" fill="#fff">b</text>
<text x="607.91" y="338.00" font-size="11.88" fill="#fff">1</text>
<rect x="474.5" y="359.4" width="157.5" height="129.6" fill="#fff"/>
<rect x="474.5" y="359.4" width="0.7" height="1.2" fill="#fff9ef"/><rect x="474.9" y="359.4" width="10.8" height="1.2" fill="#fff9f1"/><rect x="485.3" y="359.4" width="10.8" height="1.2" fill="#fffaf2"/><rect x="495.8" y="359.4" width="10.8" height="1.2" fill="#fff8ee"/><rect x="506.3" y="359.4" width="10.8" height="1.2" fill="#fff8ee"/><rect x="516.8" y="359.4" width="10.8" height="1.2" fill="#fff6e9"/><rect x="527.2" y="359.4" width="10.8" height="1.2" fill="#fff8ec"/><rect x="537.7" y="359.4" width="10.8" height="1.2" fill="#fff6e8"/><rect x="548.2" y="359.4" width="10.8" height="1.2" fill="#fff6e9"/><rect x="558.6" y="359.4" width="10.8" height="1.2" fill="#fff6e7"/><rect x="569.1" y="359.4" width="10.8" height="1.2" fill="#fff8ec"/><rect x="579.6" y="359.4" width="10.8" height="1.2" fill="#fffbf5"/><rect x="590" y="359.4" width="10.8" height="1.2" fill="#fff6e9"/><rect x="600.5" y="359.4" width="10.8" height="1.2" fill="#fff6e8"/><rect x="611" y="359.4" width="10.8" height="1.2" fill="#fff6e9"/><rect x="621.5" y="359.4" width="10.8" height="1.2" fill="#fff8ee"/><rect x="631.9" y="359.4" width="0.4" height="1.2" fill="#fff7ec"/><rect x="474.5" y="360.3" width="0.7" height="8.8" fill="#fffcf7"/><rect x="474.9" y="360.3" width="10.8" height="8.8" fill="#fff6e9"/><rect x="485.3" y="360.3" width="10.8" height="8.8" fill="#fff6e7"/><rect x="495.8" y="360.3" width="10.8" height="8.8" fill="#fffcf7"/><rect x="506.3" y="360.3" width="10.8" height="8.8" fill="#fff7ea"/><rect x="516.8" y="360.3" width="10.8" height="8.8" fill="#fff9f1"/><rect x="527.2" y="360.3" width="10.8" height="8.8" fill="#ffeed5"/><rect x="537.7" y="360.3" width="10.8" height="8.8" fill="#ffecce"/><rect x="548.2" y="360.3" width="10.8" height="8.8" fill="#ffe8c5"/><rect x="558.6" y="360.3" width="10.8" height="8.8" fill="#ffecce"/><rect x="569.1" y="360.3" width="10.8" height="8.8" fill="#fff4e3"/><rect x="579.6" y="360.3" width="10.8" height="8.8" fill="#fff8ed"/><rect x="590" y="360.3" width="10.8" height="8.8" fill="#fffcf8"/><rect x="600.5" y="360.3" width="10.8" height="8.8" fill="#fff7ec"/><rect x="611" y="360.3" width="10.8" height="8.8" fill="#fffaf2"/><rect x="621.5" y="360.3" width="10.8" height="8.8" fill="#fff6e9"/><rect x="631.9" y="360.3" width="0.4" height="8.8" fill="#fff6e7"/><rect x="474.5" y="368.9" width="0.7" height="8.8" fill="#fff8ed"/><rect x="474.9" y="368.9" width="10.8" height="8.8" fill="#fffcf8"/><rect x="485.3" y="368.9" width="10.8" height="8.8" fill="#fffbf5"/><rect x="495.8" y="368.9" width="10.8" height="8.8" fill="#fff9f1"/><rect x="506.3" y="368.9" width="10.8" height="8.8" fill="#fff8ed"/><rect x="516.8" y="368.9" width="10.8" height="8.8" fill="#fffbf5"/><rect x="527.2" y="368.9" width="10.8" height="8.8" fill="#fffcf8"/><rect x="537.7" y="368.9" width="10.8" height="8.8" fill="#fff5e6"/><rect x="548.2" y="368.9" width="10.8" height="8.8" fill="#fff1db"/><rect x="558.6" y="368.9" width="10.8" height="8.8" fill="#fff5e6"/><rect x="569.1" y="368.9" width="10.8" height="8.8" fill="#fff6e9"/><rect x="579.6" y="368.9" width="10.8" height="8.8" fill="#fffaf1"/><rect x="590" y="368.9" width="10.8" height="8.8" fill="#fff9f0"/><rect x="600.5" y="368.9" width="10.8" height="8.8" fill="#fff9ef"/><rect x="611" y="368.9" width="10.8" height="8.8" fill="#fff8ed"/><rect x="621.5" y="368.9" width="10.8" height="8.8" fill="#fff8ee"/><rect x="631.9" y="368.9" width="0.4" height="8.8" fill="#fff8ee"/><rect x="474.5" y="377.4" width="0.7" height="8.8" fill="#fff7eb"/><rect x="474.9" y="377.4" width="10.8" height="8.8" fill="#fffbf4"/><rect x="485.3" y="377.4" width="10.8" height="8.8" fill="#fffaf3"/><rect x="495.8" y="377.4" width="10.8" height="8.8" fill="#fff6e7"/><rect x="506.3" y="377.4" width="10.8" height="8.8" fill="#fff9ef"/><rect x="516.8" y="377.4" width="10.8" height="8.8" fill="#fff8ee"/><rect x="527.2" y="377.4" width="10.8" height="8.8" fill="#ffdaa1"/><rect x="537.7" y="377.4" width="10.8" height="8.8" fill="#ffeed5"/><rect x="548.2" y="377.4" width="10.8" height="8.8" fill="#ffeed5"/><rect x="558.6" y="377.4" width="10.8" height="8.8" fill="#ffeed5"/><rect x="569.1" y="377.4" width="10.8" height="8.8" fill="#ffe8c5"/><rect x="579.6" y="377.4" width="10.8" height="8.8" fill="#fff4e3"/><rect x="590" y="377.4" width="10.8" height="8.8" fill="#fffcf7"/><rect x="600.5" y="377.4" width="10.8" height="8.8" fill="#fff8ed"/><rect x="611" y="377.4" width="10.8" height="8.8" fill="#fff9f0"/><rect x="621.5" y="377.4" width="10.8" height="8.8" fill="#fff8ec"/><rect x="631.9" y="377.4" width="0.4" height="8.8" fill="#fffaf2"/><rect x="474.5" y="385.9" width="0.7" height="8.8" fill="#fff8ec"/><rect x="474.9" y="385.9" width="10.8" height="8.8" fill="#fff6e8"/><rect x="485.3" y="385.9" width="10.8" height="8.8" fill="#fffaf4"/><rect x="495.8" y="385.9" width="10.8" height="8.8" fill="#ffeed5"/><rect x="506.3" y="385.9" width="10.8" height="8.8" fill="#ffe4bc"/><rect x="516.8" y="385.9" width="10.8" height="8.8" fill="#ffe8c5"/><rect x="527.2" y="385.9" width="10.8" height="8.8" fill="#ffc46a"/><rect x="537.7" y="385.9" width="10.8" height="8.8" fill="#ffc46a"/><rect x="548.2" y="385.9" width="10.8" height="8.8" fill="#ffaa29"/><rect x="558.6" y="385.9" width="10.8" height="8.8" fill="#ffd087"/><rect x="569.1" y="385.9" width="10.8" height="8.8" fill="#000"/><rect x="579.6" y="385.9" width="10.8" height="8.8" fill="#ffd89b"/><rect x="590" y="385.9" width="10.8" height="8.8" fill="#fff2df"/><rect x="600.5" y="385.9" width="10.8" height="8.8" fill="#fff5e6"/><rect x="611" y="385.9" width="10.8" height="8.8" fill="#fff8ee"/><rect x="621.5" y="385.9" width="10.8" height="8.8" fill="#fff7eb"/><rect x="631.9" y="385.9" width="0.4" height="8.8" fill="#fffaf2"/><rect x="474.5" y="394.4" width="0.7" height="8.8" fill="#fff9f0"/><rect x="474.9" y="394.4" width="10.8" height="8.8" fill="#fff7ec"/><rect x="485.3" y="394.4" width="10.8" height="8.8" fill="#fffcf6"/><rect x="495.8" y="394.4" width="10.8" height="8.8" fill="#fffaf2"/><rect x="506.3" y="394.4" width="10.8" height="8.8" fill="#fffaf2"/><rect x="516.8" y="394.4" width="10.8" height="8.8" fill="#fff7ea"/><rect x="527.2" y="394.4" width="10.8" height="8.8" fill="#ffeed5"/><rect x="537.7" y="394.4" width="10.8" height="8.8" fill="#fff4e3"/><rect x="548.2" y="394.4" width="10.8" height="8.8" fill="#ffd89b"/><rect x="558.6" y="394.4" width="10.8" height="8.8" fill="#ffeed5"/><rect x="569.1" y="394.4" width="10.8" height="8.8" fill="#ffe8c5"/><rect x="579.6" y="394.4" width="10.8" height="8.8" fill="#fff5e6"/><rect x="590" y="394.4" width="10.8" height="8.8" fill="#fff9f0"/><rect x="600.5" y="394.4" width="10.8" height="8.8" fill="#fffbf4"/><rect x="611" y="394.4" width="10.8" height="8.8" fill="#fffbf6"/><rect x="621.5" y="394.4" width="10.8" height="8.8" fill="#fff9ef"/><rect x="631.9" y="394.4" width="0.4" height="8.8" fill="#fffbf5"/><rect x="474.5" y="403" width="0.7" height="8.8" fill="#fff7ea"/><rect x="474.9" y="403" width="10.8" height="8.8" fill="#fff8ed"/><rect x="485.3" y="403" width="10.8" height="8.8" fill="#fff7ea"/><rect x="495.8" y="403" width="10.8" height="8.8" fill="#fffaf2"/><rect x="506.3" y="403" width="10.8" height="8.8" fill="#fffbf6"/><rect x="516.8" y="403" width="10.8" height="8.8" fill="#fffaf3"/><rect x="527.2" y="403" width="10.8" height="8.8" fill="#fff7ea"/><rect x="537.7" y="403" width="10.8" height="8.8" fill="#fffaf3"/><rect x="548.2" y="403" width="10.8" height="8.8" fill="#fff4e3"/><rect x="558.6" y="403" width="10.8" height="8.8" fill="#fff7ea"/><rect x="569.1" y="403" width="10.8" height="8.8" fill="#fff9f0"/><rect x="579.6" y="403" width="10.8" height="8.8" fill="#fff9f1"/><rect x="590" y="403" width="10.8" height="8.8" fill="#fff6e8"/><rect x="600.5" y="403" width="10.8" height="8.8" fill="#fffbf5"/><rect x="611" y="403" width="10.8" height="8.8" fill="#fffcf8"/><rect x="621.5" y="403" width="10.8" height="8.8" fill="#fff6e8"/><rect x="631.9" y="403" width="0.4" height="8.8" fill="#fff6e9"/><rect x="474.5" y="411.5" width="0.7" height="8.8" fill="#fffbf4"/><rect x="474.9" y="411.5" width="10.8" height="8.8" fill="#fff7eb"/><rect x="485.3" y="411.5" width="10.8" height="8.8" fill="#fff7ea"/><rect x="495.8" y="411.5" width="10.8" height="8.8" fill="#fff8ec"/><rect x="506.3" y="411.5" width="10.8" height="8.8" fill="#fff9ef"/><rect x="516.8" y="411.5" width="10.8" height="8.8" fill="#fffaf3"/><rect x="527.2" y="411.5" width="10.8" height="8.8" fill="#fffaf2"/><rect x="537.7" y="411.5" width="10.8" height="8.8" fill="#fff5e6"/><rect x="548.2" y="411.5" width="10.8" height="8.8" fill="#ffb94f"/><rect x="558.6" y="411.5" width="10.8" height="8.8" fill="#ffeed5"/><rect x="569.1" y="411.5" width="10.8" height="8.8" fill="#fffaf3"/><rect x="579.6" y="411.5" width="10.8" height="8.8" fill="#fff7ea"/><rect x="590" y="411.5" width="10.8" height="8.8" fill="#fffcf8"/><rect x="600.5" y="411.5" width="10.8" height="8.8" fill="#fff6e9"/><rect x="611" y="411.5" width="10.8" height="8.8" fill="#fff7ec"/><rect x="621.5" y="411.5" width="10.8" height="8.8" fill="#fff6e8"/><rect x="631.9" y="411.5" width="0.4" height="8.8" fill="#fff6e9"/><rect x="474.5" y="420" width="0.7" height="8.8" fill="#fffbf5"/><rect x="474.9" y="420" width="10.8" height="8.8" fill="#fffaf3"/><rect x="485.3" y="420" width="10.8" height="8.8" fill="#fff8ec"/><rect x="495.8" y="420" width="10.8" height="8.8" fill="#fff1db"/><rect x="506.3" y="420" width="10.8" height="8.8" fill="#ffeed5"/><rect x="516.8" y="420" width="10.8" height="8.8" fill="#ffeed5"/><rect x="527.2" y="420" width="10.8" height="8.8" fill="#ffe8c5"/><rect x="537.7" y="420" width="10.8" height="8.8" fill="#ffb13a"/><rect x="548.2" y="420" width="10.8" height="8.8" fill="#000"/><rect x="558.6" y="420" width="10.8" height="8.8" fill="#ffb13a"/><rect x="569.1" y="420" width="10.8" height="8.8" fill="#ffeed5"/><rect x="579.6" y="420" width="10.8" height="8.8" fill="#fff4e3"/><rect x="590" y="420" width="10.8" height="8.8" fill="#ffeed5"/><rect x="600.5" y="420" width="10.8" height="8.8" fill="#fff7ea"/><rect x="611" y="420" width="10.8" height="8.8" fill="#fff8ef"/><rect x="621.5" y="420" width="10.8" height="8.8" fill="#fff7ea"/><rect x="631.9" y="420" width="0.4" height="8.8" fill="#fffbf5"/><rect x="474.5" y="428.6" width="0.7" height="8.8" fill="#fffcf8"/><rect x="474.9" y="428.6" width="10.8" height="8.8" fill="#fff8ed"/><rect x="485.3" y="428.6" width="10.8" height="8.8" fill="#fff6e9"/><rect x="495.8" y="428.6" width="10.8" height="8.8" fill="#fffcf7"/><rect x="506.3" y="428.6" width="10.8" height="8.8" fill="#fffaf3"/><rect x="516.8" y="428.6" width="10.8" height="8.8" fill="#fffaf3"/><rect x="527.2" y="428.6" width="10.8" height="8.8" fill="#fff9ef"/><rect x="537.7" y="428.6" width="10.8" height="8.8" fill="#ffe8c5"/><rect x="548.2" y="428.6" width="10.8" height="8.8" fill="#ffb749"/><rect x="558.6" y="428.6" width="10.8" height="8.8" fill="#ffe8c5"/><rect x="569.1" y="428.6" width="10.8" height="8.8" fill="#fff5e6"/><rect x="579.6" y="428.6" width="10.8" height="8.8" fill="#fffcf7"/><rect x="590" y="428.6" width="10.8" height="8.8" fill="#fffbf6"/><rect x="600.5" y="428.6" width="10.8" height="8.8" fill="#fffbf6"/><rect x="611" y="428.6" width="10.8" height="8.8" fill="#fffcf7"/><rect x="621.5" y="428.6" width="10.8" height="8.8" fill="#fff6e8"/><rect x="631.9" y="428.6" width="0.4" height="8.8" fill="#fff6e9"/><rect x="474.5" y="437.1" width="0.7" height="8.8" fill="#fffaf2"/><rect x="474.9" y="437.1" width="10.8" height="8.8" fill="#fff8ed"/><rect x="485.3" y="437.1" width="10.8" height="8.8" fill="#fff8ee"/><rect x="495.8" y="437.1" width="10.8" height="8.8" fill="#fffaf2"/><rect x="506.3" y="437.1" width="10.8" height="8.8" fill="#fffbf5"/><rect x="516.8" y="437.1" width="10.8" height="8.8" fill="#fffaf2"/><rect x="527.2" y="437.1" width="10.8" height="8.8" fill="#fffbf6"/><rect x="537.7" y="437.1" width="10.8" height="8.8" fill="#fff5e6"/><rect x="548.2" y="437.1" width="10.8" height="8.8" fill="#fff5e6"/><rect x="558.6" y="437.1" width="10.8" height="8.8" fill="#fffaf1"/><rect x="569.1" y="437.1" width="10.8" height="8.8" fill="#fffcf7"/><rect x="579.6" y="437.1" width="10.8" height="8.8" fill="#fffbf5"/><rect x="590" y="437.1" width="10.8" height="8.8" fill="#fffaf1"/><rect x="600.5" y="437.1" width="10.8" height="8.8" fill="#fff8ed"/><rect x="611" y="437.1" width="10.8" height="8.8" fill="#fff7ea"/><rect x="621.5" y="437.1" width="10.8" height="8.8" fill="#fffaf1"/><rect x="631.9" y="437.1" width="0.4" height="8.8" fill="#fff7ea"/><rect x="474.5" y="445.6" width="0.7" height="8.8" fill="#fff7ec"/><rect x="474.9" y="445.6" width="10.8" height="8.8" fill="#fff9f0"/><rect x="485.3" y="445.6" width="10.8" height="8.8" fill="#fff7ec"/><rect x="495.8" y="445.6" width="10.8" height="8.8" fill="#fff9f0"/><rect x="506.3" y="445.6" width="10.8" height="8.8" fill="#fffaf4"/><rect x="516.8" y="445.6" width="10.8" height="8.8" fill="#fff5e6"/><rect x="527.2" y="445.6" width="10.8" height="8.8" fill="#ffdda9"/><rect x="537.7" y="445.6" width="10.8" height="8.8" fill="#ffeed5"/><rect x="548.2" y="445.6" width="10.8" height="8.8" fill="#ffd596"/><rect x="558.6" y="445.6" width="10.8" height="8.8" fill="#fff1db"/><rect x="569.1" y="445.6" width="10.8" height="8.8" fill="#fff6e9"/><rect x="579.6" y="445.6" width="10.8" height="8.8" fill="#fff6e8"/><rect x="590" y="445.6" width="10.8" height="8.8" fill="#fffaf1"/><rect x="600.5" y="445.6" width="10.8" height="8.8" fill="#fff6e9"/><rect x="611" y="445.6" width="10.8" height="8.8" fill="#fff7ea"/><rect x="621.5" y="445.6" width="10.8" height="8.8" fill="#fffaf3"/><rect x="631.9" y="445.6" width="0.4" height="8.8" fill="#fff9f0"/><rect x="474.5" y="454.2" width="0.7" height="8.8" fill="#fff7ea"/><rect x="474.9" y="454.2" width="10.8" height="8.8" fill="#fff8ec"/><rect x="485.3" y="454.2" width="10.8" height="8.8" fill="#fff7eb"/><rect x="495.8" y="454.2" width="10.8" height="8.8" fill="#fff7ea"/><rect x="506.3" y="454.2" width="10.8" height="8.8" fill="#fff4e3"/><rect x="516.8" y="454.2" width="10.8" height="8.8" fill="#ffd89b"/><rect x="527.2" y="454.2" width="10.8" height="8.8" fill="#000"/><rect x="537.7" y="454.2" width="10.8" height="8.8" fill="#ffdaa1"/><rect x="548.2" y="454.2" width="10.8" height="8.8" fill="#ffb13a"/><rect x="558.6" y="454.2" width="10.8" height="8.8" fill="#ffc05f"/><rect x="569.1" y="454.2" width="10.8" height="8.8" fill="#ffc05f"/><rect x="579.6" y="454.2" width="10.8" height="8.8" fill="#ffecce"/><rect x="590" y="454.2" width="10.8" height="8.8" fill="#ffeed5"/><rect x="600.5" y="454.2" width="10.8" height="8.8" fill="#fffbf5"/><rect x="611" y="454.2" width="10.8" height="8.8" fill="#fffcf8"/><rect x="621.5" y="454.2" width="10.8" height="8.8" fill="#fff7ea"/><rect x="631.9" y="454.2" width="0.4" height="8.8" fill="#fffbf6"/><rect x="474.5" y="462.7" width="0.7" height="8.8" fill="#fff8ee"/><rect x="474.9" y="462.7" width="10.8" height="8.8" fill="#fff7ea"/><rect x="485.3" y="462.7" width="10.8" height="8.8" fill="#fffcf8"/><rect x="495.8" y="462.7" width="10.8" height="8.8" fill="#fff7eb"/><rect x="506.3" y="462.7" width="10.8" height="8.8" fill="#fff9ef"/><rect x="516.8" y="462.7" width="10.8" height="8.8" fill="#fff7ec"/><rect x="527.2" y="462.7" width="10.8" height="8.8" fill="#ffecce"/><rect x="537.7" y="462.7" width="10.8" height="8.8" fill="#fff1db"/><rect x="548.2" y="462.7" width="10.8" height="8.8" fill="#ffeed5"/><rect x="558.6" y="462.7" width="10.8" height="8.8" fill="#fff5e6"/><rect x="569.1" y="462.7" width="10.8" height="8.8" fill="#ffdaa1"/><rect x="579.6" y="462.7" width="10.8" height="8.8" fill="#fff5e6"/><rect x="590" y="462.7" width="10.8" height="8.8" fill="#fff7ea"/><rect x="600.5" y="462.7" width="10.8" height="8.8" fill="#fffbf4"/><rect x="611" y="462.7" width="10.8" height="8.8" fill="#fffbf5"/><rect x="621.5" y="462.7" width="10.8" height="8.8" fill="#fffaf4"/><rect x="631.9" y="462.7" width="0.4" height="8.8" fill="#fff8ed"/><rect x="474.5" y="471.2" width="0.7" height="8.8" fill="#fffaf2"/><rect x="474.9" y="471.2" width="10.8" height="8.8" fill="#fff9f1"/><rect x="485.3" y="471.2" width="10.8" height="8.8" fill="#fffcf7"/><rect x="495.8" y="471.2" width="10.8" height="8.8" fill="#fff9ef"/><rect x="506.3" y="471.2" width="10.8" height="8.8" fill="#fff6e8"/><rect x="516.8" y="471.2" width="10.8" height="8.8" fill="#fff9f1"/><rect x="527.2" y="471.2" width="10.8" height="8.8" fill="#fff7eb"/><rect x="537.7" y="471.2" width="10.8" height="8.8" fill="#fff4e3"/><rect x="548.2" y="471.2" width="10.8" height="8.8" fill="#fff1db"/><rect x="558.6" y="471.2" width="10.8" height="8.8" fill="#fff5e6"/><rect x="569.1" y="471.2" width="10.8" height="8.8" fill="#fff8ec"/><rect x="579.6" y="471.2" width="10.8" height="8.8" fill="#fff9ef"/><rect x="590" y="471.2" width="10.8" height="8.8" fill="#fff9ef"/><rect x="600.5" y="471.2" width="10.8" height="8.8" fill="#fff8ed"/><rect x="611" y="471.2" width="10.8" height="8.8" fill="#fff6e9"/><rect x="621.5" y="471.2" width="10.8" height="8.8" fill="#fffbf5"/><rect x="631.9" y="471.2" width="0.4" height="8.8" fill="#fffcf7"/><rect x="474.5" y="479.7" width="0.7" height="8.8" fill="#fff7eb"/><rect x="474.9" y="479.7" width="10.8" height="8.8" fill="#fffbf5"/><rect x="485.3" y="479.7" width="10.8" height="8.8" fill="#fffaf3"/><rect x="495.8" y="479.7" width="10.8" height="8.8" fill="#fffbf4"/><rect x="506.3" y="479.7" width="10.8" height="8.8" fill="#fff8ee"/><rect x="516.8" y="479.7" width="10.8" height="8.8" fill="#fff4e3"/><rect x="527.2" y="479.7" width="10.8" height="8.8" fill="#ffecce"/><rect x="537.7" y="479.7" width="10.8" height="8.8" fill="#ffe4bc"/><rect x="548.2" y="479.7" width="10.8" height="8.8" fill="#ffe8c5"/><rect x="558.6" y="479.7" width="10.8" height="8.8" fill="#ffeed5"/><rect x="569.1" y="479.7" width="10.8" height="8.8" fill="#fff7ec"/><rect x="579.6" y="479.7" width="10.8" height="8.8" fill="#fff9f1"/><rect x="590" y="479.7" width="10.8" height="8.8" fill="#fff6e9"/><rect x="600.5" y="479.7" width="10.8" height="8.8" fill="#fff8ee"/><rect x="611" y="479.7" width="10.8" height="8.8" fill="#fffaf3"/><rect x="621.5" y="479.7" width="10.8" height="8.8" fill="#fffbf4"/><rect x="631.9" y="479.7" width="0.4" height="8.8" fill="#fffcf8"/><rect x="474.5" y="488.3" width="0.7" height="1" fill="#fffaf2"/><rect x="474.9" y="488.3" width="10.8" height="1" fill="#fff7eb"/><rect x="485.3" y="488.3" width="10.8" height="1" fill="#fffbf6"/><rect x="495.8" y="488.3" width="10.8" height="1" fill="#fff6e7"/><rect x="506.3" y="488.3" width="10.8" height="1" fill="#fff9ef"/><rect x="516.8" y="488.3" width="10.8" height="1" fill="#fff8ed"/><rect x="527.2" y="488.3" width="10.8" height="1" fill="#fff9f0"/><rect x="537.7" y="488.3" width="10.8" height="1" fill="#fff7ea"/><rect x="548.2" y="488.3" width="10.8" height="1" fill="#fff7ea"/><rect x="558.6" y="488.3" width="10.8" height="1" fill="#fff8ee"/><rect x="569.1" y="488.3" width="10.8" height="1" fill="#fff9ef"/><rect x="579.6" y="488.3" width="10.8" height="1" fill="#fff7eb"/><rect x="590" y="488.3" width="10.8" height="1" fill="#fff6e9"/><rect x="600.5" y="488.3" width="10.8" height="1" fill="#fff9f1"/><rect x="611" y="488.3" width="10.8" height="1" fill="#fff7eb"/><rect x="621.5" y="488.3" width="10.8" height="1" fill="#fff6e8"/><rect x="631.9" y="488.3" width="0.4" height="1" fill="#fff9f0"/>
<rect x="474.5" y="359.4" width="157.5" height="129.6" fill="none" stroke="#555" stroke-width="1.3"/>
<line x1="511.4" y1="489" x2="511.4" y2="483" stroke="#333" stroke-width="1.1"/>
<line x1="553.3" y1="489" x2="553.3" y2="483" stroke="#333" stroke-width="1.1"/>
<line x1="595.2" y1="489" x2="595.2" y2="483" stroke="#333" stroke-width="1.1"/>
<line x1="632" y1="370.3" x2="626" y2="370.3" stroke="#333" stroke-width="1.1"/>
<line x1="632" y1="424" x2="626" y2="424" stroke="#333" stroke-width="1.1"/>
<line x1="632" y1="477.4" x2="626" y2="477.4" stroke="#333" stroke-width="1.1"/>
<defs><linearGradient id="cbO1" x1="0" y1="1" x2="0" y2="0"><stop offset="0" stop-color="#fff"/><stop offset="1" stop-color="#ff9a00"/></linearGradient></defs>
<rect x="486.1" y="377" width="14.5" height="60" fill="url(#cbO1)"/>
<rect x="486.1" y="371" width="14.5" height="6" fill="#000"/>
<rect x="486.1" y="371" width="14.5" height="66" fill="none" stroke="#222" stroke-width="1.2"/>
<line x1="500.6" y1="407" x2="494.6" y2="407" stroke="#444" stroke-width="1.1"/>
<text x="507.39" y="376.00" font-size="15.80" textLength="28.01" lengthAdjust="spacingAndGlyphs" fill="#1a1a1a">&gt;1.0</text>
<text x="507.23" y="411.75" font-size="15.21" textLength="23.35" lengthAdjust="spacingAndGlyphs" fill="#1a1a1a">0.5</text>
<text x="507.14" y="441.75" font-size="15.21" textLength="10.54" lengthAdjust="spacingAndGlyphs" fill="#1a1a1a">0</text>
<text x="597.59" y="472.61" font-size="18.64" fill="#1a1a1a">b</text>
<text x="608.06" y="477.70" font-size="12.86" fill="#1a1a1a">2</text>
<text x="640.59" y="375.20" font-size="15.65" textLength="6.01" lengthAdjust="spacingAndGlyphs" fill="#1a1a1a">1</text>
<text x="641.23" y="428.74" font-size="15.63" textLength="10.66" lengthAdjust="spacingAndGlyphs" fill="#1a1a1a">0</text>
<text x="641.00" y="482.30" font-size="15.22" textLength="13.75" lengthAdjust="spacingAndGlyphs" fill="#1a1a1a">−1</text>
<text transform="translate(666.5 393.8) rotate(90)" font-size="18.5" fill="#1a1a1a" textLength="60.2" lengthAdjust="spacingAndGlyphs"><tspan font-style="italic">k</tspan><tspan font-style="italic" font-size="12" dy="4">ϕ</tspan><tspan dy="-4"> rad</tspan><tspan font-size="12" dy="-7">−1</tspan></text>
<rect x="474.5" y="494.5" width="157.5" height="128.8" fill="#fff"/>
<rect x="474.5" y="494.5" width="0.7" height="1.4" fill="#fafdfd"/><rect x="474.9" y="494.5" width="10.8" height="1.4" fill="#f9fcfc"/><rect x="485.3" y="494.5" width="10.8" height="1.4" fill="#f5fafa"/><rect x="495.8" y="494.5" width="10.8" height="1.4" fill="#fcfdfd"/><rect x="506.3" y="494.5" width="10.8" height="1.4" fill="#fcfdfd"/><rect x="516.8" y="494.5" width="10.8" height="1.4" fill="#f7fbfb"/><rect x="527.2" y="494.5" width="10.8" height="1.4" fill="#f9fcfc"/><rect x="537.7" y="494.5" width="10.8" height="1.4" fill="#f7fbfb"/><rect x="548.2" y="494.5" width="10.8" height="1.4" fill="#f8fcfc"/><rect x="558.6" y="494.5" width="10.8" height="1.4" fill="#f9fcfc"/><rect x="569.1" y="494.5" width="10.8" height="1.4" fill="#f4fafa"/><rect x="579.6" y="494.5" width="10.8" height="1.4" fill="#fafdfd"/><rect x="590" y="494.5" width="10.8" height="1.4" fill="#f8fcfc"/><rect x="600.5" y="494.5" width="10.8" height="1.4" fill="#fafdfd"/><rect x="611" y="494.5" width="10.8" height="1.4" fill="#f7fbfb"/><rect x="621.5" y="494.5" width="10.8" height="1.4" fill="#f9fcfc"/><rect x="631.9" y="494.5" width="0.4" height="1.4" fill="#f9fcfc"/><rect x="474.5" y="495.6" width="0.7" height="8.8" fill="#fbfdfd"/><rect x="474.9" y="495.6" width="10.8" height="8.8" fill="#fbfdfd"/><rect x="485.3" y="495.6" width="10.8" height="8.8" fill="#fafcfc"/><rect x="495.8" y="495.6" width="10.8" height="8.8" fill="#f6fafa"/><rect x="506.3" y="495.6" width="10.8" height="8.8" fill="#f7fbfb"/><rect x="516.8" y="495.6" width="10.8" height="8.8" fill="#fafcfc"/><rect x="527.2" y="495.6" width="10.8" height="8.8" fill="#d7ebeb"/><rect x="537.7" y="495.6" width="10.8" height="8.8" fill="#d0e8e8"/><rect x="548.2" y="495.6" width="10.8" height="8.8" fill="#d0e8e8"/><rect x="558.6" y="495.6" width="10.8" height="8.8" fill="#d7ebeb"/><rect x="569.1" y="495.6" width="10.8" height="8.8" fill="#ddefef"/><rect x="579.6" y="495.6" width="10.8" height="8.8" fill="#f5fafa"/><rect x="590" y="495.6" width="10.8" height="8.8" fill="#f4fafa"/><rect x="600.5" y="495.6" width="10.8" height="8.8" fill="#f6fbfb"/><rect x="611" y="495.6" width="10.8" height="8.8" fill="#f4fafa"/><rect x="631.9" y="495.6" width="0.4" height="8.8" fill="#f9fcfc"/><rect x="474.5" y="504.2" width="0.7" height="8.8" fill="#f7fbfb"/><rect x="474.9" y="504.2" width="10.8" height="8.8" fill="#f5fafa"/><rect x="485.3" y="504.2" width="10.8" height="8.8" fill="#f9fcfc"/><rect x="495.8" y="504.2" width="10.8" height="8.8" fill="#fafdfd"/><rect x="506.3" y="504.2" width="10.8" height="8.8" fill="#f8fcfc"/><rect x="516.8" y="504.2" width="10.8" height="8.8" fill="#fbfdfd"/><rect x="527.2" y="504.2" width="10.8" height="8.8" fill="#f9fcfc"/><rect x="537.7" y="504.2" width="10.8" height="8.8" fill="#f4fafa"/><rect x="548.2" y="504.2" width="10.8" height="8.8" fill="#f9fcfc"/><rect x="569.1" y="504.2" width="10.8" height="8.8" fill="#fcfdfd"/><rect x="579.6" y="504.2" width="10.8" height="8.8" fill="#fafdfd"/><rect x="590" y="504.2" width="10.8" height="8.8" fill="#f5fafa"/><rect x="600.5" y="504.2" width="10.8" height="8.8" fill="#f9fcfc"/><rect x="611" y="504.2" width="10.8" height="8.8" fill="#f9fcfc"/><rect x="621.5" y="504.2" width="10.8" height="8.8" fill="#fbfdfd"/><rect x="631.9" y="504.2" width="0.4" height="8.8" fill="#f4fafa"/><rect x="474.5" y="512.7" width="0.7" height="8.8" fill="#fafdfd"/><rect x="474.9" y="512.7" width="10.8" height="8.8" fill="#f6fbfb"/><rect x="485.3" y="512.7" width="10.8" height="8.8" fill="#fbfdfd"/><rect x="495.8" y="512.7" width="10.8" height="8.8" fill="#fcfdfd"/><rect x="506.3" y="512.7" width="10.8" height="8.8" fill="#f8fbfb"/><rect x="516.8" y="512.7" width="10.8" height="8.8" fill="#fafcfc"/><rect x="527.2" y="512.7" width="10.8" height="8.8" fill="#f4fafa"/><rect x="537.7" y="512.7" width="10.8" height="8.8" fill="#d7ebeb"/><rect x="548.2" y="512.7" width="10.8" height="8.8" fill="#acd7d7"/><rect x="558.6" y="512.7" width="10.8" height="8.8" fill="#d7ebeb"/><rect x="569.1" y="512.7" width="10.8" height="8.8" fill="#f8fcfc"/><rect x="579.6" y="512.7" width="10.8" height="8.8" fill="#f4fafa"/><rect x="590" y="512.7" width="10.8" height="8.8" fill="#f8fbfb"/><rect x="600.5" y="512.7" width="10.8" height="8.8" fill="#fafcfc"/><rect x="611" y="512.7" width="10.8" height="8.8" fill="#f8fcfc"/><rect x="621.5" y="512.7" width="10.8" height="8.8" fill="#fcfdfd"/><rect x="631.9" y="512.7" width="0.4" height="8.8" fill="#f8fcfc"/><rect x="474.5" y="521.2" width="0.7" height="8.8" fill="#fcfdfd"/><rect x="474.9" y="521.2" width="10.8" height="8.8" fill="#fafcfc"/><rect x="485.3" y="521.2" width="10.8" height="8.8" fill="#fafcfc"/><rect x="495.8" y="521.2" width="10.8" height="8.8" fill="#e7f4f4"/><rect x="506.3" y="521.2" width="10.8" height="8.8" fill="#d7ebeb"/><rect x="516.8" y="521.2" width="10.8" height="8.8" fill="#b9dddd"/><rect x="527.2" y="521.2" width="10.8" height="8.8" fill="#a0d1d1"/><rect x="537.7" y="521.2" width="10.8" height="8.8" fill="#93cbcb"/><rect x="548.2" y="521.2" width="10.8" height="8.8" fill="#000"/><rect x="558.6" y="521.2" width="10.8" height="8.8" fill="#93cbcb"/><rect x="569.1" y="521.2" width="10.8" height="8.8" fill="#a0d1d1"/><rect x="579.6" y="521.2" width="10.8" height="8.8" fill="#d7ebeb"/><rect x="590" y="521.2" width="10.8" height="8.8" fill="#e7f4f4"/><rect x="600.5" y="521.2" width="10.8" height="8.8" fill="#e7f4f4"/><rect x="611" y="521.2" width="10.8" height="8.8" fill="#f5fafa"/><rect x="621.5" y="521.2" width="10.8" height="8.8" fill="#f6fafa"/><rect x="631.9" y="521.2" width="0.4" height="8.8" fill="#f8fbfb"/><rect x="474.5" y="529.7" width="0.7" height="8.8" fill="#f4fafa"/><rect x="474.9" y="529.7" width="10.8" height="8.8" fill="#f9fcfc"/><rect x="485.3" y="529.7" width="10.8" height="8.8" fill="#f6fbfb"/><rect x="495.8" y="529.7" width="10.8" height="8.8" fill="#f5fafa"/><rect x="506.3" y="529.7" width="10.8" height="8.8" fill="#f6fbfb"/><rect x="516.8" y="529.7" width="10.8" height="8.8" fill="#f5fafa"/><rect x="527.2" y="529.7" width="10.8" height="8.8" fill="#f7fbfb"/><rect x="537.7" y="529.7" width="10.8" height="8.8" fill="#d7ebeb"/><rect x="548.2" y="529.7" width="10.8" height="8.8" fill="#acd7d7"/><rect x="558.6" y="529.7" width="10.8" height="8.8" fill="#e7f4f4"/><rect x="569.1" y="529.7" width="10.8" height="8.8" fill="#f4fafa"/><rect x="579.6" y="529.7" width="10.8" height="8.8" fill="#f4fafa"/><rect x="590" y="529.7" width="10.8" height="8.8" fill="#fbfdfd"/><rect x="600.5" y="529.7" width="10.8" height="8.8" fill="#f4fafa"/><rect x="611" y="529.7" width="10.8" height="8.8" fill="#f4fafa"/><rect x="621.5" y="529.7" width="10.8" height="8.8" fill="#f6fbfb"/><rect x="631.9" y="529.7" width="0.4" height="8.8" fill="#fcfdfd"/><rect x="474.5" y="538.3" width="0.7" height="8.8" fill="#fbfdfd"/><rect x="474.9" y="538.3" width="10.8" height="8.8" fill="#fafdfd"/><rect x="485.3" y="538.3" width="10.8" height="8.8" fill="#f7fbfb"/><rect x="495.8" y="538.3" width="10.8" height="8.8" fill="#f7fbfb"/><rect x="506.3" y="538.3" width="10.8" height="8.8" fill="#f6fafa"/><rect x="516.8" y="538.3" width="10.8" height="8.8" fill="#f4fafa"/><rect x="527.2" y="538.3" width="10.8" height="8.8" fill="#fafdfd"/><rect x="548.2" y="538.3" width="10.8" height="8.8" fill="#f4fafa"/><rect x="569.1" y="538.3" width="10.8" height="8.8" fill="#f5fafa"/><rect x="579.6" y="538.3" width="10.8" height="8.8" fill="#fbfdfd"/><rect x="590" y="538.3" width="10.8" height="8.8" fill="#f5fafa"/><rect x="600.5" y="538.3" width="10.8" height="8.8" fill="#f5fafa"/><rect x="611" y="538.3" width="10.8" height="8.8" fill="#f5fafa"/><rect x="621.5" y="538.3" width="10.8" height="8.8" fill="#f7fbfb"/><rect x="631.9" y="538.3" width="0.4" height="8.8" fill="#f5fafa"/><rect x="474.5" y="546.8" width="0.7" height="8.8" fill="#f5fafa"/><rect x="474.9" y="546.8" width="10.8" height="8.8" fill="#f8fcfc"/><rect x="485.3" y="546.8" width="10.8" height="8.8" fill="#f7fbfb"/><rect x="495.8" y="546.8" width="10.8" height="8.8" fill="#fcfdfd"/><rect x="506.3" y="546.8" width="10.8" height="8.8" fill="#fcfdfd"/><rect x="516.8" y="546.8" width="10.8" height="8.8" fill="#f7fbfb"/><rect x="527.2" y="546.8" width="10.8" height="8.8" fill="#f8fbfb"/><rect x="537.7" y="546.8" width="10.8" height="8.8" fill="#e7f4f4"/><rect x="548.2" y="546.8" width="10.8" height="8.8" fill="#93cbcb"/><rect x="558.6" y="546.8" width="10.8" height="8.8" fill="#fbfdfd"/><rect x="569.1" y="546.8" width="10.8" height="8.8" fill="#f9fcfc"/><rect x="579.6" y="546.8" width="10.8" height="8.8" fill="#f6fafa"/><rect x="590" y="546.8" width="10.8" height="8.8" fill="#f7fbfb"/><rect x="611" y="546.8" width="10.8" height="8.8" fill="#f5fafa"/><rect x="621.5" y="546.8" width="10.8" height="8.8" fill="#f5fafa"/><rect x="631.9" y="546.8" width="0.4" height="8.8" fill="#fbfdfd"/><rect x="474.5" y="555.3" width="0.7" height="8.8" fill="#fafcfc"/><rect x="474.9" y="555.3" width="10.8" height="8.8" fill="#f8fbfb"/><rect x="485.3" y="555.3" width="10.8" height="8.8" fill="#f4fafa"/><rect x="495.8" y="555.3" width="10.8" height="8.8" fill="#fbfdfd"/><rect x="506.3" y="555.3" width="10.8" height="8.8" fill="#d7ebeb"/><rect x="516.8" y="555.3" width="10.8" height="8.8" fill="#f7fbfb"/><rect x="527.2" y="555.3" width="10.8" height="8.8" fill="#d7ebeb"/><rect x="537.7" y="555.3" width="10.8" height="8.8" fill="#93cbcb"/><rect x="548.2" y="555.3" width="10.8" height="8.8" fill="#000"/><rect x="558.6" y="555.3" width="10.8" height="8.8" fill="#88c5c5"/><rect x="569.1" y="555.3" width="10.8" height="8.8" fill="#e7f4f4"/><rect x="579.6" y="555.3" width="10.8" height="8.8" fill="#fbfdfd"/><rect x="590" y="555.3" width="10.8" height="8.8" fill="#d7ebeb"/><rect x="600.5" y="555.3" width="10.8" height="8.8" fill="#fafdfd"/><rect x="611" y="555.3" width="10.8" height="8.8" fill="#f9fcfc"/><rect x="621.5" y="555.3" width="10.8" height="8.8" fill="#f5fafa"/><rect x="631.9" y="555.3" width="0.4" height="8.8" fill="#f8fcfc"/><rect x="474.5" y="563.9" width="0.7" height="8.8" fill="#fbfdfd"/><rect x="474.9" y="563.9" width="10.8" height="8.8" fill="#f8fbfb"/><rect x="485.3" y="563.9" width="10.8" height="8.8" fill="#f9fcfc"/><rect x="495.8" y="563.9" width="10.8" height="8.8" fill="#f7fbfb"/><rect x="506.3" y="563.9" width="10.8" height="8.8" fill="#f5fafa"/><rect x="516.8" y="563.9" width="10.8" height="8.8" fill="#f6fbfb"/><rect x="537.7" y="563.9" width="10.8" height="8.8" fill="#e7f4f4"/><rect x="548.2" y="563.9" width="10.8" height="8.8" fill="#93cbcb"/><rect x="558.6" y="563.9" width="10.8" height="8.8" fill="#f8fbfb"/><rect x="569.1" y="563.9" width="10.8" height="8.8" fill="#f6fbfb"/><rect x="579.6" y="563.9" width="10.8" height="8.8" fill="#f8fbfb"/><rect x="590" y="563.9" width="10.8" height="8.8" fill="#fbfdfd"/><rect x="600.5" y="563.9" width="10.8" height="8.8" fill="#fafcfc"/><rect x="611" y="563.9" width="10.8" height="8.8" fill="#f5fafa"/><rect x="621.5" y="563.9" width="10.8" height="8.8" fill="#f9fcfc"/><rect x="631.9" y="563.9" width="0.4" height="8.8" fill="#f6fafa"/><rect x="474.5" y="572.4" width="0.7" height="8.8" fill="#f9fcfc"/><rect x="474.9" y="572.4" width="10.8" height="8.8" fill="#f4fafa"/><rect x="485.3" y="572.4" width="10.8" height="8.8" fill="#f8fcfc"/><rect x="495.8" y="572.4" width="10.8" height="8.8" fill="#f4fafa"/><rect x="506.3" y="572.4" width="10.8" height="8.8" fill="#f9fcfc"/><rect x="516.8" y="572.4" width="10.8" height="8.8" fill="#f5fafa"/><rect x="527.2" y="572.4" width="10.8" height="8.8" fill="#f5fafa"/><rect x="537.7" y="572.4" width="10.8" height="8.8" fill="#f7fbfb"/><rect x="548.2" y="572.4" width="10.8" height="8.8" fill="#f8fcfc"/><rect x="558.6" y="572.4" width="10.8" height="8.8" fill="#fbfdfd"/><rect x="569.1" y="572.4" width="10.8" height="8.8" fill="#f5fafa"/><rect x="579.6" y="572.4" width="10.8" height="8.8" fill="#f9fcfc"/><rect x="590" y="572.4" width="10.8" height="8.8" fill="#f6fbfb"/><rect x="600.5" y="572.4" width="10.8" height="8.8" fill="#fbfdfd"/><rect x="611" y="572.4" width="10.8" height="8.8" fill="#fbfdfd"/><rect x="621.5" y="572.4" width="10.8" height="8.8" fill="#fbfdfd"/><rect x="631.9" y="572.4" width="0.4" height="8.8" fill="#f5fafa"/><rect x="474.5" y="580.9" width="0.7" height="8.8" fill="#f9fcfc"/><rect x="474.9" y="580.9" width="10.8" height="8.8" fill="#f7fbfb"/><rect x="485.3" y="580.9" width="10.8" height="8.8" fill="#fbfdfd"/><rect x="495.8" y="580.9" width="10.8" height="8.8" fill="#f8fcfc"/><rect x="506.3" y="580.9" width="10.8" height="8.8" fill="#f4fafa"/><rect x="516.8" y="580.9" width="10.8" height="8.8" fill="#fafdfd"/><rect x="527.2" y="580.9" width="10.8" height="8.8" fill="#f6fbfb"/><rect x="537.7" y="580.9" width="10.8" height="8.8" fill="#d7ebeb"/><rect x="548.2" y="580.9" width="10.8" height="8.8" fill="#b9dddd"/><rect x="558.6" y="580.9" width="10.8" height="8.8" fill="#d7ebeb"/><rect x="579.6" y="580.9" width="10.8" height="8.8" fill="#f4fafa"/><rect x="590" y="580.9" width="10.8" height="8.8" fill="#f5fafa"/><rect x="600.5" y="580.9" width="10.8" height="8.8" fill="#f5fafa"/><rect x="611" y="580.9" width="10.8" height="8.8" fill="#f5fafa"/><rect x="621.5" y="580.9" width="10.8" height="8.8" fill="#f4fafa"/><rect x="631.9" y="580.9" width="0.4" height="8.8" fill="#fafdfd"/><rect x="474.5" y="589.5" width="0.7" height="8.8" fill="#f6fafa"/><rect x="474.9" y="589.5" width="10.8" height="8.8" fill="#f4fafa"/><rect x="485.3" y="589.5" width="10.8" height="8.8" fill="#fbfdfd"/><rect x="495.8" y="589.5" width="10.8" height="8.8" fill="#e7f4f4"/><rect x="506.3" y="589.5" width="10.8" height="8.8" fill="#d7ebeb"/><rect x="516.8" y="589.5" width="10.8" height="8.8" fill="#b9dddd"/><rect x="527.2" y="589.5" width="10.8" height="8.8" fill="#88c5c5"/><rect x="537.7" y="589.5" width="10.8" height="8.8" fill="#7cc0c0"/><rect x="548.2" y="589.5" width="10.8" height="8.8" fill="#000"/><rect x="558.6" y="589.5" width="10.8" height="8.8" fill="#88c5c5"/><rect x="569.1" y="589.5" width="10.8" height="8.8" fill="#a0d1d1"/><rect x="579.6" y="589.5" width="10.8" height="8.8" fill="#d7ebeb"/><rect x="590" y="589.5" width="10.8" height="8.8" fill="#d7ebeb"/><rect x="600.5" y="589.5" width="10.8" height="8.8" fill="#e7f4f4"/><rect x="611" y="589.5" width="10.8" height="8.8" fill="#f9fcfc"/><rect x="621.5" y="589.5" width="10.8" height="8.8" fill="#fafcfc"/><rect x="631.9" y="589.5" width="0.4" height="8.8" fill="#f9fcfc"/><rect x="474.5" y="598" width="0.7" height="8.8" fill="#f8fcfc"/><rect x="474.9" y="598" width="10.8" height="8.8" fill="#f5fafa"/><rect x="485.3" y="598" width="10.8" height="8.8" fill="#f9fcfc"/><rect x="495.8" y="598" width="10.8" height="8.8" fill="#f8fcfc"/><rect x="516.8" y="598" width="10.8" height="8.8" fill="#fafdfd"/><rect x="527.2" y="598" width="10.8" height="8.8" fill="#d7ebeb"/><rect x="537.7" y="598" width="10.8" height="8.8" fill="#d7ebeb"/><rect x="548.2" y="598" width="10.8" height="8.8" fill="#a0d1d1"/><rect x="558.6" y="598" width="10.8" height="8.8" fill="#d7ebeb"/><rect x="569.1" y="598" width="10.8" height="8.8" fill="#f4fafa"/><rect x="579.6" y="598" width="10.8" height="8.8" fill="#f7fbfb"/><rect x="590" y="598" width="10.8" height="8.8" fill="#fafdfd"/><rect x="600.5" y="598" width="10.8" height="8.8" fill="#fbfdfd"/><rect x="611" y="598" width="10.8" height="8.8" fill="#f4fafa"/><rect x="621.5" y="598" width="10.8" height="8.8" fill="#f4fafa"/><rect x="631.9" y="598" width="0.4" height="8.8" fill="#f4fafa"/><rect x="474.5" y="606.5" width="0.7" height="8.8" fill="#fafdfd"/><rect x="474.9" y="606.5" width="10.8" height="8.8" fill="#f4fafa"/><rect x="485.3" y="606.5" width="10.8" height="8.8" fill="#f5fafa"/><rect x="495.8" y="606.5" width="10.8" height="8.8" fill="#f5fafa"/><rect x="506.3" y="606.5" width="10.8" height="8.8" fill="#fbfdfd"/><rect x="516.8" y="606.5" width="10.8" height="8.8" fill="#fafcfc"/><rect x="527.2" y="606.5" width="10.8" height="8.8" fill="#f9fcfc"/><rect x="537.7" y="606.5" width="10.8" height="8.8" fill="#f4fafa"/><rect x="548.2" y="606.5" width="10.8" height="8.8" fill="#fafdfd"/><rect x="558.6" y="606.5" width="10.8" height="8.8" fill="#f5fafa"/><rect x="569.1" y="606.5" width="10.8" height="8.8" fill="#f6fbfb"/><rect x="579.6" y="606.5" width="10.8" height="8.8" fill="#f7fbfb"/><rect x="590" y="606.5" width="10.8" height="8.8" fill="#f4fafa"/><rect x="600.5" y="606.5" width="10.8" height="8.8" fill="#fafcfc"/><rect x="611" y="606.5" width="10.8" height="8.8" fill="#f7fbfb"/><rect x="621.5" y="606.5" width="10.8" height="8.8" fill="#fafdfd"/><rect x="631.9" y="606.5" width="0.4" height="8.8" fill="#fbfdfd"/><rect x="474.5" y="615" width="0.7" height="8.6" fill="#f4fafa"/><rect x="474.9" y="615" width="10.8" height="8.6" fill="#f9fcfc"/><rect x="485.3" y="615" width="10.8" height="8.6" fill="#f5fafa"/><rect x="495.8" y="615" width="10.8" height="8.6" fill="#f6fbfb"/><rect x="506.3" y="615" width="10.8" height="8.6" fill="#f6fbfb"/><rect x="516.8" y="615" width="10.8" height="8.6" fill="#f6fbfb"/><rect x="527.2" y="615" width="10.8" height="8.6" fill="#c7e4e4"/><rect x="537.7" y="615" width="10.8" height="8.6" fill="#c7e4e4"/><rect x="548.2" y="615" width="10.8" height="8.6" fill="#c7e4e4"/><rect x="558.6" y="615" width="10.8" height="8.6" fill="#c7e4e4"/><rect x="569.1" y="615" width="10.8" height="8.6" fill="#d0e8e8"/><rect x="579.6" y="615" width="10.8" height="8.6" fill="#f6fbfb"/><rect x="590" y="615" width="10.8" height="8.6" fill="#f7fbfb"/><rect x="600.5" y="615" width="10.8" height="8.6" fill="#f8fbfb"/><rect x="611" y="615" width="10.8" height="8.6" fill="#fafdfd"/><rect x="621.5" y="615" width="10.8" height="8.6" fill="#f5fafa"/><rect x="631.9" y="615" width="0.4" height="8.6" fill="#f8fbfb"/>
<rect x="474.5" y="494.5" width="157.5" height="128.8" fill="none" stroke="#555" stroke-width="1.3"/>
<line x1="511.4" y1="623.3" x2="511.4" y2="617.3" stroke="#333" stroke-width="1.1"/>
<line x1="553.3" y1="623.3" x2="553.3" y2="617.3" stroke="#333" stroke-width="1.1"/>
<line x1="595.2" y1="623.3" x2="595.2" y2="617.3" stroke="#333" stroke-width="1.1"/>
<line x1="632" y1="505.3" x2="626" y2="505.3" stroke="#333" stroke-width="1.1"/>
<line x1="632" y1="559" x2="626" y2="559" stroke="#333" stroke-width="1.1"/>
<line x1="632" y1="612.5" x2="626" y2="612.5" stroke="#333" stroke-width="1.1"/>
<defs><linearGradient id="cbT1" x1="0" y1="1" x2="0" y2="0"><stop offset="0" stop-color="#fff"/><stop offset="1" stop-color="#0b8989"/></linearGradient></defs>
<rect x="486.1" y="510.2" width="14.5" height="60" fill="url(#cbT1)"/>
<rect x="486.1" y="504.2" width="14.5" height="6" fill="#000"/>
<rect x="486.1" y="504.2" width="14.5" height="66" fill="none" stroke="#222" stroke-width="1.2"/>
<line x1="500.6" y1="540.2" x2="494.6" y2="540.2" stroke="#444" stroke-width="1.1"/>
<text x="507.39" y="509.20" font-size="15.80" textLength="28.01" lengthAdjust="spacingAndGlyphs" fill="#1a1a1a">&gt;1.0</text>
<text x="507.23" y="544.95" font-size="15.21" textLength="23.35" lengthAdjust="spacingAndGlyphs" fill="#1a1a1a">0.5</text>
<text x="507.14" y="574.95" font-size="15.21" textLength="10.54" lengthAdjust="spacingAndGlyphs" fill="#1a1a1a">0</text>
<text x="597.59" y="607.71" font-size="18.64" fill="#1a1a1a">b</text>
<text x="608.19" y="612.67" font-size="12.68" fill="#1a1a1a">3</text>
<text x="640.59" y="510.50" font-size="15.65" textLength="6.01" lengthAdjust="spacingAndGlyphs" fill="#1a1a1a">1</text>
<text x="641.23" y="564.04" font-size="15.63" textLength="10.66" lengthAdjust="spacingAndGlyphs" fill="#1a1a1a">0</text>
<text x="641.00" y="617.60" font-size="15.22" textLength="13.75" lengthAdjust="spacingAndGlyphs" fill="#1a1a1a">−1</text>
<text transform="translate(666.5 528.9) rotate(90)" font-size="18.5" fill="#1a1a1a" textLength="60.1" lengthAdjust="spacingAndGlyphs"><tspan font-style="italic">k</tspan><tspan font-style="italic" font-size="12" dy="4">ϕ</tspan><tspan dy="-4"> rad</tspan><tspan font-size="12" dy="-7">−1</tspan></text>
<text x="498.29" y="641.56" font-size="14.23" textLength="27.39" lengthAdjust="spacingAndGlyphs" fill="#1a1a1a">−80</text>
<text x="547.11" y="641.56" font-size="14.23" textLength="11.01" lengthAdjust="spacingAndGlyphs" fill="#1a1a1a">0</text>
<text x="584.70" y="641.56" font-size="14.23" textLength="19.87" lengthAdjust="spacingAndGlyphs" fill="#1a1a1a">80</text>
<text x="525.83" y="665.98" font-size="17.22" textLength="44.12" lengthAdjust="spacingAndGlyphs" fill="#1a1a1a"><tspan font-style="italic">f</tspan> (Hz)</text>
<defs><clipPath id="clipC"><rect x="67.4" y="710.1" width="397.6" height="430.9"/></clipPath><filter id="blurC" x="-20%" y="-20%" width="140%" height="140%"><feGaussianBlur stdDeviation="3.4"/></filter><filter id="blurC2" x="-20%" y="-50%" width="140%" height="200%"><feGaussianBlur stdDeviation="2.2"/></filter><linearGradient id="gTeC" gradientUnits="userSpaceOnUse" x1="160" y1="0" x2="460" y2="0"><stop offset="0" stop-color="#168d8d" stop-opacity="0.25"/><stop offset="0.3" stop-color="#168d8d" stop-opacity="0.55"/><stop offset="1" stop-color="#0f8f8f" stop-opacity="0.95"/></linearGradient><linearGradient id="gOrC" gradientUnits="userSpaceOnUse" x1="0" y1="0" x2="1" y2="0"><stop offset="0" stop-color="#f7941d" stop-opacity="0.95"/><stop offset="1" stop-color="#f7941d" stop-opacity="0.4"/></linearGradient></defs>
<rect x="67.4" y="710.1" width="397.6" height="430.9" fill="#fbfbfb"/>
<g clip-path="url(#clipC)">
<g filter="url(#blurC)" opacity="0.85"><path d="M70.8 743C71.5 744.9 73.2 751.4 75.1 754.6C77 757.8 79.7 760 82.4 762C85.1 764 87.8 764.8 91.2 766.3C94.6 767.8 99.5 769.2 102.9 770.7C106.3 772.2 108.9 773 111.6 775C114.3 777 116 778.5 118.9 782.4C121.8 786.3 126 793.3 129.2 798.4C132.4 803.5 135.2 808.9 137.9 813C140.6 817.1 143 820.8 145.2 823.2C147.4 825.6 150 826.9 151 827.6" fill="none" stroke="#5a5a5a" stroke-width="13" stroke-linecap="butt"/><path d="M68.4 726.9C68.8 729.6 69.7 738.4 70.8 743C71.9 747.6 74.4 752.7 75.1 754.6" fill="none" stroke="#5a5a5a" stroke-width="7" stroke-linecap="butt"/><path d="M72.2 855.9C73.2 858.1 75.7 865.6 78.1 869C80.5 872.4 83.1 873.9 86.8 876.3C90.5 878.7 95.6 881.4 100 883.6C104.4 885.8 109.2 887.3 113.1 889.5C117 891.7 119.9 893.6 123.3 896.8C126.7 899.9 130.1 904.3 133.5 908.4C136.9 912.5 140.2 917.8 143.8 921.6C147.4 925.4 153.1 929.4 155 931" fill="none" stroke="#5a5a5a" stroke-width="13" stroke-linecap="butt"/><path d="M69.3 840.7C69.8 843.2 70.7 851.2 72.2 855.9C73.7 860.6 77.1 866.8 78.1 869" fill="none" stroke="#5a5a5a" stroke-width="7" stroke-linecap="butt"/><path d="M73.7 949.2C74.9 951.4 78.1 958.6 81 962.3C83.9 965.9 87.1 968.9 91.2 971.1C95.3 973.3 101.2 974 105.8 975.5C110.4 977 115.2 977.7 118.9 979.9C122.6 982.1 124.5 985 127.7 988.6C130.9 992.2 134.5 996.7 137.9 1001.8C141.3 1006.9 144.9 1014.4 148.1 1019.3C151.3 1024.2 154.8 1028.4 156.9 1031C159.1 1033.6 160.3 1034.3 161 1035" fill="none" stroke="#5a5a5a" stroke-width="13" stroke-linecap="butt"/><path d="M70.2 931.7C70.8 934.6 71.9 944.1 73.7 949.2C75.5 954.3 79.8 960.1 81 962.3" fill="none" stroke="#5a5a5a" stroke-width="7" stroke-linecap="butt"/><path d="M76.6 1058C77.6 1060.2 80 1067.2 82.4 1071.1C84.8 1075 87.8 1078.4 91.2 1081.3C94.6 1084.2 98.5 1086.6 102.9 1088.6C107.3 1090.5 113.6 1091.3 117.5 1093C121.4 1094.7 123.3 1095.4 126.2 1098.8C129.1 1102.2 132.1 1108.5 135 1113.4C137.9 1118.3 140.9 1123.1 143.8 1128C146.7 1132.9 149.8 1138.7 152.5 1142.6C155.2 1146.5 158.6 1149.9 159.8 1151.4" fill="none" stroke="#5a5a5a" stroke-width="13" stroke-linecap="butt"/><path d="M73.1 1045.7C73.7 1047.8 75 1053.8 76.6 1058C78.1 1062.2 81.4 1068.9 82.4 1071.1" fill="none" stroke="#5a5a5a" stroke-width="7" stroke-linecap="butt"/><rect x="144" y="824" width="12" height="12" fill="#5a5a5a" fill-opacity="0.6"/><rect x="157" y="827" width="18" height="16" fill="#5a5a5a" fill-opacity="0.85"/><rect x="176" y="821" width="101" height="14" fill="#5a5a5a" fill-opacity="0.9"/><rect x="277" y="815.5" width="193" height="15" fill="#5a5a5a" fill-opacity="0.9"/><rect x="146" y="931" width="11" height="14" fill="#5a5a5a" fill-opacity="0.7"/><rect x="160" y="933" width="10" height="14" fill="#5a5a5a" fill-opacity="0.7"/><rect x="170" y="920.3" width="300" height="15" fill="#5a5a5a" fill-opacity="0.9"/><rect x="150" y="1026" width="16" height="12" fill="#5a5a5a" fill-opacity="0.5"/><rect x="168" y="1018.3" width="302" height="15" fill="#5a5a5a" fill-opacity="0.9"/><rect x="162" y="1124" width="308" height="16" fill="#5a5a5a" fill-opacity="0.9"/></g>
<rect x="156" y="821.3" width="304.3" height="7" fill="url(#gTeC)"/>
<rect x="159.2" y="924.2" width="301.1" height="7" fill="url(#gTeC)"/>
<rect x="165" y="1022" width="295.3" height="7" fill="url(#gTeC)"/>
<rect x="164.2" y="1132.3" width="296.1" height="7" fill="url(#gTeC)"/>
<defs><linearGradient id="gOrV" x1="0" y1="0" x2="0" y2="1"><stop offset="0" stop-color="#f7941d" stop-opacity="1"/><stop offset="0.45" stop-color="#f7941d" stop-opacity="0.88"/><stop offset="0.75" stop-color="#f3a045" stop-opacity="0.6"/><stop offset="1" stop-color="#f0b070" stop-opacity="0.45"/></linearGradient></defs>
<path d="M68.4 726.9C68.8 729.6 69.7 738.4 70.8 743C71.9 747.6 73.2 751.4 75.1 754.6C77 757.8 79.7 760 82.4 762C85.1 764 87.8 764.8 91.2 766.3C94.6 767.8 99.5 769.2 102.9 770.7C106.3 772.2 108.9 773 111.6 775C114.3 777 116 778.5 118.9 782.4C121.8 786.3 126 793.3 129.2 798.4C132.4 803.5 135.2 808.9 137.9 813C140.6 817.1 143 820.8 145.2 823.2C147.4 825.6 150 826.9 151 827.6" fill="none" stroke="url(#gOrV)" stroke-width="4.8"/>
<path d="M69.3 840.7C69.8 843.2 70.7 851.2 72.2 855.9C73.7 860.6 75.7 865.6 78.1 869C80.5 872.4 83.1 873.9 86.8 876.3C90.5 878.7 95.6 881.4 100 883.6C104.4 885.8 109.2 887.3 113.1 889.5C117 891.7 119.9 893.6 123.3 896.8C126.7 899.9 130.1 904.3 133.5 908.4C136.9 912.5 140.2 917.8 143.8 921.6C147.4 925.4 153.1 929.4 155 931" fill="none" stroke="url(#gOrV)" stroke-width="4.8"/>
<path d="M70.2 931.7C70.8 934.6 71.9 944.1 73.7 949.2C75.5 954.3 78.1 958.6 81 962.3C83.9 965.9 87.1 968.9 91.2 971.1C95.3 973.3 101.2 974 105.8 975.5C110.4 977 115.2 977.7 118.9 979.9C122.6 982.1 124.5 985 127.7 988.6C130.9 992.2 134.5 996.7 137.9 1001.8C141.3 1006.9 144.9 1014.4 148.1 1019.3C151.3 1024.2 154.8 1028.4 156.9 1031C159.1 1033.6 160.3 1034.3 161 1035" fill="none" stroke="url(#gOrV)" stroke-width="4.8"/>
<path d="M73.1 1045.7C73.7 1047.8 75 1053.8 76.6 1058C78.1 1062.2 80 1067.2 82.4 1071.1C84.8 1075 87.8 1078.4 91.2 1081.3C94.6 1084.2 98.5 1086.6 102.9 1088.6C107.3 1090.5 113.6 1091.3 117.5 1093C121.4 1094.7 123.3 1095.4 126.2 1098.8C129.1 1102.2 132.1 1108.5 135 1113.4C137.9 1118.3 140.9 1123.1 143.8 1128C146.7 1132.9 149.8 1138.7 152.5 1142.6C155.2 1146.5 158.6 1149.9 159.8 1151.4" fill="none" stroke="url(#gOrV)" stroke-width="4.8"/>
</g>
<path d="M150.5 1139.5L155 1145.5L159.8 1151.4" fill="none" stroke="#f5a850" stroke-opacity="0.35" stroke-width="4.5"/>
<path d="M67.4 710.1V1141H465" fill="none" stroke="#1a1a1a" stroke-width="1.3"/>
<path d="M67.4 710.1H465V1141" fill="none" stroke="#444" stroke-width="1.2"/>
<line x1="67.4" y1="710.1" x2="71.9" y2="710.1" stroke="#1a1a1a" stroke-width="1.2"/>
<line x1="67.4" y1="817.8" x2="71.9" y2="817.8" stroke="#1a1a1a" stroke-width="1.2"/>
<line x1="67.4" y1="925.5" x2="71.9" y2="925.5" stroke="#1a1a1a" stroke-width="1.2"/>
<line x1="67.4" y1="1033.2" x2="71.9" y2="1033.2" stroke="#1a1a1a" stroke-width="1.2"/>
<line x1="166.8" y1="1141" x2="166.8" y2="1136.5" stroke="#1a1a1a" stroke-width="1.2"/>
<line x1="266.2" y1="1141" x2="266.2" y2="1136.5" stroke="#1a1a1a" stroke-width="1.2"/>
<line x1="365.6" y1="1141" x2="365.6" y2="1136.5" stroke="#1a1a1a" stroke-width="1.2"/>
<text x="41.26" y="716.30" font-size="15.00" textLength="18.53" lengthAdjust="spacingAndGlyphs" fill="#1a1a1a">2π</text>
<text x="26.45" y="822.85" font-size="14.93" textLength="33.87" lengthAdjust="spacingAndGlyphs" fill="#1a1a1a">3π/2</text>
<text x="49.52" y="929.57" font-size="13.15" textLength="10.04" lengthAdjust="spacingAndGlyphs" fill="#1a1a1a">π</text>
<text x="34.63" y="1038.20" font-size="15.14" textLength="25.59" lengthAdjust="spacingAndGlyphs" fill="#1a1a1a">π/2</text>
<text x="49.58" y="1145.05" font-size="14.93" textLength="9.96" lengthAdjust="spacingAndGlyphs" fill="#1a1a1a">0</text>
<text x="61.25" y="1160.15" font-size="15.07" textLength="10.43" lengthAdjust="spacingAndGlyphs" fill="#1a1a1a">0</text>
<text x="152.44" y="1160.15" font-size="15.07" textLength="28.83" lengthAdjust="spacingAndGlyphs" fill="#1a1a1a">200</text>
<text x="251.65" y="1160.15" font-size="15.07" textLength="29.43" lengthAdjust="spacingAndGlyphs" fill="#1a1a1a">400</text>
<text x="349.67" y="1160.15" font-size="15.07" textLength="30.94" lengthAdjust="spacingAndGlyphs" fill="#1a1a1a">600</text>
<text x="450.21" y="1160.15" font-size="15.07" textLength="29.48" lengthAdjust="spacingAndGlyphs" fill="#1a1a1a">800</text>
<text x="242.21" y="1183.96" font-size="17.33" textLength="49.03" lengthAdjust="spacingAndGlyphs" fill="#1a1a1a"><tspan font-style="italic">t</tspan> (ms)</text>
<text transform="translate(14.8 964.0) rotate(-90)" font-size="18" fill="#1a1a1a" textLength="70.7" lengthAdjust="spacingAndGlyphs"><tspan font-style="italic">ϕ</tspan><tspan font-size="13" dy="5">rot</tspan><tspan dy="-5"> (rad)</tspan></text>
<defs><clipPath id="clipC1"><rect x="474.5" y="712" width="156.3" height="155.5"/></clipPath><filter id="bl3" x="-50%" y="-50%" width="200%" height="200%"><feGaussianBlur stdDeviation="4"/></filter><filter id="bl6" x="-50%" y="-50%" width="200%" height="200%"><feGaussianBlur stdDeviation="7"/></filter><filter id="bl1" x="-50%" y="-50%" width="200%" height="200%"><feGaussianBlur stdDeviation="1.8"/></filter><filter id="bl05" x="-50%" y="-50%" width="200%" height="200%"><feGaussianBlur stdDeviation="0.7"/></filter><radialGradient id="rgR"><stop offset="0" stop-color="#67001f"/><stop offset="0.45" stop-color="#a0112a"/><stop offset="0.78" stop-color="#c83a3a"/><stop offset="0.93" stop-color="#ea8c72"/><stop offset="1" stop-color="#fff"/></radialGradient><radialGradient id="rgR2"><stop offset="0" stop-color="#b0202f"/><stop offset="0.55" stop-color="#cc4a42"/><stop offset="0.88" stop-color="#ee9878"/><stop offset="1" stop-color="#fff"/></radialGradient></defs>
<g clip-path="url(#clipC1)">
<rect x="474.5" y="712" width="156.3" height="155.5" fill="#8a8a8a"/>
<ellipse cx="553" cy="790" rx="62" ry="70" fill="#9a9a9a" filter="url(#bl6)"/>
<ellipse cx="503.4" cy="775.4" rx="7" ry="26" fill="#c8c8c8" filter="url(#bl3)"/>
<ellipse cx="601" cy="790" rx="7" ry="26" fill="#c8c8c8" filter="url(#bl3)"/>
<ellipse cx="553" cy="790" rx="40" ry="55" fill="none" stroke="#a8a8a8" stroke-width="6" filter="url(#bl3)"/>
<ellipse cx="539.5" cy="768" rx="8.4" ry="24.6" fill="#fff" filter="url(#bl1)"/>
<ellipse cx="539.5" cy="768" rx="5.8" ry="21.8" fill="url(#rgR)" filter="url(#bl05)"/>
<ellipse cx="577.5" cy="763.5" rx="8.8" ry="21.1" fill="#fff" filter="url(#bl1)"/>
<ellipse cx="577.5" cy="763.5" rx="6.199999999999999" ry="18.3" fill="url(#rgR2)" filter="url(#bl05)"/>
<ellipse cx="530.8" cy="809" rx="9.4" ry="25.6" fill="#fff" filter="url(#bl1)"/>
<ellipse cx="530.8" cy="809" rx="6.8" ry="22.8" fill="url(#rgR)" filter="url(#bl05)"/>
<ellipse cx="569.5" cy="806" rx="9.600000000000001" ry="24.6" fill="#fff" filter="url(#bl1)"/>
<ellipse cx="569.5" cy="806" rx="7.0" ry="21.8" fill="url(#rgR)" filter="url(#bl05)"/>
</g>
<rect x="474.5" y="712" width="156.3" height="155.5" fill="none" stroke="#333" stroke-width="1.2"/>
<line x1="492.9" y1="867.5" x2="492.9" y2="862.0" stroke="#222" stroke-width="1.1"/>
<line x1="553.1" y1="867.5" x2="553.1" y2="862.0" stroke="#222" stroke-width="1.1"/>
<line x1="622.5" y1="867.5" x2="622.5" y2="862.0" stroke="#222" stroke-width="1.1"/>
<line x1="553.1" y1="712" x2="553.1" y2="867" stroke="#111" stroke-width="1.6" stroke-dasharray="6.5 3.6"/>
<line x1="553.1" y1="791.8" x2="623.7" y2="714.7" stroke="#000" stroke-width="3" stroke-dasharray="8.5 4.5"/>
<path d="M554.6 742A31 31 0 0 1 586.1 756.2" fill="none" stroke="#000" stroke-width="1.5"/>
<text x="565.07" y="734.04" font-size="15.51" textLength="9.89" lengthAdjust="spacingAndGlyphs" fill="#000" font-style="italic">ϕ</text>
<text x="576.42" y="737.78" font-size="11.82" textLength="17.59" lengthAdjust="spacingAndGlyphs" fill="#111">rot</text>
<text x="597.15" y="850.91" font-size="18.73" fill="#fff">c</text>
<text x="606.62" y="855.70" font-size="13.04" fill="#fff">1</text>
<rect x="474.5" y="880.2" width="157.5" height="127.3" fill="#fff"/>
<rect x="474.5" y="880.2" width="3.9" height="0.5" fill="#fffdf9"/><rect x="478.1" y="880.2" width="10.3" height="0.5" fill="#fffdfa"/><rect x="488.1" y="880.2" width="10.3" height="0.5" fill="#fffcf8"/><rect x="498.2" y="880.2" width="10.3" height="0.5" fill="#fffbf5"/><rect x="508.2" y="880.2" width="10.3" height="0.5" fill="#fffdfb"/><rect x="518.3" y="880.2" width="10.3" height="0.5" fill="#fffbf4"/><rect x="528.3" y="880.2" width="10.3" height="0.5" fill="#fffcf7"/><rect x="538.3" y="880.2" width="10.3" height="0.5" fill="#fffcf8"/><rect x="548.4" y="880.2" width="10.3" height="0.5" fill="#fffaf3"/><rect x="558.4" y="880.2" width="10.3" height="0.5" fill="#fffbf6"/><rect x="568.5" y="880.2" width="10.3" height="0.5" fill="#fffcf8"/><rect x="578.5" y="880.2" width="10.3" height="0.5" fill="#fffbf6"/><rect x="588.5" y="880.2" width="10.3" height="0.5" fill="#fffbf4"/><rect x="598.6" y="880.2" width="10.3" height="0.5" fill="#fffdfb"/><rect x="608.6" y="880.2" width="10.3" height="0.5" fill="#fffaf1"/><rect x="618.7" y="880.2" width="10.3" height="0.5" fill="#fffdfb"/><rect x="628.7" y="880.2" width="3.6" height="0.5" fill="#fffaf3"/><rect x="474.5" y="880.4" width="3.9" height="8.8" fill="#fffbf5"/><rect x="478.1" y="880.4" width="10.3" height="8.8" fill="#fffdfb"/><rect x="488.1" y="880.4" width="10.3" height="8.8" fill="#fffdfb"/><rect x="498.2" y="880.4" width="10.3" height="8.8" fill="#fffdf9"/><rect x="508.2" y="880.4" width="10.3" height="8.8" fill="#fffaf1"/><rect x="518.3" y="880.4" width="10.3" height="8.8" fill="#fffdf9"/><rect x="528.3" y="880.4" width="10.3" height="8.8" fill="#fffaf3"/><rect x="538.3" y="880.4" width="10.3" height="8.8" fill="#fffaf2"/><rect x="548.4" y="880.4" width="10.3" height="8.8" fill="#ffeed5"/><rect x="558.4" y="880.4" width="10.3" height="8.8" fill="#ffdda9"/><rect x="568.5" y="880.4" width="10.3" height="8.8" fill="#ffe2b6"/><rect x="578.5" y="880.4" width="10.3" height="8.8" fill="#ffeed5"/><rect x="588.5" y="880.4" width="10.3" height="8.8" fill="#fff5e6"/><rect x="598.6" y="880.4" width="10.3" height="8.8" fill="#fff5e6"/><rect x="608.6" y="880.4" width="10.3" height="8.8" fill="#fffaf3"/><rect x="618.7" y="880.4" width="10.3" height="8.8" fill="#fffaf3"/><rect x="628.7" y="880.4" width="3.6" height="8.8" fill="#fffaf2"/><rect x="474.5" y="889" width="3.9" height="8.8" fill="#fffbf5"/><rect x="478.1" y="889" width="10.3" height="8.8" fill="#fffaf2"/><rect x="488.1" y="889" width="10.3" height="8.8" fill="#fffcf7"/><rect x="498.2" y="889" width="10.3" height="8.8" fill="#fffaf2"/><rect x="508.2" y="889" width="10.3" height="8.8" fill="#fffbf5"/><rect x="518.3" y="889" width="10.3" height="8.8" fill="#fffcf8"/><rect x="528.3" y="889" width="10.3" height="8.8" fill="#fffcf8"/><rect x="538.3" y="889" width="10.3" height="8.8" fill="#fff5e6"/><rect x="548.4" y="889" width="10.3" height="8.8" fill="#ffeed5"/><rect x="558.4" y="889" width="10.3" height="8.8" fill="#ffe8c5"/><rect x="568.5" y="889" width="10.3" height="8.8" fill="#fff5e6"/><rect x="578.5" y="889" width="10.3" height="8.8" fill="#fffaf1"/><rect x="588.5" y="889" width="10.3" height="8.8" fill="#fffdf9"/><rect x="598.6" y="889" width="10.3" height="8.8" fill="#fffdfb"/><rect x="608.6" y="889" width="10.3" height="8.8" fill="#fffaf1"/><rect x="618.7" y="889" width="10.3" height="8.8" fill="#fffbf5"/><rect x="628.7" y="889" width="3.6" height="8.8" fill="#fffcf7"/><rect x="474.5" y="897.5" width="3.9" height="8.8" fill="#fffcf7"/><rect x="478.1" y="897.5" width="10.3" height="8.8" fill="#fffdfb"/><rect x="488.1" y="897.5" width="10.3" height="8.8" fill="#fffaf2"/><rect x="498.2" y="897.5" width="10.3" height="8.8" fill="#fffdfb"/><rect x="508.2" y="897.5" width="10.3" height="8.8" fill="#fffbf6"/><rect x="518.3" y="897.5" width="10.3" height="8.8" fill="#fffaf3"/><rect x="528.3" y="897.5" width="10.3" height="8.8" fill="#fffdfa"/><rect x="538.3" y="897.5" width="10.3" height="8.8" fill="#fffaf4"/><rect x="548.4" y="897.5" width="10.3" height="8.8" fill="#ffeed5"/><rect x="558.4" y="897.5" width="10.3" height="8.8" fill="#ffd28f"/><rect x="568.5" y="897.5" width="10.3" height="8.8" fill="#ffeed5"/><rect x="578.5" y="897.5" width="10.3" height="8.8" fill="#fffdfa"/><rect x="588.5" y="897.5" width="10.3" height="8.8" fill="#fffcf6"/><rect x="598.6" y="897.5" width="10.3" height="8.8" fill="#fffdf9"/><rect x="608.6" y="897.5" width="10.3" height="8.8" fill="#fffaf2"/><rect x="618.7" y="897.5" width="10.3" height="8.8" fill="#fffcf8"/><rect x="628.7" y="897.5" width="3.6" height="8.8" fill="#fffcf6"/><rect x="474.5" y="906" width="3.9" height="8.8" fill="#fffbf6"/><rect x="478.1" y="906" width="10.3" height="8.8" fill="#fffaf4"/><rect x="488.1" y="906" width="10.3" height="8.8" fill="#fffbf6"/><rect x="498.2" y="906" width="10.3" height="8.8" fill="#fffcf8"/><rect x="508.2" y="906" width="10.3" height="8.8" fill="#fffcf7"/><rect x="518.3" y="906" width="10.3" height="8.8" fill="#fff5e6"/><rect x="528.3" y="906" width="10.3" height="8.8" fill="#ffeed5"/><rect x="538.3" y="906" width="10.3" height="8.8" fill="#ffe2b6"/><rect x="548.4" y="906" width="10.3" height="8.8" fill="#ffd28f"/><rect x="558.4" y="906" width="10.3" height="8.8" fill="#000"/><rect x="568.5" y="906" width="10.3" height="8.8" fill="#ffd89b"/><rect x="578.5" y="906" width="10.3" height="8.8" fill="#ffeed5"/><rect x="588.5" y="906" width="10.3" height="8.8" fill="#ffeed5"/><rect x="598.6" y="906" width="10.3" height="8.8" fill="#fff5e6"/><rect x="608.6" y="906" width="10.3" height="8.8" fill="#fff5e6"/><rect x="618.7" y="906" width="10.3" height="8.8" fill="#fffaf2"/><rect x="628.7" y="906" width="3.6" height="8.8" fill="#fffcf7"/><rect x="474.5" y="914.5" width="3.9" height="8.8" fill="#fffaf3"/><rect x="478.1" y="914.5" width="10.3" height="8.8" fill="#fffcf7"/><rect x="488.1" y="914.5" width="10.3" height="8.8" fill="#fffbf4"/><rect x="498.2" y="914.5" width="10.3" height="8.8" fill="#fffcf8"/><rect x="508.2" y="914.5" width="10.3" height="8.8" fill="#fffbf6"/><rect x="518.3" y="914.5" width="10.3" height="8.8" fill="#fffaf3"/><rect x="528.3" y="914.5" width="10.3" height="8.8" fill="#fffbf4"/><rect x="538.3" y="914.5" width="10.3" height="8.8" fill="#fffcf8"/><rect x="548.4" y="914.5" width="10.3" height="8.8" fill="#ffe8c5"/><rect x="558.4" y="914.5" width="10.3" height="8.8" fill="#ffd89b"/><rect x="568.5" y="914.5" width="10.3" height="8.8" fill="#ffeed5"/><rect x="578.5" y="914.5" width="10.3" height="8.8" fill="#fffdfb"/><rect x="588.5" y="914.5" width="10.3" height="8.8" fill="#fffbf5"/><rect x="598.6" y="914.5" width="10.3" height="8.8" fill="#fffcf8"/><rect x="608.6" y="914.5" width="10.3" height="8.8" fill="#fffbf4"/><rect x="618.7" y="914.5" width="10.3" height="8.8" fill="#fffbf6"/><rect x="628.7" y="914.5" width="3.6" height="8.8" fill="#fffaf3"/><rect x="474.5" y="923.1" width="3.9" height="8.8" fill="#fffaf3"/><rect x="478.1" y="923.1" width="10.3" height="8.8" fill="#fffaf3"/><rect x="488.1" y="923.1" width="10.3" height="8.8" fill="#fffcf7"/><rect x="498.2" y="923.1" width="10.3" height="8.8" fill="#fffaf3"/><rect x="508.2" y="923.1" width="10.3" height="8.8" fill="#fffaf2"/><rect x="518.3" y="923.1" width="10.3" height="8.8" fill="#fffbf4"/><rect x="528.3" y="923.1" width="10.3" height="8.8" fill="#fffaf1"/><rect x="538.3" y="923.1" width="10.3" height="8.8" fill="#fffaf1"/><rect x="548.4" y="923.1" width="10.3" height="8.8" fill="#fff5e6"/><rect x="558.4" y="923.1" width="10.3" height="8.8" fill="#fffbf5"/><rect x="568.5" y="923.1" width="10.3" height="8.8" fill="#fffdf9"/><rect x="578.5" y="923.1" width="10.3" height="8.8" fill="#fffaf3"/><rect x="588.5" y="923.1" width="10.3" height="8.8" fill="#fffaf2"/><rect x="598.6" y="923.1" width="10.3" height="8.8" fill="#fffbf6"/><rect x="608.6" y="923.1" width="10.3" height="8.8" fill="#fffbf4"/><rect x="618.7" y="923.1" width="10.3" height="8.8" fill="#fffaf4"/><rect x="628.7" y="923.1" width="3.6" height="8.8" fill="#fffaf4"/><rect x="474.5" y="931.6" width="3.9" height="8.8" fill="#fffcf7"/><rect x="478.1" y="931.6" width="10.3" height="8.8" fill="#fffbf5"/><rect x="488.1" y="931.6" width="10.3" height="8.8" fill="#fffaf3"/><rect x="498.2" y="931.6" width="10.3" height="8.8" fill="#fffbf4"/><rect x="508.2" y="931.6" width="10.3" height="8.8" fill="#fffaf4"/><rect x="518.3" y="931.6" width="10.3" height="8.8" fill="#fffdfb"/><rect x="528.3" y="931.6" width="10.3" height="8.8" fill="#fffdf9"/><rect x="538.3" y="931.6" width="10.3" height="8.8" fill="#fffcf6"/><rect x="548.4" y="931.6" width="10.3" height="8.8" fill="#ffd89b"/><rect x="558.4" y="931.6" width="10.3" height="8.8" fill="#fff5e6"/><rect x="568.5" y="931.6" width="10.3" height="8.8" fill="#fffbf4"/><rect x="578.5" y="931.6" width="10.3" height="8.8" fill="#fffbf4"/><rect x="588.5" y="931.6" width="10.3" height="8.8" fill="#fffdfb"/><rect x="598.6" y="931.6" width="10.3" height="8.8" fill="#fffbf6"/><rect x="608.6" y="931.6" width="10.3" height="8.8" fill="#fffcf9"/><rect x="618.7" y="931.6" width="10.3" height="8.8" fill="#fffdfb"/><rect x="628.7" y="931.6" width="3.6" height="8.8" fill="#fffdfa"/><rect x="474.5" y="940.1" width="3.9" height="8.8" fill="#fffbf6"/><rect x="478.1" y="940.1" width="10.3" height="8.8" fill="#fffcf7"/><rect x="488.1" y="940.1" width="10.3" height="8.8" fill="#fffbf5"/><rect x="498.2" y="940.1" width="10.3" height="8.8" fill="#fffbf5"/><rect x="508.2" y="940.1" width="10.3" height="8.8" fill="#fffcf8"/><rect x="518.3" y="940.1" width="10.3" height="8.8" fill="#fffaf2"/><rect x="528.3" y="940.1" width="10.3" height="8.8" fill="#fffefb"/><rect x="538.3" y="940.1" width="10.3" height="8.8" fill="#ffe8c5"/><rect x="548.4" y="940.1" width="10.3" height="8.8" fill="#000"/><rect x="558.4" y="940.1" width="10.3" height="8.8" fill="#ffe8c5"/><rect x="568.5" y="940.1" width="10.3" height="8.8" fill="#fffdfa"/><rect x="578.5" y="940.1" width="10.3" height="8.8" fill="#fffaf3"/><rect x="588.5" y="940.1" width="10.3" height="8.8" fill="#fffcf7"/><rect x="598.6" y="940.1" width="10.3" height="8.8" fill="#fffdfb"/><rect x="608.6" y="940.1" width="10.3" height="8.8" fill="#fffbf5"/><rect x="618.7" y="940.1" width="10.3" height="8.8" fill="#fffdfa"/><rect x="628.7" y="940.1" width="3.6" height="8.8" fill="#fffbf5"/><rect x="474.5" y="948.7" width="3.9" height="8.8" fill="#fffcf7"/><rect x="478.1" y="948.7" width="10.3" height="8.8" fill="#fffaf3"/><rect x="488.1" y="948.7" width="10.3" height="8.8" fill="#fffbf4"/><rect x="498.2" y="948.7" width="10.3" height="8.8" fill="#fffcf7"/><rect x="508.2" y="948.7" width="10.3" height="8.8" fill="#fffdfa"/><rect x="518.3" y="948.7" width="10.3" height="8.8" fill="#fffbf5"/><rect x="528.3" y="948.7" width="10.3" height="8.8" fill="#fffbf5"/><rect x="538.3" y="948.7" width="10.3" height="8.8" fill="#fff5e6"/><rect x="548.4" y="948.7" width="10.3" height="8.8" fill="#ffd89b"/><rect x="558.4" y="948.7" width="10.3" height="8.8" fill="#fffbf5"/><rect x="568.5" y="948.7" width="10.3" height="8.8" fill="#fffcf7"/><rect x="578.5" y="948.7" width="10.3" height="8.8" fill="#fffaf2"/><rect x="588.5" y="948.7" width="10.3" height="8.8" fill="#fffefb"/><rect x="598.6" y="948.7" width="10.3" height="8.8" fill="#fffdfa"/><rect x="608.6" y="948.7" width="10.3" height="8.8" fill="#fffbf5"/><rect x="618.7" y="948.7" width="10.3" height="8.8" fill="#fffbf5"/><rect x="628.7" y="948.7" width="3.6" height="8.8" fill="#fffdfa"/><rect x="474.5" y="957.2" width="3.9" height="8.8" fill="#fffcf9"/><rect x="478.1" y="957.2" width="10.3" height="8.8" fill="#fffcf8"/><rect x="488.1" y="957.2" width="10.3" height="8.8" fill="#fffaf1"/><rect x="498.2" y="957.2" width="10.3" height="8.8" fill="#fffcf7"/><rect x="508.2" y="957.2" width="10.3" height="8.8" fill="#fffaf1"/><rect x="518.3" y="957.2" width="10.3" height="8.8" fill="#fffaf2"/><rect x="528.3" y="957.2" width="10.3" height="8.8" fill="#fffbf5"/><rect x="538.3" y="957.2" width="10.3" height="8.8" fill="#fff5e6"/><rect x="548.4" y="957.2" width="10.3" height="8.8" fill="#fffaf1"/><rect x="558.4" y="957.2" width="10.3" height="8.8" fill="#fffbf6"/><rect x="568.5" y="957.2" width="10.3" height="8.8" fill="#fffcf7"/><rect x="578.5" y="957.2" width="10.3" height="8.8" fill="#fffcf8"/><rect x="588.5" y="957.2" width="10.3" height="8.8" fill="#fffaf1"/><rect x="598.6" y="957.2" width="10.3" height="8.8" fill="#fffbf6"/><rect x="608.6" y="957.2" width="10.3" height="8.8" fill="#fffcf8"/><rect x="618.7" y="957.2" width="10.3" height="8.8" fill="#fffbf6"/><rect x="628.7" y="957.2" width="3.6" height="8.8" fill="#fffdfa"/><rect x="474.5" y="965.7" width="3.9" height="8.8" fill="#fffaf3"/><rect x="478.1" y="965.7" width="10.3" height="8.8" fill="#fffdfb"/><rect x="488.1" y="965.7" width="10.3" height="8.8" fill="#fffbf5"/><rect x="498.2" y="965.7" width="10.3" height="8.8" fill="#fffcf8"/><rect x="508.2" y="965.7" width="10.3" height="8.8" fill="#fffaf2"/><rect x="518.3" y="965.7" width="10.3" height="8.8" fill="#fffaf3"/><rect x="528.3" y="965.7" width="10.3" height="8.8" fill="#ffeed5"/><rect x="538.3" y="965.7" width="10.3" height="8.8" fill="#ffd89b"/><rect x="548.4" y="965.7" width="10.3" height="8.8" fill="#ffeed5"/><rect x="558.4" y="965.7" width="10.3" height="8.8" fill="#fffaf1"/><rect x="568.5" y="965.7" width="10.3" height="8.8" fill="#fffcf8"/><rect x="578.5" y="965.7" width="10.3" height="8.8" fill="#fffbf5"/><rect x="588.5" y="965.7" width="10.3" height="8.8" fill="#fffbf6"/><rect x="598.6" y="965.7" width="10.3" height="8.8" fill="#fffbf4"/><rect x="608.6" y="965.7" width="10.3" height="8.8" fill="#fffbf5"/><rect x="618.7" y="965.7" width="10.3" height="8.8" fill="#fffaf3"/><rect x="628.7" y="965.7" width="3.6" height="8.8" fill="#fffdfa"/><rect x="474.5" y="974.3" width="3.9" height="8.8" fill="#fffcf8"/><rect x="478.1" y="974.3" width="10.3" height="8.8" fill="#fffbf5"/><rect x="488.1" y="974.3" width="10.3" height="8.8" fill="#fffbf6"/><rect x="498.2" y="974.3" width="10.3" height="8.8" fill="#fff5e6"/><rect x="508.2" y="974.3" width="10.3" height="8.8" fill="#fff5e6"/><rect x="518.3" y="974.3" width="10.3" height="8.8" fill="#fff5e6"/><rect x="528.3" y="974.3" width="10.3" height="8.8" fill="#ffd89b"/><rect x="538.3" y="974.3" width="10.3" height="8.8" fill="#000"/><rect x="548.4" y="974.3" width="10.3" height="8.8" fill="#ffd89b"/><rect x="558.4" y="974.3" width="10.3" height="8.8" fill="#ffeed5"/><rect x="568.5" y="974.3" width="10.3" height="8.8" fill="#fffaf2"/><rect x="578.5" y="974.3" width="10.3" height="8.8" fill="#fffbf5"/><rect x="588.5" y="974.3" width="10.3" height="8.8" fill="#fffdfb"/><rect x="598.6" y="974.3" width="10.3" height="8.8" fill="#fffaf3"/><rect x="608.6" y="974.3" width="10.3" height="8.8" fill="#fffcf6"/><rect x="618.7" y="974.3" width="10.3" height="8.8" fill="#fffbf5"/><rect x="628.7" y="974.3" width="3.6" height="8.8" fill="#fffbf4"/><rect x="474.5" y="982.8" width="3.9" height="8.8" fill="#fffcf7"/><rect x="478.1" y="982.8" width="10.3" height="8.8" fill="#fffaf2"/><rect x="488.1" y="982.8" width="10.3" height="8.8" fill="#fffdf9"/><rect x="498.2" y="982.8" width="10.3" height="8.8" fill="#fffcf8"/><rect x="508.2" y="982.8" width="10.3" height="8.8" fill="#fffaf3"/><rect x="518.3" y="982.8" width="10.3" height="8.8" fill="#fffdfa"/><rect x="528.3" y="982.8" width="10.3" height="8.8" fill="#ffeed5"/><rect x="538.3" y="982.8" width="10.3" height="8.8" fill="#ffd89b"/><rect x="548.4" y="982.8" width="10.3" height="8.8" fill="#fff5e6"/><rect x="558.4" y="982.8" width="10.3" height="8.8" fill="#fffcf8"/><rect x="568.5" y="982.8" width="10.3" height="8.8" fill="#fffaf3"/><rect x="578.5" y="982.8" width="10.3" height="8.8" fill="#fffaf2"/><rect x="588.5" y="982.8" width="10.3" height="8.8" fill="#fffdfa"/><rect x="598.6" y="982.8" width="10.3" height="8.8" fill="#fffbf6"/><rect x="608.6" y="982.8" width="10.3" height="8.8" fill="#fffbf5"/><rect x="618.7" y="982.8" width="10.3" height="8.8" fill="#fffbf6"/><rect x="628.7" y="982.8" width="3.6" height="8.8" fill="#fffcf7"/><rect x="474.5" y="991.3" width="3.9" height="8.8" fill="#fffcf9"/><rect x="478.1" y="991.3" width="10.3" height="8.8" fill="#fffaf3"/><rect x="488.1" y="991.3" width="10.3" height="8.8" fill="#fffaf3"/><rect x="498.2" y="991.3" width="10.3" height="8.8" fill="#fffbf4"/><rect x="508.2" y="991.3" width="10.3" height="8.8" fill="#fffdfb"/><rect x="518.3" y="991.3" width="10.3" height="8.8" fill="#fffaf4"/><rect x="528.3" y="991.3" width="10.3" height="8.8" fill="#ffeed5"/><rect x="538.3" y="991.3" width="10.3" height="8.8" fill="#ffeed5"/><rect x="548.4" y="991.3" width="10.3" height="8.8" fill="#fffbf4"/><rect x="558.4" y="991.3" width="10.3" height="8.8" fill="#fffdfb"/><rect x="568.5" y="991.3" width="10.3" height="8.8" fill="#fffaf3"/><rect x="578.5" y="991.3" width="10.3" height="8.8" fill="#fffcf9"/><rect x="588.5" y="991.3" width="10.3" height="8.8" fill="#fffbf4"/><rect x="598.6" y="991.3" width="10.3" height="8.8" fill="#fffaf2"/><rect x="608.6" y="991.3" width="10.3" height="8.8" fill="#fffbf4"/><rect x="618.7" y="991.3" width="10.3" height="8.8" fill="#fffdfa"/><rect x="628.7" y="991.3" width="3.6" height="8.8" fill="#fffcf8"/><rect x="474.5" y="999.8" width="3.9" height="8" fill="#fffdf9"/><rect x="478.1" y="999.8" width="10.3" height="8" fill="#fffbf5"/><rect x="488.1" y="999.8" width="10.3" height="8" fill="#fffdfb"/><rect x="498.2" y="999.8" width="10.3" height="8" fill="#fffdfa"/><rect x="508.2" y="999.8" width="10.3" height="8" fill="#ffeed5"/><rect x="518.3" y="999.8" width="10.3" height="8" fill="#ffe8c5"/><rect x="528.3" y="999.8" width="10.3" height="8" fill="#ffe8c5"/><rect x="538.3" y="999.8" width="10.3" height="8" fill="#ffdda9"/><rect x="548.4" y="999.8" width="10.3" height="8" fill="#ffeed5"/><rect x="558.4" y="999.8" width="10.3" height="8" fill="#fffaf2"/><rect x="568.5" y="999.8" width="10.3" height="8" fill="#fffdfa"/><rect x="578.5" y="999.8" width="10.3" height="8" fill="#fffcf6"/><rect x="588.5" y="999.8" width="10.3" height="8" fill="#fffcf8"/><rect x="598.6" y="999.8" width="10.3" height="8" fill="#fffbf5"/><rect x="608.6" y="999.8" width="10.3" height="8" fill="#fffbf6"/><rect x="618.7" y="999.8" width="10.3" height="8" fill="#fffaf2"/><rect x="628.7" y="999.8" width="3.6" height="8" fill="#fffcf7"/>
<rect x="474.5" y="880.2" width="157.5" height="127.3" fill="none" stroke="#555" stroke-width="1.3"/>
<line x1="517.1" y1="1007.5" x2="517.1" y2="1001.5" stroke="#333" stroke-width="1.1"/>
<line x1="553.4" y1="1007.5" x2="553.4" y2="1001.5" stroke="#333" stroke-width="1.1"/>
<line x1="600" y1="1007.5" x2="600" y2="1001.5" stroke="#333" stroke-width="1.1"/>
<line x1="632" y1="890.7" x2="626" y2="890.7" stroke="#333" stroke-width="1.1"/>
<line x1="632" y1="944.4" x2="626" y2="944.4" stroke="#333" stroke-width="1.1"/>
<line x1="632" y1="997" x2="626" y2="997" stroke="#333" stroke-width="1.1"/>
<defs><linearGradient id="cbO2" x1="0" y1="1" x2="0" y2="0"><stop offset="0" stop-color="#fff"/><stop offset="1" stop-color="#ff9a00"/></linearGradient></defs>
<rect x="486.1" y="898" width="14.5" height="60" fill="url(#cbO2)"/>
<rect x="486.1" y="892" width="14.5" height="6" fill="#000"/>
<rect x="486.1" y="892" width="14.5" height="66" fill="none" stroke="#222" stroke-width="1.2"/>
<line x1="500.6" y1="928" x2="494.6" y2="928" stroke="#444" stroke-width="1.1"/>
<text x="507.39" y="897.00" font-size="15.80" textLength="28.01" lengthAdjust="spacingAndGlyphs" fill="#1a1a1a">&gt;1.0</text>
<text x="507.23" y="932.75" font-size="15.21" textLength="23.35" lengthAdjust="spacingAndGlyphs" fill="#1a1a1a">0.5</text>
<text x="507.14" y="962.75" font-size="15.21" textLength="10.54" lengthAdjust="spacingAndGlyphs" fill="#1a1a1a">0</text>
<text x="597.17" y="989.72" font-size="18.18" fill="#1a1a1a">c</text>
<text x="606.86" y="994.80" font-size="12.86" fill="#1a1a1a">2</text>
<text x="640.59" y="895.80" font-size="15.65" textLength="6.01" lengthAdjust="spacingAndGlyphs" fill="#1a1a1a">1</text>
<text x="641.23" y="949.34" font-size="15.63" textLength="10.66" lengthAdjust="spacingAndGlyphs" fill="#1a1a1a">0</text>
<text x="641.00" y="1002.90" font-size="15.22" textLength="13.75" lengthAdjust="spacingAndGlyphs" fill="#1a1a1a">−1</text>
<text transform="translate(666.5 913.8) rotate(90)" font-size="18.5" fill="#1a1a1a" textLength="59.4" lengthAdjust="spacingAndGlyphs"><tspan font-style="italic">k</tspan><tspan font-style="italic" font-size="12" dy="4">ϕ</tspan><tspan dy="-4"> rad</tspan><tspan font-size="12" dy="-7">−1</tspan></text>
<rect x="474.5" y="1012.6" width="157.5" height="128.4" fill="#fff"/>
<rect x="478" y="1012.6" width="10.3" height="8.8" fill="#fbfdfd"/><rect x="488" y="1012.6" width="10.3" height="8.8" fill="#fafdfd"/><rect x="498.1" y="1012.6" width="10.3" height="8.8" fill="#fcfdfd"/><rect x="508.1" y="1012.6" width="10.3" height="8.8" fill="#fafdfd"/><rect x="528.2" y="1012.6" width="10.3" height="8.8" fill="#f9fcfc"/><rect x="538.2" y="1012.6" width="10.3" height="8.8" fill="#edf6f6"/><rect x="548.3" y="1012.6" width="10.3" height="8.8" fill="#a0d1d1"/><rect x="558.3" y="1012.6" width="10.3" height="8.8" fill="#eff7f7"/><rect x="568.4" y="1012.6" width="10.3" height="8.8" fill="#fcfdfd"/><rect x="588.4" y="1012.6" width="10.3" height="8.8" fill="#fbfdfd"/><rect x="618.6" y="1012.6" width="10.3" height="8.8" fill="#f9fcfc"/><rect x="628.6" y="1012.6" width="3.7" height="8.8" fill="#fafcfc"/><rect x="474.5" y="1021.1" width="3.8" height="8.8" fill="#f9fcfc"/><rect x="478" y="1021.1" width="10.3" height="8.8" fill="#fafdfd"/><rect x="488" y="1021.1" width="10.3" height="8.8" fill="#fcfdfd"/><rect x="498.1" y="1021.1" width="10.3" height="8.8" fill="#fbfdfd"/><rect x="508.1" y="1021.1" width="10.3" height="8.8" fill="#fbfdfd"/><rect x="528.2" y="1021.1" width="10.3" height="8.8" fill="#f8fcfc"/><rect x="538.2" y="1021.1" width="10.3" height="8.8" fill="#edf6f6"/><rect x="548.3" y="1021.1" width="10.3" height="8.8" fill="#acd7d7"/><rect x="558.3" y="1021.1" width="10.3" height="8.8" fill="#eff7f7"/><rect x="568.4" y="1021.1" width="10.3" height="8.8" fill="#fbfdfd"/><rect x="578.4" y="1021.1" width="10.3" height="8.8" fill="#f9fcfc"/><rect x="598.5" y="1021.1" width="10.3" height="8.8" fill="#f9fcfc"/><rect x="608.5" y="1021.1" width="10.3" height="8.8" fill="#f9fcfc"/><rect x="618.6" y="1021.1" width="10.3" height="8.8" fill="#fafdfd"/><rect x="628.6" y="1021.1" width="3.7" height="8.8" fill="#f9fcfc"/><rect x="474.5" y="1029.6" width="3.8" height="8.8" fill="#fbfdfd"/><rect x="478" y="1029.6" width="10.3" height="8.8" fill="#fafcfc"/><rect x="488" y="1029.6" width="10.3" height="8.8" fill="#fbfdfd"/><rect x="508.1" y="1029.6" width="10.3" height="8.8" fill="#fafcfc"/><rect x="528.2" y="1029.6" width="10.3" height="8.8" fill="#fbfdfd"/><rect x="538.2" y="1029.6" width="10.3" height="8.8" fill="#edf6f6"/><rect x="548.3" y="1029.6" width="10.3" height="8.8" fill="#5bb0b0"/><rect x="558.3" y="1029.6" width="10.3" height="8.8" fill="#eff7f7"/><rect x="578.4" y="1029.6" width="10.3" height="8.8" fill="#fafdfd"/><rect x="588.4" y="1029.6" width="10.3" height="8.8" fill="#fbfdfd"/><rect x="608.5" y="1029.6" width="10.3" height="8.8" fill="#fbfdfd"/><rect x="618.6" y="1029.6" width="10.3" height="8.8" fill="#f9fcfc"/><rect x="474.5" y="1038.1" width="3.8" height="8.8" fill="#fbfdfd"/><rect x="478" y="1038.1" width="10.3" height="8.8" fill="#fbfdfd"/><rect x="498.1" y="1038.1" width="10.3" height="8.8" fill="#fbfdfd"/><rect x="508.1" y="1038.1" width="10.3" height="8.8" fill="#fcfdfd"/><rect x="518.2" y="1038.1" width="10.3" height="8.8" fill="#f9fcfc"/><rect x="528.2" y="1038.1" width="10.3" height="8.8" fill="#fcfdfd"/><rect x="538.2" y="1038.1" width="10.3" height="8.8" fill="#d7ebeb"/><rect x="548.3" y="1038.1" width="10.3" height="8.8" fill="#000"/><rect x="558.3" y="1038.1" width="10.3" height="8.8" fill="#d7ebeb"/><rect x="568.4" y="1038.1" width="10.3" height="8.8" fill="#fbfdfd"/><rect x="578.4" y="1038.1" width="10.3" height="8.8" fill="#fafdfd"/><rect x="588.4" y="1038.1" width="10.3" height="8.8" fill="#fcfdfd"/><rect x="598.5" y="1038.1" width="10.3" height="8.8" fill="#fbfdfd"/><rect x="608.5" y="1038.1" width="10.3" height="8.8" fill="#fbfdfd"/><rect x="618.6" y="1038.1" width="10.3" height="8.8" fill="#f9fcfc"/><rect x="628.6" y="1038.1" width="3.7" height="8.8" fill="#f9fcfc"/><rect x="478" y="1046.6" width="10.3" height="8.8" fill="#f9fcfc"/><rect x="498.1" y="1046.6" width="10.3" height="8.8" fill="#fafcfc"/><rect x="508.1" y="1046.6" width="10.3" height="8.8" fill="#fbfdfd"/><rect x="518.2" y="1046.6" width="10.3" height="8.8" fill="#f9fcfc"/><rect x="528.2" y="1046.6" width="10.3" height="8.8" fill="#f9fcfc"/><rect x="538.2" y="1046.6" width="10.3" height="8.8" fill="#edf6f6"/><rect x="548.3" y="1046.6" width="10.3" height="8.8" fill="#93cbcb"/><rect x="558.3" y="1046.6" width="10.3" height="8.8" fill="#eff7f7"/><rect x="568.4" y="1046.6" width="10.3" height="8.8" fill="#fafdfd"/><rect x="578.4" y="1046.6" width="10.3" height="8.8" fill="#fbfdfd"/><rect x="588.4" y="1046.6" width="10.3" height="8.8" fill="#f9fcfc"/><rect x="598.5" y="1046.6" width="10.3" height="8.8" fill="#f9fcfc"/><rect x="608.5" y="1046.6" width="10.3" height="8.8" fill="#fbfdfd"/><rect x="618.6" y="1046.6" width="10.3" height="8.8" fill="#fbfdfd"/><rect x="478" y="1055.2" width="10.3" height="8.8" fill="#fafdfd"/><rect x="508.1" y="1055.2" width="10.3" height="8.8" fill="#fafdfd"/><rect x="518.2" y="1055.2" width="10.3" height="8.8" fill="#fbfdfd"/><rect x="528.2" y="1055.2" width="10.3" height="8.8" fill="#f9fcfc"/><rect x="538.2" y="1055.2" width="10.3" height="8.8" fill="#edf6f6"/><rect x="548.3" y="1055.2" width="10.3" height="8.8" fill="#c7e4e4"/><rect x="558.3" y="1055.2" width="10.3" height="8.8" fill="#eff7f7"/><rect x="568.4" y="1055.2" width="10.3" height="8.8" fill="#f9fcfc"/><rect x="588.4" y="1055.2" width="10.3" height="8.8" fill="#fafdfd"/><rect x="598.5" y="1055.2" width="10.3" height="8.8" fill="#f9fcfc"/><rect x="608.5" y="1055.2" width="10.3" height="8.8" fill="#f9fcfc"/><rect x="618.6" y="1055.2" width="10.3" height="8.8" fill="#f9fcfc"/><rect x="628.6" y="1055.2" width="3.7" height="8.8" fill="#fbfdfd"/><rect x="474.5" y="1063.7" width="3.8" height="8.8" fill="#f9fcfc"/><rect x="478" y="1063.7" width="10.3" height="8.8" fill="#fbfdfd"/><rect x="488" y="1063.7" width="10.3" height="8.8" fill="#f9fcfc"/><rect x="498.1" y="1063.7" width="10.3" height="8.8" fill="#fbfdfd"/><rect x="518.2" y="1063.7" width="10.3" height="8.8" fill="#fafcfc"/><rect x="538.2" y="1063.7" width="10.3" height="8.8" fill="#edf6f6"/><rect x="548.3" y="1063.7" width="10.3" height="8.8" fill="#93cbcb"/><rect x="558.3" y="1063.7" width="10.3" height="8.8" fill="#eff7f7"/><rect x="568.4" y="1063.7" width="10.3" height="8.8" fill="#f9fcfc"/><rect x="588.4" y="1063.7" width="10.3" height="8.8" fill="#f9fcfc"/><rect x="608.5" y="1063.7" width="10.3" height="8.8" fill="#f9fcfc"/><rect x="618.6" y="1063.7" width="10.3" height="8.8" fill="#fbfdfd"/><rect x="628.6" y="1063.7" width="3.7" height="8.8" fill="#f9fcfc"/><rect x="474.5" y="1072.2" width="3.8" height="8.8" fill="#fbfdfd"/><rect x="498.1" y="1072.2" width="10.3" height="8.8" fill="#fbfdfd"/><rect x="518.2" y="1072.2" width="10.3" height="8.8" fill="#f9fcfc"/><rect x="528.2" y="1072.2" width="10.3" height="8.8" fill="#f9fcfc"/><rect x="538.2" y="1072.2" width="10.3" height="8.8" fill="#d7ebeb"/><rect x="548.3" y="1072.2" width="10.3" height="8.8" fill="#000"/><rect x="558.3" y="1072.2" width="10.3" height="8.8" fill="#d7ebeb"/><rect x="578.4" y="1072.2" width="10.3" height="8.8" fill="#fafcfc"/><rect x="598.5" y="1072.2" width="10.3" height="8.8" fill="#fafdfd"/><rect x="608.5" y="1072.2" width="10.3" height="8.8" fill="#fbfdfd"/><rect x="618.6" y="1072.2" width="10.3" height="8.8" fill="#fbfdfd"/><rect x="498.1" y="1080.8" width="10.3" height="8.8" fill="#fafdfd"/><rect x="508.1" y="1080.8" width="10.3" height="8.8" fill="#fbfdfd"/><rect x="538.2" y="1080.8" width="10.3" height="8.8" fill="#edf6f6"/><rect x="548.3" y="1080.8" width="10.3" height="8.8" fill="#7cc0c0"/><rect x="558.3" y="1080.8" width="10.3" height="8.8" fill="#eff7f7"/><rect x="578.4" y="1080.8" width="10.3" height="8.8" fill="#fcfdfd"/><rect x="598.5" y="1080.8" width="10.3" height="8.8" fill="#fafdfd"/><rect x="608.5" y="1080.8" width="10.3" height="8.8" fill="#f9fcfc"/><rect x="618.6" y="1080.8" width="10.3" height="8.8" fill="#fafdfd"/><rect x="474.5" y="1089.3" width="3.8" height="8.8" fill="#f9fcfc"/><rect x="478" y="1089.3" width="10.3" height="8.8" fill="#fafdfd"/><rect x="488" y="1089.3" width="10.3" height="8.8" fill="#fafdfd"/><rect x="498.1" y="1089.3" width="10.3" height="8.8" fill="#fafcfc"/><rect x="508.1" y="1089.3" width="10.3" height="8.8" fill="#fafdfd"/><rect x="518.2" y="1089.3" width="10.3" height="8.8" fill="#f9fcfc"/><rect x="528.2" y="1089.3" width="10.3" height="8.8" fill="#fbfdfd"/><rect x="538.2" y="1089.3" width="10.3" height="8.8" fill="#edf6f6"/><rect x="548.3" y="1089.3" width="10.3" height="8.8" fill="#acd7d7"/><rect x="558.3" y="1089.3" width="10.3" height="8.8" fill="#eff7f7"/><rect x="568.4" y="1089.3" width="10.3" height="8.8" fill="#fafdfd"/><rect x="578.4" y="1089.3" width="10.3" height="8.8" fill="#fbfdfd"/><rect x="608.5" y="1089.3" width="10.3" height="8.8" fill="#fafcfc"/><rect x="628.6" y="1089.3" width="3.7" height="8.8" fill="#fafcfc"/><rect x="474.5" y="1097.8" width="3.8" height="8.8" fill="#f9fcfc"/><rect x="488" y="1097.8" width="10.3" height="8.8" fill="#fafdfd"/><rect x="498.1" y="1097.8" width="10.3" height="8.8" fill="#f9fcfc"/><rect x="508.1" y="1097.8" width="10.3" height="8.8" fill="#fcfdfd"/><rect x="518.2" y="1097.8" width="10.3" height="8.8" fill="#fbfdfd"/><rect x="528.2" y="1097.8" width="10.3" height="8.8" fill="#fafcfc"/><rect x="538.2" y="1097.8" width="10.3" height="8.8" fill="#edf6f6"/><rect x="548.3" y="1097.8" width="10.3" height="8.8" fill="#a0d1d1"/><rect x="558.3" y="1097.8" width="10.3" height="8.8" fill="#eff7f7"/><rect x="588.4" y="1097.8" width="10.3" height="8.8" fill="#f9fcfc"/><rect x="608.5" y="1097.8" width="10.3" height="8.8" fill="#f9fcfc"/><rect x="618.6" y="1097.8" width="10.3" height="8.8" fill="#fafcfc"/><rect x="628.6" y="1097.8" width="3.7" height="8.8" fill="#fafdfd"/><rect x="478" y="1106.4" width="10.3" height="8.8" fill="#f9fcfc"/><rect x="488" y="1106.4" width="10.3" height="8.8" fill="#f9fcfc"/><rect x="498.1" y="1106.4" width="10.3" height="8.8" fill="#f9fcfc"/><rect x="518.2" y="1106.4" width="10.3" height="8.8" fill="#fafdfd"/><rect x="538.2" y="1106.4" width="10.3" height="8.8" fill="#d7ebeb"/><rect x="548.3" y="1106.4" width="10.3" height="8.8" fill="#000"/><rect x="558.3" y="1106.4" width="10.3" height="8.8" fill="#d7ebeb"/><rect x="568.4" y="1106.4" width="10.3" height="8.8" fill="#fafcfc"/><rect x="578.4" y="1106.4" width="10.3" height="8.8" fill="#fafdfd"/><rect x="588.4" y="1106.4" width="10.3" height="8.8" fill="#f9fcfc"/><rect x="608.5" y="1106.4" width="10.3" height="8.8" fill="#fafdfd"/><rect x="628.6" y="1106.4" width="3.7" height="8.8" fill="#fbfdfd"/><rect x="474.5" y="1114.9" width="3.8" height="8.8" fill="#f9fcfc"/><rect x="478" y="1114.9" width="10.3" height="8.8" fill="#fbfdfd"/><rect x="488" y="1114.9" width="10.3" height="8.8" fill="#f9fcfc"/><rect x="538.2" y="1114.9" width="10.3" height="8.8" fill="#edf6f6"/><rect x="548.3" y="1114.9" width="10.3" height="8.8" fill="#5bb0b0"/><rect x="558.3" y="1114.9" width="10.3" height="8.8" fill="#eff7f7"/><rect x="568.4" y="1114.9" width="10.3" height="8.8" fill="#fafdfd"/><rect x="598.5" y="1114.9" width="10.3" height="8.8" fill="#fbfdfd"/><rect x="618.6" y="1114.9" width="10.3" height="8.8" fill="#f9fcfc"/><rect x="628.6" y="1114.9" width="3.7" height="8.8" fill="#fbfdfd"/><rect x="488" y="1123.4" width="10.3" height="8.8" fill="#f9fcfc"/><rect x="508.1" y="1123.4" width="10.3" height="8.8" fill="#fbfdfd"/><rect x="518.2" y="1123.4" width="10.3" height="8.8" fill="#f9fcfc"/><rect x="528.2" y="1123.4" width="10.3" height="8.8" fill="#fafdfd"/><rect x="538.2" y="1123.4" width="10.3" height="8.8" fill="#edf6f6"/><rect x="548.3" y="1123.4" width="10.3" height="8.8" fill="#a0d1d1"/><rect x="558.3" y="1123.4" width="10.3" height="8.8" fill="#eff7f7"/><rect x="578.4" y="1123.4" width="10.3" height="8.8" fill="#fafdfd"/><rect x="588.4" y="1123.4" width="10.3" height="8.8" fill="#fbfdfd"/><rect x="598.5" y="1123.4" width="10.3" height="8.8" fill="#f9fcfc"/><rect x="608.5" y="1123.4" width="10.3" height="8.8" fill="#fbfdfd"/><rect x="618.6" y="1123.4" width="10.3" height="8.8" fill="#fafcfc"/><rect x="628.6" y="1123.4" width="3.7" height="8.8" fill="#f9fcfc"/><rect x="474.5" y="1131.9" width="3.8" height="8.8" fill="#f9fcfc"/><rect x="478" y="1131.9" width="10.3" height="8.8" fill="#f9fcfc"/><rect x="488" y="1131.9" width="10.3" height="8.8" fill="#f9fcfc"/><rect x="498.1" y="1131.9" width="10.3" height="8.8" fill="#fbfdfd"/><rect x="528.2" y="1131.9" width="10.3" height="8.8" fill="#fbfdfd"/><rect x="538.2" y="1131.9" width="10.3" height="8.8" fill="#edf6f6"/><rect x="548.3" y="1131.9" width="10.3" height="8.8" fill="#71baba"/><rect x="558.3" y="1131.9" width="10.3" height="8.8" fill="#eff7f7"/><rect x="568.4" y="1131.9" width="10.3" height="8.8" fill="#fcfdfd"/><rect x="588.4" y="1131.9" width="10.3" height="8.8" fill="#fafdfd"/><rect x="598.5" y="1131.9" width="10.3" height="8.8" fill="#f9fcfc"/><rect x="608.5" y="1131.9" width="10.3" height="8.8" fill="#f9fcfc"/><rect x="628.6" y="1131.9" width="3.7" height="8.8" fill="#fbfdfd"/><rect x="474.5" y="1140.5" width="3.8" height="0.8" fill="#f9fcfc"/><rect x="478" y="1140.5" width="10.3" height="0.8" fill="#fbfdfd"/><rect x="488" y="1140.5" width="10.3" height="0.8" fill="#f9fcfc"/><rect x="498.1" y="1140.5" width="10.3" height="0.8" fill="#fbfdfd"/><rect x="508.1" y="1140.5" width="10.3" height="0.8" fill="#fbfdfd"/><rect x="518.2" y="1140.5" width="10.3" height="0.8" fill="#f9fcfc"/><rect x="528.2" y="1140.5" width="10.3" height="0.8" fill="#f9fcfc"/><rect x="538.2" y="1140.5" width="10.3" height="0.8" fill="#fafdfd"/><rect x="548.3" y="1140.5" width="10.3" height="0.8" fill="#f9fcfc"/><rect x="558.3" y="1140.5" width="10.3" height="0.8" fill="#fafdfd"/><rect x="568.4" y="1140.5" width="10.3" height="0.8" fill="#f9fcfc"/><rect x="608.5" y="1140.5" width="10.3" height="0.8" fill="#fafdfd"/><rect x="618.6" y="1140.5" width="10.3" height="0.8" fill="#fafcfc"/>
<rect x="474.5" y="1012.6" width="157.5" height="128.4" fill="none" stroke="#555" stroke-width="1.3"/>
<line x1="517" y1="1141" x2="517" y2="1135" stroke="#333" stroke-width="1.1"/>
<line x1="553.1" y1="1141" x2="553.1" y2="1135" stroke="#333" stroke-width="1.1"/>
<line x1="599.9" y1="1141" x2="599.9" y2="1135" stroke="#333" stroke-width="1.1"/>
<line x1="632" y1="1023.7" x2="626" y2="1023.7" stroke="#333" stroke-width="1.1"/>
<line x1="632" y1="1076.5" x2="626" y2="1076.5" stroke="#333" stroke-width="1.1"/>
<line x1="632" y1="1130.7" x2="626" y2="1130.7" stroke="#333" stroke-width="1.1"/>
<defs><linearGradient id="cbT2" x1="0" y1="1" x2="0" y2="0"><stop offset="0" stop-color="#fff"/><stop offset="1" stop-color="#0b8989"/></linearGradient></defs>
<rect x="486.1" y="1029.7" width="14.5" height="60" fill="url(#cbT2)"/>
<rect x="486.1" y="1023.7" width="14.5" height="6" fill="#000"/>
<rect x="486.1" y="1023.7" width="14.5" height="66" fill="none" stroke="#222" stroke-width="1.2"/>
<line x1="500.6" y1="1059.7" x2="494.6" y2="1059.7" stroke="#444" stroke-width="1.1"/>
<text x="507.39" y="1028.70" font-size="15.80" textLength="28.01" lengthAdjust="spacingAndGlyphs" fill="#1a1a1a">&gt;1.0</text>
<text x="507.23" y="1064.45" font-size="15.21" textLength="23.35" lengthAdjust="spacingAndGlyphs" fill="#1a1a1a">0.5</text>
<text x="507.14" y="1094.45" font-size="15.21" textLength="10.54" lengthAdjust="spacingAndGlyphs" fill="#1a1a1a">0</text>
<text x="597.17" y="1121.82" font-size="18.18" fill="#1a1a1a">c</text>
<text x="606.99" y="1126.77" font-size="12.68" fill="#1a1a1a">3</text>
<text x="640.59" y="1028.50" font-size="15.65" textLength="6.01" lengthAdjust="spacingAndGlyphs" fill="#1a1a1a">1</text>
<text x="641.23" y="1082.04" font-size="15.63" textLength="10.66" lengthAdjust="spacingAndGlyphs" fill="#1a1a1a">0</text>
<text x="641.00" y="1135.20" font-size="15.07" textLength="13.75" lengthAdjust="spacingAndGlyphs" fill="#1a1a1a">−1</text>
<text transform="translate(666.5 1047.5) rotate(90)" font-size="18.5" fill="#1a1a1a" textLength="58.5" lengthAdjust="spacingAndGlyphs"><tspan font-style="italic">k</tspan><tspan font-style="italic" font-size="12" dy="4">ϕ</tspan><tspan dy="-4"> rad</tspan><tspan font-size="12" dy="-7">−1</tspan></text>
<text x="503.12" y="1159.50" font-size="15.00" textLength="26.34" lengthAdjust="spacingAndGlyphs" fill="#1a1a1a">−20</text>
<text x="548.27" y="1159.35" font-size="14.79" textLength="10.20" lengthAdjust="spacingAndGlyphs" fill="#1a1a1a">0</text>
<text x="589.37" y="1159.35" font-size="14.79" textLength="18.45" lengthAdjust="spacingAndGlyphs" fill="#1a1a1a">20</text>
<text x="525.83" y="1183.88" font-size="17.22" textLength="44.12" lengthAdjust="spacingAndGlyphs" fill="#1a1a1a"><tspan font-style="italic">f</tspan> (Hz)</text>
</svg></body></html>
